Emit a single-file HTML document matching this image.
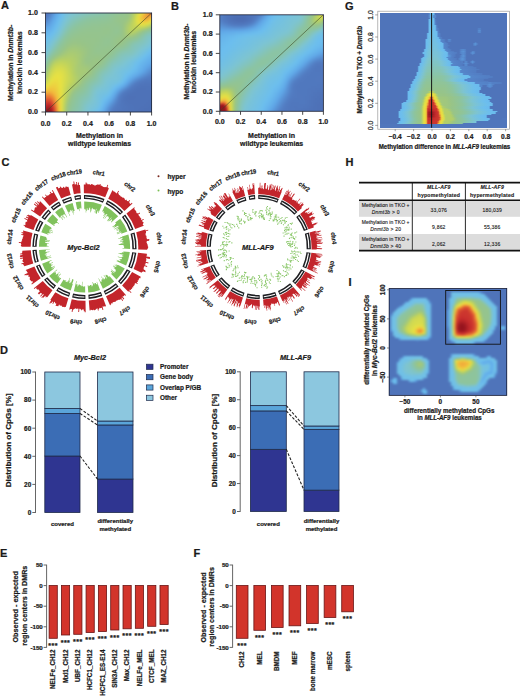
<!DOCTYPE html>
<html><head><meta charset="utf-8"><style>
html,body{margin:0;padding:0;background:#fff}
body{width:520px;height:698px;position:relative;overflow:hidden;font-family:"Liberation Sans",sans-serif}
svg{position:absolute;left:0;top:0}
text{stroke:#1a1a1a;stroke-width:0.22px}
text.t{stroke-width:0.12px;letter-spacing:0.2px}
</style></head><body>
<div style="position:absolute;left:45.50px;top:13.00px;width:106.10px;height:99.00px;overflow:hidden"><div style="position:absolute;left:-3px;top:-3px;width:112.10px;filter:blur(0.90px)"><div style="height:2.00px;background:linear-gradient(90deg,#4f74ba,#4f74ba,#5076bc,#517ac0,#5484c9,#5890d3,#5c9cde,#60a9e8,#65b1ea,#69b8ec,#6dbeed,#72c0e5,#76c1de,#79c2d9,#7bc3d6,#7cc4d3,#7dc4d1,#7ec4ce,#7fc4cc,#80c4c9,#81c4c5,#82c4c2,#83c4bf,#84c4bc,#84c4ba,#85c4b8,#85c4b6,#86c4b4,#87c4b2,#87c4af,#88c4ad,#89c4a9,#8ac4a6,#8bc4a3,#8cc4a0,#8dc49e,#8ec49c,#8fc49a,#90c498,#91c496,#92c494,#93c491,#95c48e,#97c48a,#9bc583,#a4c97a,#afcd6e,#bbd260,#c8d757,#d7dc4d,#e7e243,#ebd440,#efc53e,#f1b03b,#ec8e37,#e76d34,#df5d32,#df5d32)"></div><div style="height:2.00px;background:linear-gradient(90deg,#4f74ba,#4f74ba,#5076bc,#517ac0,#5484c9,#5890d3,#5c9cde,#60a9e8,#65b1ea,#69b8ec,#6dbeed,#72c0e5,#76c1de,#79c2d9,#7bc3d6,#7cc4d3,#7dc4d1,#7ec4ce,#7fc4cc,#80c4c9,#81c4c5,#82c4c2,#83c4bf,#84c4bc,#84c4ba,#85c4b8,#85c4b6,#86c4b4,#87c4b2,#87c4af,#88c4ad,#89c4a9,#8ac4a6,#8bc4a3,#8cc4a0,#8dc49e,#8ec49c,#8fc49a,#90c498,#91c496,#92c494,#93c491,#95c48e,#97c48a,#9bc583,#a4c97a,#afcd6e,#bbd260,#c8d757,#d7dc4d,#e7e243,#ebd440,#efc53e,#f1b03b,#ec8e37,#e76d34,#df5d32,#df5d32)"></div><div style="height:2.00px;background:linear-gradient(90deg,#5076bc,#5076bc,#5178be,#537fc4,#578ace,#5a96d9,#5ea3e3,#62ace9,#67b4eb,#6abbed,#6fbfe9,#74c1e2,#77c2db,#7bc3d6,#7dc4d2,#7ec4cd,#80c4ca,#81c4c6,#82c4c3,#83c4bf,#84c4bc,#85c4b8,#86c4b5,#87c4b2,#87c4af,#88c4ad,#89c4ac,#89c4aa,#8ac4a8,#8ac4a7,#8bc4a5,#8bc4a3,#8cc4a0,#8dc49e,#8ec49c,#8fc49a,#90c497,#92c494,#93c492,#94c490,#94c48f,#95c48e,#96c48c,#97c489,#9bc583,#a5c978,#b3cf69,#c4d55a,#d6db4e,#e8e142,#ecd03f,#f0c13d,#f0ad3b,#ed9838,#ec8c37,#ec8e37,#ed9338,#ed9338)"></div><div style="height:2.00px;background:linear-gradient(90deg,#5179bf,#5179bf,#527bc1,#5585ca,#5991d4,#5c9dde,#60a8e8,#64b0ea,#68b7ec,#6cbeee,#71c0e6,#76c1de,#79c3d8,#7dc4d3,#7fc4cc,#80c4c7,#82c4c2,#83c4be,#84c4bb,#85c4b7,#86c4b3,#87c4af,#88c4ac,#89c4a9,#8ac4a7,#8bc4a5,#8bc4a3,#8cc4a1,#8cc4a0,#8cc49f,#8dc49f,#8dc49e,#8ec49d,#8ec49b,#8fc499,#91c496,#92c493,#93c490,#95c48e,#96c48c,#96c48b,#96c48b,#97c48a,#98c487,#9ec680,#a9ca74,#b8d063,#cad756,#dede49,#ead941,#eec83e,#f2b93c,#efa33a,#ee9838,#ee9d39,#f2b53c,#f0c03d,#f0c03d)"></div><div style="height:2.00px;background:linear-gradient(90deg,#527dc3,#527dc3,#5482c7,#578cd0,#5b97d9,#5ea3e3,#62ace9,#66b3eb,#6abaed,#6ebfea,#73c1e2,#78c2db,#7cc4d4,#7ec4cd,#81c4c6,#82c4c0,#84c4bb,#85c4b7,#86c4b3,#88c4af,#89c4ab,#8ac4a7,#8bc4a4,#8cc4a1,#8cc49f,#8dc49e,#8dc49d,#8ec49c,#8ec49c,#8ec49b,#8fc49b,#8fc49a,#8fc499,#90c498,#91c496,#92c494,#93c491,#94c48f,#95c48c,#96c48a,#97c489,#97c489,#98c487,#9bc583,#a2c87c,#adcc70,#bdd25f,#ced953,#e1e046,#ebd740,#eec83e,#f1bc3c,#f1af3b,#f0ad3b,#f1bb3c,#edcc3f,#ebd740,#ebd740)"></div><div style="height:2.00px;background:linear-gradient(90deg,#5585ca,#5585ca,#5689ce,#5993d6,#5d9ddf,#60a8e8,#64afea,#68b6ec,#6cbdee,#70c0e7,#75c1df,#7ac3d7,#7ec4d0,#80c4c7,#83c4bf,#84c4b9,#86c4b4,#87c4af,#89c4ab,#8ac4a7,#8bc4a3,#8cc4a0,#8dc49e,#8ec49d,#8ec49b,#8fc49a,#8fc499,#8fc499,#90c498,#90c498,#90c497,#90c497,#91c496,#91c495,#92c494,#93c492,#94c490,#95c48e,#96c48c,#96c48a,#97c489,#98c487,#9bc584,#a0c77e,#a7ca76,#b2ce6a,#c0d45c,#d0d952,#e0df47,#eadb41,#edcf3f,#efc63e,#f0c23d,#efc53e,#edcf3f,#e8e242,#dbdd4b,#dbdd4b)"></div><div style="height:2.00px;background:linear-gradient(90deg,#588ed2,#588ed2,#5992d5,#5c9adc,#5fa4e4,#62ace9,#66b2eb,#69b9ed,#6ebfeb,#73c0e3,#78c2db,#7cc4d3,#80c4ca,#82c4c0,#85c4b9,#86c4b2,#88c4ad,#8ac4a8,#8bc4a4,#8cc4a0,#8dc49e,#8ec49c,#8fc49a,#8fc499,#90c498,#90c497,#91c496,#91c496,#91c495,#91c495,#92c494,#92c494,#92c493,#93c492,#93c492,#93c491,#94c490,#94c48f,#95c48d,#96c48b,#97c489,#99c486,#9ec680,#a4c979,#adcc70,#b7d065,#c3d45b,#cfd952,#dcde4a,#e7e243,#eadb41,#ebd640,#ebd640,#eadb41,#e4e145,#d0d952,#c4d55a,#c4d55a)"></div><div style="height:2.00px;background:linear-gradient(90deg,#5b97da,#5b97da,#5c9adc,#5ea1e2,#61a9e8,#64afea,#67b6ec,#6bbcee,#70bfe8,#75c1df,#7ac3d7,#7ec4ce,#81c4c3,#84c4ba,#87c4b2,#89c4ac,#8ac4a6,#8cc4a2,#8dc49e,#8ec49c,#8fc49a,#90c498,#90c497,#91c496,#91c495,#92c494,#92c494,#92c494,#92c493,#92c493,#93c492,#93c491,#93c491,#94c490,#94c490,#94c490,#94c490,#94c490,#94c48f,#95c48d,#97c48a,#9ac585,#a1c77d,#a9ca74,#b1ce6b,#bad161,#c4d55a,#ccd854,#d4db4f,#dadd4b,#dede49,#dfdf48,#dcde4a,#d5db4f,#c9d756,#b8d064,#adcc6f,#adcc6f)"></div><div style="height:2.00px;background:linear-gradient(90deg,#5ea1e2,#5ea1e2,#5ea3e4,#60a9e8,#63ade9,#66b3eb,#69b9ed,#6dbeec,#72c0e4,#77c2db,#7cc4d3,#80c4c8,#83c4bd,#86c4b3,#89c4ab,#8bc4a5,#8cc4a0,#8dc49d,#8fc49a,#90c498,#91c497,#91c495,#92c494,#92c493,#92c493,#93c492,#93c492,#93c492,#93c491,#93c491,#94c490,#94c48f,#94c48f,#94c48e,#94c48f,#94c490,#94c490,#93c491,#94c490,#94c48e,#96c48a,#9bc584,#a3c87b,#accc71,#b5cf67,#bdd25f,#c3d45b,#c7d658,#cad756,#cbd755,#cad756,#c6d658,#c1d45c,#b9d163,#aecd6f,#a0c77e,#99c486,#99c486)"></div><div style="height:2.00px;background:linear-gradient(90deg,#61a9e8,#61a9e8,#61aae9,#63ade9,#65b1eb,#68b6ec,#6bbcee,#6fbfe8,#75c1e0,#7ac3d7,#7ec4cd,#82c4c1,#85c4b6,#88c4ac,#8bc4a5,#8cc49f,#8ec49c,#8fc499,#90c497,#91c495,#92c494,#93c492,#93c492,#93c491,#93c491,#93c490,#93c490,#94c490,#94c490,#94c48f,#94c48f,#95c48e,#95c48d,#95c48d,#95c48e,#94c48f,#93c491,#93c492,#93c492,#94c490,#96c48b,#9bc584,#a4c979,#aecc6f,#b6d065,#bcd25f,#bfd35d,#c0d35c,#bed35e,#bad161,#b5cf67,#aecc6f,#a6c978,#9dc681,#96c48a,#93c491,#91c495,#91c495)"></div><div style="height:2.00px;background:linear-gradient(90deg,#64afea,#64afea,#64afea,#65b2eb,#67b5ec,#6abaed,#6dbeec,#72c0e4,#77c2db,#7cc4d3,#81c4c6,#84c4ba,#88c4af,#8ac4a6,#8dc49f,#8ec49b,#90c498,#91c496,#92c494,#93c492,#93c491,#94c490,#94c490,#94c48f,#94c48f,#94c48f,#94c48f,#94c48f,#94c48f,#94c48f,#95c48e,#95c48d,#95c48d,#95c48d,#95c48e,#94c48f,#93c491,#93c492,#93c492,#94c490,#96c48b,#9bc584,#a4c979,#aecc6f,#b5cf67,#b9d162,#b9d162,#b6d065,#b1ce6c,#a9cb74,#a0c77e,#97c488,#94c490,#91c496,#8ec49c,#8cc4a0,#8bc4a2,#8bc4a2)"></div><div style="height:2.00px;background:linear-gradient(90deg,#66b3eb,#66b3eb,#66b4eb,#68b6ec,#6abaed,#6cbeee,#70c0e7,#75c1df,#7ac3d7,#7fc4cc,#83c4bf,#86c4b3,#8ac4a8,#8cc49f,#8fc49b,#90c497,#91c495,#92c493,#93c491,#94c490,#94c48f,#94c48f,#95c48e,#95c48e,#95c48e,#95c48e,#95c48e,#95c48e,#95c48e,#95c48e,#95c48e,#95c48d,#95c48d,#95c48e,#94c48e,#94c490,#93c491,#93c492,#93c491,#94c48f,#96c48b,#9bc584,#a3c87a,#abcb72,#b0cd6c,#b2ce6a,#b0cd6c,#abcb72,#a3c87b,#99c486,#94c48f,#90c497,#8cc49f,#89c4a9,#87c4b0,#86c4b2,#87c4b2,#87c4b2)"></div><div style="height:2.00px;background:linear-gradient(90deg,#69b8ec,#69b8ec,#69b8ec,#6abaed,#6cbeee,#70bfe8,#74c1e1,#78c2d9,#7dc4d1,#81c4c4,#85c4b7,#89c4ab,#8cc4a1,#8ec49b,#90c497,#92c494,#93c491,#94c490,#94c48f,#95c48e,#95c48d,#95c48d,#95c48d,#95c48d,#95c48d,#95c48d,#95c48d,#95c48d,#95c48e,#95c48e,#95c48e,#95c48e,#94c48e,#94c48f,#94c48f,#94c490,#94c490,#94c490,#94c48f,#95c48d,#97c489,#9bc584,#a1c77d,#a5c978,#a8ca75,#a8ca76,#a4c97a,#9dc681,#97c48a,#93c492,#8fc49a,#8bc4a3,#88c4ae,#85c4b7,#83c4bd,#83c4bf,#83c4be,#83c4be)"></div><div style="height:2.00px;background:linear-gradient(90deg,#6bbced,#6bbced,#6bbced,#6cbeed,#6fbfe9,#73c0e2,#77c2db,#7cc4d4,#80c4c8,#84c4bb,#88c4af,#8bc4a3,#8ec49c,#90c497,#92c493,#94c490,#94c48f,#95c48d,#95c48d,#95c48c,#96c48c,#96c48c,#95c48c,#95c48c,#95c48c,#95c48d,#95c48d,#95c48d,#95c48d,#95c48e,#94c48e,#94c48f,#94c490,#94c490,#94c490,#94c490,#94c48f,#95c48d,#96c48c,#97c48a,#98c487,#9ac584,#9dc682,#9ec681,#9dc681,#9bc584,#97c489,#95c48e,#92c494,#8ec49b,#8bc4a4,#88c4ae,#85c4b8,#82c4c0,#81c4c5,#80c4c8,#80c4c8,#80c4c8)"></div><div style="height:2.00px;background:linear-gradient(90deg,#6dbeed,#6dbeed,#6dbeec,#70bfe8,#73c0e3,#77c2dd,#7bc3d6,#7fc4cb,#83c4bf,#86c4b2,#8ac4a7,#8dc49d,#90c497,#92c493,#94c48f,#95c48d,#96c48c,#96c48b,#96c48b,#96c48b,#96c48b,#96c48b,#96c48c,#96c48c,#96c48c,#96c48c,#96c48c,#95c48c,#95c48d,#95c48e,#94c48f,#93c490,#93c491,#93c492,#93c491,#94c490,#95c48e,#96c48b,#97c489,#98c487,#99c486,#99c486,#98c487,#97c489,#95c48c,#94c490,#92c494,#8fc499,#8dc49e,#8ac4a6,#88c4ae,#85c4b6,#83c4bd,#81c4c4,#7fc4ca,#7ec4ce,#7ec4d0,#7ec4d0)"></div><div style="height:2.00px;background:linear-gradient(90deg,#6fbfea,#6fbfea,#70bfe8,#72c0e3,#76c1de,#7ac3d7,#7ec4ce,#82c4c2,#85c4b6,#89c4aa,#8cc49f,#90c499,#92c493,#94c48f,#96c48c,#97c48a,#97c489,#97c489,#97c489,#97c489,#97c48a,#96c48a,#96c48b,#96c48b,#96c48b,#96c48c,#96c48c,#95c48c,#95c48d,#94c48e,#94c490,#93c491,#93c492,#92c493,#93c492,#94c490,#95c48d,#97c48a,#98c487,#99c585,#99c486,#97c489,#95c48c,#93c491,#91c496,#8fc49a,#8dc49f,#8bc4a4,#89c4aa,#87c4b0,#85c4b6,#84c4bb,#82c4c1,#80c4c7,#7fc4cd,#7cc4d3,#7bc3d5,#7bc3d5)"></div><div style="height:2.00px;background:linear-gradient(90deg,#71c0e7,#71c0e7,#72c0e4,#75c1df,#79c3d9,#7dc4d2,#81c4c6,#84c4ba,#88c4ad,#8bc4a2,#8fc49a,#92c494,#94c48f,#96c48b,#97c489,#98c487,#99c486,#99c486,#98c487,#98c487,#97c488,#97c489,#97c48a,#96c48a,#96c48b,#96c48c,#96c48c,#95c48d,#95c48e,#94c48f,#94c490,#93c492,#93c492,#92c492,#93c491,#94c48f,#95c48c,#97c48a,#98c488,#98c487,#97c489,#95c48d,#93c492,#90c498,#8dc49d,#8bc4a4,#89c4ab,#87c4b0,#86c4b5,#85c4b9,#83c4bc,#82c4c0,#81c4c5,#7fc4cb,#7dc4d1,#7ac3d7,#78c2da,#78c2da)"></div><div style="height:2.00px;background:linear-gradient(90deg,#72c0e4,#72c0e4,#74c1e1,#77c2db,#7cc4d4,#7fc4ca,#83c4be,#87c4b1,#8ac4a5,#8ec49c,#91c495,#94c490,#96c48b,#98c488,#9ac585,#9cc583,#9cc683,#9cc583,#9bc584,#9ac585,#99c486,#98c487,#97c488,#97c489,#96c48a,#96c48b,#95c48c,#95c48d,#94c48e,#94c48f,#94c490,#93c491,#93c491,#93c491,#94c490,#94c48f,#95c48d,#96c48b,#96c48b,#96c48b,#95c48e,#93c492,#90c498,#8dc49d,#8bc4a5,#88c4ad,#86c4b3,#85c4b8,#84c4bc,#83c4bf,#82c4c3,#80c4c6,#7fc4cb,#7dc4d1,#7bc3d6,#77c2dc,#75c1df,#75c1df)"></div><div style="height:2.00px;background:linear-gradient(90deg,#74c1e1,#74c1e1,#76c1de,#7ac3d7,#7ec4ce,#82c4c2,#86c4b5,#89c4a9,#8dc49e,#90c497,#93c491,#96c48c,#98c487,#9cc583,#9ec680,#9fc77f,#9fc77f,#9fc77f,#9ec680,#9dc682,#9bc583,#9ac585,#98c487,#97c488,#97c48a,#96c48b,#95c48d,#95c48e,#94c48f,#94c490,#94c490,#94c490,#94c490,#94c48f,#94c48f,#95c48e,#95c48e,#94c48f,#94c490,#93c492,#91c495,#8fc499,#8dc49e,#8bc4a4,#89c4ab,#87c4b2,#85c4b7,#84c4bc,#82c4c0,#81c4c4,#80c4c9,#7ec4cd,#7dc4d3,#7ac3d7,#77c2dc,#73c1e2,#71c0e5,#71c0e5)"></div><div style="height:2.00px;background:linear-gradient(90deg,#75c1df,#75c1df,#77c2db,#7cc4d3,#80c4c6,#84c4b9,#88c4ad,#8cc4a1,#8fc499,#93c492,#95c48c,#98c488,#9cc682,#a0c77e,#a2c87c,#a3c87b,#a3c87b,#a2c87c,#a1c77d,#9fc77f,#9ec681,#9cc583,#9ac585,#98c487,#97c489,#96c48b,#95c48d,#94c48f,#94c490,#94c490,#94c48f,#94c48e,#95c48e,#95c48d,#95c48d,#94c48f,#93c490,#92c493,#91c496,#8fc499,#8ec49d,#8cc4a0,#8ac4a6,#89c4ab,#87c4b0,#86c4b6,#84c4bb,#83c4bf,#81c4c4,#80c4ca,#7ec4cf,#7cc4d4,#79c3d8,#76c2dd,#73c1e2,#70bfe8,#6ebfeb,#6ebfeb)"></div><div style="height:2.00px;background:linear-gradient(90deg,#77c2dc,#77c2dc,#7ac3d7,#7fc4cc,#83c4bd,#87c4b0,#8bc4a3,#8fc49a,#92c493,#95c48d,#98c488,#9dc682,#a1c77d,#a4c97a,#a5c978,#a6c977,#a6c978,#a5c979,#a3c87b,#a1c87c,#9fc77f,#9dc681,#9bc584,#98c487,#97c489,#96c48b,#95c48d,#94c48e,#94c48f,#94c48f,#95c48e,#95c48d,#95c48c,#95c48c,#95c48d,#94c490,#92c494,#90c498,#8ec49c,#8cc4a1,#8ac4a7,#89c4ab,#88c4af,#87c4b2,#86c4b5,#84c4b9,#83c4be,#82c4c3,#80c4c9,#7ec4cf,#7bc3d5,#79c2d9,#76c1de,#72c0e3,#6fbfe9,#6cbeee,#6bbced,#6bbced)"></div><div style="height:2.00px;background:linear-gradient(90deg,#79c3d8,#79c3d8,#7dc4d3,#82c4c2,#86c4b3,#8bc4a4,#8fc49b,#92c493,#95c48d,#98c487,#9ec681,#a2c87c,#a6c978,#a8ca75,#a9cb74,#a9cb74,#a8ca75,#a7ca76,#a5c978,#a3c87b,#a1c77e,#9ec681,#9bc584,#98c487,#97c489,#96c48b,#95c48c,#95c48d,#95c48e,#95c48e,#95c48d,#95c48c,#96c48c,#95c48d,#94c48f,#92c493,#90c498,#8dc49d,#8bc4a4,#89c4ab,#87c4b1,#86c4b4,#85c4b7,#85c4b9,#84c4bb,#83c4be,#82c4c3,#80c4c8,#7ec4cf,#7bc3d5,#78c2da,#75c1df,#72c0e4,#6fbfea,#6cbdee,#6ab9ed,#69b8ec,#69b8ec)"></div><div style="height:2.00px;background:linear-gradient(90deg,#7cc4d4,#7cc4d4,#7fc4cb,#85c4b7,#8ac4a6,#8fc49a,#93c492,#96c48b,#9ac585,#a0c77e,#a5c979,#a8ca75,#aacb73,#accc71,#accc70,#accc71,#abcb72,#a9cb74,#a7ca77,#a4c97a,#a1c77d,#9dc681,#9ac584,#98c487,#97c489,#97c48a,#96c48b,#96c48b,#96c48b,#96c48b,#96c48c,#96c48c,#95c48d,#94c48f,#92c493,#90c497,#8ec49c,#8bc4a3,#89c4ac,#86c4b3,#85c4b8,#84c4bb,#83c4be,#83c4c0,#82c4c2,#81c4c5,#7fc4ca,#7ec4d0,#7bc3d5,#78c2da,#75c1df,#72c0e5,#6ebfea,#6bbdee,#69b9ed,#67b6ec,#67b4eb,#67b4eb)"></div><div style="height:2.00px;background:linear-gradient(90deg,#7fc4cc,#7fc4cc,#82c4c1,#89c4aa,#8fc49b,#93c491,#97c489,#9ec680,#a4c979,#a9cb74,#accc71,#aecd6e,#afcd6d,#b0cd6d,#b0cd6d,#afcd6e,#adcc70,#abcb72,#a8ca75,#a4c979,#a0c77e,#9dc682,#99c586,#98c488,#97c489,#97c489,#97c489,#97c488,#97c488,#97c489,#96c48a,#95c48d,#94c490,#92c493,#90c498,#8ec49d,#8bc4a3,#89c4ab,#87c4b2,#85c4b9,#83c4bd,#82c4c1,#81c4c4,#80c4c7,#80c4ca,#7ec4ce,#7dc4d3,#7ac3d7,#77c2db,#74c1e0,#71c0e6,#6ebfeb,#6bbdee,#69b9ed,#67b5ec,#66b2eb,#65b1ea,#65b1ea)"></div><div style="height:2.00px;background:linear-gradient(90deg,#81c4c3,#81c4c3,#85c4b6,#8dc49e,#93c491,#98c487,#a2c87c,#a9cb74,#afcd6e,#b2ce6a,#b4cf68,#b4cf67,#b4cf68,#b4cf68,#b3ce6a,#b1ce6b,#afcd6e,#accc71,#a8ca75,#a4c979,#a0c77e,#9cc583,#99c486,#97c488,#97c488,#98c488,#98c487,#99c486,#99c486,#98c487,#96c48a,#94c48e,#92c493,#90c498,#8dc49e,#8bc4a4,#89c4ab,#87c4b2,#85c4b8,#83c4bd,#82c4c2,#81c4c6,#80c4ca,#7ec4cd,#7dc4d2,#7bc3d5,#79c3d9,#76c2dd,#73c1e2,#70c0e7,#6dbfec,#6bbced,#69b8ec,#67b5ec,#65b2eb,#64afea,#63aeea,#63aeea)"></div><div style="height:2.00px;background:linear-gradient(90deg,#85c4b9,#85c4b9,#89c4aa,#91c496,#98c488,#a4c97a,#aecc6f,#b5cf67,#b9d163,#bbd260,#bbd260,#bbd160,#b9d162,#b7d064,#b5cf66,#b3ce69,#b0cd6c,#adcc70,#a9cb74,#a4c979,#a0c77e,#9cc583,#99c486,#98c488,#98c488,#98c487,#9ac585,#9bc584,#9ac584,#98c487,#96c48c,#93c491,#90c497,#8dc49e,#8ac4a6,#88c4ad,#86c4b4,#85c4b9,#83c4be,#82c4c2,#81c4c6,#7fc4ca,#7ec4cf,#7cc4d3,#7ac3d7,#78c2da,#75c1df,#73c0e3,#70bfe8,#6dbeec,#6bbced,#69b8ec,#67b4eb,#65b1eb,#63aeea,#62ace9,#61abe9,#61abe9)"></div><div style="height:2.00px;background:linear-gradient(90deg,#88c4ae,#88c4ae,#8cc49f,#95c48d,#a2c87c,#afcd6d,#b9d163,#bfd35d,#c2d45b,#c3d55a,#c3d45b,#c1d45c,#bed35e,#bbd260,#b8d064,#b4cf68,#b1ce6c,#adcc70,#a9cb74,#a4c979,#a0c77e,#9dc682,#9ac585,#99c486,#99c486,#99c585,#9ac584,#9ac584,#99c486,#97c48a,#94c48f,#91c495,#8ec49c,#8bc4a5,#88c4ae,#86c4b5,#84c4bb,#83c4c0,#81c4c4,#80c4c7,#7fc4cb,#7ec4d0,#7cc4d4,#7ac3d7,#78c2db,#75c1df,#73c0e3,#70bfe8,#6dbeec,#6bbced,#69b8ec,#67b4eb,#65b1ea,#63aeea,#61abe9,#60a8e8,#5fa6e7,#5fa6e7)"></div><div style="height:2.00px;background:linear-gradient(90deg,#8bc4a2,#8bc4a2,#90c498,#9ac585,#accc71,#b9d162,#c2d45b,#c8d657,#cad755,#cbd755,#c9d756,#c6d658,#c3d45b,#bed35d,#bad161,#b5cf66,#b1ce6b,#adcc70,#a9ca75,#a5c979,#a2c87c,#9fc77f,#9dc681,#9cc583,#9bc584,#9ac585,#99c486,#98c488,#96c48a,#94c48e,#92c494,#8fc49a,#8bc4a2,#88c4ac,#86c4b5,#84c4bc,#82c4c2,#81c4c6,#7fc4ca,#7ec4cd,#7dc4d1,#7cc4d4,#7ac3d7,#78c2da,#76c1de,#73c1e2,#71c0e6,#6ebfeb,#6bbdee,#69b9ed,#67b5ec,#65b1eb,#63aeea,#61aae9,#5fa6e7,#5ea2e2,#5da0e1,#5da0e1)"></div><div style="height:2.00px;background:linear-gradient(90deg,#8fc49a,#8fc49a,#94c490,#a3c87b,#b4cf67,#c1d45c,#cad756,#cfd952,#d2da51,#d2da51,#d0d952,#ccd855,#c7d658,#c2d45b,#bcd25f,#b6d065,#b1ce6b,#accc71,#a8ca75,#a6c978,#a4c97a,#a2c87c,#a1c77d,#9fc77f,#9dc681,#9ac585,#97c488,#96c48c,#94c490,#91c495,#8fc49a,#8cc4a1,#89c4aa,#86c4b3,#84c4bb,#82c4c1,#80c4c7,#7fc4cc,#7ec4d0,#7cc4d3,#7bc3d6,#79c3d8,#78c2db,#76c1de,#74c1e1,#72c0e5,#6fbfe9,#6cbeee,#6abaed,#68b6ec,#66b2eb,#63aeea,#61aae9,#5fa6e6,#5da0e1,#5c9bdc,#5b98da,#5b98da)"></div><div style="height:2.00px;background:linear-gradient(90deg,#92c493,#92c493,#97c489,#abcc71,#bcd25f,#c9d757,#d1da51,#d6dc4e,#d8dc4c,#d8dc4d,#d5db4f,#d0d951,#cbd755,#c5d559,#bed35e,#b7d064,#b1ce6b,#accc71,#a8ca75,#a6ca77,#a5c978,#a5c979,#a4c97a,#a2c87c,#9ec680,#99c486,#96c48b,#93c490,#91c496,#8ec49c,#8bc4a2,#89c4aa,#87c4b2,#85c4b9,#82c4c0,#81c4c6,#7fc4cc,#7dc4d1,#7cc3d4,#7ac3d7,#78c2da,#77c2dc,#75c1df,#74c1e1,#72c0e4,#70bfe8,#6dbeec,#6bbced,#69b8ec,#66b4eb,#64b0ea,#62abe9,#5fa6e6,#5d9fe1,#5b99db,#5993d6,#5991d4,#5991d4)"></div><div style="height:2.00px;background:linear-gradient(90deg,#96c48c,#96c48c,#9ec680,#b3cf69,#c4d55a,#cfd952,#d7dc4d,#dcde4a,#ddde49,#dcde4a,#d9dd4c,#d4db4f,#ced953,#c7d658,#c0d35d,#b8d163,#b2ce6b,#accc71,#a9ca74,#a7ca76,#a7ca77,#a6ca77,#a5c978,#a3c87b,#9ec681,#97c488,#94c48f,#91c496,#8ec49c,#8bc4a4,#88c4ac,#86c4b3,#84c4b9,#83c4bf,#81c4c4,#7fc4ca,#7ec4cf,#7cc4d4,#7ac3d7,#78c2da,#76c2dd,#75c1e0,#73c1e2,#72c0e5,#70bfe8,#6dbeec,#6bbcee,#69b9ed,#67b5eb,#64b0ea,#62ace9,#60a7e7,#5da0e1,#5b99db,#5992d5,#578cd0,#568ace,#568ace)"></div><div style="height:2.00px;background:linear-gradient(90deg,#9ac584,#9ac584,#a6c977,#bbd260,#cad756,#d6db4e,#ddde49,#e1df47,#e2e046,#e0df47,#dcde4a,#d7dc4d,#d0d952,#c9d756,#c1d45b,#bad161,#b3ce69,#adcc6f,#a9cb74,#a8ca76,#a7ca77,#a6c978,#a4c97a,#a0c77e,#9ac584,#96c48b,#92c493,#8fc49a,#8bc4a3,#88c4ac,#86c4b4,#84c4ba,#83c4c0,#81c4c4,#80c4c9,#7ec4ce,#7dc4d2,#7bc3d6,#79c3d9,#77c2dc,#75c1df,#73c1e2,#71c0e6,#6fbfe9,#6dbeed,#6bbbed,#69b8ec,#66b4eb,#64afea,#62abe9,#5fa6e6,#5d9fe0,#5b98da,#5991d4,#578bcf,#5585ca,#5483c8,#5483c8)"></div><div style="height:2.00px;background:linear-gradient(90deg,#a2c87c,#a2c87c,#aecc6f,#c2d45b,#d1da51,#dbdd4a,#e2e046,#e5e144,#e5e144,#e3e045,#dfdf48,#d9dc4c,#d2da51,#cbd755,#c3d55a,#bcd25f,#b5cf67,#afcd6d,#abcb72,#a7ca76,#a5c978,#a3c87b,#a0c77f,#9bc584,#97c48a,#94c490,#90c497,#8dc49f,#89c4a9,#87c4b2,#84c4ba,#82c4c0,#81c4c5,#80c4ca,#7ec4cd,#7dc4d1,#7cc4d4,#7ac3d7,#79c2d9,#77c2dd,#74c1e0,#72c0e4,#6fbfe9,#6cbeee,#6abaed,#67b6ec,#65b1eb,#63ade9,#60a9e8,#5ea2e3,#5c9bdd,#5a95d7,#588fd2,#5689cd,#5484c9,#537fc5,#527dc3,#527dc3)"></div><div style="height:2.00px;background:linear-gradient(90deg,#aacb73,#aacb73,#b5cf66,#c9d757,#d7dc4d,#e1df47,#e6e143,#e8e142,#e8e242,#e5e144,#e0df48,#d9dd4c,#d2da50,#cbd855,#c4d55a,#bdd35e,#b7d065,#b1ce6b,#abcc71,#a7ca77,#a2c87b,#9ec680,#99c486,#96c48b,#94c490,#91c496,#8ec49c,#8bc4a4,#88c4ad,#85c4b6,#83c4be,#81c4c4,#7fc4ca,#7ec4ce,#7dc4d2,#7cc4d4,#7bc3d6,#7ac3d7,#78c2da,#76c2dd,#74c1e1,#70c0e7,#6dbeed,#6abaed,#67b4eb,#64afea,#61aae8,#5fa3e4,#5c9cde,#5a96d8,#5890d3,#568ace,#5585ca,#5381c6,#527dc3,#527bc1,#517ac0,#517ac0)"></div><div style="height:2.00px;background:linear-gradient(90deg,#b3ce6a,#b3ce6a,#bed35e,#d0d952,#dede49,#e6e143,#e9df42,#e9de41,#e8e042,#e6e143,#e0df47,#d9dd4c,#d2da50,#cbd855,#c5d559,#bed35e,#b8d063,#b2ce6a,#abcc71,#a5c978,#9fc780,#98c487,#96c48c,#93c491,#91c497,#8ec49c,#8cc4a1,#89c4a9,#87c4b1,#85c4b9,#82c4c0,#80c4c8,#7ec4ce,#7dc4d3,#7bc3d5,#7ac3d6,#7ac3d8,#79c3d9,#78c2db,#76c1de,#72c0e3,#6ebfea,#6abbed,#67b4eb,#63aeea,#60a7e7,#5d9edf,#5a96d9,#588fd3,#5689cd,#5484c9,#537fc5,#527cc2,#517bc1,#517ac0,#5179bf,#5178be,#5178be)"></div><div style="height:2.00px;background:linear-gradient(90deg,#bdd25e,#bdd25e,#c7d658,#d9dc4c,#e5e144,#e9de41,#eadb41,#eadc41,#e9df42,#e6e143,#e0df47,#d8dc4c,#d1da51,#cad756,#c4d55a,#bed35e,#b8d064,#b1ce6b,#aacb73,#a2c87c,#9ac585,#96c48c,#93c492,#90c498,#8dc49d,#8bc4a3,#89c4a9,#87c4af,#86c4b5,#84c4bc,#81c4c3,#7fc4cb,#7dc4d1,#7bc3d5,#7ac3d8,#79c2d9,#78c2da,#77c2dc,#76c1de,#74c1e2,#70bfe7,#6bbdee,#67b6ec,#63aeea,#5fa6e6,#5c9bdd,#5991d4,#5689ce,#5483c8,#527dc3,#517bc1,#5179bf,#5078be,#5077bd,#5077bd,#5077bd,#5077bd,#5077bd)"></div><div style="height:2.00px;background:linear-gradient(90deg,#cad756,#cad756,#d3da50,#e2e046,#e9de41,#ead941,#ebd740,#ead941,#e9dd41,#e7e243,#dfdf48,#d7dc4d,#cfd952,#c8d657,#c1d45c,#bbd260,#b5cf67,#aecc6f,#a6c977,#9ec681,#97c48a,#93c491,#90c498,#8dc49e,#8bc4a4,#89c4ab,#87c4b0,#86c4b5,#84c4bb,#82c4c1,#80c4c7,#7ec4ce,#7cc4d4,#7ac3d7,#78c2da,#77c2dc,#76c1de,#74c1e0,#72c0e3,#70bfe8,#6cbdee,#68b7ec,#64afea,#5fa6e7,#5c9adc,#588fd2,#5586cb,#537ec4,#517ac0,#5178be,#5077bd,#5076bc,#4f75bb,#4f75bb,#4f75bb,#4f75bb,#4f76bc,#4f76bc)"></div><div style="height:2.00px;background:linear-gradient(90deg,#d9dc4c,#d9dc4c,#e0df47,#e9dd41,#ebd640,#ecd340,#ecd340,#ebd640,#eadc41,#e7e242,#dfdf48,#d6db4e,#cdd854,#c5d559,#bdd25e,#b6d066,#afcd6d,#a8ca75,#a0c77e,#98c487,#95c48e,#91c495,#8ec49c,#8bc4a3,#89c4ab,#87c4b1,#85c4b7,#83c4bd,#82c4c2,#80c4c7,#7fc4cc,#7dc4d2,#7bc3d5,#79c3d9,#77c2dc,#75c1df,#73c0e3,#70c0e7,#6dbeec,#6abbed,#67b5ec,#63aeea,#5fa6e6,#5b9adc,#588ed2,#5584c9,#527cc2,#5179bf,#5077bd,#4f75bb,#4f74ba,#4f74ba,#4f74ba,#4f74ba,#4f74ba,#4f74ba,#4f75bb,#4f75bb)"></div><div style="height:2.00px;background:linear-gradient(90deg,#e8e142,#e8e142,#eadb41,#ecd240,#edce3f,#edcd3f,#edcf3f,#ecd340,#eada41,#e8e242,#dede49,#d4db4f,#cad756,#c0d45c,#b8d064,#b0cd6d,#a8ca75,#a0c77e,#98c486,#95c48d,#92c493,#8fc499,#8cc49f,#8ac4a7,#87c4af,#85c4b7,#83c4be,#81c4c4,#80c4c9,#7ec4ce,#7dc4d2,#7bc3d5,#7ac3d8,#78c2db,#75c1df,#73c0e3,#6fbfe9,#6cbdee,#69b8ec,#65b2eb,#62abe9,#5ea2e3,#5b97d9,#578dd0,#5483c8,#527bc1,#5179bf,#5076bc,#4f75bb,#4f74ba,#4e73b9,#4e73b9,#4e73b9,#4e73b9,#4e73b9,#4f74ba,#4f74ba,#4f74ba)"></div><div style="height:2.00px;background:linear-gradient(90deg,#ecd140,#ecd140,#edcd3f,#efc73e,#efc53e,#efc63e,#eeca3e,#ecd03f,#ead841,#e8e242,#ddde49,#d2da51,#c6d658,#bcd25f,#b2ce6b,#a8ca75,#a0c77e,#98c487,#95c48d,#92c493,#90c498,#8ec49d,#8bc4a3,#89c4ab,#86c4b3,#84c4bb,#81c4c3,#7fc4cb,#7dc4d1,#7cc4d4,#7bc3d6,#79c3d8,#78c2da,#76c2dd,#74c1e1,#70bfe7,#6cbdee,#68b6ec,#64afea,#60a8e8,#5c9dde,#5992d5,#5689cd,#5380c6,#517bc1,#5078be,#5076bc,#4f74ba,#4e73b9,#4e73b9,#4e72b8,#4e72b8,#4e72b8,#4e73b9,#4e73b9,#4e73b9,#4e73b9,#4e73b9)"></div><div style="height:2.00px;background:linear-gradient(90deg,#f0c23d,#f0c23d,#f1bf3d,#f1bb3c,#f1bb3c,#f1bf3d,#efc53e,#edcd3f,#ebd640,#e8e142,#dcde4a,#cfd952,#c3d45b,#b6d065,#abcb72,#a1c77d,#98c487,#95c48e,#92c493,#90c498,#8ec49c,#8cc4a0,#8ac4a7,#88c4ae,#85c4b6,#83c4bf,#80c4c8,#7dc4d0,#7bc3d5,#79c3d8,#78c2da,#77c2db,#76c2dd,#75c1e0,#71c0e5,#6dbeed,#69b8ec,#64afea,#5fa6e6,#5b99db,#588ed1,#5584c9,#527cc2,#5179bf,#5077bd,#4f75bb,#4f74ba,#4e73b9,#4e72b8,#4e72b8,#4e72b8,#4e72b8,#4e72b8,#4e72b8,#4e72b8,#4e72b8,#4e72b8,#4e72b8)"></div><div style="height:2.00px;background:linear-gradient(90deg,#f0ad3b,#f0ad3b,#f0a83a,#efa43a,#f0a93a,#f1b43b,#f1bf3d,#eec83e,#ebd440,#e8e142,#dbdd4b,#cdd854,#bed35d,#b1ce6b,#a5c979,#9ac585,#95c48d,#92c493,#8fc499,#8ec49d,#8cc4a0,#8ac4a5,#89c4ab,#87c4b1,#84c4b9,#82c4c3,#7fc4cc,#7cc4d4,#79c3d8,#77c2db,#76c2dd,#75c1df,#74c1e1,#72c0e4,#6fbfea,#6abaed,#65b2eb,#60a9e8,#5c9adc,#578dd0,#5481c7,#517ac0,#5078be,#4f75bb,#4f74ba,#4e73b9,#4e72b8,#4e72b8,#4e72b8,#4e72b8,#4e72b8,#4e72b8,#4e72b8,#4e72b8,#4e72b8,#4e72b8,#4e72b8,#4e72b8)"></div><div style="height:2.00px;background:linear-gradient(90deg,#ed9238,#ed9238,#ec8e37,#ec8c37,#ed9338,#efa239,#f2b73c,#efc43e,#ecd140,#e8e042,#dadd4b,#cad756,#bad161,#accc71,#9fc77f,#96c48a,#93c492,#90c498,#8dc49d,#8cc4a1,#8ac4a6,#89c4ab,#87c4af,#86c4b5,#83c4bd,#81c4c6,#7ec4cf,#7bc3d6,#78c2da,#76c1de,#74c1e0,#73c0e2,#71c0e5,#6fbfe9,#6bbcee,#67b5ec,#62ace9,#5da0e1,#5991d4,#5483c8,#517bc1,#5077bd,#4f75bb,#4e73b9,#4e72b8,#4e72b8,#4e72b8,#4e72b8,#4e72b8,#4e72b8,#4e72b8,#4e72b8,#4e72b8,#4e72b8,#4e72b8,#4e72b8,#4e71b7,#4e71b7)"></div><div style="height:2.00px;background:linear-gradient(90deg,#e97b35,#e97b35,#e97635,#e97434,#ea7d35,#ec8f37,#f0a83a,#f1bf3d,#edcf3f,#e9df42,#d8dc4c,#c7d658,#b6d066,#a7ca77,#9ac585,#95c48e,#91c495,#8ec49b,#8cc4a0,#8ac4a6,#89c4ab,#87c4af,#86c4b4,#84c4ba,#82c4c1,#80c4c9,#7dc4d1,#7ac3d7,#77c2db,#75c1df,#73c0e3,#71c0e6,#6ebfea,#6bbdee,#68b7ec,#64afea,#5fa6e6,#5b97da,#5689ce,#527dc3,#5078be,#4f75bb,#4e73b9,#4e72b8,#4e71b7,#4e71b7,#4e71b7,#4e71b7,#4e72b8,#4e72b8,#4e72b8,#4e72b8,#4e72b8,#4e72b8,#4e72b8,#4e71b7,#4e71b7,#4e71b7)"></div><div style="height:2.00px;background:linear-gradient(90deg,#e36633,#e36633,#e05f32,#df5d32,#e46733,#ea7c35,#ee9838,#f2ba3c,#edcc3f,#e9df42,#d7dc4d,#c4d55a,#b1ce6b,#a2c87c,#97c489,#93c492,#90c498,#8dc49e,#8bc4a4,#89c4aa,#87c4af,#86c4b4,#84c4b9,#83c4bf,#81c4c5,#7fc4cc,#7dc4d3,#7ac3d7,#77c2dc,#74c1e1,#71c0e5,#6ebfea,#6bbcee,#68b7ec,#65b1ea,#61a9e8,#5d9ddf,#5890d3,#5483c8,#517bc1,#5077bd,#4f74ba,#4e73b9,#4e72b8,#4e71b7,#4e71b7,#4e71b7,#4e72b8,#4e72b8,#4e72b8,#4e72b8,#4e72b8,#4e72b8,#4e72b8,#4e72b8,#4e71b7,#4d70b6,#4d70b6)"></div><div style="height:2.00px;background:linear-gradient(90deg,#da5331,#da5331,#d64b30,#d44630,#d95131,#e46933,#eb8937,#f1b03b,#eec93e,#e9de41,#d6db4e,#c1d45c,#adcc6f,#9dc681,#95c48d,#91c495,#8fc49b,#8cc4a0,#8ac4a6,#88c4ad,#86c4b3,#85c4b8,#83c4be,#81c4c4,#80c4c9,#7ec4cf,#7cc4d4,#79c3d8,#76c2dd,#73c1e2,#70bfe8,#6cbdee,#69b8ec,#65b1eb,#61abe9,#5ea1e2,#5a95d7,#5689ce,#537fc5,#5179bf,#5076bc,#4f74ba,#4e73b9,#4e72b8,#4e72b8,#4e72b8,#4e72b8,#4e72b8,#4e72b8,#4e72b8,#4e72b8,#4e72b8,#4e72b8,#4e72b8,#4e71b7,#4d71b7,#4d70b6,#4d70b6)"></div><div style="height:2.00px;background:linear-gradient(90deg,#d2422f,#d2422f,#cd382e,#ca322e,#d03d2f,#dc5631,#e97a35,#efa63a,#efc63e,#e9dd41,#d5db4f,#bed35e,#a9cb74,#99c486,#94c490,#90c497,#8ec49d,#8bc4a2,#8ac4a8,#88c4af,#85c4b6,#83c4bc,#82c4c3,#80c4c8,#7ec4cd,#7dc4d2,#7bc3d5,#79c2d9,#76c1de,#72c0e4,#6ebfeb,#6abaed,#66b3eb,#62ace9,#5ea2e3,#5b97da,#578dd1,#5484c9,#527cc2,#5179bf,#5076bc,#4f75bb,#4f73b9,#4e73b9,#4e72b8,#4e72b8,#4e72b8,#4e72b8,#4e72b8,#4e72b8,#4e72b8,#4e72b8,#4e72b8,#4e71b7,#4e71b7,#4d70b6,#4d70b6,#4d70b6)"></div><div style="height:2.00px;background:linear-gradient(90deg,#cb332e,#cb332e,#c22a2b,#b92629,#c52b2c,#d44530,#e76d34,#ee9c39,#efc43e,#e9dc41,#d4db4f,#bbd260,#a6c978,#97c489,#92c493,#8fc49a,#8dc49e,#8bc4a4,#89c4aa,#87c4b1,#85c4b8,#82c4c0,#80c4c7,#7fc4cd,#7dc4d2,#7cc3d4,#7ac3d7,#78c2db,#75c1e0,#71c0e6,#6cbeee,#68b6ec,#63aeea,#5fa5e5,#5b99db,#588fd2,#5586cb,#537ec4,#517ac0,#5078be,#5076bc,#4f75bb,#4f74ba,#4f73b9,#4e73b9,#4e73b9,#4e72b8,#4e72b8,#4e72b8,#4e72b8,#4e72b8,#4e72b8,#4e71b7,#4e71b7,#4d71b7,#4d70b6,#4d70b6,#4d70b6)"></div><div style="height:2.00px;background:linear-gradient(90deg,#be282a,#be282a,#b12226,#a81d23,#b42327,#cd362e,#e16132,#ed9438,#f0c13d,#eadc41,#d3da50,#b9d162,#a3c87b,#96c48c,#91c495,#8ec49c,#8cc4a0,#8ac4a6,#88c4ac,#86c4b3,#84c4bb,#82c4c3,#7fc4ca,#7dc4d1,#7cc4d4,#7ac3d7,#78c2da,#76c2dd,#73c0e2,#6fbfea,#6abaed,#65b2eb,#61a9e8,#5c9dde,#5991d4,#5687cc,#5380c5,#527bc1,#5179bf,#5078be,#5076bc,#4f75bb,#4f75bb,#4f74ba,#4f73b9,#4e73b9,#4e73b9,#4e72b8,#4e72b8,#4e72b8,#4e71b7,#4e71b7,#4e71b7,#4d71b7,#4d70b6,#4d70b6,#4d70b6,#4d70b6)"></div><div style="height:2.00px;background:linear-gradient(90deg,#af2025,#af2025,#a11a21,#98151f,#a51c23,#c52c2c,#dc5731,#ec8d37,#f0c03d,#eadb41,#d2da50,#b8d064,#a1c77e,#95c48e,#90c497,#8dc49e,#8bc4a3,#8ac4a8,#88c4ae,#86c4b5,#83c4bd,#81c4c5,#7fc4cd,#7cc4d3,#7ac3d7,#78c2da,#76c2dd,#74c1e1,#70c0e7,#6cbeee,#68b6ec,#63ade9,#5ea3e4,#5a96d8,#578ace,#5481c7,#527bc1,#5179bf,#5078be,#5077bd,#5076bc,#4f75bb,#4f74ba,#4f74ba,#4f73b9,#4e73b9,#4e73b9,#4e72b8,#4e72b8,#4e71b7,#4e71b7,#4d71b7,#4d70b6,#4d70b6,#4d70b6,#4d70b6,#4d70b6,#4d70b6)"></div><div style="height:2.00px;background:linear-gradient(90deg,#9f1821,#9f1821,#96141e,#96141e,#9a161f,#bc2729,#d95031,#eb8837,#f1be3d,#eadb41,#d2da50,#b7d065,#9fc77f,#94c490,#8fc499,#8cc4a0,#8ac4a6,#89c4ab,#87c4b1,#85c4b7,#83c4be,#80c4c6,#7ec4ce,#7bc3d5,#79c3d9,#76c2dd,#74c1e2,#70c0e7,#6dbeed,#69b8ec,#65b1ea,#60a9e8,#5c9cde,#5890d3,#5585ca,#527dc3,#517ac0,#5078be,#5076bc,#4f75bb,#4f75bb,#4f74ba,#4f74ba,#4e73b9,#4e73b9,#4e72b8,#4e72b8,#4e72b8,#4e71b7,#4e71b7,#4d70b6,#4d70b6,#4d70b6,#4d70b6,#4d70b6,#4d70b6,#4d70b6,#4d70b6)"></div><div style="height:2.00px;background:linear-gradient(90deg,#96141e,#96141e,#96141e,#96141e,#96141e,#b92528,#d84e30,#eb8737,#f1be3d,#eada41,#d2da50,#b6d065,#9ec680,#94c490,#8fc49a,#8cc4a1,#8ac4a8,#88c4ad,#87c4b2,#85c4b8,#83c4bf,#80c4c7,#7ec4cf,#7bc3d5,#78c2da,#75c1df,#72c0e4,#6ebfea,#6bbced,#67b5ec,#63aeea,#5fa5e6,#5b99db,#588ed1,#5484c9,#527cc2,#5179bf,#5077bd,#4f75bb,#4f74ba,#4f73b9,#4e73b9,#4e73b9,#4e72b8,#4e72b8,#4e72b8,#4e72b8,#4e71b7,#4e71b7,#4d70b6,#4d70b6,#4d70b6,#4d70b6,#4d6fb5,#4d70b6,#4d70b6,#4d70b6,#4d70b6)"></div><div style="height:2.00px;background:linear-gradient(90deg,#96141e,#96141e,#96141e,#96141e,#96141e,#b92528,#d84e30,#eb8737,#f1be3d,#eada41,#d2da50,#b6d065,#9ec680,#94c490,#8fc49a,#8cc4a1,#8ac4a8,#88c4ad,#87c4b2,#85c4b8,#83c4bf,#80c4c7,#7ec4cf,#7bc3d5,#78c2da,#75c1df,#72c0e4,#6ebfea,#6bbced,#67b5ec,#63aeea,#5fa5e6,#5b99db,#588ed1,#5484c9,#527cc2,#5179bf,#5077bd,#4f75bb,#4f74ba,#4f73b9,#4e73b9,#4e73b9,#4e72b8,#4e72b8,#4e72b8,#4e72b8,#4e71b7,#4e71b7,#4d70b6,#4d70b6,#4d70b6,#4d70b6,#4d6fb5,#4d70b6,#4d70b6,#4d70b6,#4d70b6)"></div></div></div>
<div style="position:absolute;left:219.80px;top:14.80px;width:103.60px;height:96.50px;overflow:hidden"><div style="position:absolute;left:-3px;top:-3px;width:109.60px;filter:blur(0.90px)"><div style="height:2.00px;background:linear-gradient(90deg,#5585ca,#5585ca,#5481c6,#527bc1,#5179bf,#5077bd,#4f75bb,#4f74ba,#4e73b9,#4e72b8,#4e72b8,#4e72b8,#4e72b8,#4e73b9,#4e73b9,#4f74ba,#4f75bb,#5076bc,#5077bd,#5078be,#517ac0,#527cc2,#5482c7,#578bcf,#5a97d9,#5ea3e3,#62ace9,#66b3eb,#69b8ec,#6bbcee,#6dbeed,#6ebfea,#70bfe8,#71c0e6,#72c0e5,#73c0e3,#74c1e1,#75c1df,#77c2dc,#78c2da,#7ac3d7,#7cc4d4,#7ec4cf,#80c4c8,#83c4bf,#86c4b5,#89c4a9,#8ec49c,#93c492,#9ac585,#accc71,#c0d45c,#d7dc4d,#eada41,#edcd3f,#edcd3f)"></div><div style="height:2.00px;background:linear-gradient(90deg,#5585ca,#5585ca,#5481c6,#527bc1,#5179bf,#5077bd,#4f75bb,#4f74ba,#4e73b9,#4e72b8,#4e72b8,#4e72b8,#4e72b8,#4e73b9,#4e73b9,#4f74ba,#4f75bb,#5076bc,#5077bd,#5078be,#517ac0,#527cc2,#5482c7,#578bcf,#5a97d9,#5ea3e3,#62ace9,#66b3eb,#69b8ec,#6bbcee,#6dbeed,#6ebfea,#70bfe8,#71c0e6,#72c0e5,#73c0e3,#74c1e1,#75c1df,#77c2dc,#78c2da,#7ac3d7,#7cc4d4,#7ec4cf,#80c4c8,#83c4bf,#86c4b5,#89c4a9,#8ec49c,#93c492,#9ac585,#accc71,#c0d45c,#d7dc4d,#eada41,#edcd3f,#edcd3f)"></div><div style="height:2.00px;background:linear-gradient(90deg,#5482c7,#5482c7,#537ec4,#517ac0,#5077bd,#4f75bb,#4e73b9,#4e71b7,#4d6fb5,#4c6eb4,#4c6db3,#4c6db3,#4c6db3,#4c6db3,#4c6eb4,#4d6fb5,#4e71b7,#4e73b9,#4f75bb,#5078be,#527bc1,#5482c7,#578bcf,#5a96d8,#5ea1e2,#61abe9,#65b1eb,#68b7ec,#6bbced,#6dbeec,#6fbfe9,#70c0e7,#71c0e5,#73c0e3,#74c1e1,#75c1df,#76c2dd,#78c2db,#79c2d9,#79c3d8,#7ac3d7,#7cc3d4,#7dc4d1,#80c4c8,#83c4bd,#88c4af,#8dc49f,#92c493,#98c487,#a8ca75,#b7d065,#c5d559,#d0d952,#dadd4b,#dede49,#dede49)"></div><div style="height:2.00px;background:linear-gradient(90deg,#5482c7,#5482c7,#537ec4,#517ac0,#5078be,#4f75bb,#4e73b9,#4d71b7,#4d6fb5,#4c6db3,#4c6cb2,#4b6cb2,#4b6cb2,#4c6cb2,#4c6db3,#4d6eb4,#4d70b6,#4e73b9,#5076bc,#517ac0,#5380c6,#568ace,#5a94d7,#5d9fe0,#61a9e8,#64b0ea,#67b6ec,#6abbed,#6dbeed,#6fbfe9,#71c0e6,#72c0e4,#73c0e3,#74c1e1,#75c1df,#77c2dc,#78c2da,#79c3d8,#7ac3d7,#7bc3d6,#7bc3d5,#7cc4d3,#7ec4ce,#81c4c6,#85c4b9,#89c4a9,#8fc49a,#95c48d,#9fc77f,#adcc6f,#b9d163,#c1d45c,#c5d559,#c3d55a,#c0d35c,#c0d35c)"></div><div style="height:2.00px;background:linear-gradient(90deg,#5584c9,#5584c9,#5481c7,#527cc2,#517ac0,#5077bd,#4f75bb,#4e73b9,#4e71b7,#4d70b6,#4d6fb5,#4c6eb4,#4c6eb4,#4c6eb4,#4d6fb5,#4d71b7,#4e73b9,#4f76bc,#5179bf,#537fc4,#5689cd,#5993d6,#5d9edf,#60a8e8,#63aeea,#67b4eb,#69b9ed,#6cbeee,#6fbfea,#71c0e7,#72c0e4,#73c1e2,#74c1e1,#75c1df,#76c2dd,#78c2db,#79c3d8,#7ac3d7,#7bc3d5,#7cc4d4,#7dc4d2,#7ec4cf,#80c4c9,#82c4c0,#86c4b3,#8bc4a3,#91c497,#96c48b,#a0c77e,#accc71,#b3cf68,#b7d065,#b5cf67,#accc71,#a4c979,#a4c979)"></div><div style="height:2.00px;background:linear-gradient(90deg,#5689cd,#5689cd,#5587cb,#5482c7,#537ec4,#527bc1,#5179bf,#5077bd,#4f76bc,#4f74ba,#4f73b9,#4e73b9,#4e73b9,#4e73b9,#4f74ba,#4f76bc,#5078be,#517bc1,#5380c6,#5689cd,#5993d6,#5c9dde,#60a7e7,#63ade9,#66b3eb,#69b8ec,#6bbcee,#6ebfeb,#70bfe7,#72c0e4,#73c1e2,#74c1e0,#75c1df,#76c2dd,#77c2db,#79c2d9,#7ac3d7,#7bc3d5,#7cc4d3,#7dc4d1,#7ec4cd,#80c4c8,#82c4c2,#85c4b8,#88c4ac,#8dc49f,#91c495,#96c48c,#9cc682,#a4c979,#a8ca75,#a8ca75,#a2c87c,#97c48a,#93c491,#93c491)"></div><div style="height:2.00px;background:linear-gradient(90deg,#588fd2,#588fd2,#588dd1,#578ace,#5587cb,#5484c9,#5380c6,#527dc3,#527bc1,#517ac0,#517ac0,#5179bf,#5179bf,#517ac0,#527bc1,#527dc2,#5481c6,#5587cb,#588ed1,#5a96d8,#5d9edf,#60a7e7,#63ade9,#65b2eb,#68b7ec,#6bbbed,#6dbeed,#6fbfe8,#71c0e5,#73c0e2,#74c1e0,#75c1df,#76c2dd,#77c2dc,#78c2da,#79c3d8,#7ac3d6,#7cc4d4,#7dc4d1,#7fc4cc,#80c4c7,#82c4c1,#84c4b9,#87c4b0,#8ac4a6,#8ec49c,#91c495,#94c48f,#97c48a,#99c486,#99c486,#97c489,#94c490,#8ec49b,#8bc4a5,#8bc4a5)"></div><div style="height:2.00px;background:linear-gradient(90deg,#5a96d8,#5a96d8,#5a95d8,#5993d6,#5991d4,#588fd3,#578dd1,#578bcf,#5689ce,#5688cc,#5687cc,#5587cb,#5687cc,#5689cd,#578bcf,#588ed1,#5992d5,#5a97d9,#5c9cde,#5ea3e4,#61a9e8,#63aeea,#66b2eb,#68b7ec,#6abbed,#6cbeee,#6fbfea,#71c0e6,#73c0e3,#74c1e1,#75c1df,#76c2dd,#77c2dc,#78c2da,#79c3d9,#7ac3d7,#7bc3d5,#7dc4d3,#7ec4ce,#80c4c8,#82c4c1,#85c4b9,#87c4b0,#8ac4a8,#8cc4a0,#8ec49b,#90c497,#92c494,#93c492,#93c492,#92c494,#8fc499,#8cc4a1,#87c4b2,#83c4bd,#83c4bd)"></div><div style="height:2.00px;background:linear-gradient(90deg,#5d9edf,#5d9edf,#5d9ddf,#5c9dde,#5c9cde,#5c9bdd,#5c9adc,#5b99db,#5b99db,#5b98db,#5b98db,#5b99db,#5b9adc,#5c9bdd,#5d9ddf,#5da0e1,#5ea3e4,#60a7e7,#61aae9,#63ade9,#65b1ea,#67b4eb,#68b7ec,#6abbed,#6cbeee,#6ebfea,#70c0e7,#72c0e4,#74c1e1,#75c1df,#76c2dd,#77c2db,#78c2da,#79c3d9,#7ac3d7,#7bc3d6,#7cc4d4,#7ec4d0,#7fc4ca,#82c4c3,#84c4ba,#87c4b1,#8ac4a8,#8cc4a1,#8dc49d,#8fc49b,#8fc49a,#8fc49a,#8ec49c,#8dc49f,#8ac4a5,#88c4af,#84c4bb,#80c4c9,#7dc4d1,#7dc4d1)"></div><div style="height:2.00px;background:linear-gradient(90deg,#5fa5e6,#5fa5e6,#5fa6e6,#5fa6e6,#60a6e7,#60a7e7,#60a7e7,#60a7e7,#60a8e8,#60a8e8,#60a9e8,#61a9e8,#61aae9,#62abe9,#62ace9,#63aeea,#64afea,#65b1ea,#66b3eb,#67b5ec,#68b7ec,#6abaed,#6bbcee,#6cbeed,#6ebfea,#70bfe7,#72c0e4,#74c1e2,#75c1df,#76c2dd,#77c2db,#79c2d9,#79c3d8,#7ac3d6,#7bc3d5,#7cc4d3,#7dc4d1,#7fc4cc,#81c4c6,#83c4bd,#86c4b3,#89c4aa,#8bc4a2,#8dc49d,#8ec49c,#8ec49c,#8dc49e,#8bc4a2,#89c4aa,#86c4b2,#84c4bc,#80c4c7,#7dc4d2,#79c3d8,#77c2dc,#77c2dc)"></div><div style="height:2.00px;background:linear-gradient(90deg,#62abe9,#62abe9,#62abe9,#62ace9,#63ade9,#63aeea,#64aeea,#64afea,#64b0ea,#65b1ea,#65b2eb,#66b3eb,#66b4eb,#67b5eb,#68b6ec,#68b7ec,#69b8ec,#6ab9ed,#6abbed,#6bbced,#6cbeee,#6dbeed,#6ebfeb,#6fbfe9,#71c0e6,#72c0e4,#74c1e2,#75c1df,#76c2dd,#78c2db,#79c3d9,#7ac3d7,#7bc3d5,#7cc4d4,#7dc4d2,#7ec4cf,#7fc4cc,#80c4c6,#83c4c0,#85c4b7,#88c4ae,#8bc4a5,#8dc49e,#8ec49c,#8ec49c,#8dc49f,#8ac4a5,#88c4af,#84c4ba,#81c4c5,#7dc4d1,#79c3d8,#76c1de,#73c1e2,#72c0e3,#72c0e3)"></div><div style="height:2.00px;background:linear-gradient(90deg,#64afea,#64afea,#64afea,#65b1ea,#65b2eb,#66b3eb,#67b4eb,#67b5ec,#68b6ec,#68b7ec,#69b9ed,#6abaed,#6abbed,#6bbced,#6bbdee,#6cbeee,#6dbeed,#6dbfec,#6ebfeb,#6fbfe9,#6fbfe8,#70bfe7,#71c0e6,#72c0e4,#73c0e3,#74c1e1,#75c1df,#77c2dd,#78c2db,#79c3d8,#7ac3d6,#7cc4d4,#7dc4d2,#7ec4cf,#7fc4cc,#80c4c8,#81c4c4,#83c4bf,#85c4b8,#87c4b1,#89c4a9,#8cc4a2,#8dc49e,#8dc49d,#8cc49f,#8ac4a6,#87c4af,#84c4bb,#80c4c8,#7cc4d4,#77c2db,#73c1e2,#71c0e6,#6fbfe8,#6fbfe9,#6fbfe9)"></div><div style="height:2.00px;background:linear-gradient(90deg,#65b2eb,#65b2eb,#66b3eb,#66b4eb,#67b5ec,#68b6ec,#69b8ec,#69b9ed,#6abaed,#6bbced,#6bbdee,#6cbeee,#6dbeec,#6ebfeb,#6fbfea,#6fbfe9,#70bfe8,#71c0e7,#71c0e6,#72c0e5,#72c0e4,#73c0e3,#73c1e2,#74c1e0,#75c1df,#76c2dd,#77c2dc,#78c2da,#7ac3d8,#7bc3d5,#7cc4d3,#7ec4d0,#7fc4cc,#80c4c8,#81c4c4,#83c4bf,#84c4ba,#86c4b5,#87c4b0,#89c4aa,#8bc4a5,#8cc4a1,#8cc4a0,#8cc4a1,#8ac4a7,#87c4b0,#84c4bb,#80c4c7,#7cc4d3,#77c2db,#73c1e2,#70bfe8,#6ebfeb,#6dbeec,#6ebfeb,#6ebfeb)"></div><div style="height:2.00px;background:linear-gradient(90deg,#67b4eb,#67b4eb,#67b5ec,#68b6ec,#69b8ec,#69b9ed,#6abaed,#6bbced,#6bbdee,#6cbeee,#6dbeec,#6ebfeb,#6fbfe9,#70bfe8,#70c0e7,#71c0e6,#72c0e5,#72c0e4,#73c0e3,#74c1e1,#74c1e0,#75c1df,#76c1de,#77c2dd,#77c2db,#78c2da,#79c3d8,#7ac3d6,#7cc4d4,#7dc4d2,#7ec4ce,#7fc4ca,#81c4c5,#82c4c0,#84c4bb,#86c4b6,#87c4b0,#89c4ac,#8ac4a8,#8bc4a5,#8bc4a3,#8bc4a3,#8ac4a6,#89c4aa,#87c4b2,#84c4bc,#80c4c7,#7dc4d2,#78c2da,#74c1e1,#70c0e7,#6ebfeb,#6cbeee,#6cbeee,#6dbeed,#6dbeed)"></div><div style="height:2.00px;background:linear-gradient(90deg,#68b6ec,#68b6ec,#68b7ec,#69b8ec,#69b9ed,#6abbed,#6bbced,#6bbdee,#6cbeee,#6dbeec,#6ebfeb,#6fbfe9,#70bfe8,#70c0e7,#71c0e6,#72c0e4,#72c0e3,#73c1e2,#74c1e1,#75c1df,#76c1de,#77c2dc,#78c2db,#79c2d9,#7ac3d8,#7bc3d6,#7cc3d4,#7dc4d3,#7ec4d0,#7fc4cc,#80c4c8,#81c4c3,#83c4be,#85c4b9,#86c4b3,#88c4ad,#8ac4a8,#8bc4a4,#8bc4a2,#8bc4a2,#8bc4a4,#8ac4a8,#88c4ae,#86c4b5,#83c4be,#80c4c8,#7dc4d2,#79c2d9,#75c1df,#71c0e5,#6fbfea,#6cbeed,#6cbdee,#6cbdee,#6cbeee,#6cbeee)"></div><div style="height:2.00px;background:linear-gradient(90deg,#69b8ec,#69b8ec,#69b8ec,#6ab9ed,#6abbed,#6bbced,#6bbdee,#6cbeee,#6dbeed,#6ebfeb,#6fbfea,#6fbfe9,#70bfe7,#71c0e6,#72c0e5,#72c0e4,#73c1e2,#74c1e1,#75c1df,#76c2dd,#77c2db,#78c2d9,#7ac3d8,#7bc3d6,#7cc4d4,#7dc4d2,#7ec4cf,#7fc4cc,#80c4c9,#81c4c5,#82c4c1,#83c4bc,#85c4b7,#87c4b2,#88c4ac,#8ac4a7,#8bc4a2,#8cc4a0,#8cc4a0,#8bc4a2,#8ac4a7,#88c4af,#85c4b7,#82c4c1,#7fc4ca,#7cc4d3,#79c2d9,#75c1df,#72c0e4,#6fbfe8,#6dbeec,#6cbdee,#6bbcee,#6bbced,#6bbcee,#6bbcee)"></div><div style="height:2.00px;background:linear-gradient(90deg,#69b9ed,#69b9ed,#6abaed,#6abbed,#6bbced,#6bbdee,#6cbeee,#6dbeed,#6dbfec,#6ebfea,#6fbfe9,#70bfe8,#71c0e6,#71c0e5,#72c0e4,#73c0e2,#74c1e1,#75c1df,#76c2dd,#77c2db,#79c2d9,#7ac3d7,#7bc3d5,#7dc4d2,#7ec4cf,#7fc4cc,#80c4c8,#81c4c5,#82c4c1,#83c4bd,#84c4b9,#86c4b5,#87c4b1,#88c4ac,#8ac4a8,#8bc4a4,#8cc4a1,#8cc4a1,#8bc4a3,#8ac4a7,#88c4af,#85c4b8,#82c4c2,#7fc4cc,#7cc4d4,#78c2da,#75c1df,#72c0e4,#70bfe8,#6ebfeb,#6cbeee,#6bbced,#6abbed,#6abaed,#6abaed,#6abaed)"></div><div style="height:2.00px;background:linear-gradient(90deg,#6abaed,#6abaed,#6abbed,#6bbced,#6bbdee,#6cbeee,#6dbeed,#6dbeec,#6ebfea,#6fbfe9,#70bfe7,#71c0e6,#72c0e5,#73c0e3,#73c1e2,#74c1e0,#75c1df,#76c2dd,#78c2db,#79c3d9,#7ac3d6,#7cc4d4,#7dc4d1,#7ec4cd,#80c4c9,#81c4c5,#82c4c1,#83c4bd,#85c4b9,#86c4b5,#87c4b2,#88c4ae,#89c4ab,#89c4a9,#8ac4a6,#8ac4a5,#8ac4a5,#8ac4a7,#89c4ab,#87c4b1,#84c4b9,#82c4c2,#7fc4cc,#7cc4d4,#78c2da,#75c1df,#72c0e3,#70bfe7,#6ebfeb,#6cbeee,#6bbbed,#6ab9ed,#69b8ec,#68b6ec,#67b5ec,#67b5ec)"></div><div style="height:2.00px;background:linear-gradient(90deg,#6bbced,#6bbced,#6bbced,#6bbdee,#6cbeee,#6cbeed,#6dbeec,#6ebfea,#6fbfe9,#70bfe7,#71c0e6,#72c0e4,#73c0e2,#74c1e1,#75c1df,#76c2de,#77c2dc,#78c2da,#79c3d8,#7bc3d6,#7cc4d3,#7ec4d0,#7fc4cc,#80c4c7,#82c4c3,#83c4be,#84c4b9,#86c4b5,#87c4b1,#88c4ad,#89c4ab,#89c4a9,#8ac4a7,#8ac4a7,#8ac4a8,#89c4a9,#88c4ac,#87c4b1,#85c4b6,#83c4bd,#81c4c5,#7ec4ce,#7bc3d5,#78c2da,#75c1df,#72c0e4,#70bfe8,#6ebfeb,#6cbdee,#6abbed,#69b8ec,#68b6ec,#66b4eb,#65b1eb,#64b0ea,#64b0ea)"></div><div style="height:2.00px;background:linear-gradient(90deg,#6bbdee,#6bbdee,#6bbdee,#6cbeee,#6dbeed,#6dbeec,#6ebfea,#6fbfe9,#70bfe7,#71c0e5,#72c0e3,#74c1e2,#75c1e0,#76c1de,#77c2dc,#78c2da,#79c3d9,#7ac3d7,#7bc3d5,#7dc4d2,#7ec4cf,#7fc4ca,#81c4c6,#82c4c1,#84c4bc,#85c4b7,#87c4b2,#88c4ae,#89c4aa,#8ac4a7,#8ac4a6,#8bc4a5,#8ac4a6,#8ac4a8,#89c4ab,#87c4b0,#86c4b6,#84c4bc,#81c4c3,#7fc4ca,#7dc4d2,#7ac3d7,#77c2db,#75c1e0,#72c0e4,#70bfe8,#6dbeec,#6bbdee,#6abaed,#68b7ec,#67b4eb,#65b2eb,#64afea,#62ace9,#61aae9,#61aae9)"></div><div style="height:2.00px;background:linear-gradient(90deg,#6cbeee,#6cbeee,#6cbeee,#6dbeed,#6dbeec,#6ebfea,#6fbfe9,#70c0e7,#71c0e5,#73c0e3,#74c1e1,#75c1df,#76c2dd,#77c2db,#79c2d9,#7ac3d7,#7bc3d5,#7cc4d3,#7dc4d0,#7fc4cd,#80c4c8,#81c4c4,#83c4bf,#84c4ba,#86c4b5,#87c4b1,#88c4ac,#8ac4a8,#8ac4a5,#8bc4a4,#8bc4a3,#8bc4a4,#8ac4a7,#89c4ab,#87c4b1,#85c4b8,#82c4c0,#80c4c8,#7ec4cf,#7bc3d5,#79c2d9,#76c2dd,#74c1e1,#71c0e5,#6fbfe9,#6dbeed,#6bbced,#69b9ed,#67b6ec,#66b2eb,#64afea,#62ace9,#61a9e8,#5fa5e5,#5ea2e3,#5ea2e3)"></div><div style="height:2.00px;background:linear-gradient(90deg,#6dbeed,#6dbeed,#6dbeed,#6dbeec,#6ebfea,#6fbfe9,#70bfe7,#71c0e5,#73c0e3,#74c1e1,#75c1df,#77c2dd,#78c2da,#79c3d8,#7ac3d6,#7cc3d4,#7dc4d2,#7ec4cf,#7fc4cb,#81c4c6,#82c4c2,#83c4bd,#85c4b8,#86c4b3,#88c4af,#89c4aa,#8ac4a7,#8bc4a5,#8bc4a3,#8bc4a3,#8bc4a5,#8ac4a7,#88c4ac,#87c4b1,#85c4b9,#82c4c1,#80c4c9,#7dc4d2,#7ac3d7,#77c2db,#75c1df,#73c0e3,#71c0e6,#6ebfea,#6cbeee,#6abaed,#68b7ec,#66b3eb,#64b0ea,#62ace9,#60a9e8,#5fa4e5,#5d9fe0,#5c9bdd,#5b99db,#5b99db)"></div><div style="height:2.00px;background:linear-gradient(90deg,#6dbeec,#6dbeec,#6ebfec,#6ebfea,#6fbfe9,#70bfe7,#71c0e5,#73c0e3,#74c1e1,#75c1df,#77c2dc,#78c2da,#79c3d8,#7bc3d6,#7cc4d4,#7dc4d1,#7ec4ce,#80c4c9,#81c4c5,#83c4c0,#84c4ba,#86c4b5,#87c4b0,#89c4ac,#8ac4a8,#8ac4a5,#8bc4a4,#8bc4a3,#8bc4a4,#8ac4a6,#89c4a9,#88c4ae,#86c4b4,#84c4ba,#82c4c2,#7fc4ca,#7dc4d2,#7ac3d7,#77c2dc,#75c1e0,#72c0e4,#70bfe7,#6ebfeb,#6bbdee,#69b9ed,#67b5ec,#65b1ea,#63ade9,#60a9e8,#5ea3e4,#5d9ddf,#5b98da,#5a94d7,#5991d4,#5890d3,#5890d3)"></div><div style="height:2.00px;background:linear-gradient(90deg,#6ebfeb,#6ebfeb,#6ebfea,#6fbfe9,#70bfe7,#71c0e5,#72c0e3,#74c1e1,#75c1df,#77c2dc,#78c2da,#7ac3d7,#7bc3d5,#7cc4d3,#7ec4d0,#7fc4cd,#80c4c9,#81c4c4,#83c4bf,#85c4b9,#86c4b3,#88c4ae,#89c4a9,#8ac4a5,#8bc4a3,#8bc4a2,#8bc4a2,#8bc4a4,#8ac4a7,#89c4ab,#87c4b1,#85c4b7,#83c4bd,#81c4c4,#7fc4cc,#7dc4d2,#7ac3d7,#77c2db,#75c1e0,#72c0e4,#70bfe8,#6dbeec,#6bbcee,#69b9ed,#67b4eb,#64b0ea,#62abe9,#5fa5e5,#5d9ddf,#5b97d9,#5991d4,#578dd0,#568ace,#5688cd,#5689cd,#5689cd)"></div><div style="height:2.00px;background:linear-gradient(90deg,#6fbfe9,#6fbfe9,#6fbfe9,#70bfe7,#71c0e5,#72c0e3,#74c1e1,#75c1df,#77c2dc,#78c2da,#7ac3d7,#7cc3d4,#7dc4d2,#7ec4ce,#7fc4cb,#80c4c7,#81c4c3,#83c4be,#85c4b9,#86c4b3,#88c4ad,#8ac4a7,#8bc4a3,#8cc4a1,#8cc4a0,#8cc4a1,#8bc4a3,#8ac4a7,#88c4ac,#87c4b2,#84c4b9,#82c4c0,#80c4c8,#7ec4cf,#7cc4d4,#79c3d8,#77c2dc,#75c1df,#73c0e3,#70bfe7,#6ebfeb,#6bbcee,#69b8ec,#66b4eb,#64afea,#61aae8,#5ea2e3,#5b9adc,#5992d5,#578bcf,#5586ca,#5482c7,#5380c6,#5381c6,#5482c7,#5482c7)"></div><div style="height:2.00px;background:linear-gradient(90deg,#70bfe7,#70bfe7,#70c0e7,#71c0e5,#73c0e3,#74c1e1,#75c1df,#77c2dc,#78c2d9,#7ac3d7,#7cc4d4,#7dc4d1,#7fc4cd,#80c4c9,#81c4c5,#82c4c1,#83c4bc,#85c4b8,#87c4b2,#88c4ad,#8ac4a8,#8bc4a3,#8cc4a1,#8cc4a0,#8cc4a0,#8bc4a3,#8ac4a7,#88c4ad,#86c4b3,#84c4bb,#82c4c2,#7fc4ca,#7dc4d2,#7bc3d6,#78c2da,#76c2dd,#74c1e0,#73c0e3,#70c0e7,#6ebfeb,#6bbdee,#69b8ec,#66b4eb,#64afea,#61a9e8,#5ea1e2,#5b98da,#5890d3,#5688cc,#5481c7,#527cc2,#527bc1,#517ac0,#527bc1,#527dc2,#527dc2)"></div><div style="height:2.00px;background:linear-gradient(90deg,#71c0e5,#71c0e5,#72c0e4,#73c0e3,#74c1e0,#76c1de,#77c2dc,#79c2d9,#7ac3d6,#7cc4d4,#7ec4d0,#7fc4cb,#80c4c7,#82c4c2,#83c4be,#84c4b9,#86c4b5,#87c4b0,#88c4ac,#8ac4a8,#8bc4a4,#8bc4a2,#8cc4a1,#8bc4a2,#8bc4a5,#89c4a9,#88c4ae,#86c4b4,#84c4bc,#81c4c3,#7fc4cb,#7dc4d3,#7ac3d7,#77c2db,#76c1de,#74c1e1,#72c0e4,#70bfe7,#6ebfeb,#6bbdee,#69b8ec,#66b4eb,#63aeea,#61a9e8,#5ea1e2,#5b98da,#588fd3,#5687cc,#5380c6,#527bc1,#5179bf,#5178be,#5178be,#5179bf,#517ac0,#517ac0)"></div><div style="height:2.00px;background:linear-gradient(90deg,#73c0e3,#73c0e3,#73c1e2,#75c1e0,#76c2dd,#77c2db,#79c3d9,#7bc3d6,#7cc4d3,#7ec4cf,#7fc4ca,#81c4c5,#82c4c0,#84c4bb,#85c4b6,#87c4b1,#88c4ac,#89c4a9,#8ac4a6,#8bc4a4,#8bc4a3,#8bc4a4,#8ac4a5,#8ac4a8,#88c4ac,#87c4b1,#85c4b7,#83c4be,#81c4c5,#7fc4cc,#7cc4d3,#7ac3d7,#77c2dc,#75c1df,#73c1e2,#71c0e5,#6fbfe8,#6dbeec,#6bbcee,#69b8ec,#66b3eb,#63aeea,#60a8e8,#5da0e1,#5b97d9,#588fd2,#5687cc,#5380c6,#527bc1,#5179bf,#5078be,#5077bd,#5077bd,#5178be,#5179bf,#5179bf)"></div><div style="height:2.00px;background:linear-gradient(90deg,#75c1e0,#75c1e0,#75c1df,#77c2dc,#78c2da,#7ac3d8,#7bc3d5,#7dc4d2,#7ec4ce,#80c4c9,#81c4c4,#83c4bf,#84c4b9,#86c4b3,#88c4ae,#89c4a9,#8bc4a4,#8bc4a2,#8cc4a1,#8cc4a2,#8bc4a4,#8ac4a7,#89c4ab,#87c4b0,#86c4b6,#84c4bb,#82c4c2,#80c4c8,#7ec4ce,#7cc4d4,#7ac3d8,#77c2dc,#75c1df,#73c0e3,#71c0e6,#6fbfe9,#6dbeed,#6bbced,#69b8ec,#66b3eb,#63aeea,#60a8e8,#5d9fe0,#5a96d9,#588ed2,#5587cb,#5381c6,#527cc2,#517ac0,#5078be,#5077bd,#5077bd,#5077bd,#5078be,#5178be,#5178be)"></div><div style="height:2.00px;background:linear-gradient(90deg,#77c2dc,#77c2dc,#77c2db,#79c3d9,#7ac3d7,#7cc4d4,#7dc4d1,#7fc4cc,#80c4c7,#82c4c2,#83c4bd,#85c4b8,#87c4b2,#88c4ac,#8ac4a6,#8cc4a1,#8dc49f,#8dc49e,#8dc49f,#8cc4a1,#8ac4a6,#88c4ac,#87c4b2,#84c4b9,#83c4c0,#81c4c6,#7fc4cc,#7dc4d2,#7bc3d6,#79c3d9,#77c2dc,#75c1df,#73c1e2,#71c0e6,#6fbfe9,#6dbeed,#6abbed,#68b7ec,#66b2eb,#63ade9,#60a7e7,#5d9edf,#5a95d8,#578dd1,#5586cb,#5380c5,#527cc2,#517ac0,#5179bf,#5078be,#5077bd,#5077bd,#5077bd,#5078be,#5078be,#5078be)"></div><div style="height:2.00px;background:linear-gradient(90deg,#79c3d9,#79c3d9,#7ac3d8,#7bc3d5,#7dc4d3,#7ec4cf,#7fc4ca,#81c4c5,#82c4c0,#84c4bb,#86c4b5,#87c4b0,#89c4aa,#8bc4a5,#8cc4a0,#8dc49d,#8ec49c,#8ec49c,#8dc49e,#8bc4a3,#89c4a9,#87c4b1,#84c4ba,#82c4c2,#80c4c9,#7ec4d0,#7cc3d4,#7ac3d8,#78c2db,#76c2dd,#75c1df,#73c1e2,#72c0e5,#6fbfe8,#6dbeed,#6abbed,#68b7ec,#65b2eb,#63ade9,#60a6e7,#5d9ddf,#5a94d7,#578cd0,#5585ca,#537fc5,#527bc1,#517ac0,#5179bf,#5078be,#5078be,#5078be,#5078be,#5078be,#5078be,#5078be,#5078be)"></div><div style="height:2.00px;background:linear-gradient(90deg,#7bc3d5,#7bc3d5,#7cc4d4,#7dc4d1,#7fc4cc,#80c4c8,#82c4c2,#83c4bd,#85c4b8,#87c4b2,#88c4ad,#8ac4a8,#8bc4a3,#8cc49f,#8ec49d,#8ec49c,#8ec49b,#8ec49d,#8cc4a0,#8ac4a6,#88c4af,#85c4b8,#82c4c1,#80c4c9,#7dc4d1,#7bc3d6,#79c2d9,#77c2dc,#75c1df,#74c1e1,#73c1e2,#72c0e4,#70bfe7,#6ebfeb,#6bbcee,#68b7ec,#65b2eb,#62ace9,#5fa5e6,#5c9cde,#5994d6,#578ccf,#5585c9,#537fc4,#527bc1,#517ac0,#5179bf,#5078be,#5078be,#5078be,#5078be,#5078be,#5078be,#5078be,#5078be,#5078be)"></div><div style="height:2.00px;background:linear-gradient(90deg,#7ec4cf,#7ec4cf,#7ec4cd,#80c4ca,#81c4c5,#83c4c0,#84c4ba,#86c4b4,#88c4ae,#89c4a9,#8bc4a4,#8cc4a0,#8dc49d,#8ec49c,#8ec49b,#8ec49b,#8ec49d,#8cc49f,#8bc4a5,#88c4ac,#86c4b5,#83c4be,#80c4c7,#7ec4cf,#7bc3d5,#78c2da,#76c2dd,#75c1e0,#73c1e2,#72c0e3,#72c0e5,#71c0e7,#6fbfe9,#6cbeee,#69b9ed,#66b3eb,#63ade9,#5fa5e5,#5c9bdd,#5992d5,#578ace,#5484c9,#537ec4,#527bc1,#517ac0,#5179bf,#5078be,#5078be,#5078be,#5078be,#5078be,#5178be,#5178be,#5178be,#5078be,#5078be)"></div><div style="height:2.00px;background:linear-gradient(90deg,#81c4c6,#81c4c6,#81c4c4,#82c4c1,#84c4bc,#85c4b6,#87c4b0,#89c4ab,#8bc4a5,#8cc4a0,#8dc49d,#8fc49b,#8fc499,#8fc499,#8fc49a,#8ec49c,#8dc49f,#8bc4a4,#89c4ab,#86c4b3,#84c4bb,#81c4c4,#7fc4cd,#7cc4d4,#79c3d8,#77c2dd,#75c1e0,#73c0e3,#72c0e4,#71c0e6,#70c0e7,#6fbfe9,#6dbeec,#6bbced,#68b6ec,#64afea,#60a7e7,#5c9cdd,#5991d4,#5689cd,#5482c7,#527dc3,#527bc1,#517ac0,#5179bf,#5078be,#5078be,#5078be,#5078be,#5078be,#5178be,#5178be,#5178be,#5178be,#5178be,#5178be)"></div><div style="height:2.00px;background:linear-gradient(90deg,#84c4bb,#84c4ba,#85c4b9,#86c4b5,#87c4b0,#89c4ab,#8ac4a5,#8cc4a0,#8ec49d,#8fc49a,#90c498,#90c497,#90c497,#90c498,#8fc49b,#8dc49e,#8bc4a3,#89c4ab,#87c4b2,#84c4ba,#82c4c2,#7fc4ca,#7dc4d2,#7ac3d7,#78c2db,#75c1df,#73c1e2,#72c0e5,#71c0e6,#70bfe8,#6fbfe9,#6ebfeb,#6cbeee,#69b9ed,#66b3eb,#62abe9,#5da0e1,#5993d6,#5689cd,#5481c6,#527cc2,#517ac0,#5179bf,#5179bf,#5078be,#5078be,#5078be,#5078be,#5078be,#5078be,#5178be,#5178be,#5178be,#5178be,#5078be,#5078be)"></div><div style="height:2.00px;background:linear-gradient(90deg,#88c4ad,#88c4ac,#89c4aa,#8ac4a6,#8cc4a2,#8dc49e,#8ec49b,#90c499,#91c496,#91c495,#92c494,#92c494,#91c495,#90c498,#8ec49c,#8cc4a1,#89c4a9,#87c4b1,#84c4b9,#82c4c1,#80c4c9,#7ec4d0,#7bc3d5,#79c2d9,#76c2dd,#74c1e1,#72c0e4,#71c0e6,#70bfe8,#6fbfe9,#6ebfeb,#6cbeee,#6abbed,#68b6ec,#64afea,#60a7e7,#5b99db,#578dd1,#5483c8,#527cc2,#517ac0,#5179bf,#5078be,#5078be,#5078be,#5078be,#5078be,#5078be,#5078be,#5078be,#5078be,#5078be,#5078be,#5078be,#5078be,#5078be)"></div><div style="height:2.00px;background:linear-gradient(90deg,#8dc49d,#8ec49d,#8ec49b,#90c498,#91c495,#92c493,#93c491,#94c490,#94c490,#94c490,#93c491,#93c492,#91c495,#8fc499,#8dc49e,#8ac4a6,#88c4af,#85c4b8,#82c4c0,#80c4c7,#7ec4ce,#7cc4d4,#7ac3d8,#77c2db,#75c1df,#73c1e2,#71c0e5,#70bfe8,#6fbfea,#6ebfeb,#6cbeee,#6bbced,#69b8ec,#66b3eb,#62ace9,#5ea2e2,#5a95d7,#5689cd,#537fc5,#517ac0,#5179bf,#5078be,#5078be,#5078be,#5078be,#5078be,#5078be,#5078be,#5078be,#5078be,#5078be,#5077bd,#5077bd,#5077bd,#5077bd,#5077bd)"></div><div style="height:2.00px;background:linear-gradient(90deg,#93c492,#93c491,#95c48e,#96c48b,#98c488,#99c486,#99c486,#98c488,#97c48a,#96c48c,#94c48f,#93c492,#91c496,#8ec49b,#8bc4a2,#89c4ab,#86c4b5,#83c4be,#81c4c6,#7ec4cd,#7cc4d3,#7ac3d7,#78c2da,#76c2dd,#74c1e0,#72c0e3,#71c0e6,#6fbfe9,#6ebfeb,#6cbeee,#6bbced,#69b9ed,#67b5ec,#64b0ea,#60a9e8,#5d9ddf,#5991d4,#5586cb,#527dc3,#517ac0,#5178be,#5078be,#5077bd,#5078be,#5078be,#5078be,#5078be,#5078be,#5077bd,#5077bd,#5077bd,#5077bd,#5077bd,#5076bc,#5076bc,#5076bc)"></div><div style="height:2.00px;background:linear-gradient(90deg,#99c585,#9cc583,#a0c77e,#a6c978,#a9cb74,#aacb73,#a7ca76,#a3c87b,#9dc682,#97c488,#95c48e,#92c493,#90c498,#8dc49e,#8ac4a7,#87c4b1,#84c4bb,#81c4c4,#7fc4cb,#7dc4d2,#7bc3d6,#79c2d9,#77c2dc,#75c1df,#73c1e2,#72c0e4,#70bfe7,#6ebfea,#6dbeed,#6bbcee,#6abaed,#68b6ec,#65b2eb,#62ace9,#5fa4e5,#5b99db,#588ed1,#5584c9,#527cc2,#517ac0,#5178be,#5078be,#5078be,#5078be,#5078be,#5078be,#5077bd,#5077bd,#5077bd,#5077bd,#5076bc,#5076bc,#4f76bc,#4f76bc,#4f75bb,#4f75bb)"></div><div style="height:2.00px;background:linear-gradient(90deg,#a8ca76,#abcb72,#b2ce6b,#b8d163,#bcd25f,#bbd260,#b6d066,#aecc6f,#a4c97a,#9ac585,#95c48d,#92c494,#8ec49b,#8bc4a3,#88c4ad,#85c4b7,#82c4c0,#80c4c9,#7ec4d0,#7bc3d5,#79c3d8,#77c2db,#76c1de,#74c1e1,#73c0e3,#71c0e6,#6fbfe8,#6ebfeb,#6cbdee,#6abaed,#68b7ec,#66b3eb,#63aeea,#60a8e8,#5d9fe0,#5a95d7,#578bcf,#5483c8,#527cc2,#517ac0,#5179bf,#5078be,#5078be,#5078be,#5078be,#5078be,#5077bd,#5077bd,#5076bc,#5076bc,#4f76bc,#4f75bb,#4f75bb,#4f75bb,#4f74ba,#4f74ba)"></div><div style="height:2.00px;background:linear-gradient(90deg,#b4cf68,#b9d163,#c1d45c,#cad756,#ced853,#ccd855,#c4d55a,#b8d063,#aacb73,#9dc682,#95c48d,#91c496,#8dc49e,#8ac4a8,#86c4b3,#83c4bd,#81c4c5,#7ec4cd,#7cc4d4,#7ac3d7,#78c2db,#76c2dd,#75c1e0,#73c1e2,#72c0e5,#70bfe7,#6fbfea,#6dbeed,#6bbced,#69b8ec,#67b4eb,#64afea,#61aae9,#5ea3e4,#5b9adc,#5991d4,#5688cd,#5481c6,#527cc2,#517ac0,#5179bf,#5178be,#5078be,#5078be,#5078be,#5078be,#5077bd,#5077bd,#5076bc,#4f75bb,#4f75bb,#4f74ba,#4f74ba,#4f74ba,#4f74ba,#4f74ba)"></div><div style="height:2.00px;background:linear-gradient(90deg,#bed35d,#c5d559,#d0d952,#dadd4b,#dede48,#dbdd4b,#d1d951,#c1d45c,#b0cd6d,#9fc77f,#95c48e,#90c498,#8cc4a1,#88c4ae,#85c4b8,#82c4c2,#7fc4ca,#7dc4d2,#7bc3d6,#79c2d9,#77c2dc,#75c1df,#74c1e2,#72c0e4,#71c0e6,#6fbfe9,#6dbfec,#6cbdee,#6abaed,#67b6ec,#65b1ea,#62ace9,#5fa6e6,#5d9ddf,#5a95d7,#578cd0,#5585ca,#537ec4,#527bc1,#517ac0,#5179bf,#5178be,#5178be,#5078be,#5078be,#5078be,#5077bd,#5076bc,#4f76bc,#4f75bb,#4f74ba,#4f74ba,#4f73b9,#4e73b9,#4e73b9,#4e73b9)"></div><div style="height:2.00px;background:linear-gradient(90deg,#c9d756,#d2da50,#dfdf48,#e9df42,#eadc41,#e8e142,#dcde4a,#c9d757,#b4cf68,#a0c77e,#94c48f,#8fc49a,#8ac4a6,#86c4b3,#83c4bd,#80c4c6,#7ec4ce,#7cc4d4,#79c3d8,#77c2db,#76c1de,#74c1e1,#73c0e3,#71c0e5,#70bfe8,#6ebfea,#6cbeee,#6abbed,#68b7ec,#66b3eb,#63aeea,#60a9e8,#5ea0e1,#5b98da,#588fd3,#5688cc,#5481c7,#527cc2,#517ac0,#5179bf,#5179bf,#5178be,#5178be,#5178be,#5078be,#5077bd,#5077bd,#5076bc,#4f75bb,#4f74ba,#4f74ba,#4e73b9,#4e73b9,#4e73b9,#4e73b9,#4e73b9)"></div><div style="height:2.00px;background:linear-gradient(90deg,#d7dc4d,#e3e045,#ebd740,#edcc3f,#eeca3f,#ecd340,#e6e143,#cfd952,#b7d065,#a0c77e,#94c490,#8ec49d,#89c4ab,#85c4b8,#82c4c2,#7fc4cb,#7dc4d2,#7bc3d6,#78c2da,#77c2dd,#75c1df,#73c1e2,#72c0e4,#70c0e7,#6fbfea,#6dbeed,#6bbcee,#69b9ed,#67b5eb,#64b0ea,#61abe9,#5fa4e4,#5c9bdd,#5992d5,#578bcf,#5484c9,#537ec3,#517bc1,#5179bf,#5178be,#5078be,#5078be,#5178be,#5178be,#5078be,#5077bd,#5077bd,#5076bc,#4f75bb,#4f74ba,#4e73b9,#4e73b9,#4e72b8,#4e72b8,#4e72b8,#4e72b8)"></div><div style="height:2.00px;background:linear-gradient(90deg,#e9e042,#edcf3f,#f1bc3d,#f0a93a,#f1af3b,#efc33e,#eada41,#d4db4f,#b9d162,#a0c77e,#93c491,#8dc49f,#87c4af,#84c4bc,#80c4c6,#7ec4cf,#7cc4d4,#79c3d8,#77c2db,#76c1de,#74c1e1,#73c0e3,#71c0e6,#6fbfe8,#6ebfeb,#6cbdee,#6abaed,#68b6ec,#65b2eb,#63ade9,#60a7e7,#5d9ee0,#5a95d8,#588dd1,#5586cb,#5380c5,#527bc1,#5179bf,#5178be,#5078be,#5078be,#5078be,#5078be,#5078be,#5078be,#5077bd,#5076bc,#4f75bb,#4f74ba,#4f73b9,#4e73b9,#4e72b8,#4e72b8,#4e72b8,#4e72b8,#4e72b8)"></div><div style="height:2.00px;background:linear-gradient(90deg,#efc53e,#ee9d39,#e66b34,#dd5832,#e87134,#f0a73a,#ecd03f,#d9dc4c,#bad161,#9fc77f,#92c493,#8bc4a2,#86c4b3,#82c4c0,#7fc4ca,#7dc4d2,#7ac3d6,#78c2da,#77c2dc,#75c1df,#74c1e2,#72c0e4,#70c0e7,#6ebfea,#6cbeed,#6bbbed,#69b8ec,#66b4eb,#64afea,#61aae8,#5ea2e3,#5b99db,#5990d4,#5689cd,#5482c7,#527cc2,#517ac0,#5178be,#5077bd,#5077bd,#5077bd,#5077bd,#5078be,#5078be,#5078be,#5077bd,#5076bc,#4f75bb,#4f74ba,#4e73b9,#4e72b8,#4e72b8,#4e71b7,#4e72b8,#4e72b8,#4e72b8)"></div><div style="height:2.00px;background:linear-gradient(90deg,#eb8837,#ce392e,#96141e,#96141e,#bd282a,#e97a35,#efc63e,#ddde4a,#bad161,#9ec681,#91c495,#8ac4a5,#85c4b7,#81c4c4,#7ec4ce,#7cc4d4,#79c3d8,#77c2db,#76c1de,#74c1e0,#73c0e3,#71c0e5,#70bfe8,#6dbfec,#6bbdee,#69b9ed,#67b5ec,#65b1ea,#62ace9,#5fa5e6,#5c9cde,#5a94d7,#578cd0,#5584c9,#537ec4,#517bc1,#5179bf,#5078be,#5077bd,#5077bd,#5077bd,#5077bd,#5077bd,#5077bd,#5077bd,#5076bc,#4f76bc,#4f75bb,#4f74ba,#4e73b9,#4e72b8,#4e71b7,#4e71b7,#4e71b7,#4e72b8,#4e72b8)"></div><div style="height:2.00px;background:linear-gradient(90deg,#c82d2d,#96141e,#96141e,#96141e,#96141e,#d74d30,#f1bd3d,#e0df48,#bad161,#9cc682,#91c496,#8ac4a8,#84c4b9,#80c4c7,#7dc4d1,#7ac3d6,#78c2da,#77c2dd,#75c1df,#74c1e1,#72c0e4,#71c0e6,#6fbfe9,#6cbeed,#6abbed,#68b7ec,#66b2eb,#63ade9,#60a8e8,#5da0e1,#5b97d9,#588fd2,#5687cc,#5481c6,#527cc2,#517ac0,#5178be,#5077bd,#5077bd,#5076bc,#5076bc,#5077bd,#5077bd,#5077bd,#5076bc,#4f76bc,#4f75bb,#4f74ba,#4f73b9,#4e72b8,#4e72b8,#4e71b7,#4e71b7,#4e71b7,#4e71b7,#4e71b7)"></div><div style="height:2.00px;background:linear-gradient(90deg,#96141e,#96141e,#96141e,#96141e,#96141e,#c82d2d,#f1b53c,#e2e046,#bad161,#9cc583,#90c497,#89c4a9,#84c4bc,#80c4c9,#7cc4d3,#7ac3d8,#77c2db,#76c1de,#74c1e0,#73c0e2,#72c0e5,#70bfe7,#6ebfeb,#6cbdee,#69b9ed,#67b4eb,#64afea,#61aae9,#5ea2e3,#5b9adc,#5992d5,#568ace,#5483c8,#537ec4,#527bc1,#5179bf,#5078be,#5077bd,#5077bd,#5077bd,#5076bc,#5076bc,#5076bc,#4f76bc,#4f75bb,#4f75bb,#4f74ba,#4f73b9,#4e73b9,#4e72b8,#4e72b8,#4e71b7,#4e71b7,#4e71b7,#4e71b7,#4e71b7)"></div><div style="height:2.00px;background:linear-gradient(90deg,#96141e,#96141e,#96141e,#96141e,#96141e,#bb2629,#f1ae3b,#e4e045,#bbd260,#9cc682,#90c497,#89c4aa,#83c4bd,#7fc4cb,#7cc4d4,#79c2d9,#76c2dd,#75c1df,#74c1e2,#72c0e4,#71c0e6,#6fbfe9,#6dbeec,#6bbced,#68b7ec,#65b2eb,#62ace9,#5fa5e6,#5c9cde,#5a94d7,#578cd0,#5585ca,#5380c5,#527cc2,#517ac0,#5179bf,#5179bf,#5078be,#5078be,#5077bd,#5076bc,#4f76bc,#4f75bb,#4f74ba,#4f74ba,#4f73b9,#4e73b9,#4e73b9,#4e72b8,#4e72b8,#4e72b8,#4e71b7,#4e71b7,#4d70b6,#4d70b6,#4d70b6)"></div><div style="height:2.00px;background:linear-gradient(90deg,#96141e,#96141e,#96141e,#96141e,#96141e,#d3442f,#f1be3d,#dede48,#b9d163,#9bc584,#90c497,#89c4aa,#83c4bd,#7fc4cb,#7bc3d4,#78c2d9,#76c2dd,#75c1e0,#73c1e2,#72c0e4,#71c0e6,#6fbfe9,#6dbeed,#6abbed,#68b6ec,#65b1ea,#62abe9,#5fa4e4,#5c9bdd,#5992d5,#578bcf,#5584c9,#537fc5,#527cc2,#517ac0,#5179bf,#5179bf,#5178be,#5078be,#5077bd,#5076bc,#4f76bc,#4f75bb,#4f74ba,#4f73b9,#4e73b9,#4e73b9,#4e72b8,#4e72b8,#4e72b8,#4e72b8,#4e71b7,#4e71b7,#4d70b6,#4d70b6,#4d70b6)"></div><div style="height:2.00px;background:linear-gradient(90deg,#96141e,#96141e,#96141e,#96141e,#a01921,#e97a35,#edcc3f,#d6dc4e,#b5cf67,#99c486,#90c498,#89c4ab,#83c4bd,#7fc4cb,#7bc3d5,#78c2d9,#76c2dd,#75c1e0,#73c1e2,#72c0e4,#71c0e6,#6fbfe9,#6dbeed,#6abbed,#68b6ec,#65b1ea,#62abe9,#5fa4e4,#5c9bdd,#5992d5,#578bcf,#5584c9,#537fc5,#527cc2,#517ac0,#5179bf,#5179bf,#5178be,#5078be,#5077bd,#5076bc,#4f76bc,#4f75bb,#4f74ba,#4f73b9,#4e73b9,#4e73b9,#4e72b8,#4e72b8,#4e72b8,#4e72b8,#4e71b7,#4e71b7,#4d70b6,#4d70b6,#4d70b6)"></div></div></div>
<div style="position:absolute;left:380.00px;top:13.00px;width:127.20px;height:114.80px;overflow:hidden"><div style="position:absolute;left:-3px;top:-3px;width:133.20px;filter:blur(0.70px)"><div style="height:1.50px;background:linear-gradient(90deg,#4f74ba,#4f74ba,#4f74ba,#4f74ba,#4f74ba,#4f74ba,#4f74ba,#4f74ba,#4f74ba,#4f74ba,#4f74ba,#4f74ba,#4f74ba,#4f74ba,#4f74ba,#4f74ba,#4f74ba,#4f74ba,#4f74ba,#4f74ba,#4f74ba,#4f74ba,#4f74ba,#4f74ba,#4f74ba,#4f74ba,#4f74ba,#4f74ba,#4f74ba,#4f74ba,#4f74ba,#4f74ba,#4f74ba,#4f74ba,#4f74ba,#4f74ba,#6bbdee,#6cbeee,#6bbbed,#4f74ba,#4f74ba,#4f74ba,#4f74ba,#4f74ba,#4f74ba,#4f74ba,#4f74ba,#4f74ba,#4f74ba,#4f74ba,#4f74ba,#4f74ba,#4f74ba,#4f74ba,#4f74ba,#4f74ba,#4f74ba,#4f74ba,#4f74ba,#4f74ba,#4f74ba,#4f74ba,#4f74ba,#4f74ba,#4f74ba,#4f74ba,#4f74ba,#4f74ba,#4f74ba,#4f74ba,#4f74ba,#4f74ba,#4f74ba,#4f74ba,#4f74ba,#4f74ba,#4f74ba,#4f74ba,#4f74ba,#4f74ba,#4f74ba,#4f74ba,#4f74ba,#4f74ba,#4f74ba,#4f74ba,#4f74ba,#4f74ba,#4f74ba,#4f74ba)"></div><div style="height:1.50px;background:linear-gradient(90deg,#4f74ba,#4f74ba,#4f74ba,#4f74ba,#4f74ba,#4f74ba,#4f74ba,#4f74ba,#4f74ba,#4f74ba,#4f74ba,#4f74ba,#4f74ba,#4f74ba,#4f74ba,#4f74ba,#4f74ba,#4f74ba,#4f74ba,#4f74ba,#4f74ba,#4f74ba,#4f74ba,#4f74ba,#4f74ba,#4f74ba,#4f74ba,#4f74ba,#4f74ba,#4f74ba,#4f74ba,#4f74ba,#4f74ba,#4f74ba,#4f74ba,#4f74ba,#6bbdee,#6cbeed,#5587cb,#4f74ba,#4f74ba,#4f74ba,#4f74ba,#4f74ba,#4f74ba,#4f74ba,#4f74ba,#4f74ba,#4f74ba,#4f74ba,#4f74ba,#4f74ba,#4f74ba,#4f74ba,#4f74ba,#4f74ba,#4f74ba,#4f74ba,#4f74ba,#4f74ba,#4f74ba,#4f74ba,#4f74ba,#4f74ba,#4f74ba,#4f74ba,#4f74ba,#4f74ba,#4f74ba,#4f74ba,#4f74ba,#4f74ba,#4f74ba,#4f74ba,#4f74ba,#4f74ba,#4f74ba,#4f74ba,#4f74ba,#4f74ba,#4f74ba,#4f74ba,#4f74ba,#4f74ba,#4f74ba,#4f74ba,#4f74ba,#4f74ba,#4f74ba,#4f74ba)"></div><div style="height:1.50px;background:linear-gradient(90deg,#4f74ba,#4f74ba,#4f74ba,#4f74ba,#4f74ba,#4f74ba,#4f74ba,#4f74ba,#4f74ba,#4f74ba,#4f74ba,#4f74ba,#4f74ba,#4f74ba,#4f74ba,#4f74ba,#4f74ba,#4f74ba,#4f74ba,#4f74ba,#4f74ba,#4f74ba,#4f74ba,#4f74ba,#4f74ba,#4f74ba,#4f74ba,#4f74ba,#4f74ba,#4f74ba,#4f74ba,#4f74ba,#4f74ba,#4f74ba,#4f74ba,#5483c8,#6cbdee,#6dbeed,#6bbbed,#4f74ba,#4f74ba,#4f74ba,#4f74ba,#4f74ba,#4f74ba,#4f74ba,#4f74ba,#4f74ba,#4f74ba,#4f74ba,#4f74ba,#4f74ba,#4f74ba,#4f74ba,#4f74ba,#4f74ba,#4f74ba,#4f74ba,#4f74ba,#4f74ba,#4f74ba,#4f74ba,#4f74ba,#4f74ba,#4f74ba,#4f74ba,#4f74ba,#4f74ba,#4f74ba,#4f74ba,#4f74ba,#4f74ba,#4f74ba,#4f74ba,#4f74ba,#4f74ba,#4f74ba,#4f74ba,#4f74ba,#4f74ba,#4f74ba,#4f74ba,#4f74ba,#4f74ba,#4f74ba,#4f74ba,#4f74ba,#4f74ba,#4f74ba,#4f74ba)"></div><div style="height:1.50px;background:linear-gradient(90deg,#4f74ba,#4f74ba,#4f74ba,#4f74ba,#4f74ba,#4f74ba,#4f74ba,#4f74ba,#4f74ba,#4f74ba,#4f74ba,#4f74ba,#4f74ba,#4f74ba,#4f74ba,#4f74ba,#4f74ba,#4f74ba,#4f74ba,#4f74ba,#4f74ba,#4f74ba,#4f74ba,#4f74ba,#4f74ba,#4f74ba,#4f74ba,#4f74ba,#4f74ba,#4f74ba,#4f74ba,#4f74ba,#4f74ba,#4f74ba,#4f74ba,#578cd0,#6cbeee,#6dbeed,#578cd0,#568ace,#4f74ba,#4f74ba,#4f74ba,#4f74ba,#4f74ba,#4f74ba,#4f74ba,#4f74ba,#4f74ba,#4f74ba,#4f74ba,#4f74ba,#4f74ba,#4f74ba,#4f74ba,#4f74ba,#4f74ba,#4f74ba,#4f74ba,#4f74ba,#4f74ba,#4f74ba,#4f74ba,#4f74ba,#4f74ba,#4f74ba,#4f74ba,#4f74ba,#4f74ba,#4f74ba,#4f74ba,#4f74ba,#4f74ba,#4f74ba,#4f74ba,#4f74ba,#4f74ba,#4f74ba,#4f74ba,#4f74ba,#4f74ba,#4f74ba,#4f74ba,#4f74ba,#4f74ba,#4f74ba,#4f74ba,#4f74ba,#4f74ba,#4f74ba)"></div><div style="height:1.50px;background:linear-gradient(90deg,#4f74ba,#4f74ba,#4f74ba,#4f74ba,#4f74ba,#4f74ba,#4f74ba,#4f74ba,#4f74ba,#4f74ba,#4f74ba,#4f74ba,#4f74ba,#4f74ba,#4f74ba,#4f74ba,#4f74ba,#4f74ba,#4f74ba,#4f74ba,#4f74ba,#4f74ba,#4f74ba,#4f74ba,#4f74ba,#4f74ba,#4f74ba,#4f74ba,#4f74ba,#4f74ba,#4f74ba,#4f74ba,#4f74ba,#4f74ba,#4f74ba,#5687cc,#6cbeee,#6dbeec,#578cd0,#568ace,#4f74ba,#4f74ba,#4f74ba,#4f74ba,#4f74ba,#4f74ba,#4f74ba,#4f74ba,#4f74ba,#4f74ba,#4f74ba,#4f74ba,#4f74ba,#4f74ba,#4f74ba,#4f74ba,#4f74ba,#4f74ba,#4f74ba,#4f74ba,#4f74ba,#4f74ba,#4f74ba,#4f74ba,#4f74ba,#4f74ba,#4f74ba,#4f74ba,#4f74ba,#4f74ba,#4f74ba,#4f74ba,#4f74ba,#4f74ba,#4f74ba,#4f74ba,#4f74ba,#4f74ba,#4f74ba,#4f74ba,#4f74ba,#4f74ba,#4f74ba,#4f74ba,#4f74ba,#4f74ba,#4f74ba,#4f74ba,#4f74ba,#4f74ba)"></div><div style="height:1.50px;background:linear-gradient(90deg,#4f74ba,#4f74ba,#4f74ba,#4f74ba,#4f74ba,#4f74ba,#4f74ba,#4f74ba,#4f74ba,#4f74ba,#4f74ba,#4f74ba,#4f74ba,#4f74ba,#4f74ba,#4f74ba,#4f74ba,#4f74ba,#4f74ba,#4f74ba,#4f74ba,#4f74ba,#4f74ba,#4f74ba,#4f74ba,#4f74ba,#4f74ba,#4f74ba,#4f74ba,#4f74ba,#4f74ba,#4f74ba,#4f74ba,#4f74ba,#4f74ba,#4f74ba,#6dbeed,#6dbeec,#6bbced,#4f74ba,#4f74ba,#4f74ba,#4f74ba,#4f74ba,#4f74ba,#4f74ba,#4f74ba,#4f74ba,#4f74ba,#4f74ba,#4f74ba,#4f74ba,#4f74ba,#4f74ba,#4f74ba,#4f74ba,#4f74ba,#4f74ba,#4f74ba,#4f74ba,#4f74ba,#4f74ba,#4f74ba,#4f74ba,#4f74ba,#4f74ba,#4f74ba,#4f74ba,#4f74ba,#4f74ba,#4f74ba,#4f74ba,#4f74ba,#4f74ba,#4f74ba,#4f74ba,#4f74ba,#4f74ba,#4f74ba,#4f74ba,#4f74ba,#4f74ba,#4f74ba,#4f74ba,#4f74ba,#4f74ba,#4f74ba,#4f74ba,#4f74ba,#4f74ba)"></div><div style="height:1.50px;background:linear-gradient(90deg,#4f74ba,#4f74ba,#4f74ba,#4f74ba,#4f74ba,#4f74ba,#4f74ba,#4f74ba,#4f74ba,#4f74ba,#4f74ba,#4f74ba,#4f74ba,#4f74ba,#4f74ba,#4f74ba,#4f74ba,#4f74ba,#4f74ba,#4f74ba,#4f74ba,#4f74ba,#4f74ba,#4f74ba,#4f74ba,#4f74ba,#4f74ba,#4f74ba,#4f74ba,#4f74ba,#4f74ba,#4f74ba,#4f74ba,#4f74ba,#4f74ba,#6bbbed,#6dbeec,#6ebfeb,#6bbdee,#5380c5,#4f74ba,#4f74ba,#4f74ba,#4f74ba,#4f74ba,#4f74ba,#4f74ba,#4f74ba,#4f74ba,#4f74ba,#4f74ba,#4f74ba,#4f74ba,#4f74ba,#4f74ba,#4f74ba,#4f74ba,#4f74ba,#4f74ba,#4f74ba,#4f74ba,#4f74ba,#4f74ba,#4f74ba,#4f74ba,#4f74ba,#4f74ba,#4f74ba,#4f74ba,#4f74ba,#4f74ba,#4f74ba,#4f74ba,#4f74ba,#4f74ba,#4f74ba,#4f74ba,#4f74ba,#4f74ba,#4f74ba,#4f74ba,#4f74ba,#4f74ba,#4f74ba,#4f74ba,#4f74ba,#4f74ba,#4f74ba,#4f74ba,#4f74ba)"></div><div style="height:1.50px;background:linear-gradient(90deg,#4f74ba,#4f74ba,#4f74ba,#4f74ba,#4f74ba,#4f74ba,#4f74ba,#4f74ba,#4f74ba,#4f74ba,#4f74ba,#4f74ba,#4f74ba,#4f74ba,#4f74ba,#4f74ba,#4f74ba,#4f74ba,#4f74ba,#4f74ba,#4f74ba,#4f74ba,#4f74ba,#4f74ba,#4f74ba,#4f74ba,#4f74ba,#4f74ba,#4f74ba,#4f74ba,#4f74ba,#4f74ba,#4f74ba,#4f74ba,#4f74ba,#6bbced,#6dbeec,#6ebfeb,#6cbdee,#5483c8,#4f74ba,#4f74ba,#4f74ba,#4f74ba,#4f74ba,#4f74ba,#4f74ba,#4f74ba,#4f74ba,#4f74ba,#4f74ba,#4f74ba,#4f74ba,#4f74ba,#4f74ba,#4f74ba,#4f74ba,#4f74ba,#4f74ba,#4f74ba,#4f74ba,#4f74ba,#4f74ba,#4f74ba,#4f74ba,#4f74ba,#4f74ba,#4f74ba,#4f74ba,#4f74ba,#4f74ba,#4f74ba,#4f74ba,#4f74ba,#4f74ba,#4f74ba,#4f74ba,#4f74ba,#4f74ba,#4f74ba,#4f74ba,#4f74ba,#4f74ba,#4f74ba,#4f74ba,#4f74ba,#4f74ba,#4f74ba,#4f74ba,#4f74ba)"></div><div style="height:1.50px;background:linear-gradient(90deg,#4f74ba,#4f74ba,#4f74ba,#4f74ba,#4f74ba,#4f74ba,#4f74ba,#4f74ba,#4f74ba,#4f74ba,#4f74ba,#4f74ba,#4f74ba,#4f74ba,#4f74ba,#4f74ba,#4f74ba,#4f74ba,#4f74ba,#4f74ba,#4f74ba,#4f74ba,#4f74ba,#4f74ba,#4f74ba,#4f74ba,#4f74ba,#4f74ba,#4f74ba,#4f74ba,#4f74ba,#4f74ba,#4f74ba,#4f74ba,#4f74ba,#6bbced,#6ebfeb,#6ebfeb,#6cbeee,#5585ca,#4f74ba,#4f74ba,#4f74ba,#4f74ba,#4f74ba,#4f74ba,#4f74ba,#4f74ba,#4f74ba,#4f74ba,#4f74ba,#4f74ba,#4f74ba,#4f74ba,#4f74ba,#4f74ba,#4f74ba,#4f74ba,#4f74ba,#4f74ba,#4f74ba,#4f74ba,#4f74ba,#4f74ba,#4f74ba,#4f74ba,#4f74ba,#4f74ba,#4f74ba,#4f74ba,#4f74ba,#4f74ba,#4f74ba,#4f74ba,#4f74ba,#4f74ba,#4f74ba,#4f74ba,#4f74ba,#4f74ba,#4f74ba,#4f74ba,#4f74ba,#4f74ba,#4f74ba,#4f74ba,#4f74ba,#4f74ba,#4f74ba,#4f74ba)"></div><div style="height:1.50px;background:linear-gradient(90deg,#4f74ba,#4f74ba,#4f74ba,#4f74ba,#4f74ba,#4f74ba,#4f74ba,#4f74ba,#4f74ba,#4f74ba,#4f74ba,#4f74ba,#4f74ba,#4f74ba,#4f74ba,#4f74ba,#4f74ba,#4f74ba,#4f74ba,#4f74ba,#4f74ba,#4f74ba,#4f74ba,#4f74ba,#4f74ba,#4f74ba,#4f74ba,#4f74ba,#4f74ba,#4f74ba,#4f74ba,#4f74ba,#4f74ba,#4f74ba,#4f74ba,#6bbdee,#6ebfeb,#6ebfea,#6cbeee,#5586ca,#4f74ba,#4f74ba,#4f74ba,#4f74ba,#4f74ba,#4f74ba,#4f74ba,#4f74ba,#4f74ba,#4f74ba,#4f74ba,#4f74ba,#4f74ba,#4f74ba,#4f74ba,#4f74ba,#4f74ba,#4f74ba,#4f74ba,#4f74ba,#4f74ba,#4f74ba,#4f74ba,#4f74ba,#4f74ba,#4f74ba,#4f74ba,#4f74ba,#4f74ba,#4f74ba,#4f74ba,#4f74ba,#4f74ba,#4f74ba,#4f74ba,#4f74ba,#4f74ba,#4f74ba,#4f74ba,#4f74ba,#4f74ba,#4f74ba,#4f74ba,#4f74ba,#4f74ba,#4f74ba,#4f74ba,#4f74ba,#4f74ba,#4f74ba)"></div><div style="height:1.50px;background:linear-gradient(90deg,#4f74ba,#4f74ba,#4f74ba,#4f74ba,#4f74ba,#4f74ba,#4f74ba,#4f74ba,#4f74ba,#4f74ba,#4f74ba,#4f74ba,#4f74ba,#4f74ba,#4f74ba,#4f74ba,#4f74ba,#4f74ba,#4f74ba,#4f74ba,#4f74ba,#4f74ba,#4f74ba,#4f74ba,#4f74ba,#4f74ba,#4f74ba,#4f74ba,#4f74ba,#4f74ba,#4f74ba,#4f74ba,#4f74ba,#4f74ba,#4f74ba,#6cbdee,#6ebfea,#6fbfea,#6dbeec,#6bbbed,#537fc5,#4f74ba,#4f74ba,#4f74ba,#4f74ba,#4f74ba,#4f74ba,#4f74ba,#4f74ba,#4f74ba,#4f74ba,#4f74ba,#4f74ba,#4f74ba,#4f74ba,#4f74ba,#4f74ba,#4f74ba,#4f74ba,#4f74ba,#4f74ba,#4f74ba,#4f74ba,#4f74ba,#4f74ba,#4f74ba,#4f74ba,#4f74ba,#4f74ba,#4f74ba,#4f74ba,#4f74ba,#4f74ba,#4f74ba,#4f74ba,#4f74ba,#4f74ba,#4f74ba,#4f74ba,#4f74ba,#4f74ba,#4f74ba,#4f74ba,#4f74ba,#4f74ba,#4f74ba,#4f74ba,#4f74ba,#4f74ba,#4f74ba)"></div><div style="height:1.50px;background:linear-gradient(90deg,#4f74ba,#4f74ba,#4f74ba,#4f74ba,#4f74ba,#4f74ba,#4f74ba,#4f74ba,#4f74ba,#4f74ba,#4f74ba,#4f74ba,#4f74ba,#4f74ba,#4f74ba,#4f74ba,#4f74ba,#4f74ba,#4f74ba,#4f74ba,#4f74ba,#4f74ba,#4f74ba,#4f74ba,#4f74ba,#4f74ba,#4f74ba,#4f74ba,#4f74ba,#4f74ba,#4f74ba,#4f74ba,#4f74ba,#4f74ba,#4f74ba,#6cbeee,#6fbfe9,#6fbfe9,#6ebfeb,#6bbced,#5481c7,#4f74ba,#4f74ba,#4f74ba,#4f74ba,#4f74ba,#4f74ba,#4f74ba,#4f74ba,#4f74ba,#4f74ba,#4f74ba,#4f74ba,#4f74ba,#4f74ba,#4f74ba,#4f74ba,#4f74ba,#4f74ba,#4f74ba,#4f74ba,#4f74ba,#4f74ba,#4f74ba,#4f74ba,#4f74ba,#4f74ba,#4f74ba,#4f74ba,#4f74ba,#4f74ba,#4f74ba,#4f74ba,#4f74ba,#4f74ba,#4f74ba,#4f74ba,#4f74ba,#4f74ba,#4f74ba,#4f74ba,#4f74ba,#4f74ba,#4f74ba,#4f74ba,#4f74ba,#4f74ba,#4f74ba,#4f74ba,#4f74ba)"></div><div style="height:1.50px;background:linear-gradient(90deg,#4f74ba,#4f74ba,#4f74ba,#4f74ba,#4f74ba,#4f74ba,#4f74ba,#4f74ba,#4f74ba,#4f74ba,#4f74ba,#4f74ba,#4f74ba,#4f74ba,#4f74ba,#4f74ba,#4f74ba,#4f74ba,#4f74ba,#4f74ba,#4f74ba,#4f74ba,#4f74ba,#4f74ba,#4f74ba,#4f74ba,#4f74ba,#4f74ba,#4f74ba,#4f74ba,#4f74ba,#4f74ba,#4f74ba,#4f74ba,#4f74ba,#6cbeed,#6fbfe9,#6fbfe8,#6ebfea,#6bbdee,#5585c9,#527dc3,#4f74ba,#4f74ba,#4f74ba,#4f74ba,#4f74ba,#4f74ba,#4f74ba,#4f74ba,#4f74ba,#4f74ba,#4f74ba,#4f74ba,#4f74ba,#4f74ba,#4f74ba,#4f74ba,#4f74ba,#4f74ba,#4f74ba,#4f74ba,#4f74ba,#4f74ba,#4f74ba,#4f74ba,#4f74ba,#4f74ba,#5381c6,#5482c7,#4f74ba,#4f74ba,#4f74ba,#4f74ba,#4f74ba,#4f74ba,#4f74ba,#4f74ba,#4f74ba,#4f74ba,#4f74ba,#4f74ba,#4f74ba,#4f74ba,#4f74ba,#4f74ba,#4f74ba,#4f74ba,#4f74ba,#4f74ba)"></div><div style="height:1.50px;background:linear-gradient(90deg,#4f74ba,#4f74ba,#4f74ba,#4f74ba,#4f74ba,#4f74ba,#4f74ba,#4f74ba,#4f74ba,#4f74ba,#4f74ba,#4f74ba,#4f74ba,#4f74ba,#4f74ba,#4f74ba,#4f74ba,#4f74ba,#4f74ba,#4f74ba,#4f74ba,#4f74ba,#4f74ba,#4f74ba,#4f74ba,#4f74ba,#4f74ba,#4f74ba,#4f74ba,#4f74ba,#4f74ba,#4f74ba,#4f74ba,#4f74ba,#4f74ba,#6dbeed,#70bfe8,#70bfe8,#6fbfe9,#6cbdee,#5585ca,#527dc3,#4f74ba,#4f74ba,#4f74ba,#4f74ba,#4f74ba,#4f74ba,#4f74ba,#4f74ba,#4f74ba,#4f74ba,#4f74ba,#4f74ba,#4f74ba,#4f74ba,#4f74ba,#4f74ba,#4f74ba,#4f74ba,#4f74ba,#4f74ba,#4f74ba,#4f74ba,#4f74ba,#4f74ba,#4f74ba,#4f74ba,#578cd0,#588fd2,#4f74ba,#4f74ba,#4f74ba,#4f74ba,#4f74ba,#4f74ba,#4f74ba,#4f74ba,#4f74ba,#4f74ba,#4f74ba,#4f74ba,#4f74ba,#4f74ba,#4f74ba,#4f74ba,#4f74ba,#4f74ba,#4f74ba,#4f74ba)"></div><div style="height:1.50px;background:linear-gradient(90deg,#4f74ba,#4f74ba,#4f74ba,#4f74ba,#4f74ba,#4f74ba,#4f74ba,#4f74ba,#4f74ba,#4f74ba,#4f74ba,#4f74ba,#4f74ba,#4f74ba,#4f74ba,#4f74ba,#4f74ba,#4f74ba,#4f74ba,#4f74ba,#4f74ba,#4f74ba,#4f74ba,#4f74ba,#4f74ba,#4f74ba,#4f74ba,#4f74ba,#4f74ba,#4f74ba,#4f74ba,#4f74ba,#4f74ba,#4f74ba,#4f74ba,#6dbeed,#70bfe7,#70c0e7,#70bfe8,#6dbeed,#6bbbed,#5481c6,#4f74ba,#4f74ba,#4f74ba,#4f74ba,#4f74ba,#4f74ba,#4f74ba,#4f74ba,#4f74ba,#4f74ba,#4f74ba,#4f74ba,#4f74ba,#4f74ba,#4f74ba,#4f74ba,#4f74ba,#4f74ba,#4f74ba,#4f74ba,#4f74ba,#4f74ba,#4f74ba,#4f74ba,#4f74ba,#4f74ba,#5688cc,#5689cd,#4f74ba,#4f74ba,#4f74ba,#4f74ba,#4f74ba,#4f74ba,#4f74ba,#4f74ba,#4f74ba,#4f74ba,#4f74ba,#4f74ba,#4f74ba,#4f74ba,#4f74ba,#4f74ba,#4f74ba,#4f74ba,#4f74ba,#4f74ba)"></div><div style="height:1.50px;background:linear-gradient(90deg,#4f74ba,#4f74ba,#4f74ba,#4f74ba,#4f74ba,#4f74ba,#4f74ba,#4f74ba,#4f74ba,#4f74ba,#4f74ba,#4f74ba,#4f74ba,#4f74ba,#4f74ba,#4f74ba,#4f74ba,#4f74ba,#4f74ba,#4f74ba,#4f74ba,#4f74ba,#4f74ba,#4f74ba,#4f74ba,#4f74ba,#4f74ba,#4f74ba,#4f74ba,#4f74ba,#4f74ba,#4f74ba,#4f74ba,#4f74ba,#6bbced,#6ebfeb,#71c0e6,#71c0e6,#70c0e7,#6ebfeb,#6bbcee,#5585c9,#537fc4,#4f74ba,#4f74ba,#4f74ba,#4f74ba,#4f74ba,#4f74ba,#4f74ba,#4f74ba,#4f74ba,#4f74ba,#4f74ba,#4f74ba,#4f74ba,#4f74ba,#4f74ba,#4f74ba,#4f74ba,#4f74ba,#4f74ba,#4f74ba,#4f74ba,#4f74ba,#4f74ba,#4f74ba,#4f74ba,#4f74ba,#4f74ba,#4f74ba,#4f74ba,#4f74ba,#4f74ba,#4f74ba,#4f74ba,#4f74ba,#4f74ba,#4f74ba,#4f74ba,#4f74ba,#4f74ba,#4f74ba,#4f74ba,#4f74ba,#4f74ba,#4f74ba,#4f74ba,#4f74ba,#4f74ba)"></div><div style="height:1.50px;background:linear-gradient(90deg,#4f74ba,#4f74ba,#4f74ba,#4f74ba,#4f74ba,#4f74ba,#4f74ba,#4f74ba,#4f74ba,#4f74ba,#4f74ba,#4f74ba,#4f74ba,#4f74ba,#4f74ba,#4f74ba,#4f74ba,#4f74ba,#4f74ba,#4f74ba,#4f74ba,#4f74ba,#4f74ba,#4f74ba,#4f74ba,#4f74ba,#4f74ba,#4f74ba,#4f74ba,#4f74ba,#4f74ba,#4f74ba,#4f74ba,#4f74ba,#6bbcee,#6fbfea,#71c0e6,#71c0e5,#71c0e6,#6ebfeb,#6bbdee,#5585ca,#537fc5,#4f74ba,#4f74ba,#4f74ba,#4f74ba,#4f74ba,#4f74ba,#4f74ba,#4f74ba,#4f74ba,#4f74ba,#4f74ba,#4f74ba,#4f74ba,#4f74ba,#4f74ba,#4f74ba,#4f74ba,#4f74ba,#4f74ba,#4f74ba,#4f74ba,#4f74ba,#4f74ba,#4f74ba,#4f74ba,#4f74ba,#4f74ba,#4f74ba,#4f74ba,#4f74ba,#4f74ba,#4f74ba,#4f74ba,#4f74ba,#4f74ba,#4f74ba,#4f74ba,#4f74ba,#4f74ba,#4f74ba,#4f74ba,#4f74ba,#4f74ba,#4f74ba,#4f74ba,#4f74ba,#4f74ba)"></div><div style="height:1.50px;background:linear-gradient(90deg,#4f74ba,#4f74ba,#4f74ba,#4f74ba,#4f74ba,#4f74ba,#4f74ba,#4f74ba,#4f74ba,#4f74ba,#4f74ba,#4f74ba,#4f74ba,#4f74ba,#4f74ba,#4f74ba,#4f74ba,#4f74ba,#4f74ba,#4f74ba,#4f74ba,#4f74ba,#4f74ba,#4f74ba,#4f74ba,#4f74ba,#4f74ba,#4f74ba,#4f74ba,#4f74ba,#4f74ba,#4f74ba,#4f74ba,#4f74ba,#6cbdee,#6fbfe9,#72c0e5,#72c0e5,#71c0e5,#6fbfea,#6bbdee,#5586ca,#5380c5,#4f74ba,#4f74ba,#4f74ba,#4f74ba,#4f74ba,#4f74ba,#4f74ba,#4f74ba,#4f74ba,#4f74ba,#4f74ba,#4f74ba,#4f74ba,#4f74ba,#4f74ba,#4f74ba,#4f74ba,#4f74ba,#4f74ba,#4f74ba,#4f74ba,#4f74ba,#4f74ba,#4f74ba,#4f74ba,#4f74ba,#4f74ba,#4f74ba,#4f74ba,#4f74ba,#4f74ba,#4f74ba,#4f74ba,#4f74ba,#4f74ba,#4f74ba,#4f74ba,#4f74ba,#4f74ba,#4f74ba,#4f74ba,#4f74ba,#4f74ba,#4f74ba,#4f74ba,#4f74ba,#4f74ba)"></div><div style="height:1.50px;background:linear-gradient(90deg,#4f74ba,#4f74ba,#4f74ba,#4f74ba,#4f74ba,#4f74ba,#4f74ba,#4f74ba,#4f74ba,#4f74ba,#4f74ba,#4f74ba,#4f74ba,#4f74ba,#4f74ba,#4f74ba,#4f74ba,#4f74ba,#4f74ba,#4f74ba,#4f74ba,#4f74ba,#4f74ba,#4f74ba,#4f74ba,#4f74ba,#4f74ba,#4f74ba,#4f74ba,#4f74ba,#4f74ba,#4f74ba,#4f74ba,#4f74ba,#6cbeee,#70bfe7,#72c0e4,#72c0e4,#72c0e4,#70bfe7,#6dbeec,#6bbced,#5585c9,#5380c5,#4f74ba,#4f74ba,#4f74ba,#4f74ba,#4f74ba,#4f74ba,#4f74ba,#4f74ba,#4f74ba,#4f74ba,#4f74ba,#4f74ba,#4f74ba,#4f74ba,#4f74ba,#4f74ba,#4f74ba,#4f74ba,#4f74ba,#4f74ba,#4f74ba,#4f74ba,#4f74ba,#4f74ba,#4f74ba,#4f74ba,#4f74ba,#4f74ba,#4f74ba,#4f74ba,#4f74ba,#4f74ba,#4f74ba,#4f74ba,#4f74ba,#4f74ba,#4f74ba,#4f74ba,#4f74ba,#4f74ba,#4f74ba,#4f74ba,#4f74ba,#4f74ba,#4f74ba,#4f74ba)"></div><div style="height:1.50px;background:linear-gradient(90deg,#4f74ba,#4f74ba,#4f74ba,#4f74ba,#4f74ba,#4f74ba,#4f74ba,#4f74ba,#4f74ba,#4f74ba,#4f74ba,#4f74ba,#4f74ba,#4f74ba,#4f74ba,#4f74ba,#4f74ba,#4f74ba,#4f74ba,#4f74ba,#4f74ba,#4f74ba,#4f74ba,#4f74ba,#4f74ba,#4f74ba,#4f74ba,#4f74ba,#4f74ba,#4f74ba,#4f74ba,#4f74ba,#4f74ba,#6bbbed,#6dbeec,#71c0e6,#73c0e3,#73c0e3,#73c0e3,#72c0e5,#6fbfe8,#6dbeed,#6bbcee,#5586cb,#5483c8,#537fc5,#4f74ba,#4f74ba,#578cd0,#578ace,#4f74ba,#4f74ba,#4f74ba,#4f74ba,#4f74ba,#4f74ba,#4f74ba,#4f74ba,#4f74ba,#4f74ba,#4f74ba,#4f74ba,#4f74ba,#4f74ba,#4f74ba,#4f74ba,#4f74ba,#4f74ba,#4f74ba,#4f74ba,#4f74ba,#4f74ba,#4f74ba,#4f74ba,#4f74ba,#4f74ba,#4f74ba,#4f74ba,#4f74ba,#4f74ba,#4f74ba,#4f74ba,#4f74ba,#4f74ba,#4f74ba,#4f74ba,#4f74ba,#4f74ba,#4f74ba,#4f74ba)"></div><div style="height:1.50px;background:linear-gradient(90deg,#4f74ba,#4f74ba,#4f74ba,#4f74ba,#4f74ba,#4f74ba,#4f74ba,#4f74ba,#4f74ba,#4f74ba,#4f74ba,#4f74ba,#4f74ba,#4f74ba,#4f74ba,#4f74ba,#4f74ba,#4f74ba,#4f74ba,#4f74ba,#4f74ba,#4f74ba,#4f74ba,#4f74ba,#4f74ba,#4f74ba,#4f74ba,#4f74ba,#4f74ba,#4f74ba,#4f74ba,#4f74ba,#4f74ba,#6bbced,#6ebfeb,#72c0e5,#73c1e2,#73c1e2,#73c1e2,#72c0e4,#70bfe8,#6dbeec,#6bbcee,#5586cb,#5482c7,#537fc4,#4f74ba,#4f74ba,#5483c8,#5481c7,#4f74ba,#4f74ba,#4f74ba,#4f74ba,#4f74ba,#4f74ba,#4f74ba,#4f74ba,#4f74ba,#4f74ba,#4f74ba,#4f74ba,#4f74ba,#4f74ba,#4f74ba,#4f74ba,#4f74ba,#4f74ba,#4f74ba,#4f74ba,#4f74ba,#4f74ba,#4f74ba,#4f74ba,#4f74ba,#4f74ba,#4f74ba,#4f74ba,#4f74ba,#4f74ba,#4f74ba,#4f74ba,#4f74ba,#4f74ba,#4f74ba,#4f74ba,#4f74ba,#4f74ba,#4f74ba,#4f74ba)"></div><div style="height:1.50px;background:linear-gradient(90deg,#4f74ba,#4f74ba,#4f74ba,#4f74ba,#4f74ba,#4f74ba,#4f74ba,#4f74ba,#4f74ba,#4f74ba,#4f74ba,#4f74ba,#4f74ba,#4f74ba,#4f74ba,#4f74ba,#4f74ba,#4f74ba,#4f74ba,#4f74ba,#4f74ba,#4f74ba,#4f74ba,#4f74ba,#4f74ba,#4f74ba,#4f74ba,#4f74ba,#4f74ba,#4f74ba,#4f74ba,#4f74ba,#4f74ba,#6bbced,#6ebfea,#72c0e3,#74c1e0,#74c1e0,#74c1e0,#73c1e2,#71c0e5,#6fbfea,#6cbeee,#6bbbed,#5585ca,#5481c7,#537ec4,#4f74ba,#4f74ba,#4f74ba,#4f74ba,#4f74ba,#4f74ba,#4f74ba,#4f74ba,#4f74ba,#4f74ba,#4f74ba,#4f74ba,#4f74ba,#4f74ba,#4f74ba,#4f74ba,#4f74ba,#4f74ba,#4f74ba,#5483c8,#4f74ba,#4f74ba,#4f74ba,#4f74ba,#4f74ba,#4f74ba,#4f74ba,#4f74ba,#4f74ba,#4f74ba,#4f74ba,#4f74ba,#4f74ba,#4f74ba,#4f74ba,#4f74ba,#4f74ba,#4f74ba,#4f74ba,#4f74ba,#4f74ba,#4f74ba,#4f74ba)"></div><div style="height:1.50px;background:linear-gradient(90deg,#4f74ba,#4f74ba,#4f74ba,#4f74ba,#4f74ba,#4f74ba,#4f74ba,#4f74ba,#4f74ba,#4f74ba,#4f74ba,#4f74ba,#4f74ba,#4f74ba,#4f74ba,#4f74ba,#4f74ba,#4f74ba,#4f74ba,#4f74ba,#4f74ba,#4f74ba,#4f74ba,#4f74ba,#4f74ba,#4f74ba,#4f74ba,#4f74ba,#4f74ba,#4f74ba,#4f74ba,#4f74ba,#4f74ba,#6bbced,#6fbfea,#73c1e2,#75c1df,#75c1df,#75c1df,#75c1e0,#73c0e3,#71c0e7,#6ebfeb,#6cbdee,#6bbbed,#5585ca,#5482c7,#537fc5,#4f74ba,#4f74ba,#4f74ba,#4f74ba,#4f74ba,#4f74ba,#4f74ba,#4f74ba,#4f74ba,#4f74ba,#4f74ba,#4f74ba,#4f74ba,#4f74ba,#4f74ba,#4f74ba,#4f74ba,#568ace,#5992d5,#5481c6,#4f74ba,#4f74ba,#4f74ba,#4f74ba,#4f74ba,#4f74ba,#4f74ba,#4f74ba,#4f74ba,#4f74ba,#4f74ba,#4f74ba,#4f74ba,#4f74ba,#4f74ba,#4f74ba,#4f74ba,#4f74ba,#4f74ba,#4f74ba,#4f74ba,#4f74ba)"></div><div style="height:1.50px;background:linear-gradient(90deg,#4f74ba,#4f74ba,#4f74ba,#4f74ba,#4f74ba,#4f74ba,#4f74ba,#4f74ba,#4f74ba,#4f74ba,#4f74ba,#4f74ba,#4f74ba,#4f74ba,#4f74ba,#4f74ba,#4f74ba,#4f74ba,#4f74ba,#4f74ba,#4f74ba,#4f74ba,#4f74ba,#4f74ba,#4f74ba,#4f74ba,#4f74ba,#4f74ba,#4f74ba,#4f74ba,#4f74ba,#4f74ba,#4f74ba,#6bbdee,#70bfe8,#74c1e1,#76c2de,#76c2de,#76c2de,#75c1de,#74c1e1,#71c0e5,#6ebfea,#6cbeee,#6bbbed,#5585ca,#5482c7,#537fc5,#527cc2,#4f74ba,#4f74ba,#4f74ba,#4f74ba,#4f74ba,#4f74ba,#4f74ba,#4f74ba,#4f74ba,#4f74ba,#4f74ba,#4f74ba,#4f74ba,#4f74ba,#4f74ba,#4f74ba,#5483c8,#5587cb,#4f74ba,#4f74ba,#4f74ba,#4f74ba,#4f74ba,#4f74ba,#4f74ba,#4f74ba,#4f74ba,#4f74ba,#4f74ba,#4f74ba,#4f74ba,#4f74ba,#4f74ba,#4f74ba,#4f74ba,#4f74ba,#4f74ba,#4f74ba,#4f74ba,#4f74ba,#4f74ba)"></div><div style="height:1.50px;background:linear-gradient(90deg,#4f74ba,#4f74ba,#4f74ba,#4f74ba,#4f74ba,#4f74ba,#4f74ba,#4f74ba,#4f74ba,#4f74ba,#4f74ba,#4f74ba,#4f74ba,#4f74ba,#4f74ba,#4f74ba,#4f74ba,#4f74ba,#4f74ba,#4f74ba,#4f74ba,#4f74ba,#4f74ba,#4f74ba,#4f74ba,#4f74ba,#4f74ba,#4f74ba,#4f74ba,#4f74ba,#4f74ba,#4f74ba,#4f74ba,#6cbeee,#71c0e6,#75c1df,#77c2dc,#77c2dc,#77c2dc,#76c2dd,#74c1e0,#71c0e5,#6ebfea,#6cbdee,#6bbbed,#5585c9,#5482c7,#537fc4,#4f74ba,#4f74ba,#4f74ba,#4f74ba,#4f74ba,#4f74ba,#4f74ba,#4f74ba,#4f74ba,#4f74ba,#4f74ba,#4f74ba,#4f74ba,#4f74ba,#4f74ba,#4f74ba,#4f74ba,#4f74ba,#4f74ba,#4f74ba,#4f74ba,#4f74ba,#4f74ba,#4f74ba,#4f74ba,#4f74ba,#4f74ba,#4f74ba,#4f74ba,#4f74ba,#4f74ba,#4f74ba,#4f74ba,#4f74ba,#4f74ba,#4f74ba,#4f74ba,#4f74ba,#4f74ba,#4f74ba,#4f74ba,#4f74ba)"></div><div style="height:1.50px;background:linear-gradient(90deg,#4f74ba,#4f74ba,#4f74ba,#4f74ba,#4f74ba,#4f74ba,#4f74ba,#4f74ba,#4f74ba,#4f74ba,#4f74ba,#4f74ba,#4f74ba,#4f74ba,#4f74ba,#4f74ba,#4f74ba,#4f74ba,#4f74ba,#4f74ba,#4f74ba,#4f74ba,#4f74ba,#4f74ba,#4f74ba,#4f74ba,#4f74ba,#4f74ba,#4f74ba,#4f74ba,#4f74ba,#4f74ba,#4f74ba,#6dbeed,#72c0e5,#76c2dd,#78c2db,#78c2db,#78c2db,#77c2dc,#75c1df,#72c0e3,#6fbfe9,#6cbeee,#6bbced,#5586ca,#5483c8,#5380c5,#527dc3,#4f74ba,#4f74ba,#4f74ba,#4f74ba,#4f74ba,#4f74ba,#4f74ba,#4f74ba,#4f74ba,#4f74ba,#4f74ba,#4f74ba,#4f74ba,#4f74ba,#4f74ba,#4f74ba,#4f74ba,#4f74ba,#4f74ba,#4f74ba,#4f74ba,#4f74ba,#4f74ba,#4f74ba,#4f74ba,#4f74ba,#4f74ba,#4f74ba,#4f74ba,#4f74ba,#4f74ba,#4f74ba,#4f74ba,#4f74ba,#4f74ba,#4f74ba,#4f74ba,#4f74ba,#4f74ba,#4f74ba,#4f74ba)"></div><div style="height:1.50px;background:linear-gradient(90deg,#4f74ba,#4f74ba,#4f74ba,#4f74ba,#4f74ba,#4f74ba,#4f74ba,#4f74ba,#4f74ba,#4f74ba,#4f74ba,#4f74ba,#4f74ba,#4f74ba,#4f74ba,#4f74ba,#4f74ba,#4f74ba,#4f74ba,#4f74ba,#4f74ba,#4f74ba,#4f74ba,#4f74ba,#4f74ba,#4f74ba,#4f74ba,#4f74ba,#4f74ba,#4f74ba,#4f74ba,#4f74ba,#6bbced,#6ebfea,#73c1e2,#77c2db,#78c2d9,#78c2d9,#78c2d9,#78c2da,#77c2dc,#74c1e0,#71c0e5,#6ebfea,#6cbeee,#6bbbed,#5585ca,#5483c8,#5380c6,#537ec3,#4f74ba,#4f74ba,#4f74ba,#4f74ba,#4f74ba,#4f74ba,#5482c7,#5689cd,#568ace,#5484c9,#4f74ba,#4f74ba,#4f74ba,#4f74ba,#4f74ba,#4f74ba,#4f74ba,#4f74ba,#4f74ba,#4f74ba,#4f74ba,#4f74ba,#4f74ba,#4f74ba,#4f74ba,#4f74ba,#4f74ba,#4f74ba,#4f74ba,#4f74ba,#4f74ba,#4f74ba,#4f74ba,#4f74ba,#4f74ba,#4f74ba,#4f74ba,#4f74ba,#4f74ba,#4f74ba)"></div><div style="height:1.50px;background:linear-gradient(90deg,#4f74ba,#4f74ba,#4f74ba,#4f74ba,#4f74ba,#4f74ba,#4f74ba,#4f74ba,#4f74ba,#4f74ba,#4f74ba,#4f74ba,#4f74ba,#4f74ba,#4f74ba,#4f74ba,#4f74ba,#4f74ba,#4f74ba,#4f74ba,#4f74ba,#4f74ba,#4f74ba,#4f74ba,#4f74ba,#4f74ba,#4f74ba,#4f74ba,#4f74ba,#4f74ba,#4f74ba,#4f74ba,#6cbeee,#70bfe7,#75c1df,#79c2d9,#79c3d8,#79c3d8,#79c3d8,#79c3d8,#78c2da,#76c2dd,#74c1e2,#71c0e6,#6ebfeb,#6cbdee,#6bbbed,#5585ca,#5483c8,#5481c6,#537ec4,#527cc2,#4f74ba,#4f74ba,#4f74ba,#4f74ba,#5586cb,#5890d3,#5992d5,#5688cc,#4f74ba,#4f74ba,#4f74ba,#4f74ba,#5689cd,#5585c9,#4f74ba,#4f74ba,#4f74ba,#4f74ba,#4f74ba,#4f74ba,#4f74ba,#4f74ba,#4f74ba,#4f74ba,#4f74ba,#4f74ba,#4f74ba,#4f74ba,#4f74ba,#4f74ba,#4f74ba,#4f74ba,#4f74ba,#4f74ba,#4f74ba,#4f74ba,#4f74ba,#4f74ba)"></div><div style="height:1.50px;background:linear-gradient(90deg,#4f74ba,#4f74ba,#4f74ba,#4f74ba,#4f74ba,#4f74ba,#4f74ba,#4f74ba,#4f74ba,#4f74ba,#4f74ba,#4f74ba,#4f74ba,#4f74ba,#4f74ba,#4f74ba,#4f74ba,#4f74ba,#4f74ba,#4f74ba,#4f74ba,#4f74ba,#4f74ba,#4f74ba,#4f74ba,#4f74ba,#4f74ba,#4f74ba,#4f74ba,#4f74ba,#4f74ba,#6bbbed,#6dbeed,#71c0e5,#76c2dd,#7ac3d8,#7ac3d7,#7ac3d7,#7ac3d7,#7ac3d7,#7ac3d8,#78c2da,#76c2de,#73c1e2,#71c0e6,#6ebfeb,#6cbeee,#6bbced,#5586cb,#5584c9,#5482c7,#5380c6,#537ec4,#527cc2,#4f74ba,#4f74ba,#5484c9,#578bcf,#578cd0,#5585ca,#4f74ba,#4f74ba,#4f74ba,#5482c8,#5991d5,#568ace,#4f74ba,#4f74ba,#4f74ba,#4f74ba,#4f74ba,#4f74ba,#4f74ba,#4f74ba,#4f74ba,#4f74ba,#4f74ba,#4f74ba,#4f74ba,#4f74ba,#4f74ba,#4f74ba,#4f74ba,#4f74ba,#4f74ba,#4f74ba,#4f74ba,#4f74ba,#4f74ba,#4f74ba)"></div><div style="height:1.50px;background:linear-gradient(90deg,#4f74ba,#4f74ba,#4f74ba,#4f74ba,#4f74ba,#4f74ba,#4f74ba,#4f74ba,#4f74ba,#4f74ba,#4f74ba,#4f74ba,#4f74ba,#4f74ba,#4f74ba,#4f74ba,#4f74ba,#4f74ba,#4f74ba,#4f74ba,#4f74ba,#4f74ba,#4f74ba,#4f74ba,#4f74ba,#4f74ba,#4f74ba,#4f74ba,#4f74ba,#4f74ba,#4f74ba,#4f74ba,#6cbeee,#71c0e5,#77c2dd,#7ac3d6,#7bc3d5,#7bc3d5,#7bc3d5,#7bc3d5,#7ac3d6,#79c2d9,#76c2dd,#73c1e2,#70bfe7,#6dbeec,#6bbdee,#6bbbed,#578ace,#5688cc,#5481c6,#537fc5,#527dc3,#4f74ba,#4f74ba,#4f74ba,#4f74ba,#568ace,#578bcf,#5483c8,#4f74ba,#4f74ba,#4f74ba,#4f74ba,#5483c8,#4f74ba,#4f74ba,#4f74ba,#4f74ba,#4f74ba,#4f74ba,#4f74ba,#4f74ba,#4f74ba,#4f74ba,#4f74ba,#4f74ba,#4f74ba,#4f74ba,#4f74ba,#4f74ba,#4f74ba,#4f74ba,#4f74ba,#4f74ba,#4f74ba,#4f74ba,#4f74ba,#4f74ba,#4f74ba)"></div><div style="height:1.50px;background:linear-gradient(90deg,#4f74ba,#4f74ba,#4f74ba,#4f74ba,#4f74ba,#4f74ba,#4f74ba,#4f74ba,#4f74ba,#4f74ba,#4f74ba,#4f74ba,#4f74ba,#4f74ba,#4f74ba,#4f74ba,#4f74ba,#4f74ba,#4f74ba,#4f74ba,#4f74ba,#4f74ba,#4f74ba,#4f74ba,#4f74ba,#4f74ba,#4f74ba,#4f74ba,#4f74ba,#4f74ba,#4f74ba,#4f74ba,#6cbeee,#71c0e5,#77c2db,#7bc3d5,#7cc4d3,#7cc4d3,#7cc4d3,#7cc4d3,#7bc3d5,#79c3d8,#77c2dc,#73c1e2,#70bfe7,#6dbeec,#6bbdee,#6bbbed,#5993d6,#588ed1,#5482c7,#537ec4,#527cc2,#4f74ba,#4f74ba,#4f74ba,#5482c7,#588ed2,#5992d5,#5586ca,#4f74ba,#4f74ba,#4f74ba,#4f74ba,#4f74ba,#4f74ba,#4f74ba,#4f74ba,#4f74ba,#4f74ba,#4f74ba,#4f74ba,#4f74ba,#4f74ba,#4f74ba,#4f74ba,#4f74ba,#4f74ba,#4f74ba,#4f74ba,#4f74ba,#4f74ba,#4f74ba,#4f74ba,#4f74ba,#4f74ba,#4f74ba,#4f74ba,#4f74ba,#4f74ba)"></div><div style="height:1.50px;background:linear-gradient(90deg,#4f74ba,#4f74ba,#4f74ba,#4f74ba,#4f74ba,#4f74ba,#4f74ba,#4f74ba,#4f74ba,#4f74ba,#4f74ba,#4f74ba,#4f74ba,#4f74ba,#4f74ba,#4f74ba,#4f74ba,#4f74ba,#4f74ba,#4f74ba,#4f74ba,#4f74ba,#4f74ba,#4f74ba,#4f74ba,#4f74ba,#4f74ba,#4f74ba,#4f74ba,#4f74ba,#4f74ba,#6bbced,#6ebfeb,#74c1e1,#79c3d8,#7dc4d2,#7ec4d0,#7ec4d0,#7ec4d0,#7dc4d0,#7dc4d3,#7ac3d6,#77c2db,#74c1e1,#70c0e7,#6dbeec,#6bbcee,#5587cb,#568ace,#5687cc,#5380c6,#537ec4,#4f74ba,#4f74ba,#4f74ba,#4f74ba,#5688cc,#588dd1,#578bcf,#5483c8,#4f74ba,#4f74ba,#4f74ba,#4f74ba,#4f74ba,#4f74ba,#4f74ba,#4f74ba,#4f74ba,#4f74ba,#4f74ba,#4f74ba,#4f74ba,#4f74ba,#4f74ba,#4f74ba,#4f74ba,#4f74ba,#4f74ba,#4f74ba,#4f74ba,#4f74ba,#4f74ba,#4f74ba,#4f74ba,#4f74ba,#4f74ba,#4f74ba,#4f74ba,#4f74ba)"></div><div style="height:1.50px;background:linear-gradient(90deg,#4f74ba,#4f74ba,#4f74ba,#4f74ba,#4f74ba,#4f74ba,#4f74ba,#4f74ba,#4f74ba,#4f74ba,#4f74ba,#4f74ba,#4f74ba,#4f74ba,#4f74ba,#4f74ba,#4f74ba,#4f74ba,#4f74ba,#4f74ba,#4f74ba,#4f74ba,#4f74ba,#4f74ba,#4f74ba,#4f74ba,#4f74ba,#4f74ba,#4f74ba,#4f74ba,#6bbbed,#6dbeed,#72c0e5,#77c2dc,#7cc4d4,#7ec4ce,#7ec4cd,#7ec4cd,#7ec4cd,#7ec4cd,#7ec4cf,#7cc4d4,#79c3d8,#76c1de,#72c0e3,#6fbfe9,#6cbeee,#6bbced,#5586cb,#5584c9,#5482c7,#5380c5,#537ec4,#527cc2,#4f74ba,#5381c6,#578acf,#5a94d7,#588fd2,#5585ca,#4f74ba,#4f74ba,#4f74ba,#4f74ba,#4f74ba,#4f74ba,#4f74ba,#4f74ba,#4f74ba,#4f74ba,#4f74ba,#4f74ba,#4f74ba,#4f74ba,#4f74ba,#4f74ba,#4f74ba,#4f74ba,#4f74ba,#4f74ba,#4f74ba,#4f74ba,#4f74ba,#4f74ba,#4f74ba,#4f74ba,#4f74ba,#4f74ba,#4f74ba,#4f74ba)"></div><div style="height:1.50px;background:linear-gradient(90deg,#4f74ba,#4f74ba,#4f74ba,#4f74ba,#4f74ba,#4f74ba,#4f74ba,#4f74ba,#4f74ba,#4f74ba,#4f74ba,#4f74ba,#4f74ba,#4f74ba,#4f74ba,#4f74ba,#4f74ba,#4f74ba,#4f74ba,#4f74ba,#4f74ba,#4f74ba,#4f74ba,#4f74ba,#4f74ba,#4f74ba,#4f74ba,#4f74ba,#4f74ba,#4f74ba,#6bbcee,#6fbfea,#74c1e1,#79c3d8,#7ec4d0,#7fc4ca,#80c4ca,#80c4ca,#80c4ca,#80c4ca,#7fc4cb,#7ec4cf,#7cc4d4,#79c3d9,#76c1de,#72c0e4,#6fbfe9,#6cbeed,#6bbced,#5587cb,#5585ca,#5483c8,#5481c6,#537fc5,#537ec4,#527cc2,#5586cb,#578bcf,#5689cd,#5482c7,#4f74ba,#4f74ba,#4f74ba,#4f74ba,#5482c7,#4f74ba,#4f74ba,#4f74ba,#4f74ba,#4f74ba,#4f74ba,#4f74ba,#4f74ba,#4f74ba,#4f74ba,#4f74ba,#4f74ba,#4f74ba,#4f74ba,#4f74ba,#4f74ba,#4f74ba,#4f74ba,#4f74ba,#4f74ba,#4f74ba,#4f74ba,#4f74ba,#4f74ba,#4f74ba)"></div><div style="height:1.50px;background:linear-gradient(90deg,#4f74ba,#4f74ba,#4f74ba,#4f74ba,#4f74ba,#4f74ba,#4f74ba,#4f74ba,#4f74ba,#4f74ba,#4f74ba,#4f74ba,#4f74ba,#4f74ba,#4f74ba,#4f74ba,#4f74ba,#4f74ba,#4f74ba,#4f74ba,#4f74ba,#4f74ba,#4f74ba,#4f74ba,#4f74ba,#4f74ba,#4f74ba,#4f74ba,#4f74ba,#4f74ba,#6cbdee,#70bfe8,#75c1df,#7bc3d6,#7fc4cc,#80c4c7,#80c4c6,#80c4c6,#80c4c6,#80c4c6,#80c4c7,#7fc4ca,#7ec4cf,#7cc3d4,#79c2d9,#75c1df,#72c0e4,#6fbfe9,#6cbeed,#6bbced,#5587cb,#5585ca,#5483c8,#5482c7,#5380c6,#537fc5,#527dc3,#5482c7,#4f74ba,#5587cb,#5586cb,#4f74ba,#4f74ba,#5585ca,#5a94d7,#5483c8,#4f74ba,#4f74ba,#4f74ba,#4f74ba,#4f74ba,#4f74ba,#4f74ba,#4f74ba,#4f74ba,#4f74ba,#4f74ba,#4f74ba,#4f74ba,#4f74ba,#4f74ba,#4f74ba,#4f74ba,#4f74ba,#4f74ba,#4f74ba,#4f74ba,#4f74ba,#4f74ba,#4f74ba)"></div><div style="height:1.50px;background:linear-gradient(90deg,#4f74ba,#4f74ba,#4f74ba,#4f74ba,#4f74ba,#4f74ba,#4f74ba,#4f74ba,#4f74ba,#4f74ba,#4f74ba,#4f74ba,#4f74ba,#4f74ba,#4f74ba,#4f74ba,#4f74ba,#4f74ba,#4f74ba,#4f74ba,#4f74ba,#4f74ba,#4f74ba,#4f74ba,#4f74ba,#4f74ba,#4f74ba,#4f74ba,#4f74ba,#6bbbed,#6dbeed,#72c0e5,#77c2db,#7dc4d3,#80c4c8,#81c4c3,#82c4c3,#82c4c3,#82c4c3,#82c4c3,#81c4c3,#80c4c6,#7fc4cc,#7dc4d2,#7ac3d7,#76c2dd,#73c1e2,#70bfe8,#6dbeec,#6bbdee,#6bbbed,#5586ca,#5584c9,#5482c8,#5481c6,#5380c5,#537ec4,#527dc3,#5483c8,#5990d4,#588fd2,#5482c7,#4f74ba,#4f74ba,#5586cb,#4f74ba,#4f74ba,#4f74ba,#4f74ba,#4f74ba,#4f74ba,#4f74ba,#4f74ba,#4f74ba,#4f74ba,#4f74ba,#4f74ba,#4f74ba,#4f74ba,#4f74ba,#4f74ba,#4f74ba,#4f74ba,#4f74ba,#4f74ba,#4f74ba,#4f74ba,#4f74ba,#4f74ba,#4f74ba)"></div><div style="height:1.50px;background:linear-gradient(90deg,#4f74ba,#4f74ba,#4f74ba,#4f74ba,#4f74ba,#4f74ba,#4f74ba,#4f74ba,#4f74ba,#4f74ba,#4f74ba,#4f74ba,#4f74ba,#4f74ba,#4f74ba,#4f74ba,#4f74ba,#4f74ba,#4f74ba,#4f74ba,#4f74ba,#4f74ba,#4f74ba,#4f74ba,#4f74ba,#4f74ba,#4f74ba,#4f74ba,#4f74ba,#6bbcee,#6fbfea,#74c1e1,#79c3d8,#7ec4ce,#81c4c4,#82c4c0,#82c4c0,#82c4c0,#82c4c0,#82c4c0,#82c4c0,#81c4c4,#80c4c9,#7dc4d1,#7ac3d7,#76c2dd,#73c0e3,#70bfe8,#6dbeed,#6bbcee,#5587cb,#5585ca,#5483c8,#5482c7,#5380c6,#537fc5,#527ec3,#527cc2,#4f74ba,#5689ce,#5689cd,#4f74ba,#4f74ba,#4f74ba,#4f74ba,#4f74ba,#4f74ba,#4f74ba,#4f74ba,#4f74ba,#4f74ba,#4f74ba,#4f74ba,#4f74ba,#4f74ba,#4f74ba,#4f74ba,#4f74ba,#4f74ba,#4f74ba,#4f74ba,#4f74ba,#4f74ba,#4f74ba,#4f74ba,#4f74ba,#4f74ba,#4f74ba,#4f74ba,#4f74ba)"></div><div style="height:1.50px;background:linear-gradient(90deg,#4f74ba,#4f74ba,#4f74ba,#4f74ba,#4f74ba,#4f74ba,#4f74ba,#4f74ba,#4f74ba,#4f74ba,#4f74ba,#4f74ba,#4f74ba,#4f74ba,#4f74ba,#4f74ba,#4f74ba,#4f74ba,#4f74ba,#4f74ba,#4f74ba,#4f74ba,#4f74ba,#4f74ba,#4f74ba,#4f74ba,#4f74ba,#4f74ba,#6bbbed,#6cbeee,#70c0e7,#76c2de,#7cc3d4,#80c4c9,#82c4c0,#84c4bc,#84c4bc,#84c4bc,#84c4bc,#84c4bc,#84c4bc,#83c4bd,#83c4c0,#81c4c4,#80c4c9,#7ec4cf,#7bc3d5,#79c2d9,#76c1de,#73c0e3,#70bfe7,#6ebfeb,#6cbeee,#6bbced,#6bbbed,#5586cb,#5585ca,#5484c9,#5483c8,#5482c7,#5381c6,#5380c5,#537ec4,#527dc3,#527cc2,#4f74ba,#4f74ba,#4f74ba,#4f74ba,#4f74ba,#4f74ba,#4f74ba,#4f74ba,#4f74ba,#4f74ba,#4f74ba,#4f74ba,#4f74ba,#4f74ba,#4f74ba,#4f74ba,#4f74ba,#4f74ba,#4f74ba,#4f74ba,#4f74ba,#4f74ba,#4f74ba,#4f74ba,#4f74ba)"></div><div style="height:1.50px;background:linear-gradient(90deg,#4f74ba,#4f74ba,#4f74ba,#4f74ba,#4f74ba,#4f74ba,#4f74ba,#4f74ba,#4f74ba,#4f74ba,#4f74ba,#4f74ba,#4f74ba,#4f74ba,#4f74ba,#4f74ba,#4f74ba,#4f74ba,#4f74ba,#4f74ba,#4f74ba,#4f74ba,#4f74ba,#4f74ba,#4f74ba,#4f74ba,#4f74ba,#4f74ba,#6bbced,#6ebfeb,#73c0e3,#78c2da,#7dc4d0,#81c4c4,#84c4bc,#84c4b9,#84c4b9,#84c4b9,#84c4b9,#84c4b9,#84c4b9,#84c4b9,#84c4bb,#83c4bf,#81c4c3,#80c4c9,#7ec4cf,#7bc3d5,#79c2d9,#76c1de,#73c0e2,#70c0e7,#6ebfeb,#6cbeee,#6bbdee,#6bbbed,#5587cb,#5585ca,#5584c9,#5483c8,#5483c8,#5482c7,#5381c6,#5380c5,#537fc4,#537ec4,#527dc3,#4f74ba,#4f74ba,#4f74ba,#4f74ba,#4f74ba,#4f74ba,#4f74ba,#4f74ba,#4f74ba,#4f74ba,#4f74ba,#4f74ba,#4f74ba,#4f74ba,#4f74ba,#4f74ba,#4f74ba,#4f74ba,#4f74ba,#4f74ba,#4f74ba,#4f74ba,#4f74ba)"></div><div style="height:1.50px;background:linear-gradient(90deg,#4f74ba,#4f74ba,#4f74ba,#4f74ba,#4f74ba,#4f74ba,#4f74ba,#4f74ba,#4f74ba,#4f74ba,#4f74ba,#4f74ba,#4f74ba,#4f74ba,#4f74ba,#4f74ba,#4f74ba,#4f74ba,#4f74ba,#4f74ba,#4f74ba,#4f74ba,#4f74ba,#4f74ba,#4f74ba,#4f74ba,#4f74ba,#4f74ba,#6bbdee,#6fbfe9,#74c1e0,#7ac3d7,#7fc4cc,#82c4c0,#85c4b8,#86c4b6,#86c4b6,#86c4b6,#86c4b6,#86c4b6,#86c4b6,#85c4b6,#85c4b7,#84c4ba,#83c4be,#81c4c3,#80c4c9,#7ec4d0,#7bc3d5,#78c2da,#75c1de,#73c0e3,#70bfe7,#6ebfea,#6cbeed,#6bbdee,#6bbced,#5587cb,#5586ca,#5585ca,#5584c9,#5483c8,#5482c7,#5481c6,#5380c6,#537fc5,#537ec4,#537ec3,#527dc3,#4f74ba,#4f74ba,#4f74ba,#4f74ba,#4f74ba,#4f74ba,#4f74ba,#4f74ba,#4f74ba,#4f74ba,#4f74ba,#4f74ba,#4f74ba,#4f74ba,#4f74ba,#4f74ba,#4f74ba,#4f74ba,#4f74ba,#4f74ba,#4f74ba)"></div><div style="height:1.50px;background:linear-gradient(90deg,#4f74ba,#4f74ba,#4f74ba,#4f74ba,#4f74ba,#4f74ba,#4f74ba,#4f74ba,#4f74ba,#4f74ba,#4f74ba,#4f74ba,#4f74ba,#4f74ba,#4f74ba,#4f74ba,#4f74ba,#4f74ba,#4f74ba,#4f74ba,#4f74ba,#4f74ba,#4f74ba,#4f74ba,#4f74ba,#4f74ba,#4f74ba,#4f74ba,#6cbeee,#70bfe7,#75c1de,#7bc3d5,#80c4c8,#84c4bc,#86c4b4,#87c4b2,#87c4b2,#87c4b2,#87c4b2,#87c4b2,#87c4b2,#87c4b2,#86c4b4,#85c4b8,#83c4bd,#82c4c3,#7fc4ca,#7dc4d2,#7ac3d7,#77c2dc,#74c1e1,#71c0e6,#6ebfea,#6cbeed,#6bbdee,#6bbbed,#5586cb,#5585ca,#5584c9,#5483c8,#5482c8,#5481c7,#5380c6,#537fc5,#537ec4,#527ec3,#527dc3,#4f74ba,#4f74ba,#4f74ba,#4f74ba,#4f74ba,#4f74ba,#4f74ba,#4f74ba,#4f74ba,#4f74ba,#4f74ba,#4f74ba,#4f74ba,#4f74ba,#4f74ba,#4f74ba,#4f74ba,#4f74ba,#4f74ba,#4f74ba,#4f74ba,#4f74ba,#4f74ba)"></div><div style="height:1.50px;background:linear-gradient(90deg,#4f74ba,#4f74ba,#4f74ba,#4f74ba,#4f74ba,#4f74ba,#4f74ba,#4f74ba,#4f74ba,#4f74ba,#4f74ba,#4f74ba,#4f74ba,#4f74ba,#4f74ba,#4f74ba,#4f74ba,#4f74ba,#4f74ba,#4f74ba,#4f74ba,#4f74ba,#4f74ba,#4f74ba,#4f74ba,#4f74ba,#4f74ba,#6bbced,#6dbeed,#72c0e5,#77c2dc,#7dc4d2,#81c4c3,#85c4b7,#87c4b0,#88c4ae,#88c4ae,#88c4ae,#88c4ae,#88c4ae,#88c4ae,#88c4ae,#87c4b0,#86c4b4,#84c4ba,#82c4c0,#80c4c8,#7ec4d0,#7bc3d6,#77c2db,#74c1e1,#71c0e6,#6ebfea,#6cbeed,#6bbcee,#6bbbed,#5586cb,#5585ca,#5584c9,#5483c8,#5482c7,#5481c6,#5380c6,#537fc5,#537ec4,#527dc3,#527cc2,#4f74ba,#4f74ba,#4f74ba,#4f74ba,#4f74ba,#4f74ba,#4f74ba,#4f74ba,#4f74ba,#4f74ba,#4f74ba,#4f74ba,#4f74ba,#4f74ba,#4f74ba,#4f74ba,#4f74ba,#4f74ba,#4f74ba,#4f74ba,#4f74ba,#4f74ba,#4f74ba)"></div><div style="height:1.50px;background:linear-gradient(90deg,#4f74ba,#4f74ba,#4f74ba,#4f74ba,#4f74ba,#4f74ba,#4f74ba,#4f74ba,#4f74ba,#4f74ba,#4f74ba,#4f74ba,#4f74ba,#4f74ba,#4f74ba,#4f74ba,#4f74ba,#4f74ba,#4f74ba,#4f74ba,#4f74ba,#4f74ba,#4f74ba,#4f74ba,#4f74ba,#4f74ba,#4f74ba,#6bbcee,#6ebfea,#73c1e2,#79c3d8,#7fc4cc,#83c4be,#86c4b2,#89c4ab,#89c4aa,#89c4aa,#89c4aa,#89c4aa,#89c4aa,#89c4aa,#89c4aa,#89c4ab,#88c4ae,#87c4b2,#85c4b7,#83c4bd,#81c4c4,#7fc4cc,#7cc4d3,#79c3d8,#76c2dd,#73c1e2,#71c0e6,#6fbfea,#6dbeed,#6bbdee,#6bbced,#5587cb,#5586cb,#5585ca,#5584c9,#5483c8,#5482c7,#5481c7,#5380c6,#5380c5,#537fc4,#537ec4,#527dc3,#527cc2,#4f74ba,#4f74ba,#4f74ba,#4f74ba,#4f74ba,#4f74ba,#4f74ba,#4f74ba,#4f74ba,#4f74ba,#4f74ba,#4f74ba,#4f74ba,#4f74ba,#4f74ba,#4f74ba,#4f74ba,#4f74ba,#4f74ba)"></div><div style="height:1.50px;background:linear-gradient(90deg,#4f74ba,#4f74ba,#4f74ba,#4f74ba,#4f74ba,#4f74ba,#4f74ba,#4f74ba,#4f74ba,#4f74ba,#4f74ba,#4f74ba,#4f74ba,#4f74ba,#4f74ba,#4f74ba,#4f74ba,#4f74ba,#4f74ba,#4f74ba,#4f74ba,#4f74ba,#4f74ba,#4f74ba,#4f74ba,#4f74ba,#4f74ba,#6cbeee,#70bfe8,#75c1df,#7bc3d5,#80c4c7,#85c4b9,#88c4ae,#8ac4a7,#8ac4a6,#8ac4a6,#8ac4a6,#8ac4a6,#8ac4a6,#8ac4a6,#8ac4a6,#8ac4a6,#8ac4a8,#89c4aa,#88c4ae,#86c4b3,#85c4b8,#83c4bf,#81c4c5,#7fc4cc,#7cc4d3,#7ac3d8,#77c2dc,#75c1e0,#72c0e3,#70c0e7,#6ebfea,#6dbeed,#6cbdee,#6bbced,#6bbbed,#5586cb,#5586ca,#5585ca,#5584c9,#5483c8,#5482c8,#5482c7,#5481c6,#5380c6,#5380c5,#537fc4,#537ec4,#527dc3,#527dc3,#4f74ba,#4f74ba,#4f74ba,#4f74ba,#4f74ba,#4f74ba,#4f74ba,#4f74ba,#4f74ba,#4f74ba,#4f74ba,#4f74ba,#4f74ba,#4f74ba)"></div><div style="height:1.50px;background:linear-gradient(90deg,#4f74ba,#4f74ba,#4f74ba,#4f74ba,#4f74ba,#4f74ba,#4f74ba,#4f74ba,#4f74ba,#4f74ba,#4f74ba,#4f74ba,#4f74ba,#4f74ba,#4f74ba,#4f74ba,#4f74ba,#4f74ba,#4f74ba,#4f74ba,#4f74ba,#4f74ba,#4f74ba,#4f74ba,#4f74ba,#4f74ba,#6bbced,#6dbeec,#72c0e4,#77c2db,#7dc4d1,#82c4c1,#86c4b3,#89c4a9,#8bc4a3,#8bc4a2,#8bc4a2,#8bc4a2,#8bc4a2,#8bc4a2,#8bc4a2,#8bc4a2,#8bc4a2,#8bc4a3,#8ac4a6,#89c4a9,#88c4ae,#86c4b3,#85c4b9,#83c4bf,#81c4c6,#7fc4cd,#7cc4d3,#7ac3d8,#77c2dc,#75c1e0,#73c0e3,#70c0e7,#6ebfea,#6dbeed,#6cbdee,#6bbced,#6bbbed,#5586cb,#5586ca,#5585ca,#5584c9,#5484c9,#5483c8,#5482c7,#5481c7,#5381c6,#5380c5,#537fc5,#537fc4,#537ec4,#527dc3,#527dc2,#4f74ba,#4f74ba,#4f74ba,#4f74ba,#4f74ba,#4f74ba,#4f74ba,#4f74ba,#4f74ba,#4f74ba,#4f74ba,#4f74ba)"></div><div style="height:1.50px;background:linear-gradient(90deg,#4f74ba,#4f74ba,#4f74ba,#4f74ba,#4f74ba,#4f74ba,#4f74ba,#4f74ba,#4f74ba,#4f74ba,#4f74ba,#4f74ba,#4f74ba,#4f74ba,#4f74ba,#4f74ba,#4f74ba,#4f74ba,#4f74ba,#4f74ba,#4f74ba,#4f74ba,#4f74ba,#4f74ba,#4f74ba,#4f74ba,#6cbdee,#6fbfe9,#74c1e0,#7ac3d6,#80c4c9,#84c4ba,#88c4ad,#8bc4a4,#8cc49f,#8dc49f,#8dc49f,#8dc49f,#8dc49f,#8dc49f,#8dc49f,#8dc49f,#8cc49f,#8cc4a1,#8bc4a4,#89c4a8,#88c4ae,#86c4b4,#84c4bb,#82c4c3,#7fc4cb,#7dc4d3,#79c3d8,#77c2dc,#74c1e1,#72c0e5,#6fbfe9,#6dbeec,#6cbeee,#6bbced,#6bbbed,#5586cb,#5586ca,#5585ca,#5584c9,#5483c8,#5482c7,#5481c7,#5381c6,#5380c5,#537fc5,#537ec4,#537ec3,#527dc3,#527cc2,#4f74ba,#4f74ba,#4f74ba,#4f74ba,#4f74ba,#4f74ba,#4f74ba,#4f74ba,#4f74ba,#4f74ba,#4f74ba,#4f74ba,#4f74ba,#4f74ba,#4f74ba)"></div><div style="height:1.50px;background:linear-gradient(90deg,#4f74ba,#4f74ba,#4f74ba,#4f74ba,#4f74ba,#4f74ba,#4f74ba,#4f74ba,#4f74ba,#4f74ba,#4f74ba,#4f74ba,#4f74ba,#4f74ba,#4f74ba,#4f74ba,#4f74ba,#4f74ba,#4f74ba,#4f74ba,#4f74ba,#4f74ba,#4f74ba,#4f74ba,#4f74ba,#6bbced,#6dbeec,#72c0e5,#77c2dc,#7dc4d2,#82c4c2,#86c4b4,#8ac4a8,#8cc49f,#8ec49d,#8ec49c,#8ec49c,#8ec49c,#8ec49c,#8ec49c,#8ec49c,#8ec49c,#8dc49d,#8dc49f,#8bc4a2,#8ac4a7,#88c4ae,#86c4b5,#83c4bd,#81c4c5,#7ec4ce,#7bc3d5,#78c2db,#75c1e0,#72c0e4,#6fbfe8,#6dbeec,#6cbdee,#6bbced,#5587cb,#5586cb,#5585ca,#5584c9,#5483c8,#5483c8,#5482c7,#5481c6,#5380c5,#537fc5,#537ec4,#527ec3,#527dc3,#4f74ba,#4f74ba,#4f74ba,#4f74ba,#4f74ba,#4f74ba,#4f74ba,#4f74ba,#4f74ba,#4f74ba,#4f74ba,#4f74ba,#4f74ba,#4f74ba,#4f74ba,#4f74ba,#4f74ba,#4f74ba)"></div><div style="height:1.50px;background:linear-gradient(90deg,#4f74ba,#4f74ba,#4f74ba,#4f74ba,#4f74ba,#4f74ba,#4f74ba,#4f74ba,#4f74ba,#4f74ba,#4f74ba,#4f74ba,#4f74ba,#4f74ba,#4f74ba,#4f74ba,#4f74ba,#4f74ba,#4f74ba,#4f74ba,#4f74ba,#4f74ba,#4f74ba,#4f74ba,#6bbbed,#6cbdee,#6fbfe9,#74c1e0,#7ac3d7,#7fc4cb,#84c4bb,#88c4ae,#8bc4a2,#8ec49c,#8fc49a,#8fc49a,#8fc49a,#8fc49a,#8fc49a,#8fc49a,#8fc49a,#8fc49a,#8fc49a,#8ec49b,#8dc49d,#8cc4a1,#8ac4a6,#88c4ad,#86c4b4,#83c4bc,#81c4c5,#7ec4cd,#7bc3d5,#78c2da,#76c1de,#73c0e3,#70c0e7,#6ebfea,#6cbeee,#6bbdee,#6bbbed,#5587cb,#5586ca,#5585ca,#5584c9,#5483c8,#5483c8,#5482c7,#5481c6,#5380c6,#537fc5,#537fc4,#537ec4,#527dc3,#527cc2,#4f74ba,#4f74ba,#4f74ba,#4f74ba,#4f74ba,#4f74ba,#4f74ba,#4f74ba,#4f74ba,#4f74ba,#4f74ba,#4f74ba,#4f74ba,#4f74ba,#4f74ba)"></div><div style="height:1.50px;background:linear-gradient(90deg,#4f74ba,#4f74ba,#4f74ba,#4f74ba,#4f74ba,#4f74ba,#4f74ba,#4f74ba,#4f74ba,#4f74ba,#4f74ba,#4f74ba,#4f74ba,#4f74ba,#4f74ba,#4f74ba,#4f74ba,#4f74ba,#4f74ba,#4f74ba,#4f74ba,#4f74ba,#4f74ba,#4f74ba,#6bbcee,#6ebfeb,#72c0e4,#78c2db,#7dc4d1,#82c4c2,#86c4b3,#8ac4a7,#8dc49e,#8fc499,#90c497,#90c497,#90c497,#90c497,#90c497,#90c497,#90c497,#90c497,#90c497,#90c498,#90c499,#8fc49a,#8ec49c,#8cc49f,#8bc4a4,#89c4aa,#87c4b0,#85c4b7,#83c4be,#81c4c5,#7fc4cc,#7dc4d2,#7ac3d6,#78c2db,#75c1de,#73c1e2,#71c0e6,#6fbfe9,#6dbeec,#6cbeee,#6bbcee,#6bbced,#5587cb,#5586cb,#5586ca,#5585ca,#5584c9,#5484c9,#5483c8,#5482c7,#5482c7,#5688cc,#5687cc,#5481c6,#537fc5,#537fc4,#537ec4,#527dc3,#527dc3,#527cc2,#4f74ba,#4f74ba,#4f74ba,#4f74ba,#4f74ba,#4f74ba)"></div><div style="height:1.50px;background:linear-gradient(90deg,#4f74ba,#4f74ba,#4f74ba,#4f74ba,#4f74ba,#4f74ba,#4f74ba,#4f74ba,#4f74ba,#4f74ba,#4f74ba,#4f74ba,#4f74ba,#4f74ba,#4f74ba,#4f74ba,#4f74ba,#4f74ba,#4f74ba,#4f74ba,#4f74ba,#4f74ba,#4f74ba,#6bbced,#6cbeed,#70bfe7,#75c1df,#7ac3d6,#80c4ca,#84c4bb,#88c4ad,#8cc4a1,#8fc49a,#91c496,#91c495,#91c495,#91c495,#91c495,#91c495,#91c495,#91c495,#91c495,#91c495,#91c495,#91c496,#90c497,#90c498,#8ec49b,#8dc49e,#8cc4a1,#8ac4a7,#88c4ad,#86c4b3,#84c4b9,#83c4c0,#81c4c6,#7fc4cc,#7dc4d3,#7ac3d6,#78c2da,#76c1de,#73c1e2,#71c0e5,#70bfe8,#6ebfeb,#6cbeed,#6cbdee,#6bbced,#6bbbed,#5587cb,#5586cb,#5585ca,#5585ca,#5584c9,#5687cc,#5991d4,#5890d3,#5586ca,#5481c7,#4f74ba,#4f74ba,#4f74ba,#4f74ba,#4f74ba,#4f74ba,#4f74ba,#4f74ba,#4f74ba,#4f74ba,#4f74ba)"></div><div style="height:1.50px;background:linear-gradient(90deg,#4f74ba,#4f74ba,#4f74ba,#4f74ba,#4f74ba,#4f74ba,#4f74ba,#4f74ba,#4f74ba,#4f74ba,#4f74ba,#4f74ba,#4f74ba,#4f74ba,#4f74ba,#4f74ba,#4f74ba,#4f74ba,#4f74ba,#4f74ba,#4f74ba,#4f74ba,#4f74ba,#6bbced,#6dbeec,#71c0e5,#76c2dd,#7cc4d4,#81c4c6,#85c4b7,#89c4a9,#8dc49e,#90c498,#92c494,#92c493,#92c493,#92c493,#92c493,#92c493,#92c493,#92c493,#92c493,#92c493,#92c493,#92c493,#92c494,#91c496,#90c498,#8ec49b,#8dc49e,#8bc4a3,#89c4a9,#87c4af,#86c4b5,#84c4bc,#82c4c2,#80c4c8,#7ec4cf,#7cc4d4,#79c3d8,#77c2dc,#75c1e0,#73c0e3,#71c0e6,#6fbfe9,#6dbeec,#6cbeee,#6bbcee,#6bbced,#5587cb,#5586cb,#4f74ba,#4f74ba,#4f74ba,#5586cb,#588ed2,#578dd1,#5585c9,#4f74ba,#4f74ba,#4f74ba,#4f74ba,#4f74ba,#4f74ba,#4f74ba,#4f74ba,#4f74ba,#4f74ba,#4f74ba,#4f74ba)"></div><div style="height:1.50px;background:linear-gradient(90deg,#4f74ba,#4f74ba,#4f74ba,#4f74ba,#4f74ba,#4f74ba,#4f74ba,#4f74ba,#4f74ba,#4f74ba,#4f74ba,#4f74ba,#4f74ba,#4f74ba,#4f74ba,#4f74ba,#4f74ba,#4f74ba,#4f74ba,#4f74ba,#4f74ba,#4f74ba,#4f74ba,#6bbcee,#6ebfeb,#72c0e4,#77c2db,#7dc4d2,#82c4c2,#86c4b3,#8ac4a5,#8ec49c,#91c496,#93c492,#93c491,#93c491,#93c491,#93c491,#93c491,#93c491,#93c491,#93c491,#93c491,#93c491,#93c491,#93c492,#92c494,#91c496,#8fc499,#8ec49c,#8cc49f,#8bc4a5,#89c4ab,#87c4b2,#85c4b8,#83c4be,#81c4c5,#7fc4cc,#7dc4d2,#7ac3d6,#78c2da,#76c1de,#73c1e2,#71c0e5,#6fbfe9,#6ebfeb,#6cbeee,#6bbdee,#6bbced,#6bbbed,#4f74ba,#4f74ba,#4f74ba,#4f74ba,#4f74ba,#5584c9,#5584c9,#4f74ba,#4f74ba,#4f74ba,#4f74ba,#4f74ba,#4f74ba,#4f74ba,#4f74ba,#4f74ba,#4f74ba,#4f74ba,#4f74ba,#4f74ba)"></div><div style="height:1.50px;background:linear-gradient(90deg,#4f74ba,#4f74ba,#4f74ba,#4f74ba,#4f74ba,#4f74ba,#4f74ba,#4f74ba,#4f74ba,#4f74ba,#4f74ba,#4f74ba,#4f74ba,#4f74ba,#4f74ba,#4f74ba,#4f74ba,#4f74ba,#4f74ba,#4f74ba,#4f74ba,#4f74ba,#6bbbed,#6cbeee,#70bfe8,#74c1e0,#7ac3d8,#7fc4cc,#84c4bc,#88c4ad,#8cc4a0,#90c498,#92c493,#94c48f,#94c48e,#94c48e,#94c48e,#94c48e,#94c48e,#94c48e,#94c48e,#94c48e,#94c48e,#94c48f,#94c48f,#94c490,#93c492,#92c494,#90c497,#8fc49a,#8dc49d,#8bc4a2,#89c4a9,#87c4af,#86c4b6,#84c4bc,#81c4c3,#7fc4ca,#7dc4d1,#7bc3d6,#78c2da,#76c1de,#74c1e1,#71c0e5,#70bfe8,#6ebfeb,#6cbeed,#6bbdee,#6bbced,#6bbbed,#4f74ba,#4f74ba,#4f74ba,#4f74ba,#4f74ba,#4f74ba,#4f74ba,#4f74ba,#4f74ba,#4f74ba,#4f74ba,#4f74ba,#4f74ba,#4f74ba,#4f74ba,#4f74ba,#4f74ba,#4f74ba,#4f74ba,#4f74ba)"></div><div style="height:1.50px;background:linear-gradient(90deg,#4f74ba,#4f74ba,#4f74ba,#4f74ba,#4f74ba,#4f74ba,#4f74ba,#4f74ba,#4f74ba,#4f74ba,#4f74ba,#4f74ba,#4f74ba,#4f74ba,#4f74ba,#4f74ba,#4f74ba,#4f74ba,#4f74ba,#4f74ba,#4f74ba,#4f74ba,#6bbdee,#6ebfea,#72c0e3,#77c2db,#7dc4d2,#82c4c3,#86c4b4,#8ac4a6,#8ec49c,#91c495,#94c490,#95c48d,#95c48c,#95c48c,#95c48c,#95c48c,#95c48c,#95c48c,#95c48c,#95c48c,#95c48c,#95c48c,#95c48d,#95c48e,#94c490,#92c493,#91c495,#8fc499,#8ec49d,#8cc4a2,#89c4a9,#87c4af,#85c4b6,#83c4bd,#81c4c5,#7fc4cc,#7dc4d3,#7ac3d7,#77c2db,#75c1df,#73c0e3,#70c0e7,#6ebfea,#6dbeed,#6cbdee,#6bbced,#6bbbed,#4f74ba,#4f74ba,#4f74ba,#4f74ba,#4f74ba,#4f74ba,#4f74ba,#4f74ba,#4f74ba,#4f74ba,#4f74ba,#4f74ba,#4f74ba,#4f74ba,#4f74ba,#4f74ba,#4f74ba,#4f74ba,#4f74ba,#4f74ba,#4f74ba)"></div><div style="height:1.50px;background:linear-gradient(90deg,#4f74ba,#4f74ba,#4f74ba,#4f74ba,#4f74ba,#4f74ba,#4f74ba,#4f74ba,#4f74ba,#4f74ba,#4f74ba,#4f74ba,#4f74ba,#4f74ba,#4f74ba,#4f74ba,#4f74ba,#4f74ba,#4f74ba,#4f74ba,#4f74ba,#6bbced,#6dbeec,#71c0e6,#75c1df,#7bc3d6,#80c4ca,#84c4bb,#88c4ac,#8cc49f,#90c498,#93c491,#95c48d,#96c48b,#9cc583,#b0cd6d,#bad161,#b9d162,#adcc70,#97c488,#96c48a,#96c48a,#96c48a,#96c48a,#96c48b,#96c48c,#95c48e,#93c491,#92c494,#90c497,#8ec49b,#8cc49f,#8ac4a6,#88c4ad,#86c4b5,#84c4bc,#81c4c3,#7fc4cb,#7dc4d2,#7ac3d7,#78c2db,#75c1df,#73c0e3,#70c0e7,#6ebfea,#6dbeed,#6cbdee,#6bbced,#6bbbed,#4f74ba,#4f74ba,#4f74ba,#4f74ba,#4f74ba,#4f74ba,#4f74ba,#4f74ba,#4f74ba,#4f74ba,#4f74ba,#4f74ba,#4f74ba,#4f74ba,#4f74ba,#4f74ba,#4f74ba,#4f74ba,#4f74ba,#4f74ba,#4f74ba)"></div><div style="height:1.50px;background:linear-gradient(90deg,#4f74ba,#4f74ba,#4f74ba,#4f74ba,#4f74ba,#4f74ba,#4f74ba,#4f74ba,#4f74ba,#4f74ba,#4f74ba,#4f74ba,#4f74ba,#4f74ba,#4f74ba,#4f74ba,#4f74ba,#4f74ba,#4f74ba,#4f74ba,#4f74ba,#6bbcee,#6dbeec,#71c0e5,#76c2dd,#7cc3d4,#80c4c7,#85c4b8,#89c4a9,#8dc49d,#91c496,#94c48f,#96c48b,#9dc682,#bdd25f,#d6db4e,#e4e045,#e2e046,#d2da51,#b8d064,#97c488,#97c488,#97c488,#97c488,#97c488,#97c489,#96c48b,#95c48d,#94c48f,#93c492,#91c496,#8fc499,#8dc49e,#8bc4a3,#89c4a9,#87c4b0,#85c4b7,#83c4be,#81c4c5,#7fc4cc,#7dc4d3,#7ac3d7,#78c2db,#75c1df,#73c0e3,#71c0e6,#6fbfe9,#6dbeec,#6cbeee,#6bbcee,#6bbced,#4f74ba,#4f74ba,#4f74ba,#4f74ba,#4f74ba,#4f74ba,#4f74ba,#4f74ba,#4f74ba,#4f74ba,#4f74ba,#4f74ba,#4f74ba,#4f74ba,#4f74ba,#4f74ba,#4f74ba,#4f74ba,#4f74ba)"></div><div style="height:1.50px;background:linear-gradient(90deg,#4f74ba,#4f74ba,#4f74ba,#4f74ba,#4f74ba,#4f74ba,#4f74ba,#4f74ba,#4f74ba,#4f74ba,#4f74ba,#4f74ba,#4f74ba,#4f74ba,#4f74ba,#4f74ba,#4f74ba,#4f74ba,#4f74ba,#4f74ba,#4f74ba,#6bbbed,#6cbeee,#70bfe8,#75c1e0,#7ac3d7,#7fc4ca,#84c4ba,#89c4ab,#8dc49e,#91c495,#95c48e,#97c489,#b4cf68,#d7dc4d,#e9df42,#ebd740,#ead841,#e8e142,#d1da51,#accc71,#99c586,#99c586,#99c586,#99c486,#98c487,#98c488,#97c48a,#95c48c,#94c48f,#93c492,#91c496,#8fc49a,#8dc49e,#8bc4a3,#89c4a9,#87c4b0,#85c4b7,#83c4be,#81c4c5,#7fc4cc,#7dc4d3,#7ac3d7,#78c2db,#75c1df,#73c0e2,#71c0e6,#6fbfe9,#6dbfec,#6cbeee,#6bbdee,#6bbced,#6bbbed,#4f74ba,#4f74ba,#4f74ba,#4f74ba,#4f74ba,#4f74ba,#4f74ba,#4f74ba,#4f74ba,#4f74ba,#4f74ba,#4f74ba,#4f74ba,#4f74ba,#4f74ba,#4f74ba,#4f74ba)"></div><div style="height:1.50px;background:linear-gradient(90deg,#4f74ba,#4f74ba,#4f74ba,#4f74ba,#4f74ba,#4f74ba,#4f74ba,#4f74ba,#4f74ba,#4f74ba,#4f74ba,#4f74ba,#4f74ba,#4f74ba,#4f74ba,#4f74ba,#4f74ba,#4f74ba,#4f74ba,#4f74ba,#4f74ba,#6bbced,#6cbeee,#70bfe7,#75c1df,#7bc3d6,#80c4c8,#85c4b8,#8ac4a8,#8ec49c,#92c493,#96c48c,#a9ca75,#ccd855,#e8e242,#ebd540,#efa43a,#f1b53c,#ead841,#e4e045,#bfd35d,#9cc682,#9cc682,#9cc682,#9cc682,#9cc583,#9bc584,#99c486,#98c488,#97c48a,#95c48d,#94c490,#92c493,#91c496,#8fc499,#8dc49d,#8cc4a1,#8ac4a8,#88c4ae,#86c4b4,#84c4bb,#82c4c1,#80c4c8,#7ec4ce,#7cc4d4,#7ac3d7,#77c2db,#75c1df,#73c1e2,#71c0e5,#70bfe8,#6ebfeb,#6dbeed,#6cbdee,#6bbcee,#6bbbed,#4f74ba,#4f74ba,#4f74ba,#4f74ba,#4f74ba,#4f74ba,#4f74ba,#4f74ba,#4f74ba,#4f74ba,#4f74ba,#4f74ba,#4f74ba,#4f74ba)"></div><div style="height:1.50px;background:linear-gradient(90deg,#4f74ba,#4f74ba,#4f74ba,#4f74ba,#4f74ba,#4f74ba,#4f74ba,#4f74ba,#4f74ba,#4f74ba,#4f74ba,#4f74ba,#4f74ba,#4f74ba,#4f74ba,#4f74ba,#4f74ba,#4f74ba,#4f74ba,#4f74ba,#4f74ba,#6bbced,#6dbeec,#71c0e5,#77c2dd,#7cc4d3,#81c4c4,#86c4b4,#8bc4a4,#8fc499,#93c490,#98c487,#bfd35d,#e3e046,#eada41,#f1bf3d,#d64b30,#e87034,#ecd140,#e9df42,#d1da51,#accc71,#9fc77f,#9fc77f,#9fc77f,#9ec780,#9ec681,#9cc683,#9ac585,#98c488,#96c48a,#95c48d,#93c491,#92c494,#90c497,#8ec49b,#8dc49f,#8bc4a4,#89c4ab,#87c4b1,#85c4b8,#83c4bf,#81c4c6,#7fc4cc,#7dc4d2,#7ac3d6,#78c2da,#76c1de,#74c1e1,#72c0e5,#70bfe8,#6ebfea,#6dbeed,#6cbeee,#6bbcee,#6bbced,#6bbbed,#4f74ba,#4f74ba,#4f74ba,#4f74ba,#4f74ba,#4f74ba,#4f74ba,#4f74ba,#4f74ba,#4f74ba,#4f74ba,#4f74ba,#4f74ba)"></div><div style="height:1.50px;background:linear-gradient(90deg,#4f74ba,#4f74ba,#4f74ba,#4f74ba,#4f74ba,#4f74ba,#4f74ba,#4f74ba,#4f74ba,#4f74ba,#4f74ba,#4f74ba,#4f74ba,#4f74ba,#4f74ba,#4f74ba,#4f74ba,#4f74ba,#4f74ba,#4f74ba,#4f74ba,#6bbdee,#6ebfea,#73c0e3,#78c2db,#7ec4d0,#82c4c0,#87c4b0,#8cc4a0,#91c496,#95c48e,#a3c87b,#ccd855,#e8e042,#ecd13f,#e97735,#cd372e,#cd372e,#f1b13b,#ead841,#e4e045,#bfd35d,#a1c87d,#a1c87d,#a1c77d,#a1c77d,#9fc77f,#9ec681,#9bc583,#98c487,#97c48a,#95c48d,#93c490,#92c494,#90c498,#8ec49c,#8cc4a1,#8ac4a7,#88c4ae,#86c4b5,#84c4bc,#81c4c3,#7fc4ca,#7dc4d1,#7bc3d5,#79c2d9,#76c2dd,#74c1e1,#72c0e4,#70bfe7,#6ebfea,#6dbeec,#6cbeee,#6bbcee,#6bbced,#4f74ba,#4f74ba,#4f74ba,#4f74ba,#4f74ba,#4f74ba,#4f74ba,#4f74ba,#4f74ba,#4f74ba,#4f74ba,#4f74ba,#4f74ba,#4f74ba,#4f74ba)"></div><div style="height:1.50px;background:linear-gradient(90deg,#4f74ba,#4f74ba,#4f74ba,#4f74ba,#4f74ba,#4f74ba,#4f74ba,#4f74ba,#4f74ba,#4f74ba,#4f74ba,#4f74ba,#4f74ba,#4f74ba,#4f74ba,#4f74ba,#4f74ba,#4f74ba,#4f74ba,#4f74ba,#6bbced,#6dbeed,#70c0e7,#75c1df,#7ac3d6,#80c4c9,#84c4ba,#89c4aa,#8ec49d,#92c494,#95c48c,#abcc71,#d4db4f,#e9dd41,#f0c23d,#cd372e,#cd372e,#cd372e,#e87034,#ecd13f,#e9df42,#d1da51,#accc71,#a1c87d,#a1c87d,#a1c77d,#a0c77e,#9ec680,#9cc583,#99c486,#97c489,#96c48c,#94c48f,#92c493,#91c497,#8fc49a,#8dc49f,#8bc4a4,#89c4ab,#87c4b2,#85c4b9,#83c4bf,#81c4c6,#7fc4cd,#7cc4d3,#7ac3d7,#78c2db,#76c1de,#73c1e2,#71c0e5,#70bfe8,#6ebfeb,#6dbeed,#6cbdee,#6bbcee,#6bbbed,#4f74ba,#4f74ba,#4f74ba,#4f74ba,#4f74ba,#4f74ba,#4f74ba,#4f74ba,#4f74ba,#4f74ba,#4f74ba,#4f74ba,#4f74ba,#4f74ba)"></div><div style="height:1.50px;background:linear-gradient(90deg,#4f74ba,#4f74ba,#4f74ba,#4f74ba,#4f74ba,#4f74ba,#4f74ba,#4f74ba,#4f74ba,#4f74ba,#4f74ba,#4f74ba,#4f74ba,#4f74ba,#4f74ba,#4f74ba,#4f74ba,#4f74ba,#6bbbed,#6bbdee,#6ebfeb,#72c0e4,#76c2dd,#7bc3d5,#80c4c8,#84c4ba,#89c4ab,#8dc49e,#91c496,#94c48f,#97c489,#b4cf68,#ddde49,#eada41,#f1b13b,#cd372e,#cd372e,#cd372e,#cd372e,#f1b13b,#ead841,#e4e045,#bfd35d,#a1c87d,#a1c87d,#a1c77d,#a0c77e,#9ec680,#9cc682,#9ac585,#97c488,#96c48b,#94c48e,#93c492,#91c495,#8fc499,#8dc49d,#8bc4a2,#89c4a9,#87c4af,#85c4b6,#83c4bd,#81c4c3,#7fc4ca,#7dc4d0,#7bc3d5,#79c3d9,#77c2dd,#74c1e0,#72c0e3,#71c0e6,#6fbfe9,#6dbfec,#6cbeee,#6bbdee,#6bbced,#6bbbed,#4f74ba,#4f74ba,#4f74ba,#4f74ba,#4f74ba,#4f74ba,#4f74ba,#4f74ba,#4f74ba,#4f74ba,#4f74ba,#4f74ba,#4f74ba)"></div><div style="height:1.50px;background:linear-gradient(90deg,#4f74ba,#4f74ba,#4f74ba,#4f74ba,#4f74ba,#4f74ba,#4f74ba,#4f74ba,#4f74ba,#4f74ba,#4f74ba,#4f74ba,#4f74ba,#4f74ba,#4f74ba,#4f74ba,#4f74ba,#6bbced,#6cbeee,#6fbfe9,#73c0e3,#77c2dc,#7cc3d4,#80c4c9,#84c4bb,#88c4ae,#8cc4a1,#8fc499,#93c492,#96c48b,#99c486,#bdd25e,#e4e144,#ebd640,#ed9438,#cd362e,#cc362e,#cc362e,#cd362e,#e87034,#ecd13f,#e9df42,#d1da51,#accc71,#a1c87d,#a1c77d,#a0c77e,#9fc77f,#9dc681,#9bc584,#98c487,#97c48a,#95c48d,#94c490,#92c493,#90c497,#8fc49a,#8dc49e,#8bc4a4,#89c4aa,#87c4b0,#85c4b7,#83c4bd,#81c4c4,#7fc4ca,#7ec4d0,#7bc3d5,#79c3d8,#77c2dc,#75c1df,#73c0e3,#71c0e6,#6fbfe8,#6ebfeb,#6dbeed,#6cbdee,#6bbced,#6bbbed,#4f74ba,#4f74ba,#4f74ba,#4f74ba,#4f74ba,#4f74ba,#4f74ba,#4f74ba,#4f74ba,#4f74ba,#4f74ba,#4f74ba)"></div><div style="height:1.50px;background:linear-gradient(90deg,#4f74ba,#4f74ba,#4f74ba,#4f74ba,#4f74ba,#4f74ba,#4f74ba,#4f74ba,#4f74ba,#4f74ba,#4f74ba,#4f74ba,#4f74ba,#4f74ba,#4f74ba,#4f74ba,#4f74ba,#6bbced,#6cbeee,#6fbfe9,#73c0e3,#77c2db,#7cc4d4,#80c4c8,#84c4ba,#88c4ad,#8cc4a0,#90c498,#93c491,#96c48b,#9cc682,#c6d659,#e8e242,#ecd340,#e97434,#cc362e,#cc362e,#cc362e,#cc362e,#cc362e,#f1b13b,#ead841,#e4e045,#bfd35d,#a5c979,#a1c77d,#a0c77e,#9fc77f,#9dc681,#9bc584,#98c487,#97c489,#96c48c,#94c48f,#92c492,#91c496,#8fc49a,#8dc49d,#8bc4a2,#8ac4a8,#88c4af,#86c4b5,#84c4bb,#82c4c2,#80c4c8,#7ec4ce,#7cc4d4,#7ac3d8,#77c2db,#75c1df,#73c1e2,#71c0e5,#6fbfe8,#6ebfeb,#6dbeed,#6cbdee,#6bbced,#6bbbed,#4f74ba,#4f74ba,#4f74ba,#4f74ba,#4f74ba,#4f74ba,#4f74ba,#4f74ba,#4f74ba,#4f74ba,#4f74ba,#4f74ba)"></div><div style="height:1.50px;background:linear-gradient(90deg,#4f74ba,#4f74ba,#4f74ba,#4f74ba,#4f74ba,#4f74ba,#4f74ba,#4f74ba,#4f74ba,#4f74ba,#4f74ba,#4f74ba,#4f74ba,#4f74ba,#4f74ba,#4f74ba,#4f74ba,#6bbbed,#6bbdee,#6ebfeb,#71c0e5,#76c1de,#7ac3d6,#7fc4cc,#83c4be,#87c4b1,#8bc4a3,#8fc49a,#92c493,#96c48c,#a5c978,#ced953,#e9df42,#eecb3f,#da5331,#cb342e,#cb332e,#cb342e,#cc352e,#cc352e,#e86f34,#ecd13f,#e9df42,#d1da51,#b0ce6c,#a9cb74,#a2c87c,#9ec780,#9cc682,#9ac585,#97c488,#96c48b,#95c48e,#93c492,#91c495,#8fc499,#8dc49d,#8bc4a2,#89c4a9,#87c4af,#85c4b6,#83c4bd,#81c4c4,#7fc4cb,#7dc4d2,#7ac3d6,#78c2da,#76c1de,#73c1e2,#71c0e5,#70bfe8,#6ebfeb,#6cbeed,#6bbdee,#6bbced,#6bbbed,#4f74ba,#4f74ba,#4f74ba,#4f74ba,#4f74ba,#4f74ba,#4f74ba,#4f74ba,#4f74ba,#4f74ba,#4f74ba,#4f74ba,#4f74ba,#4f74ba)"></div><div style="height:1.50px;background:linear-gradient(90deg,#4f74ba,#4f74ba,#4f74ba,#4f74ba,#4f74ba,#4f74ba,#4f74ba,#4f74ba,#4f74ba,#4f74ba,#4f74ba,#4f74ba,#4f74ba,#4f74ba,#4f74ba,#4f74ba,#4f74ba,#6bbbed,#6bbdee,#6ebfeb,#71c0e6,#75c1df,#7ac3d7,#7fc4cd,#83c4bf,#87c4b1,#8bc4a4,#8fc49a,#92c493,#95c48c,#a9cb74,#d3da50,#e9dd41,#f0c23d,#ca312d,#c92f2d,#c82d2d,#c92e2d,#ca312d,#cb332e,#cc352e,#f1b03b,#ead841,#e4e045,#bed35e,#b3ce69,#adcc6f,#a6c977,#9fc77f,#9ac585,#97c488,#96c48b,#95c48e,#93c492,#91c495,#8fc499,#8dc49d,#8bc4a2,#89c4a9,#87c4b0,#85c4b7,#83c4be,#81c4c5,#7fc4cc,#7dc4d2,#7ac3d7,#78c2db,#75c1df,#73c1e2,#71c0e5,#6fbfe9,#6ebfeb,#6cbeee,#6bbdee,#6bbced,#6bbbed,#4f74ba,#4f74ba,#4f74ba,#4f74ba,#4f74ba,#4f74ba,#4f74ba,#4f74ba,#4f74ba,#4f74ba,#4f74ba,#4f74ba,#4f74ba,#4f74ba)"></div><div style="height:1.50px;background:linear-gradient(90deg,#4f74ba,#4f74ba,#4f74ba,#4f74ba,#4f74ba,#4f74ba,#4f74ba,#4f74ba,#4f74ba,#4f74ba,#4f74ba,#4f74ba,#4f74ba,#4f74ba,#4f74ba,#4f74ba,#6bbbed,#6bbdee,#6ebfeb,#71c0e6,#75c1df,#79c3d8,#7ec4cf,#82c4c3,#86c4b6,#89c4a9,#8dc49e,#91c496,#94c490,#97c48a,#a9cb74,#d3da50,#e9dd41,#f0c23d,#c52c2c,#bf282a,#bc2729,#be282a,#c42b2c,#c92f2d,#cb332e,#e86f34,#ecd240,#e8e142,#c9d757,#b3ce69,#b3ce69,#b2ce6b,#aacb73,#a3c87b,#99c486,#97c489,#96c48b,#95c48e,#93c491,#91c495,#90c499,#8ec49c,#8cc4a1,#8ac4a7,#88c4ad,#86c4b4,#84c4ba,#82c4c1,#80c4c8,#7ec4ce,#7cc4d3,#7ac3d7,#77c2db,#75c1df,#73c1e2,#71c0e5,#70bfe8,#6ebfeb,#6dbeed,#6cbdee,#6bbcee,#6bbbed,#4f74ba,#4f74ba,#4f74ba,#4f74ba,#4f74ba,#4f74ba,#4f74ba,#4f74ba,#4f74ba,#4f74ba,#4f74ba,#4f74ba)"></div><div style="height:1.50px;background:linear-gradient(90deg,#4f74ba,#4f74ba,#4f74ba,#4f74ba,#4f74ba,#4f74ba,#4f74ba,#4f74ba,#4f74ba,#4f74ba,#4f74ba,#4f74ba,#4f74ba,#4f74ba,#4f74ba,#6bbced,#6cbeee,#6ebfea,#72c0e5,#75c1df,#7ac3d8,#7ec4cf,#81c4c3,#85c4b7,#89c4ab,#8cc4a0,#90c499,#93c492,#95c48c,#98c487,#a9cb74,#d3da50,#e9dd41,#f0c23d,#bb2729,#b02126,#ab1e24,#af2025,#b92629,#c42b2c,#ca312d,#d44530,#efc53e,#e9dd41,#d3da50,#b3ce69,#b3ce69,#b3ce69,#b3ce69,#a9cb74,#9dc681,#98c487,#97c489,#96c48c,#94c48e,#93c492,#91c495,#90c498,#8ec49c,#8cc4a0,#8ac4a5,#89c4ab,#87c4b1,#85c4b8,#83c4be,#81c4c4,#7fc4ca,#7ec4d0,#7bc3d5,#79c3d8,#77c2dc,#75c1df,#73c1e2,#71c0e5,#70bfe8,#6ebfea,#6dbeed,#6cbeee,#6bbcee,#6bbced,#6bbbed,#4f74ba,#4f74ba,#4f74ba,#4f74ba,#4f74ba,#4f74ba,#4f74ba,#4f74ba,#4f74ba)"></div><div style="height:1.50px;background:linear-gradient(90deg,#4f74ba,#4f74ba,#4f74ba,#4f74ba,#4f74ba,#4f74ba,#4f74ba,#4f74ba,#4f74ba,#4f74ba,#4f74ba,#4f74ba,#4f74ba,#4f74ba,#4f74ba,#6bbcee,#6dbeed,#6fbfe9,#73c0e3,#76c2dd,#7bc3d6,#7fc4cd,#82c4c1,#86c4b5,#89c4a9,#8dc49f,#90c498,#93c491,#96c48c,#98c487,#a9cb74,#d3da50,#e9dd41,#f0c23d,#b22226,#a21a22,#9b1720,#a01921,#af2126,#bf282a,#c92f2d,#cb342e,#f1b33b,#eada41,#ddde49,#b5cf67,#b3ce69,#b3ce69,#b3ce69,#afcd6d,#a3c87a,#98c487,#97c48a,#96c48c,#94c48f,#93c492,#91c496,#8fc499,#8ec49d,#8cc4a1,#8ac4a7,#88c4ad,#86c4b3,#84c4ba,#82c4c0,#81c4c6,#7fc4cd,#7dc4d2,#7ac3d6,#78c2da,#76c2dd,#74c1e1,#72c0e4,#70c0e7,#6fbfe9,#6dbfec,#6cbeee,#6bbdee,#6bbced,#6bbbed,#4f74ba,#4f74ba,#4f74ba,#4f74ba,#4f74ba,#4f74ba,#4f74ba,#4f74ba,#4f74ba,#4f74ba)"></div><div style="height:1.50px;background:linear-gradient(90deg,#4f74ba,#4f74ba,#4f74ba,#4f74ba,#4f74ba,#4f74ba,#4f74ba,#4f74ba,#4f74ba,#4f74ba,#4f74ba,#4f74ba,#4f74ba,#4f74ba,#4f74ba,#6bbced,#6cbeee,#6fbfea,#72c0e4,#76c1de,#7ac3d7,#7ec4cf,#82c4c3,#85c4b7,#89c4ab,#8cc49f,#90c498,#93c492,#95c48c,#98c487,#a9cb74,#d3da50,#e9dd41,#f0c23d,#af2126,#9e1820,#96141e,#9c1720,#ac1f25,#bd282a,#c92e2d,#cb342e,#ed9238,#ebd640,#e5e144,#bfd35d,#b3ce69,#b3ce69,#b3ce69,#b3ce69,#a9cb74,#9dc681,#95c48d,#94c490,#92c493,#90c497,#8ec49b,#8cc49f,#8ac4a5,#89c4ac,#86c4b2,#84c4b9,#82c4c0,#80c4c7,#7ec4cd,#7cc4d3,#7ac3d7,#77c2db,#75c1df,#73c0e2,#71c0e6,#6fbfe9,#6ebfeb,#6cbeed,#6bbdee,#6bbced,#6bbbed,#4f74ba,#4f74ba,#4f74ba,#4f74ba,#4f74ba,#4f74ba,#4f74ba,#4f74ba,#4f74ba,#4f74ba,#4f74ba,#4f74ba,#4f74ba)"></div><div style="height:1.50px;background:linear-gradient(90deg,#4f74ba,#4f74ba,#4f74ba,#4f74ba,#4f74ba,#4f74ba,#4f74ba,#4f74ba,#4f74ba,#4f74ba,#4f74ba,#4f74ba,#4f74ba,#4f74ba,#4f74ba,#6bbced,#6cbeee,#6ebfea,#71c0e5,#75c1df,#79c3d8,#7ec4d0,#81c4c4,#85c4b8,#88c4ac,#8cc4a0,#8fc499,#93c492,#95c48d,#98c488,#a9cb74,#d3da50,#e9dd41,#f0c23d,#b42327,#a61c23,#9f1921,#a41b22,#b22226,#c0292b,#c92f2d,#cb342e,#e66c34,#ecd240,#e8e142,#c9d757,#b3ce69,#b3ce69,#b3ce69,#b3ce69,#afcd6d,#a3c87a,#98c488,#92c494,#90c498,#8ec49c,#8cc4a1,#8ac4a8,#88c4af,#85c4b6,#83c4bd,#81c4c5,#7fc4cc,#7dc4d3,#7ac3d7,#77c2db,#75c1df,#73c0e3,#71c0e6,#6fbfe9,#6dbeec,#6cbeee,#6bbcee,#6bbced,#4f74ba,#4f74ba,#4f74ba,#4f74ba,#4f74ba,#4f74ba,#4f74ba,#4f74ba,#4f74ba,#4f74ba,#4f74ba,#4f74ba,#4f74ba,#4f74ba,#4f74ba,#4f74ba)"></div><div style="height:1.50px;background:linear-gradient(90deg,#4f74ba,#4f74ba,#4f74ba,#4f74ba,#4f74ba,#4f74ba,#4f74ba,#4f74ba,#4f74ba,#4f74ba,#4f74ba,#4f74ba,#4f74ba,#4f74ba,#4f74ba,#6bbbed,#6cbdee,#6ebfeb,#71c0e6,#74c1e0,#79c2d9,#7dc4d2,#81c4c6,#84c4ba,#88c4ad,#8cc4a1,#8fc49a,#92c493,#95c48d,#98c488,#a9cb74,#d3da50,#e9dd41,#f0c23d,#bf282a,#b52427,#b12126,#b42327,#bd272a,#c62c2d,#ca322e,#cc352e,#d34530,#efc53e,#e9dd41,#d3da50,#b3ce69,#b3ce69,#b3ce69,#b3ce69,#b3ce69,#a9cb74,#9dc681,#95c48e,#90c497,#8ec49b,#8cc4a0,#8ac4a6,#88c4ad,#86c4b5,#84c4bc,#81c4c3,#7fc4ca,#7dc4d1,#7bc3d6,#78c2da,#76c1de,#73c1e2,#71c0e5,#6fbfe9,#6ebfeb,#6cbeee,#6bbdee,#6bbced,#4f74ba,#4f74ba,#4f74ba,#4f74ba,#4f74ba,#4f74ba,#4f74ba,#4f74ba,#4f74ba,#4f74ba,#4f74ba,#4f74ba,#4f74ba,#4f74ba,#4f74ba,#4f74ba)"></div><div style="height:1.50px;background:linear-gradient(90deg,#4f74ba,#4f74ba,#4f74ba,#4f74ba,#4f74ba,#4f74ba,#4f74ba,#4f74ba,#4f74ba,#4f74ba,#4f74ba,#4f74ba,#4f74ba,#4f74ba,#4f74ba,#4f74ba,#6bbced,#6cbeee,#6fbfe9,#72c0e3,#76c2dd,#7bc3d6,#7fc4cb,#83c4bf,#87c4b2,#8ac4a6,#8ec49c,#91c495,#94c48f,#97c489,#a9cb74,#d3da50,#e9dd41,#f0c23d,#c82d2d,#c32b2c,#c1292b,#c32a2b,#c72d2d,#ca312d,#cb342e,#cc362e,#dd5932,#efc73e,#e9dd41,#d3da50,#b3ce69,#b3ce69,#b3ce69,#b3ce69,#b3ce69,#afcd6d,#a2c87b,#97c48a,#92c495,#90c498,#8ec49c,#8cc4a1,#8ac4a7,#88c4ae,#86c4b5,#83c4bc,#81c4c4,#7fc4cb,#7dc4d2,#7bc3d6,#78c2da,#76c1de,#73c1e2,#71c0e5,#6fbfe8,#6ebfeb,#6cbeee,#6bbdee,#6bbced,#6bbbed,#4f74ba,#4f74ba,#4f74ba,#4f74ba,#4f74ba,#4f74ba,#4f74ba,#4f74ba,#5076bc,#5076bc,#5076bc,#5076bc,#5076bc,#5076bc)"></div><div style="height:1.50px;background:linear-gradient(90deg,#4f74ba,#4f74ba,#4f74ba,#4f74ba,#4f74ba,#4f74ba,#4f74ba,#4f74ba,#4f74ba,#4f74ba,#4f74ba,#4f74ba,#4f74ba,#4f74ba,#4f74ba,#4f74ba,#6bbced,#6cbeee,#6ebfea,#72c0e5,#76c1de,#7ac3d7,#7ec4cd,#82c4c0,#86c4b4,#8ac4a7,#8ec49d,#91c495,#94c48f,#97c489,#a9cb74,#d3da50,#e9dd41,#f0c23d,#cb332e,#ca312d,#c9302d,#ca312d,#cb322e,#cb342e,#cc362e,#cc362e,#efa23a,#ebd640,#e6e143,#c5d559,#b3ce69,#b3ce69,#b3ce69,#b3ce69,#afcd6d,#a8ca75,#9fc77f,#96c48c,#93c491,#92c494,#90c498,#8ec49b,#8cc49f,#8ac4a5,#88c4ac,#86c4b2,#84c4b9,#82c4c0,#80c4c6,#7ec4cd,#7cc4d3,#7ac3d7,#78c2db,#75c1df,#73c1e2,#71c0e5,#6fbfe8,#6ebfeb,#6cbeed,#5076bc,#5076bc,#5076bc,#5076bc,#5076bc,#5076bc,#5076bc,#5076bc,#5076bc,#5076bc,#5076bc,#5076bc,#5076bc,#5076bc,#5076bc)"></div><div style="height:1.50px;background:linear-gradient(90deg,#4f74ba,#4f74ba,#4f74ba,#4f74ba,#4f74ba,#4f74ba,#4f74ba,#4f74ba,#4f74ba,#4f74ba,#4f74ba,#4f74ba,#4f74ba,#4f74ba,#4f74ba,#6bbbed,#6cbdee,#6ebfeb,#71c0e6,#74c1e0,#79c2d9,#7dc4d2,#81c4c6,#84c4b9,#88c4ad,#8cc4a1,#8fc49a,#92c493,#95c48d,#98c488,#a9cb74,#d3da50,#e9dd41,#f0c23d,#cc352e,#cc352e,#cc352e,#cc352e,#cc352e,#cc362e,#cc362e,#e46733,#edcc3f,#e9de41,#d6db4e,#b3ce69,#b3ce69,#b3ce69,#b2ce6a,#abcb72,#a4c97a,#9dc682,#97c48a,#94c490,#92c493,#90c497,#8ec49b,#8cc49f,#8ac4a6,#88c4ad,#86c4b3,#84c4ba,#82c4c2,#80c4c9,#7ec4cf,#7bc3d5,#79c3d9,#5076bc,#5076bc,#5076bc,#5076bc,#5076bc,#5076bc,#5076bc,#5076bc,#5076bc,#5076bc,#5076bc,#5076bc,#5076bc,#5076bc,#5076bc,#5076bc,#5076bc,#5076bc,#5076bc,#5076bc,#5076bc,#5076bc,#5076bc)"></div><div style="height:1.50px;background:linear-gradient(90deg,#4f74ba,#4f74ba,#4f74ba,#4f74ba,#4f74ba,#4f74ba,#4f74ba,#4f74ba,#4f74ba,#4f74ba,#4f74ba,#4f74ba,#4f74ba,#4f74ba,#6bbced,#6cbdee,#6ebfeb,#71c0e6,#74c1e1,#78c2da,#7cc4d3,#80c4c9,#83c4bd,#87c4b1,#8ac4a6,#8ec49d,#91c496,#94c490,#96c48b,#99c486,#a9cb74,#d3da50,#e9dd41,#f0c23d,#cc362e,#cc362e,#cc362e,#cc362e,#cc362e,#cc362e,#cd362e,#f0ae3b,#ebd840,#e5e144,#c2d45b,#b1ce6c,#b3ce69,#aecd6e,#a7ca76,#a0c77e,#99c486,#97c489,#96c48c,#94c48f,#92c493,#91c496,#8fc49a,#8dc49e,#5076bc,#5076bc,#5076bc,#5076bc,#5076bc,#5076bc,#5076bc,#5076bc,#5076bc,#5076bc,#5076bc,#5076bc,#5076bc,#5076bc,#5076bc,#5076bc,#5076bc,#5076bc,#5076bc,#5076bc,#5076bc,#5076bc,#5076bc,#5076bc,#5076bc,#5076bc,#5076bc,#5076bc,#5076bc,#5076bc,#5076bc,#5076bc)"></div><div style="height:1.50px;background:linear-gradient(90deg,#5076bc,#5076bc,#5076bc,#5076bc,#5076bc,#5076bc,#5076bc,#5076bc,#5076bc,#5076bc,#5076bc,#5076bc,#5076bc,#5076bc,#5076bc,#5076bc,#5076bc,#5076bc,#5076bc,#5076bc,#5076bc,#5076bc,#5076bc,#5076bc,#5076bc,#5076bc,#5076bc,#5076bc,#5076bc,#5076bc,#5076bc,#5076bc,#5076bc,#5076bc,#5076bc,#5076bc,#5076bc,#5076bc,#5076bc,#5076bc,#5076bc,#5076bc,#5076bc,#5076bc,#5076bc,#5076bc,#5076bc,#5076bc,#5076bc,#5076bc,#5076bc,#5076bc,#5076bc,#5076bc,#5076bc,#5076bc,#5076bc,#5076bc,#5076bc,#5076bc,#5076bc,#5076bc,#5076bc,#5076bc,#5076bc,#5076bc,#5076bc,#5076bc,#5076bc,#5076bc,#5076bc,#5076bc,#5076bc,#5076bc,#5076bc,#5076bc,#5076bc,#5076bc,#5076bc,#5076bc,#5076bc,#5076bc,#5076bc,#5076bc,#5076bc,#5076bc,#5076bc,#5076bc,#5076bc,#5076bc)"></div><div style="height:1.50px;background:linear-gradient(90deg,#5076bc,#5076bc,#5076bc,#5076bc,#5076bc,#5076bc,#5076bc,#5076bc,#5076bc,#5076bc,#5076bc,#5076bc,#5076bc,#5076bc,#5076bc,#5076bc,#5076bc,#5076bc,#5076bc,#5076bc,#5076bc,#5076bc,#5076bc,#5076bc,#5076bc,#5076bc,#5076bc,#5076bc,#5076bc,#5076bc,#5076bc,#5076bc,#5076bc,#5076bc,#5076bc,#5076bc,#5076bc,#5076bc,#5076bc,#5076bc,#5076bc,#5076bc,#5076bc,#5076bc,#5076bc,#5076bc,#5076bc,#5076bc,#5076bc,#5076bc,#5076bc,#5076bc,#5076bc,#5076bc,#5076bc,#5076bc,#5076bc,#5076bc,#5076bc,#5076bc,#5076bc,#5076bc,#5076bc,#5076bc,#5076bc,#5076bc,#5076bc,#5076bc,#5076bc,#5076bc,#5076bc,#5076bc,#5076bc,#5076bc,#5076bc,#5076bc,#5076bc,#5076bc,#5076bc,#5076bc,#5076bc,#5076bc,#5076bc,#5076bc,#5076bc,#5076bc,#5076bc,#5076bc,#5076bc,#5076bc)"></div><div style="height:1.50px;background:linear-gradient(90deg,#5076bc,#5076bc,#5076bc,#5076bc,#5076bc,#5076bc,#5076bc,#5076bc,#5076bc,#5076bc,#5076bc,#5076bc,#5076bc,#5076bc,#5076bc,#5076bc,#5076bc,#5076bc,#5076bc,#5076bc,#5076bc,#5076bc,#5076bc,#5076bc,#5076bc,#5076bc,#5076bc,#5076bc,#5076bc,#5076bc,#5076bc,#5076bc,#5076bc,#5076bc,#5076bc,#5076bc,#5076bc,#5076bc,#5076bc,#5076bc,#5076bc,#5076bc,#5076bc,#5076bc,#5076bc,#5076bc,#5076bc,#5076bc,#5076bc,#5076bc,#5076bc,#5076bc,#5076bc,#5076bc,#5076bc,#5076bc,#5076bc,#5076bc,#5076bc,#5076bc,#5076bc,#5076bc,#5076bc,#5076bc,#5076bc,#5076bc,#5076bc,#5076bc,#5076bc,#5076bc,#5076bc,#5076bc,#5076bc,#5076bc,#5076bc,#5076bc,#5076bc,#5076bc,#5076bc,#5076bc,#5076bc,#5076bc,#5076bc,#5076bc,#5076bc,#5076bc,#5076bc,#5076bc,#5076bc,#5076bc)"></div><div style="height:1.50px;background:linear-gradient(90deg,#5076bc,#5076bc,#5076bc,#5076bc,#5076bc,#5076bc,#5076bc,#5076bc,#5076bc,#5076bc,#5076bc,#5076bc,#5076bc,#5076bc,#5076bc,#5076bc,#5076bc,#5076bc,#5076bc,#5076bc,#5076bc,#5076bc,#5076bc,#5076bc,#5076bc,#5076bc,#5076bc,#5076bc,#5076bc,#5076bc,#5076bc,#5076bc,#5076bc,#5076bc,#5076bc,#5076bc,#5076bc,#5076bc,#5076bc,#5076bc,#5076bc,#5076bc,#5076bc,#5076bc,#5076bc,#5076bc,#5076bc,#5076bc,#5076bc,#5076bc,#5076bc,#5076bc,#5076bc,#5076bc,#5076bc,#5076bc,#5076bc,#5076bc,#5076bc,#5076bc,#5076bc,#5076bc,#5076bc,#5076bc,#5076bc,#5076bc,#5076bc,#5076bc,#5076bc,#5076bc,#5076bc,#5076bc,#5076bc,#5076bc,#5076bc,#5076bc,#5076bc,#5076bc,#5076bc,#5076bc,#5076bc,#5076bc,#5076bc,#5076bc,#5076bc,#5076bc,#5076bc,#5076bc,#5076bc,#5076bc)"></div><div style="height:1.50px;background:linear-gradient(90deg,#5076bc,#5076bc,#5076bc,#5076bc,#5076bc,#5076bc,#5076bc,#5076bc,#5076bc,#5076bc,#5076bc,#5076bc,#5076bc,#5076bc,#5076bc,#5076bc,#5076bc,#5076bc,#5076bc,#5076bc,#5076bc,#5076bc,#5076bc,#5076bc,#5076bc,#5076bc,#5076bc,#5076bc,#5076bc,#5076bc,#5076bc,#5076bc,#5076bc,#5076bc,#5076bc,#5076bc,#5076bc,#5076bc,#5076bc,#5076bc,#5076bc,#5076bc,#5076bc,#5076bc,#5076bc,#5076bc,#5076bc,#5076bc,#5076bc,#5076bc,#5076bc,#5076bc,#5076bc,#5076bc,#5076bc,#5076bc,#5076bc,#5076bc,#5076bc,#5076bc,#5076bc,#5076bc,#5076bc,#5076bc,#5076bc,#5076bc,#5076bc,#5076bc,#5076bc,#5076bc,#5076bc,#5076bc,#5076bc,#5076bc,#5076bc,#5076bc,#5076bc,#5076bc,#5076bc,#5076bc,#5076bc,#5076bc,#5076bc,#5076bc,#5076bc,#5076bc,#5076bc,#5076bc,#5076bc,#5076bc)"></div></div></div>
<div style="position:absolute;left:389.20px;top:288.50px;width:117.50px;height:106.90px;overflow:hidden"><div style="position:absolute;left:-3px;top:-3px;width:123.50px;filter:blur(0.80px)"><div style="height:2.00px;background:linear-gradient(90deg,#4f74ba,#4f74ba,#4f74ba,#4f74ba,#4f74ba,#4f74ba,#4f74ba,#4f74ba,#4f74ba,#4f74ba,#4f74ba,#4f74ba,#4f74ba,#4f74ba,#4f74ba,#4f74ba,#4f74ba,#4f74ba,#4f74ba,#4f74ba,#4f74ba,#4f74ba,#4f74ba,#4f74ba,#4f74ba,#4f74ba,#4f74ba,#4f74ba,#4f74ba,#4f74ba,#4f74ba,#4f74ba,#4f74ba,#4f74ba,#4f74ba,#4f74ba,#4f74ba,#4f74ba,#4f74ba,#4f74ba,#4f74ba,#4f74ba,#4f74ba,#4f74ba,#4f74ba,#4f74ba,#4f74ba,#4f74ba,#4f74ba,#4f74ba,#4f74ba,#4f74ba,#4f74ba,#4f74ba,#4f74ba,#4f74ba,#4f74ba,#4f74ba,#4f74ba,#4f74ba,#4f74ba,#4f74ba,#4f74ba)"></div><div style="height:2.00px;background:linear-gradient(90deg,#4f74ba,#4f74ba,#4f74ba,#4f74ba,#4f74ba,#4f74ba,#4f74ba,#4f74ba,#4f74ba,#4f74ba,#4f74ba,#4f74ba,#4f74ba,#4f74ba,#4f74ba,#4f74ba,#4f74ba,#4f74ba,#4f74ba,#4f74ba,#4f74ba,#4f74ba,#4f74ba,#4f74ba,#4f74ba,#4f74ba,#4f74ba,#4f74ba,#4f74ba,#4f74ba,#4f74ba,#4f74ba,#4f74ba,#4f74ba,#4f74ba,#4f74ba,#4f74ba,#4f74ba,#4f74ba,#4f74ba,#4f74ba,#4f74ba,#4f74ba,#4f74ba,#4f74ba,#4f74ba,#4f74ba,#4f74ba,#4f74ba,#4f74ba,#4f74ba,#4f74ba,#4f74ba,#4f74ba,#4f74ba,#4f74ba,#4f74ba,#4f74ba,#4f74ba,#4f74ba,#4f74ba,#4f74ba,#4f74ba)"></div><div style="height:2.00px;background:linear-gradient(90deg,#4f74ba,#4f74ba,#4f74ba,#4f74ba,#4f74ba,#4f74ba,#4f74ba,#4f74ba,#4f74ba,#4f74ba,#4f74ba,#4f74ba,#4f74ba,#4f74ba,#4f74ba,#4f74ba,#4f74ba,#4f74ba,#4f74ba,#4f74ba,#4f74ba,#4f74ba,#4f74ba,#4f74ba,#4f74ba,#4f74ba,#4f74ba,#4f74ba,#4f74ba,#4f74ba,#4f74ba,#4f74ba,#4f74ba,#4f74ba,#4f74ba,#4f74ba,#4f74ba,#4f74ba,#4f74ba,#4f74ba,#4f74ba,#4f74ba,#4f74ba,#4f74ba,#4f74ba,#4f74ba,#4f74ba,#4f74ba,#4f74ba,#4f74ba,#4f74ba,#4f74ba,#4f74ba,#4f74ba,#4f74ba,#4f74ba,#4f74ba,#4f74ba,#4f74ba,#4f74ba,#4f74ba,#4f74ba,#4f74ba)"></div><div style="height:2.00px;background:linear-gradient(90deg,#4f74ba,#4f74ba,#4f74ba,#4f74ba,#4f74ba,#4f74ba,#4f74ba,#4f74ba,#4f74ba,#4f74ba,#4f74ba,#4f74ba,#4f74ba,#4f74ba,#4f74ba,#4f74ba,#4f74ba,#4f74ba,#4f74ba,#4f74ba,#4f74ba,#4f74ba,#4f74ba,#4f74ba,#4f74ba,#4f74ba,#4f74ba,#4f74ba,#4f74ba,#4f74ba,#4f74ba,#4f74ba,#4f74ba,#70c0e7,#70c0e7,#70c0e7,#70c0e7,#70c0e7,#70c0e7,#70c0e7,#70c0e7,#70c0e7,#70c0e7,#70c0e7,#70c0e7,#70c0e7,#70c0e7,#61abe9,#5481c6,#4f74ba,#4f74ba,#4f74ba,#4f74ba,#4f74ba,#4f74ba,#4f74ba,#4f74ba,#4f74ba,#4f74ba,#4f74ba,#4f74ba,#4f74ba,#4f74ba)"></div><div style="height:2.00px;background:linear-gradient(90deg,#4f74ba,#4f74ba,#4f74ba,#4f74ba,#4f74ba,#4f74ba,#4f74ba,#4f74ba,#4f74ba,#4f74ba,#4f74ba,#4f74ba,#4f74ba,#4f74ba,#4f74ba,#4f74ba,#4f74ba,#4f74ba,#4f74ba,#4f74ba,#4f74ba,#4f74ba,#4f74ba,#4f74ba,#4f74ba,#4f74ba,#4f74ba,#4f74ba,#4f74ba,#4f74ba,#4f74ba,#4f74ba,#4f74ba,#70c0e7,#70c0e7,#70c0e7,#70c0e7,#70c0e7,#70c0e7,#70c0e7,#70c0e7,#70c0e7,#70c0e7,#70c0e7,#70c0e7,#70c0e7,#70c0e7,#70c0e7,#70c0e7,#70c0e7,#4f74ba,#4f74ba,#4f74ba,#4f74ba,#4f74ba,#4f74ba,#4f74ba,#4f74ba,#4f74ba,#4f74ba,#4f74ba,#4f74ba,#4f74ba)"></div><div style="height:2.00px;background:linear-gradient(90deg,#4f74ba,#4f74ba,#4f74ba,#4f74ba,#4f74ba,#4f74ba,#4f74ba,#4f74ba,#4f74ba,#4f74ba,#4f74ba,#4f74ba,#4f74ba,#4f74ba,#4f74ba,#4f74ba,#4f74ba,#4f74ba,#4f74ba,#4f74ba,#4f74ba,#4f74ba,#4f74ba,#4f74ba,#4f74ba,#4f74ba,#4f74ba,#4f74ba,#4f74ba,#4f74ba,#4f74ba,#4f74ba,#4f74ba,#70c0e7,#70c0e7,#78c2d9,#79c3d9,#7ac3d8,#7ac3d7,#7bc3d6,#7bc3d5,#7cc4d3,#7dc4d3,#7ac3d7,#77c2dc,#75c1df,#73c1e2,#72c0e5,#70c0e7,#70c0e7,#70c0e7,#4f74ba,#4f74ba,#4f74ba,#4f74ba,#4f74ba,#4f74ba,#4f74ba,#4f74ba,#4f74ba,#4f74ba,#4f74ba,#4f74ba)"></div><div style="height:2.00px;background:linear-gradient(90deg,#4f74ba,#4f74ba,#4f74ba,#4f74ba,#4f74ba,#4f74ba,#4f74ba,#4f74ba,#4f74ba,#4f74ba,#4f74ba,#4f74ba,#4f74ba,#63aeea,#70c0e7,#70c0e7,#70c0e7,#70c0e7,#70c0e7,#70c0e7,#70c0e7,#4f74ba,#4f74ba,#4f74ba,#4f74ba,#4f74ba,#4f74ba,#4f74ba,#4f74ba,#4f74ba,#4f74ba,#4f74ba,#6ebfeb,#70c0e7,#72c0e4,#83c4bd,#8dc49e,#8ec49c,#92c494,#95c48d,#96c48c,#94c490,#92c494,#8ec49b,#8bc4a3,#89c4ab,#86c4b3,#83c4be,#76c2dd,#70c0e7,#70c0e7,#70c0e7,#4f74ba,#4f74ba,#4f74ba,#4f74ba,#4f74ba,#4f74ba,#4f74ba,#4f74ba,#4f74ba,#4f74ba,#4f74ba)"></div><div style="height:2.00px;background:linear-gradient(90deg,#4f74ba,#4f74ba,#4f74ba,#4f74ba,#4f74ba,#4f74ba,#4f74ba,#4f74ba,#4f74ba,#4f74ba,#4f74ba,#4f74ba,#70c0e7,#70c0e7,#70c0e7,#70c0e7,#70c0e7,#70c0e7,#70c0e7,#70c0e7,#70c0e7,#70c0e7,#4f74ba,#4f74ba,#4f74ba,#4f74ba,#4f74ba,#4f74ba,#4f74ba,#4f74ba,#4f74ba,#4f74ba,#70c0e7,#70c0e7,#76c2dd,#8ac4a8,#98c487,#a4c979,#b3cf68,#c1d45c,#c2d45b,#b9d162,#b1ce6b,#a7ca76,#99c486,#95c48e,#94c48f,#91c496,#86c4b4,#79c3d8,#71c0e7,#70c0e7,#70c0e7,#4f74ba,#4f74ba,#4f74ba,#4f74ba,#4f74ba,#4f74ba,#4f74ba,#4f74ba,#4f74ba,#4f74ba)"></div><div style="height:2.00px;background:linear-gradient(90deg,#4f74ba,#4f74ba,#4f74ba,#4f74ba,#4f74ba,#4f74ba,#4f74ba,#4f74ba,#4f74ba,#4f74ba,#69b8ec,#70c0e7,#70c0e7,#70c0e7,#74c1e1,#7ac3d6,#7ac3d6,#7ac3d6,#7ac3d6,#76c2dd,#70c0e7,#70c0e7,#5d9ddf,#4f74ba,#4f74ba,#4f74ba,#4f74ba,#4f74ba,#4f74ba,#4f74ba,#4f74ba,#4f74ba,#70c0e7,#70c0e7,#7dc4d2,#94c48e,#b2ce6b,#c3d45b,#d6db4e,#e8e042,#e9de41,#e1df47,#d6dc4e,#c5d559,#adcc70,#97c488,#95c48e,#95c48e,#93c492,#89c4aa,#7dc4d3,#71c0e5,#70c0e7,#70c0e7,#4f74ba,#4f74ba,#4f74ba,#4f74ba,#4f74ba,#4f74ba,#4f74ba,#4f74ba,#4f74ba)"></div><div style="height:2.00px;background:linear-gradient(90deg,#4f74ba,#4f74ba,#4f74ba,#4f74ba,#4f74ba,#4f74ba,#4f74ba,#4f74ba,#4f74ba,#70c0e7,#70c0e7,#70c0e7,#71c0e5,#79c2d9,#82c4c1,#8ac4a7,#8ac4a7,#8ac4a7,#8ac4a7,#80c4c7,#73c0e2,#70c0e7,#70c0e7,#4f74ba,#4f74ba,#4f74ba,#4f74ba,#4f74ba,#4f74ba,#4f74ba,#4f74ba,#4f74ba,#70c0e7,#72c0e4,#87c4af,#b2ce6a,#d3db50,#e8e242,#edcd3f,#f1b33b,#efa63a,#f1bd3d,#eec93e,#e4e045,#c1d45c,#a5c979,#96c48c,#95c48e,#95c48e,#94c490,#8bc4a3,#7dc4d2,#71c0e6,#70c0e7,#70c0e7,#4f74ba,#4f74ba,#4f74ba,#4f74ba,#4f74ba,#4f74ba,#4f74ba,#4f74ba)"></div><div style="height:2.00px;background:linear-gradient(90deg,#4f74ba,#4f74ba,#4f74ba,#4f74ba,#4f74ba,#4f74ba,#4f74ba,#5c9dde,#70c0e7,#70c0e7,#70c0e7,#75c1e0,#7ec4ce,#87c4b2,#8dc49f,#8ec49c,#8ec49c,#8ec49c,#8ec49c,#84c4b9,#74c1e1,#70c0e7,#70c0e7,#4f74ba,#4f74ba,#4f74ba,#4f74ba,#4f74ba,#4f74ba,#4f74ba,#4f74ba,#4f74ba,#70c0e7,#76c1de,#94c48f,#dcde4a,#edcf3f,#f2b93c,#eb8436,#e06032,#df5d32,#e06032,#ec8c37,#edcd3f,#d7dc4d,#b7d065,#9dc681,#95c48e,#95c48e,#95c48e,#94c48f,#8ac4a6,#7cc4d4,#71c0e7,#70c0e7,#70c0e7,#4f74ba,#4f74ba,#4f74ba,#4f74ba,#4f74ba,#4f74ba,#4f74ba)"></div><div style="height:2.00px;background:linear-gradient(90deg,#4f74ba,#4f74ba,#4f74ba,#4f74ba,#4f74ba,#4f74ba,#70c0e7,#70c0e7,#70c0e7,#71c0e6,#79c3d8,#83c4bf,#8ac4a5,#8ec49c,#8ec49c,#90c498,#91c495,#92c493,#91c495,#87c4af,#75c1df,#70c0e7,#70c0e7,#4f74ba,#4f74ba,#4f74ba,#4f74ba,#4f74ba,#4f74ba,#4f74ba,#4f74ba,#517ac0,#70c0e7,#7ac3d8,#aacb73,#eec73e,#ec8a37,#e06032,#dc5831,#d64a30,#d2412f,#d64b30,#e06032,#f0ab3a,#eada41,#ccd854,#adcc6f,#97c488,#95c48e,#95c48e,#95c48e,#94c490,#89c4a9,#77c2dc,#70c0e7,#70c0e7,#4f74ba,#4f74ba,#4f74ba,#4f74ba,#4f74ba,#4f74ba,#4f74ba)"></div><div style="height:2.00px;background:linear-gradient(90deg,#4f74ba,#4f74ba,#4f74ba,#4f74ba,#4f74ba,#70c0e7,#70c0e7,#70c0e7,#73c0e2,#7dc4d2,#86c4b3,#8dc49e,#8ec49c,#8fc499,#91c495,#94c48f,#97c489,#9ac585,#97c489,#8dc49f,#79c3d8,#70c0e7,#70c0e7,#4f74ba,#4f74ba,#4f74ba,#4f74ba,#4f74ba,#4f74ba,#4f74ba,#4f74ba,#5a96d9,#70c0e7,#7ec4cf,#bcd25f,#f1b23b,#df5e32,#d64b30,#d03e2f,#cd362e,#cc362e,#cf3b2e,#da5331,#e56a33,#f0c03d,#e4e145,#c1d45c,#a5c979,#95c48d,#95c48e,#95c48e,#95c48e,#8dc49e,#79c3d8,#70c0e7,#70c0e7,#4f74ba,#4f74ba,#4f74ba,#4f74ba,#4f74ba,#4f74ba,#4f74ba)"></div><div style="height:2.00px;background:linear-gradient(90deg,#4f74ba,#4f74ba,#4f74ba,#4f74ba,#70c0e7,#70c0e7,#70c0e7,#76c1de,#80c4c7,#89c4aa,#8ec49d,#8fc49b,#91c496,#93c491,#97c48a,#9dc681,#a8ca76,#afcd6e,#a7ca77,#93c492,#7fc4cc,#71c0e6,#70c0e7,#4f74ba,#4f74ba,#4f74ba,#4f74ba,#4f74ba,#4f74ba,#4f74ba,#4f74ba,#5a96d9,#70c0e7,#80c4c8,#c9d757,#ed9438,#dc5731,#cf3b2e,#cc362e,#cc362e,#cc362e,#cc362e,#d2422f,#de5b32,#ec8b37,#edcd3f,#d6db4e,#b1ce6b,#97c489,#95c48e,#95c48e,#95c48e,#8fc49a,#7cc4d4,#70c0e7,#70c0e7,#4f74ba,#4f74ba,#4f74ba,#4f74ba,#4f74ba,#4f74ba,#4f74ba)"></div><div style="height:2.00px;background:linear-gradient(90deg,#4f74ba,#4f74ba,#4f74ba,#5a95d7,#70c0e7,#70c0e7,#75c1df,#83c4bf,#8bc4a2,#8ec49c,#8ec49b,#92c494,#96c48c,#9bc584,#a5c978,#b0cd6c,#bcd25f,#c7d658,#b8d163,#9dc681,#85c4b7,#73c0e3,#70c0e7,#4f74ba,#4f74ba,#4f74ba,#4f74ba,#4f74ba,#4f74ba,#4f74ba,#4f74ba,#5a96d9,#70c0e7,#82c4c0,#d6db4e,#e97635,#d84f31,#cc352e,#cb342e,#cb342e,#cc352e,#cc362e,#cd372e,#d64a30,#e06032,#f1bd3d,#e0df47,#b9d162,#9bc584,#95c48e,#95c48e,#95c48e,#90c497,#7ec4ce,#70c0e7,#70c0e7,#4f74ba,#4f74ba,#4f74ba,#4f74ba,#4f74ba,#4f74ba,#4f74ba)"></div><div style="height:2.00px;background:linear-gradient(90deg,#4f74ba,#4f74ba,#4f74ba,#70c0e7,#70c0e7,#73c0e3,#80c4c9,#8bc4a3,#8ec49c,#8ec49c,#91c496,#95c48d,#a0c77e,#adcc6f,#b9d162,#c5d559,#ced853,#cfd952,#cbd855,#b0cd6c,#8bc4a3,#75c1df,#70c0e7,#4f74ba,#4f74ba,#4f74ba,#4f74ba,#4f74ba,#4f74ba,#4f74ba,#4f74ba,#5a96d9,#70c0e7,#85c4b9,#e3e045,#e26433,#d3442f,#ca302d,#c9302d,#ca312d,#ca322e,#cb342e,#cc352e,#d2412f,#df5d32,#f0a93a,#e9e042,#c1d45c,#a1c77d,#95c48e,#95c48e,#95c48e,#90c498,#7dc4d1,#70c0e7,#70c0e7,#4f74ba,#4f74ba,#4f74ba,#4f74ba,#4f74ba,#4f74ba,#4f74ba)"></div><div style="height:2.00px;background:linear-gradient(90deg,#4f74ba,#4f74ba,#4f74ba,#70c0e7,#70c0e7,#77c2db,#88c4af,#8ec49c,#8ec49c,#8fc499,#94c490,#9bc584,#adcc70,#c0d45c,#ced853,#cfd952,#d2da50,#d4db4f,#d0d952,#c3d45b,#92c494,#77c2db,#70c0e7,#4f74ba,#4f74ba,#4f74ba,#4f74ba,#4f74ba,#4f74ba,#4f74ba,#4f74ba,#5a96d9,#70c0e7,#86c4b5,#e8e042,#e05f32,#ce392e,#c42b2c,#c32a2b,#c42b2c,#c82d2d,#ca312d,#cb342e,#cf3b2e,#dc5831,#ec9038,#ebd640,#cad756,#a7ca76,#95c48d,#95c48e,#95c48e,#8ec49b,#7bc3d5,#70c0e7,#70c0e7,#4f74ba,#4f74ba,#4f74ba,#4f74ba,#4f74ba,#4f74ba,#4f74ba)"></div><div style="height:2.00px;background:linear-gradient(90deg,#4f74ba,#4f74ba,#4f74ba,#70c0e7,#70c0e7,#77c2db,#88c4af,#8ec49c,#8fc49b,#92c493,#97c489,#a7ca77,#bad162,#ced853,#d1da51,#d5db4f,#d7dc4e,#d7dc4d,#d5db4f,#c6d658,#97c488,#78c2da,#70c0e7,#4f74ba,#4f74ba,#4f74ba,#4f74ba,#4f74ba,#4f74ba,#4f74ba,#4f74ba,#5a96d9,#70c0e7,#87c4b2,#eada41,#dd5832,#c82e2d,#b82528,#b62427,#b92528,#bf292a,#c72c2d,#ca312d,#cc362e,#d95131,#e97635,#edcc3f,#d3da50,#aecd6e,#97c48a,#95c48e,#95c48e,#8dc49f,#79c3d9,#70c0e7,#70c0e7,#4f74ba,#4f74ba,#4f74ba,#4f74ba,#4f74ba,#4f74ba,#4f74ba)"></div><div style="height:2.00px;background:linear-gradient(90deg,#4f74ba,#4f74ba,#4f74ba,#70c0e7,#70c0e7,#77c2db,#88c4af,#8ec49c,#91c496,#95c48c,#a1c77d,#b3cf69,#c8d657,#d0d952,#d5db4e,#d7dc4d,#d8dc4d,#d8dc4c,#d8dc4c,#c9d757,#98c488,#79c2d9,#70c0e7,#4f74ba,#4f74ba,#4f74ba,#4f74ba,#4f74ba,#4f74ba,#4f74ba,#4f74ba,#5a96d9,#70c0e7,#88c4af,#ebd440,#d84f31,#bb2629,#a81d24,#a51c23,#aa1e24,#b52327,#c0292b,#c92e2d,#cb332e,#d64a30,#e16032,#f0c13d,#ddde49,#b6d066,#99c486,#95c48e,#95c48e,#8bc4a4,#77c2dc,#70c0e7,#70c0e7,#4f74ba,#4f74ba,#4f74ba,#4f74ba,#4f74ba,#4f74ba,#4f74ba)"></div><div style="height:2.00px;background:linear-gradient(90deg,#4f74ba,#4f74ba,#4f74ba,#70c0e7,#70c0e7,#77c2db,#88c4af,#8fc499,#94c490,#9bc583,#adcc70,#c1d45c,#ced953,#d4db4f,#d9dc4c,#dbdd4a,#dfdf48,#e0df47,#dfdf48,#cdd854,#99c486,#79c3d9,#70c0e7,#4f74ba,#4f74ba,#4f74ba,#4f74ba,#4f74ba,#4f74ba,#4f74ba,#4f74ba,#5a96d9,#70c0e7,#89c4ab,#edce3f,#d44730,#ad2025,#9a161f,#96141e,#9c1720,#ab1e24,#ba2629,#c62c2c,#ca322e,#d2432f,#e05e32,#f1b33b,#e6e143,#bdd25e,#9dc681,#95c48e,#93c491,#85c4b9,#73c1e2,#70c0e7,#70c0e7,#4f74ba,#4f74ba,#4f74ba,#4f74ba,#4f74ba,#4f74ba,#4f74ba)"></div><div style="height:2.00px;background:linear-gradient(90deg,#4f74ba,#4f74ba,#4f74ba,#70c0e7,#70c0e7,#77c2db,#88c4af,#91c496,#97c48a,#a6ca77,#bad161,#ced853,#d2da51,#d8dc4c,#dede49,#e7e243,#eada41,#ebd540,#ead941,#dadd4b,#9fc77f,#79c3d8,#70c0e7,#4f74ba,#4f74ba,#4f74ba,#4f74ba,#4f74ba,#4f74ba,#4f74ba,#4f74ba,#5688cd,#70c0e7,#88c4ad,#eecb3f,#d3432f,#a51c23,#96141e,#96141e,#96141e,#a51b22,#b72428,#c52b2c,#ca312d,#d3442f,#e05f32,#f2ba3c,#e3e045,#bad161,#9cc583,#95c48e,#8dc49e,#7cc3d4,#70c0e7,#70c0e7,#5584c9,#4f74ba,#4f74ba,#6cbeee,#6cbeee,#4f74ba,#4f74ba,#4f74ba)"></div><div style="height:2.00px;background:linear-gradient(90deg,#4f74ba,#4f74ba,#4f74ba,#70c0e7,#70c0e7,#74c1e2,#83c4be,#91c496,#97c489,#aacb73,#c1d45c,#cfd953,#d6db4e,#dcdd4a,#e6e143,#ecd340,#f1bf3d,#f1b13b,#f1bd3d,#e9dd41,#a8ca75,#7ac3d7,#70c0e7,#4f74ba,#4f74ba,#4f74ba,#4f74ba,#4f74ba,#4f74ba,#4f74ba,#4f74ba,#5179bf,#70c0e7,#87c4b2,#edcc3f,#d44630,#a61c23,#96141e,#96141e,#96141e,#a61c23,#b82528,#c52b2c,#ca312d,#d54930,#e06032,#f0c23d,#dbdd4a,#b4cf67,#98c487,#93c491,#84c4b9,#73c1e2,#70c0e7,#70c0e7,#4f74ba,#4f74ba,#4f74ba,#6cbeee,#6cbeee,#4f74ba,#4f74ba,#4f74ba)"></div><div style="height:2.00px;background:linear-gradient(90deg,#4f74ba,#4f74ba,#4f74ba,#5fa3e4,#70c0e7,#70c0e7,#7dc4d2,#8dc49e,#95c48d,#a3c87b,#b8d163,#ced953,#d4db4f,#ddde49,#e9df42,#eec83e,#efa039,#eb8336,#ee9a39,#ebd440,#a7ca76,#79c3d8,#70c0e7,#4f74ba,#4f74ba,#4f74ba,#4f74ba,#4f74ba,#4f74ba,#4f74ba,#4f74ba,#4f74ba,#70c0e7,#83c4bd,#ead941,#da5331,#b22226,#9e1821,#9a161f,#a01921,#ae2025,#bf282a,#ca312d,#d2422f,#db5531,#e87034,#eeca3e,#d4db4f,#afcd6e,#95c48d,#88c4ad,#7ac3d7,#70c0e7,#70c0e7,#5483c8,#4f74ba,#4f74ba,#4f74ba,#4f74ba,#4f74ba,#4f74ba,#4f74ba,#4f74ba)"></div><div style="height:2.00px;background:linear-gradient(90deg,#4f74ba,#4f74ba,#4f74ba,#4f74ba,#70c0e7,#70c0e7,#76c2dd,#81c4c6,#89c4aa,#93c492,#a6c977,#bed35d,#cad756,#d5db4f,#e3e046,#ecd240,#f1bd3d,#f1b13b,#efc43e,#e8e242,#96c48a,#75c1df,#70c0e7,#4f74ba,#4f74ba,#4f74ba,#4f74ba,#4f74ba,#4f74ba,#4f74ba,#4f74ba,#4f74ba,#70c0e7,#81c4c6,#e3e045,#e16132,#cc362e,#c72c2d,#c12a2b,#c62c2d,#cd382e,#d44630,#d95031,#de5b32,#e97835,#f1b53c,#ebd640,#ccd854,#a5c978,#89c4aa,#7ac3d7,#70c0e7,#70c0e7,#70c0e7,#4f74ba,#4f74ba,#4f74ba,#4f74ba,#4f74ba,#4f74ba,#4f74ba,#4f74ba,#4f74ba)"></div><div style="height:2.00px;background:linear-gradient(90deg,#4f74ba,#4f74ba,#4f74ba,#4f74ba,#70c0e7,#70c0e7,#70c0e7,#71c0e5,#77c2dc,#80c4c7,#8ac4a5,#93c491,#9fc77f,#a7ca77,#b0cd6c,#bfd35d,#ccd854,#c8d657,#b2ce6a,#97c48a,#8dc49f,#72c0e4,#70c0e7,#4f74ba,#4f74ba,#4f74ba,#4f74ba,#4f74ba,#4f74ba,#4f74ba,#4f74ba,#4f74ba,#70c0e7,#7ec4ce,#d4db4f,#ec9038,#e36633,#dd5832,#d84e30,#da5331,#e46733,#e97b35,#ec8c37,#ee9f39,#eeca3e,#e2e046,#c3d55a,#9fc780,#8dc49f,#7ac3d7,#70c0e7,#70c0e7,#70c0e7,#4f74ba,#4f74ba,#4f74ba,#4f74ba,#4f74ba,#4f74ba,#4f74ba,#4f74ba,#4f74ba,#4f74ba)"></div><div style="height:2.00px;background:linear-gradient(90deg,#4f74ba,#4f74ba,#4f74ba,#4f74ba,#4f74ba,#70c0e7,#70c0e7,#70c0e7,#70c0e7,#72c0e4,#76c1de,#7ac3d7,#7ec4d0,#7fc4cb,#81c4c6,#83c4bf,#84c4bc,#7fc4ca,#7ac3d7,#75c1df,#72c0e4,#70c0e7,#61a9e8,#4f74ba,#4f74ba,#4f74ba,#4f74ba,#4f74ba,#4f74ba,#4f74ba,#4f74ba,#4f74ba,#70c0e7,#7ac3d7,#91c495,#c9d757,#e1e046,#e7e242,#e9dd41,#e9dd41,#e8e242,#e2e046,#dbdd4b,#cbd755,#afcd6e,#94c490,#88c4ae,#7ec4cf,#75c1e0,#70c0e7,#70c0e7,#70c0e7,#4f74ba,#4f74ba,#4f74ba,#4f74ba,#4f74ba,#4f74ba,#4f74ba,#4f74ba,#4f74ba,#4f74ba,#4f74ba)"></div><div style="height:2.00px;background:linear-gradient(90deg,#4f74ba,#4f74ba,#4f74ba,#4f74ba,#4f74ba,#4f74ba,#4f74ba,#63ade9,#70c0e7,#70c0e7,#70c0e7,#70c0e7,#70c0e7,#70c0e7,#70c0e7,#70c0e7,#70c0e7,#70c0e7,#70c0e7,#70c0e7,#70c0e7,#61a9e8,#4f74ba,#4f74ba,#4f74ba,#4f74ba,#4f74ba,#4f74ba,#4f74ba,#4f74ba,#4f74ba,#4f74ba,#70c0e7,#70c0e7,#75c1df,#82c4c0,#88c4ad,#8ac4a7,#8cc4a1,#8dc49f,#8cc4a0,#8bc4a2,#8ac4a7,#83c4bd,#7dc4d3,#75c1df,#72c0e5,#70c0e7,#70c0e7,#70c0e7,#70c0e7,#4f74ba,#4f74ba,#4f74ba,#4f74ba,#4f74ba,#4f74ba,#4f74ba,#4f74ba,#4f74ba,#4f74ba,#4f74ba,#4f74ba)"></div><div style="height:2.00px;background:linear-gradient(90deg,#4f74ba,#4f74ba,#4f74ba,#4f74ba,#4f74ba,#4f74ba,#4f74ba,#4f74ba,#4f74ba,#4f74ba,#4f74ba,#4f74ba,#4f74ba,#4f74ba,#4f74ba,#5076bc,#527cc2,#4f74ba,#4f74ba,#4f74ba,#4f74ba,#4f74ba,#4f74ba,#4f74ba,#4f74ba,#4f74ba,#4f74ba,#4f74ba,#4f74ba,#4f74ba,#4f74ba,#4f74ba,#4f74ba,#61a9e8,#70c0e7,#71c0e6,#71c0e6,#71c0e5,#72c0e5,#72c0e4,#72c0e4,#72c0e4,#72c0e4,#71c0e6,#70c0e7,#70c0e7,#70c0e7,#70c0e7,#70c0e7,#60a7e7,#4f74ba,#4f74ba,#4f74ba,#4f74ba,#4f74ba,#4f74ba,#4f74ba,#4f74ba,#4f74ba,#4f74ba,#4f74ba,#4f74ba,#4f74ba)"></div><div style="height:2.00px;background:linear-gradient(90deg,#4f74ba,#4f74ba,#4f74ba,#4f74ba,#4f74ba,#4f74ba,#4f74ba,#4f74ba,#4f74ba,#4f74ba,#4f74ba,#4f74ba,#4f74ba,#4f74ba,#4f74ba,#4f74ba,#4f74ba,#4f74ba,#4f74ba,#4f74ba,#4f74ba,#4f74ba,#4f74ba,#4f74ba,#4f74ba,#4f74ba,#4f74ba,#4f74ba,#4f74ba,#4f74ba,#4f74ba,#4f74ba,#4f74ba,#4f74ba,#4f74ba,#70c0e7,#70c0e7,#70c0e7,#70c0e7,#70c0e7,#70c0e7,#70c0e7,#70c0e7,#70c0e7,#5fa6e6,#4f74ba,#4f74ba,#4f74ba,#4f74ba,#4f74ba,#4f74ba,#4f74ba,#4f74ba,#4f74ba,#4f74ba,#4f74ba,#4f74ba,#4f74ba,#4f74ba,#4f74ba,#4f74ba,#4f74ba,#4f74ba)"></div><div style="height:2.00px;background:linear-gradient(90deg,#4f74ba,#4f74ba,#4f74ba,#4f74ba,#4f74ba,#4f74ba,#4f74ba,#4f74ba,#4f74ba,#4f74ba,#4f74ba,#4f74ba,#4f74ba,#4f74ba,#4f74ba,#4f74ba,#4f74ba,#4f74ba,#4f74ba,#4f74ba,#4f74ba,#4f74ba,#4f74ba,#4f74ba,#4f74ba,#4f74ba,#4f74ba,#4f74ba,#4f74ba,#4f74ba,#4f74ba,#4f74ba,#4f74ba,#4f74ba,#4f74ba,#4f74ba,#4f74ba,#4f74ba,#4f74ba,#4f74ba,#4f74ba,#4f74ba,#4f74ba,#4f74ba,#4f74ba,#4f74ba,#4f74ba,#4f74ba,#4f74ba,#4f74ba,#4f74ba,#4f74ba,#4f74ba,#4f74ba,#4f74ba,#4f74ba,#4f74ba,#4f74ba,#4f74ba,#4f74ba,#4f74ba,#4f74ba,#4f74ba)"></div><div style="height:2.00px;background:linear-gradient(90deg,#4f74ba,#4f74ba,#4f74ba,#4f74ba,#4f74ba,#4f74ba,#4f74ba,#4f74ba,#4f74ba,#4f74ba,#4f74ba,#4f74ba,#4f74ba,#4f74ba,#4f74ba,#4f74ba,#4f74ba,#4f74ba,#4f74ba,#4f74ba,#4f74ba,#4f74ba,#4f74ba,#4f74ba,#4f74ba,#4f74ba,#4f74ba,#4f74ba,#4f74ba,#4f74ba,#4f74ba,#4f74ba,#4f74ba,#4f74ba,#4f74ba,#4f74ba,#4f74ba,#4f74ba,#4f74ba,#4f74ba,#4f74ba,#4f74ba,#4f74ba,#4f74ba,#4f74ba,#4f74ba,#4f74ba,#4f74ba,#4f74ba,#4f74ba,#4f74ba,#4f74ba,#4f74ba,#4f74ba,#4f74ba,#4f74ba,#4f74ba,#4f74ba,#4f74ba,#4f74ba,#4f74ba,#4f74ba,#4f74ba)"></div><div style="height:2.00px;background:linear-gradient(90deg,#4f74ba,#4f74ba,#4f74ba,#4f74ba,#4f74ba,#4f74ba,#4f74ba,#4f74ba,#4f74ba,#4f74ba,#4f74ba,#4f74ba,#4f74ba,#4f74ba,#4f74ba,#4f74ba,#4f74ba,#4f74ba,#4f74ba,#4f74ba,#4f74ba,#4f74ba,#4f74ba,#4f74ba,#4f74ba,#4f74ba,#4f74ba,#4f74ba,#4f74ba,#4f74ba,#4f74ba,#4f74ba,#4f74ba,#4f74ba,#4f74ba,#4f74ba,#4f74ba,#4f74ba,#4f74ba,#4f74ba,#4f74ba,#4f74ba,#4f74ba,#4f74ba,#4f74ba,#4f74ba,#4f74ba,#4f74ba,#4f74ba,#4f74ba,#4f74ba,#4f74ba,#4f74ba,#4f74ba,#4f74ba,#4f74ba,#4f74ba,#4f74ba,#4f74ba,#4f74ba,#4f74ba,#4f74ba,#4f74ba)"></div><div style="height:2.00px;background:linear-gradient(90deg,#4f74ba,#4f74ba,#4f74ba,#4f74ba,#4f74ba,#4f74ba,#4f74ba,#4f74ba,#4f74ba,#4f74ba,#4f74ba,#4f74ba,#4f74ba,#4f74ba,#4f74ba,#4f74ba,#4f74ba,#4f74ba,#4f74ba,#4f74ba,#4f74ba,#4f74ba,#4f74ba,#4f74ba,#4f74ba,#4f74ba,#4f74ba,#4f74ba,#4f74ba,#4f74ba,#4f74ba,#4f74ba,#4f74ba,#4f74ba,#4f74ba,#4f74ba,#4f74ba,#4f74ba,#4f74ba,#4f74ba,#4f74ba,#4f74ba,#4f74ba,#4f74ba,#4f74ba,#4f74ba,#4f74ba,#4f74ba,#4f74ba,#4f74ba,#4f74ba,#4f74ba,#4f74ba,#4f74ba,#4f74ba,#4f74ba,#4f74ba,#4f74ba,#4f74ba,#4f74ba,#4f74ba,#4f74ba,#4f74ba)"></div><div style="height:2.00px;background:linear-gradient(90deg,#4f74ba,#4f74ba,#4f74ba,#4f74ba,#4f74ba,#4f74ba,#4f74ba,#4f74ba,#4f74ba,#4f74ba,#4f74ba,#4f74ba,#4f74ba,#4f74ba,#4f74ba,#4f74ba,#4f74ba,#4f74ba,#4f74ba,#4f74ba,#4f74ba,#4f74ba,#4f74ba,#4f74ba,#4f74ba,#4f74ba,#4f74ba,#4f74ba,#4f74ba,#4f74ba,#4f74ba,#4f74ba,#4f74ba,#4f74ba,#4f74ba,#4f74ba,#4f74ba,#4f74ba,#4f74ba,#4f74ba,#4f74ba,#4f74ba,#4f74ba,#4f74ba,#4f74ba,#4f74ba,#4f74ba,#4f74ba,#4f74ba,#4f74ba,#4f74ba,#4f74ba,#4f74ba,#4f74ba,#4f74ba,#4f74ba,#4f74ba,#4f74ba,#4f74ba,#4f74ba,#4f74ba,#4f74ba,#4f74ba)"></div><div style="height:2.00px;background:linear-gradient(90deg,#4f74ba,#4f74ba,#4f74ba,#4f74ba,#4f74ba,#4f74ba,#4f74ba,#4f74ba,#4f74ba,#4f74ba,#4f74ba,#4f74ba,#4f74ba,#5178be,#4f74ba,#4f74ba,#4f74ba,#4f74ba,#4f74ba,#4f74ba,#4f74ba,#4f74ba,#4f74ba,#4f74ba,#4f74ba,#4f74ba,#4f74ba,#4f74ba,#4f74ba,#4f74ba,#4f74ba,#4f74ba,#4f74ba,#62abe9,#70c0e7,#70c0e7,#70c0e7,#70c0e7,#70c0e7,#70c0e7,#70c0e7,#70c0e7,#70c0e7,#6ebfeb,#5d9fe0,#5076bc,#4f74ba,#4f74ba,#4f74ba,#4f74ba,#4f74ba,#4f74ba,#4f74ba,#4f74ba,#4f74ba,#4f74ba,#4f74ba,#4f74ba,#4f74ba,#4f74ba,#4f74ba,#4f74ba,#4f74ba)"></div><div style="height:2.00px;background:linear-gradient(90deg,#4f74ba,#4f74ba,#4f74ba,#4f74ba,#4f74ba,#4f74ba,#4f74ba,#4f74ba,#4f75bb,#66b3eb,#70c0e7,#70c0e7,#70c0e7,#70c0e7,#70c0e7,#70c0e7,#70c0e7,#70c0e7,#70c0e7,#4f74ba,#4f74ba,#4f74ba,#4f74ba,#4f74ba,#4f74ba,#4f74ba,#4f74ba,#4f74ba,#4f74ba,#4f74ba,#4f74ba,#4f74ba,#4f74ba,#70c0e7,#72c0e5,#73c1e2,#75c1df,#78c2da,#7bc3d5,#7bc3d5,#77c2dc,#74c1e1,#72c0e4,#71c0e6,#70c0e7,#70c0e7,#70c0e7,#4f74ba,#4f74ba,#4f74ba,#527cc2,#6abaed,#69b9ed,#4f74ba,#4f74ba,#4f74ba,#4f74ba,#4f74ba,#4f74ba,#4f74ba,#4f74ba,#4f74ba,#4f74ba)"></div><div style="height:2.00px;background:linear-gradient(90deg,#4f74ba,#4f74ba,#4f74ba,#4f74ba,#4f74ba,#4f74ba,#4f74ba,#588ed2,#70c0e7,#70c0e7,#70c0e7,#71c0e6,#72c0e4,#74c1e0,#76c2dd,#78c2da,#79c3d9,#79c3d9,#72c0e4,#70c0e7,#70c0e7,#4f74ba,#4f74ba,#4f74ba,#4f74ba,#4f74ba,#4f74ba,#4f74ba,#4f74ba,#4f74ba,#4f74ba,#4f74ba,#70c0e7,#71c0e6,#81c4c3,#93c492,#9bc584,#abcb72,#bbd260,#b9d162,#a4c979,#95c48d,#8ec49d,#86c4b5,#7cc4d4,#72c0e4,#70bfe7,#70c0e7,#70c0e7,#70c0e7,#70c0e7,#70bfe8,#70bfe7,#70c0e7,#70c0e7,#4f74ba,#4f74ba,#4f74ba,#4f74ba,#4f74ba,#4f74ba,#4f74ba,#4f74ba)"></div><div style="height:2.00px;background:linear-gradient(90deg,#4f74ba,#4f74ba,#4f74ba,#4f74ba,#4f74ba,#4f74ba,#4f74ba,#70c0e7,#70c0e7,#71c0e6,#72c0e4,#75c1df,#7ac3d7,#80c4c9,#85c4b8,#8bc4a5,#90c499,#91c496,#86c4b5,#79c2d9,#71c0e6,#70c0e7,#4f74ba,#4f74ba,#4f74ba,#4f74ba,#4f74ba,#4f74ba,#4f74ba,#4f74ba,#4f74ba,#4f74ba,#70c0e7,#72c0e4,#8ec49c,#e6e143,#edcf3f,#eecb3f,#efc73e,#eec83e,#edcd3f,#ecd340,#e8e242,#bed35e,#94c48f,#7fc4cb,#6fbfe9,#6ebfeb,#6cbeee,#68b8ec,#65b2eb,#63ade9,#64b0ea,#6abbed,#6fbfe8,#70c0e7,#4f74ba,#4f74ba,#4f74ba,#4f74ba,#4f74ba,#4f74ba,#4f74ba)"></div><div style="height:2.00px;background:linear-gradient(90deg,#4f74ba,#4f74ba,#4f74ba,#4f74ba,#4f74ba,#4f74ba,#69b8ec,#70c0e7,#70c0e7,#75c1e0,#7ac3d8,#7dc4d2,#81c4c6,#86c4b4,#8cc4a0,#93c491,#9cc583,#a2c87c,#99c486,#8bc4a4,#74c1e1,#70c0e7,#4f74ba,#4f74ba,#4f74ba,#4f74ba,#4f74ba,#4f74ba,#4f74ba,#4f74ba,#4f74ba,#4f74ba,#70c0e7,#73c0e3,#8dc49f,#dadd4b,#f1be3d,#f1b13b,#f0ae3b,#f1ae3b,#f1b33b,#f1bd3d,#edce3f,#d2da50,#a9cb74,#8cc4a0,#79c3d8,#6bbced,#65b0ea,#62abe9,#64afea,#67b4eb,#64afea,#62abe9,#6ebfeb,#70c0e7,#4f74ba,#4f74ba,#4f74ba,#4f74ba,#4f74ba,#4f74ba,#4f74ba)"></div><div style="height:2.00px;background:linear-gradient(90deg,#4f74ba,#4f74ba,#4f74ba,#4f74ba,#4f74ba,#4f74ba,#70c0e7,#70c0e7,#72c0e4,#78c2da,#7ec4d0,#7fc4cb,#82c4c2,#86c4b4,#8cc4a0,#93c491,#9cc682,#a5c978,#9ec681,#8dc49e,#76c1de,#70c0e7,#4f74ba,#4f74ba,#4f74ba,#4f74ba,#4f74ba,#4f74ba,#4f74ba,#4f74ba,#4f74ba,#4f74ba,#70c0e7,#72c0e4,#8ac4a6,#cdd853,#f0c03d,#f2b83c,#f0aa3a,#f1b03b,#f2ba3c,#f0bf3d,#e5e144,#bed35e,#9dc681,#91c496,#87c4b1,#7bc3d5,#71c0e6,#6fbfe9,#72c0e5,#74c1e1,#6bbced,#61aae9,#6cbeee,#70c0e7,#4f74ba,#4f74ba,#4f74ba,#4f74ba,#4f74ba,#4f74ba,#4f74ba)"></div><div style="height:2.00px;background:linear-gradient(90deg,#4f74ba,#4f74ba,#4f74ba,#4f74ba,#4f74ba,#4f74ba,#70c0e7,#70c0e7,#73c1e2,#7bc3d6,#7ec4d0,#7fc4cc,#81c4c5,#84c4b9,#89c4a9,#8fc499,#94c48f,#97c489,#95c48d,#8bc4a4,#77c2dc,#70c0e7,#4f74ba,#4f74ba,#4f74ba,#4f74ba,#4f74ba,#4f74ba,#4f74ba,#4f74ba,#4f74ba,#4f74ba,#70c0e7,#72c0e4,#88c4ae,#c2d45b,#edcd3f,#f1bf3d,#f1bb3c,#f1be3d,#f0c23d,#ead941,#cfd953,#abcb72,#94c48e,#8ec49c,#8bc4a5,#83c4bf,#7ac3d7,#75c1e0,#74c1e0,#74c1e0,#6bbbed,#61abe9,#6dbeed,#70c0e7,#4f74ba,#4f74ba,#4f74ba,#4f74ba,#4f74ba,#4f74ba,#4f74ba)"></div><div style="height:2.00px;background:linear-gradient(90deg,#4f74ba,#4f74ba,#4f74ba,#4f74ba,#4f74ba,#4f74ba,#70c0e7,#70c0e7,#73c1e2,#7bc3d6,#7ec4d0,#7ec4ce,#80c4c9,#82c4c1,#86c4b5,#8ac4a8,#8dc49e,#8fc499,#8cc49f,#83c4bf,#74c1e1,#70c0e7,#4f74ba,#4f74ba,#4f74ba,#4f74ba,#4f74ba,#4f74ba,#4f74ba,#4f74ba,#4f74ba,#4f74ba,#70c0e7,#71c0e6,#83c4bd,#aecd6e,#d9dd4c,#e9dd41,#eeca3f,#ebd440,#dfdf48,#c9d756,#b4cf68,#9ac585,#90c497,#8ec49c,#8bc4a5,#83c4bf,#7ac3d7,#75c1e0,#74c1e0,#74c1e0,#69b9ed,#62abe9,#6ebfeb,#70c0e7,#4f74ba,#4f74ba,#4f74ba,#4f74ba,#4f74ba,#4f74ba,#4f74ba)"></div><div style="height:2.00px;background:linear-gradient(90deg,#4f74ba,#4f74ba,#4f74ba,#4f74ba,#4f74ba,#4f74ba,#70c0e7,#70c0e7,#73c0e3,#79c2d9,#7dc4d2,#7ec4cf,#7fc4cd,#80c4c8,#82c4c1,#84c4b9,#87c4b2,#88c4ae,#84c4bb,#7ac3d7,#71c0e6,#70c0e7,#4f74ba,#4f74ba,#4f74ba,#4f74ba,#4f74ba,#4f74ba,#4f74ba,#4f74ba,#4f74ba,#4f74ba,#70c0e7,#70c0e7,#7dc4d1,#95c48d,#b3ce69,#c3d55a,#d5db4f,#ced853,#b9d162,#a6ca77,#97c488,#92c494,#8ec49c,#8ec49c,#8bc4a5,#83c4bf,#7ac3d7,#75c1e0,#73c0e3,#6ebfea,#67b6ec,#63ade9,#6fbfe9,#6dbeed,#4f74ba,#4f74ba,#4f74ba,#4f74ba,#4f74ba,#4f74ba,#4f74ba)"></div><div style="height:2.00px;background:linear-gradient(90deg,#4f74ba,#4f74ba,#4f74ba,#4f74ba,#4f74ba,#4f74ba,#70c0e7,#70c0e7,#70c0e7,#74c1e1,#7ac3d7,#7cc4d3,#7ec4d0,#7fc4cd,#7fc4ca,#80c4c7,#81c4c4,#80c4c7,#7dc4d2,#74c1e1,#70c0e7,#65b1ea,#4f74ba,#4f74ba,#4f74ba,#4f74ba,#4f74ba,#4f74ba,#4f74ba,#4f74ba,#4f74ba,#4f74ba,#70c0e7,#70c0e7,#76c2dd,#8ac4a5,#96c48b,#a0c77e,#accc71,#a9ca75,#99c585,#93c491,#8fc499,#8ec49c,#8ec49c,#8ec49c,#8bc4a5,#83c4bf,#7ac3d7,#70bfe7,#66b4eb,#62abe9,#61aae9,#64afea,#70bfe7,#5fa6e6,#4f74ba,#4f74ba,#4f74ba,#4f74ba,#4f74ba,#4f74ba,#4f74ba)"></div><div style="height:2.00px;background:linear-gradient(90deg,#4f74ba,#4f74ba,#4f74ba,#4f74ba,#4f74ba,#4f74ba,#4f74ba,#70c0e7,#70c0e7,#71c0e6,#73c1e2,#75c1df,#77c2dc,#79c3d9,#79c2d9,#78c2d9,#78c2da,#77c2dc,#73c0e2,#71c0e6,#70c0e7,#4f74ba,#4f74ba,#4f74ba,#4f74ba,#4f74ba,#4f74ba,#4f74ba,#4f74ba,#4f74ba,#4f74ba,#4f74ba,#70c0e7,#70c0e7,#75c1df,#86c4b5,#8ec49b,#91c495,#93c490,#93c492,#90c498,#8ec49c,#8ec49c,#8ec49c,#8ec49c,#8ec49c,#8bc4a5,#83c4bf,#78c2da,#67b6ec,#62abe9,#68b7ec,#6cbdee,#6ebfea,#70c0e7,#537fc4,#4f74ba,#4f74ba,#4f74ba,#4f74ba,#4f74ba,#4f74ba,#4f74ba)"></div><div style="height:2.00px;background:linear-gradient(90deg,#4f74ba,#4f74ba,#4f74ba,#4f74ba,#4f74ba,#4f74ba,#4f74ba,#4f74ba,#70c0e7,#70c0e7,#70c0e7,#70c0e7,#71c0e6,#72c0e5,#71c0e5,#71c0e6,#71c0e6,#71c0e6,#70c0e7,#70c0e7,#70c0e7,#4f74ba,#4f74ba,#4f74ba,#4f74ba,#4f74ba,#4f74ba,#4f74ba,#4f74ba,#4f74ba,#4f74ba,#4f74ba,#70c0e7,#70c0e7,#74c1e0,#85c4b7,#8ec49c,#8ec49c,#8ec49c,#8ec49c,#8ec49c,#8ec49c,#8ec49c,#8ec49c,#8ec49c,#8ec49c,#8bc4a5,#83c4bf,#70bfe7,#62abe9,#67b6ec,#70c0e7,#70c0e7,#70c0e7,#61aae9,#4f74ba,#4f74ba,#4f74ba,#4f74ba,#4f74ba,#4f74ba,#4f74ba,#4f74ba)"></div><div style="height:2.00px;background:linear-gradient(90deg,#4f74ba,#4f74ba,#4f74ba,#4f74ba,#6cbeee,#6cbeee,#4f74ba,#4f74ba,#62ace9,#70c0e7,#70c0e7,#70c0e7,#70c0e7,#70c0e7,#70c0e7,#70c0e7,#70c0e7,#70c0e7,#70c0e7,#537fc4,#4f74ba,#4f74ba,#4f74ba,#4f74ba,#4f74ba,#4f74ba,#4f74ba,#4f74ba,#4f74ba,#4f74ba,#4f74ba,#4f74ba,#70c0e7,#70c0e7,#74c1e1,#84c4ba,#8ec49c,#8ec49c,#8ec49c,#8ec49c,#8ec49c,#8ec49c,#8ec49c,#8ec49c,#8ec49c,#8ec49c,#8bc4a5,#7fc4cc,#67b5ec,#64afea,#6fbfe9,#70c0e7,#4f74ba,#4f74ba,#4f74ba,#4f74ba,#4f74ba,#4f74ba,#4f74ba,#4f74ba,#4f74ba,#4f74ba,#4f74ba)"></div><div style="height:2.00px;background:linear-gradient(90deg,#4f74ba,#4f74ba,#4f74ba,#6cbeee,#6cbeee,#6cbeee,#4f74ba,#4f74ba,#4f74ba,#4f74ba,#4f74ba,#5076bc,#69b9ed,#70c0e7,#69b8ec,#5c9bdd,#5179bf,#4f74ba,#4f74ba,#4f74ba,#4f74ba,#4f74ba,#4f74ba,#4f74ba,#4f74ba,#4f74ba,#4f74ba,#4f74ba,#4f74ba,#4f74ba,#4f74ba,#4f74ba,#70c0e7,#70c0e7,#71c0e5,#7fc4cd,#8bc4a4,#8ec49c,#8ec49c,#8ec49c,#8ec49c,#8ec49c,#8ec49c,#8ec49c,#8ec49c,#8ec49c,#88c4ad,#75c1e0,#65b0ea,#6bbdee,#70c0e7,#4f74ba,#4f74ba,#4f74ba,#4f74ba,#4f74ba,#4f74ba,#4f74ba,#4f74ba,#4f74ba,#4f74ba,#4f74ba,#4f74ba)"></div><div style="height:2.00px;background:linear-gradient(90deg,#4f74ba,#4f74ba,#4f74ba,#4f74ba,#6cbeee,#6cbeee,#4f74ba,#4f74ba,#4f74ba,#4f74ba,#4f74ba,#4f74ba,#4f74ba,#4f74ba,#4f74ba,#4f74ba,#4f74ba,#4f74ba,#4f74ba,#4f74ba,#4f74ba,#4f74ba,#4f74ba,#4f74ba,#4f74ba,#4f74ba,#4f74ba,#4f74ba,#4f74ba,#4f74ba,#4f74ba,#4f74ba,#4f74ba,#70c0e7,#70c0e7,#76c1de,#84c4b9,#8cc49f,#8dc49d,#8ec49c,#8ec49c,#8ec49c,#8ec49c,#8ec49c,#8ec49c,#8bc4a2,#7fc4cd,#6bbced,#69b9ed,#70c0e7,#61aae9,#4f74ba,#4f74ba,#4f74ba,#4f74ba,#4f74ba,#4f74ba,#4f74ba,#4f74ba,#4f74ba,#4f74ba,#4f74ba,#4f74ba)"></div><div style="height:2.00px;background:linear-gradient(90deg,#4f74ba,#4f74ba,#4f74ba,#4f74ba,#4f74ba,#4f74ba,#4f74ba,#4f74ba,#4f74ba,#4f74ba,#4f74ba,#4f74ba,#4f74ba,#4f74ba,#4f74ba,#4f74ba,#4f74ba,#4f74ba,#4f74ba,#4f74ba,#4f74ba,#4f74ba,#4f74ba,#4f74ba,#4f74ba,#4f74ba,#4f74ba,#4f74ba,#4f74ba,#4f74ba,#4f74ba,#4f74ba,#4f74ba,#70c0e7,#70c0e7,#71c0e6,#7cc4d4,#7fc4ca,#82c4c0,#85c4b6,#88c4ad,#89c4ab,#87c4af,#86c4b4,#84c4b9,#82c4c2,#72c0e3,#6cbdee,#70bfe7,#70c0e7,#4f74ba,#4f74ba,#4f74ba,#4f74ba,#4f74ba,#4f74ba,#4f74ba,#4f74ba,#4f74ba,#4f74ba,#4f74ba,#4f74ba,#4f74ba)"></div><div style="height:2.00px;background:linear-gradient(90deg,#4f74ba,#4f74ba,#4f74ba,#4f74ba,#4f74ba,#4f74ba,#4f74ba,#4f74ba,#4f74ba,#4f74ba,#4f74ba,#4f74ba,#4f74ba,#4f74ba,#4f74ba,#4f74ba,#4f74ba,#4f74ba,#4f74ba,#4f74ba,#4f74ba,#4f74ba,#4f74ba,#4f74ba,#4f74ba,#4f74ba,#4f74ba,#4f74ba,#4f74ba,#4f74ba,#4f74ba,#4f74ba,#4f74ba,#4f74ba,#70c0e7,#70c0e7,#70c0e7,#71c0e6,#73c0e3,#75c1df,#78c2da,#79c3d9,#77c2dc,#75c1de,#74c1e1,#73c0e3,#6fbfe9,#70bfe7,#70c0e7,#4f74ba,#4f74ba,#4f74ba,#4f74ba,#4f74ba,#4f74ba,#4f74ba,#4f74ba,#4f74ba,#4f74ba,#4f74ba,#4f74ba,#4f74ba,#4f74ba)"></div><div style="height:2.00px;background:linear-gradient(90deg,#4f74ba,#4f74ba,#4f74ba,#4f74ba,#4f74ba,#4f74ba,#4f74ba,#4f74ba,#4f74ba,#4f74ba,#4f74ba,#4f74ba,#4f74ba,#4f74ba,#4f74ba,#4f74ba,#4f74ba,#4f74ba,#4f74ba,#6cbeee,#4f74ba,#4f74ba,#4f74ba,#4f74ba,#4f74ba,#4f74ba,#4f74ba,#4f74ba,#4f74ba,#4f74ba,#4f74ba,#4f74ba,#4f74ba,#4f74ba,#63ade9,#70c0e7,#70c0e7,#70c0e7,#70c0e7,#70c0e7,#70c0e7,#70c0e7,#70c0e7,#70c0e7,#70c0e7,#70c0e7,#70bfe7,#70c0e7,#4f74ba,#4f74ba,#4f74ba,#4f74ba,#4f74ba,#4f74ba,#4f74ba,#4f74ba,#4f74ba,#4f74ba,#4f74ba,#4f74ba,#4f74ba,#4f74ba,#4f74ba)"></div><div style="height:2.00px;background:linear-gradient(90deg,#4f74ba,#4f74ba,#4f74ba,#4f74ba,#4f74ba,#4f74ba,#4f74ba,#4f74ba,#4f74ba,#4f74ba,#4f74ba,#4f74ba,#4f74ba,#4f74ba,#4f74ba,#4f74ba,#4f74ba,#4f74ba,#6cbeee,#6cbeee,#6cbeee,#4f74ba,#4f74ba,#4f74ba,#4f74ba,#4f74ba,#4f74ba,#4f74ba,#4f74ba,#4f74ba,#4f74ba,#4f74ba,#4f74ba,#4f74ba,#4f74ba,#4f74ba,#4f74ba,#5c9dde,#70c0e7,#70c0e7,#70c0e7,#70c0e7,#70c0e7,#70c0e7,#70c0e7,#70c0e7,#66b4eb,#4f74ba,#4f74ba,#4f74ba,#4f74ba,#4f74ba,#4f74ba,#4f74ba,#4f74ba,#4f74ba,#4f74ba,#4f74ba,#4f74ba,#4f74ba,#4f74ba,#4f74ba,#4f74ba)"></div><div style="height:2.00px;background:linear-gradient(90deg,#4f74ba,#4f74ba,#4f74ba,#4f74ba,#4f74ba,#4f74ba,#4f74ba,#4f74ba,#4f74ba,#4f74ba,#4f74ba,#4f74ba,#4f74ba,#4f74ba,#4f74ba,#4f74ba,#4f74ba,#4f74ba,#4f74ba,#6cbeee,#6cbeee,#4f74ba,#4f74ba,#4f74ba,#4f74ba,#4f74ba,#4f74ba,#4f74ba,#4f74ba,#4f74ba,#4f74ba,#4f74ba,#4f74ba,#4f74ba,#4f74ba,#4f74ba,#4f74ba,#4f74ba,#4f74ba,#4f74ba,#4f74ba,#4f74ba,#4f74ba,#4f74ba,#4f74ba,#4f74ba,#4f74ba,#4f74ba,#4f74ba,#4f74ba,#4f74ba,#4f74ba,#4f74ba,#4f74ba,#4f74ba,#4f74ba,#4f74ba,#4f74ba,#4f74ba,#4f74ba,#4f74ba,#4f74ba,#4f74ba)"></div><div style="height:2.00px;background:linear-gradient(90deg,#4f74ba,#4f74ba,#4f74ba,#4f74ba,#4f74ba,#4f74ba,#4f74ba,#4f74ba,#4f74ba,#4f74ba,#4f74ba,#4f74ba,#4f74ba,#4f74ba,#4f74ba,#4f74ba,#4f74ba,#4f74ba,#4f74ba,#4f74ba,#4f74ba,#4f74ba,#4f74ba,#4f74ba,#4f74ba,#4f74ba,#4f74ba,#4f74ba,#4f74ba,#4f74ba,#4f74ba,#4f74ba,#4f74ba,#4f74ba,#4f74ba,#4f74ba,#4f74ba,#4f74ba,#4f74ba,#4f74ba,#4f74ba,#4f74ba,#4f74ba,#4f74ba,#4f74ba,#4f74ba,#4f74ba,#4f74ba,#4f74ba,#4f74ba,#4f74ba,#4f74ba,#4f74ba,#4f74ba,#4f74ba,#4f74ba,#4f74ba,#4f74ba,#4f74ba,#4f74ba,#4f74ba,#4f74ba,#4f74ba)"></div><div style="height:2.00px;background:linear-gradient(90deg,#4f74ba,#4f74ba,#4f74ba,#4f74ba,#4f74ba,#4f74ba,#4f74ba,#4f74ba,#4f74ba,#4f74ba,#4f74ba,#4f74ba,#4f74ba,#4f74ba,#4f74ba,#4f74ba,#4f74ba,#4f74ba,#4f74ba,#4f74ba,#4f74ba,#4f74ba,#4f74ba,#4f74ba,#4f74ba,#4f74ba,#4f74ba,#4f74ba,#4f74ba,#4f74ba,#4f74ba,#4f74ba,#4f74ba,#4f74ba,#4f74ba,#4f74ba,#4f74ba,#4f74ba,#4f74ba,#4f74ba,#4f74ba,#4f74ba,#4f74ba,#4f74ba,#4f74ba,#4f74ba,#4f74ba,#4f74ba,#4f74ba,#4f74ba,#4f74ba,#4f74ba,#4f74ba,#4f74ba,#4f74ba,#4f74ba,#4f74ba,#4f74ba,#4f74ba,#4f74ba,#4f74ba,#4f74ba,#4f74ba)"></div><div style="height:2.00px;background:linear-gradient(90deg,#4f74ba,#4f74ba,#4f74ba,#4f74ba,#4f74ba,#4f74ba,#4f74ba,#4f74ba,#4f74ba,#4f74ba,#4f74ba,#4f74ba,#4f74ba,#4f74ba,#4f74ba,#4f74ba,#4f74ba,#4f74ba,#4f74ba,#4f74ba,#4f74ba,#4f74ba,#4f74ba,#4f74ba,#4f74ba,#4f74ba,#4f74ba,#4f74ba,#4f74ba,#4f74ba,#4f74ba,#4f74ba,#4f74ba,#4f74ba,#4f74ba,#4f74ba,#4f74ba,#4f74ba,#4f74ba,#4f74ba,#4f74ba,#4f74ba,#4f74ba,#4f74ba,#4f74ba,#4f74ba,#4f74ba,#4f74ba,#4f74ba,#4f74ba,#4f74ba,#4f74ba,#4f74ba,#4f74ba,#4f74ba,#4f74ba,#4f74ba,#4f74ba,#4f74ba,#4f74ba,#4f74ba,#4f74ba,#4f74ba)"></div></div></div>
<svg width="520" height="698" viewBox="0 0 520 698" font-family='"Liberation Sans", sans-serif'>
<text x="1.00" y="9.20" font-size="11.00" font-weight="bold" text-anchor="start" fill="#1a1a1a">A</text>
<text x="171.00" y="9.50" font-size="11.00" font-weight="bold" text-anchor="start" fill="#1a1a1a">B</text>
<text x="345.00" y="10.00" font-size="11.00" font-weight="bold" text-anchor="start" fill="#1a1a1a">G</text>
<text x="1.50" y="165.50" font-size="11.00" font-weight="bold" text-anchor="start" fill="#1a1a1a">C</text>
<text x="345.50" y="165.80" font-size="11.00" font-weight="bold" text-anchor="start" fill="#1a1a1a">H</text>
<text x="348.50" y="285.60" font-size="11.00" font-weight="bold" text-anchor="start" fill="#1a1a1a">I</text>
<text x="0.00" y="353.50" font-size="11.00" font-weight="bold" text-anchor="start" fill="#1a1a1a">D</text>
<text x="0.00" y="556.80" font-size="11.00" font-weight="bold" text-anchor="start" fill="#1a1a1a">E</text>
<text x="193.50" y="556.80" font-size="11.00" font-weight="bold" text-anchor="start" fill="#1a1a1a">F</text>
<line x1="45.50" y1="112.00" x2="151.60" y2="13.00" stroke="#3a4a25" stroke-width="0.60"/>
<rect x="45.50" y="13.00" width="106.10" height="99.00" fill="none" stroke="#232a40" stroke-width="0.90"/>
<line x1="41.50" y1="112.00" x2="45.50" y2="112.00" stroke="#333" stroke-width="0.90"/>
<line x1="45.50" y1="112.00" x2="45.50" y2="115.50" stroke="#333" stroke-width="0.90"/>
<text x="37.80" y="114.20" font-size="7.00" font-weight="bold" text-anchor="end" fill="#1a1a1a">0.0</text>
<text x="45.50" y="126.20" font-size="7.00" font-weight="bold" text-anchor="middle" fill="#1a1a1a">0.0</text>
<line x1="41.50" y1="92.20" x2="45.50" y2="92.20" stroke="#333" stroke-width="0.90"/>
<line x1="66.72" y1="112.00" x2="66.72" y2="115.50" stroke="#333" stroke-width="0.90"/>
<text x="37.80" y="94.40" font-size="7.00" font-weight="bold" text-anchor="end" fill="#1a1a1a">0.2</text>
<text x="66.72" y="126.20" font-size="7.00" font-weight="bold" text-anchor="middle" fill="#1a1a1a">0.2</text>
<line x1="41.50" y1="72.40" x2="45.50" y2="72.40" stroke="#333" stroke-width="0.90"/>
<line x1="87.94" y1="112.00" x2="87.94" y2="115.50" stroke="#333" stroke-width="0.90"/>
<text x="37.80" y="74.60" font-size="7.00" font-weight="bold" text-anchor="end" fill="#1a1a1a">0.4</text>
<text x="87.94" y="126.20" font-size="7.00" font-weight="bold" text-anchor="middle" fill="#1a1a1a">0.4</text>
<line x1="41.50" y1="52.60" x2="45.50" y2="52.60" stroke="#333" stroke-width="0.90"/>
<line x1="109.16" y1="112.00" x2="109.16" y2="115.50" stroke="#333" stroke-width="0.90"/>
<text x="37.80" y="54.80" font-size="7.00" font-weight="bold" text-anchor="end" fill="#1a1a1a">0.6</text>
<text x="109.16" y="126.20" font-size="7.00" font-weight="bold" text-anchor="middle" fill="#1a1a1a">0.6</text>
<line x1="41.50" y1="32.80" x2="45.50" y2="32.80" stroke="#333" stroke-width="0.90"/>
<line x1="130.38" y1="112.00" x2="130.38" y2="115.50" stroke="#333" stroke-width="0.90"/>
<text x="37.80" y="35.00" font-size="7.00" font-weight="bold" text-anchor="end" fill="#1a1a1a">0.8</text>
<text x="130.38" y="126.20" font-size="7.00" font-weight="bold" text-anchor="middle" fill="#1a1a1a">0.8</text>
<line x1="41.50" y1="13.00" x2="45.50" y2="13.00" stroke="#333" stroke-width="0.90"/>
<line x1="151.60" y1="112.00" x2="151.60" y2="115.50" stroke="#333" stroke-width="0.90"/>
<text x="37.80" y="15.20" font-size="7.00" font-weight="bold" text-anchor="end" fill="#1a1a1a">1.0</text>
<text x="151.60" y="126.20" font-size="7.00" font-weight="bold" text-anchor="middle" fill="#1a1a1a">1.0</text>
<text x="99.50" y="137.52" font-size="7.00" font-weight="bold" text-anchor="middle" textLength="47.00" lengthAdjust="spacingAndGlyphs" fill="#1a1a1a">Methylation in</text>
<text x="99.50" y="145.52" font-size="7.00" font-weight="bold" text-anchor="middle" textLength="63.00" lengthAdjust="spacingAndGlyphs" fill="#1a1a1a">wildtype leukemias</text>
<text x="13.12" y="62.80" font-size="7.00" font-weight="bold" text-anchor="middle" textLength="76.40" lengthAdjust="spacingAndGlyphs" transform="rotate(-90.00 13.12 62.80)" fill="#1a1a1a">Methylation in <tspan font-style="italic">Dnmt3b</tspan>-</text>
<text x="21.72" y="62.70" font-size="7.00" font-weight="bold" text-anchor="middle" textLength="62.50" lengthAdjust="spacingAndGlyphs" transform="rotate(-90.00 21.72 62.70)" fill="#1a1a1a">knockin leukemias</text>
<line x1="219.80" y1="111.30" x2="323.40" y2="14.80" stroke="#3a4a25" stroke-width="0.60"/>
<rect x="219.80" y="14.80" width="103.60" height="96.50" fill="none" stroke="#232a40" stroke-width="0.90"/>
<line x1="215.80" y1="111.30" x2="219.80" y2="111.30" stroke="#333" stroke-width="0.90"/>
<line x1="219.80" y1="111.30" x2="219.80" y2="114.80" stroke="#333" stroke-width="0.90"/>
<text x="212.60" y="113.50" font-size="7.00" font-weight="bold" text-anchor="end" fill="#1a1a1a">0.0</text>
<text x="219.80" y="124.30" font-size="7.00" font-weight="bold" text-anchor="middle" fill="#1a1a1a">0.0</text>
<line x1="215.80" y1="92.00" x2="219.80" y2="92.00" stroke="#333" stroke-width="0.90"/>
<line x1="240.52" y1="111.30" x2="240.52" y2="114.80" stroke="#333" stroke-width="0.90"/>
<text x="212.60" y="94.20" font-size="7.00" font-weight="bold" text-anchor="end" fill="#1a1a1a">0.2</text>
<text x="240.52" y="124.30" font-size="7.00" font-weight="bold" text-anchor="middle" fill="#1a1a1a">0.2</text>
<line x1="215.80" y1="72.70" x2="219.80" y2="72.70" stroke="#333" stroke-width="0.90"/>
<line x1="261.24" y1="111.30" x2="261.24" y2="114.80" stroke="#333" stroke-width="0.90"/>
<text x="212.60" y="74.90" font-size="7.00" font-weight="bold" text-anchor="end" fill="#1a1a1a">0.4</text>
<text x="261.24" y="124.30" font-size="7.00" font-weight="bold" text-anchor="middle" fill="#1a1a1a">0.4</text>
<line x1="215.80" y1="53.40" x2="219.80" y2="53.40" stroke="#333" stroke-width="0.90"/>
<line x1="281.96" y1="111.30" x2="281.96" y2="114.80" stroke="#333" stroke-width="0.90"/>
<text x="212.60" y="55.60" font-size="7.00" font-weight="bold" text-anchor="end" fill="#1a1a1a">0.6</text>
<text x="281.96" y="124.30" font-size="7.00" font-weight="bold" text-anchor="middle" fill="#1a1a1a">0.6</text>
<line x1="215.80" y1="34.10" x2="219.80" y2="34.10" stroke="#333" stroke-width="0.90"/>
<line x1="302.68" y1="111.30" x2="302.68" y2="114.80" stroke="#333" stroke-width="0.90"/>
<text x="212.60" y="36.30" font-size="7.00" font-weight="bold" text-anchor="end" fill="#1a1a1a">0.8</text>
<text x="302.68" y="124.30" font-size="7.00" font-weight="bold" text-anchor="middle" fill="#1a1a1a">0.8</text>
<line x1="215.80" y1="14.80" x2="219.80" y2="14.80" stroke="#333" stroke-width="0.90"/>
<line x1="323.40" y1="111.30" x2="323.40" y2="114.80" stroke="#333" stroke-width="0.90"/>
<text x="212.60" y="17.00" font-size="7.00" font-weight="bold" text-anchor="end" fill="#1a1a1a">1.0</text>
<text x="323.40" y="124.30" font-size="7.00" font-weight="bold" text-anchor="middle" fill="#1a1a1a">1.0</text>
<text x="271.60" y="137.72" font-size="7.00" font-weight="bold" text-anchor="middle" textLength="47.00" lengthAdjust="spacingAndGlyphs" fill="#1a1a1a">Methylation in</text>
<text x="271.60" y="145.82" font-size="7.00" font-weight="bold" text-anchor="middle" textLength="63.00" lengthAdjust="spacingAndGlyphs" fill="#1a1a1a">wildtype leukemias</text>
<text x="188.72" y="61.50" font-size="7.00" font-weight="bold" text-anchor="middle" textLength="75.90" lengthAdjust="spacingAndGlyphs" transform="rotate(-90.00 188.72 61.50)" fill="#1a1a1a">Methylation in <tspan font-style="italic">Dnmt3b</tspan>-</text>
<text x="196.42" y="62.00" font-size="7.00" font-weight="bold" text-anchor="middle" textLength="62.30" lengthAdjust="spacingAndGlyphs" transform="rotate(-90.00 196.42 62.00)" fill="#1a1a1a">knockin leukemias</text>
<rect x="377.80" y="11.20" width="131.80" height="118.00" fill="none" stroke="#9a9a9a" stroke-width="0.70"/>
<line x1="431.60" y1="13.00" x2="431.60" y2="127.80" stroke="#151515" stroke-width="1.00"/>
<line x1="375.20" y1="125.40" x2="377.80" y2="125.40" stroke="#666" stroke-width="0.60"/>
<text x="373.00" y="125.40" font-size="6.80" font-weight="normal" text-anchor="middle" transform="rotate(-90.00 373.00 125.40)" fill="#1a1a1a">0.0</text>
<line x1="375.20" y1="103.30" x2="377.80" y2="103.30" stroke="#666" stroke-width="0.60"/>
<text x="373.00" y="103.30" font-size="6.80" font-weight="normal" text-anchor="middle" transform="rotate(-90.00 373.00 103.30)" fill="#1a1a1a">0.2</text>
<line x1="375.20" y1="81.20" x2="377.80" y2="81.20" stroke="#666" stroke-width="0.60"/>
<text x="373.00" y="81.20" font-size="6.80" font-weight="normal" text-anchor="middle" transform="rotate(-90.00 373.00 81.20)" fill="#1a1a1a">0.4</text>
<line x1="375.20" y1="59.10" x2="377.80" y2="59.10" stroke="#666" stroke-width="0.60"/>
<text x="373.00" y="59.10" font-size="6.80" font-weight="normal" text-anchor="middle" transform="rotate(-90.00 373.00 59.10)" fill="#1a1a1a">0.6</text>
<line x1="375.20" y1="37.00" x2="377.80" y2="37.00" stroke="#666" stroke-width="0.60"/>
<text x="373.00" y="37.00" font-size="6.80" font-weight="normal" text-anchor="middle" transform="rotate(-90.00 373.00 37.00)" fill="#1a1a1a">0.8</text>
<line x1="375.20" y1="14.90" x2="377.80" y2="14.90" stroke="#666" stroke-width="0.60"/>
<text x="373.00" y="14.90" font-size="6.80" font-weight="normal" text-anchor="middle" transform="rotate(-90.00 373.00 14.90)" fill="#1a1a1a">1.0</text>
<line x1="395.20" y1="129.20" x2="395.20" y2="131.20" stroke="#666" stroke-width="0.60"/>
<text x="395.20" y="139.00" font-size="6.60" font-weight="bold" text-anchor="middle" fill="#1a1a1a">−0.4</text>
<line x1="413.60" y1="129.20" x2="413.60" y2="131.20" stroke="#666" stroke-width="0.60"/>
<text x="413.60" y="139.00" font-size="6.60" font-weight="bold" text-anchor="middle" fill="#1a1a1a">−0.2</text>
<line x1="432.00" y1="129.20" x2="432.00" y2="131.20" stroke="#666" stroke-width="0.60"/>
<text x="432.00" y="139.00" font-size="6.60" font-weight="bold" text-anchor="middle" fill="#1a1a1a">0.0</text>
<line x1="450.40" y1="129.20" x2="450.40" y2="131.20" stroke="#666" stroke-width="0.60"/>
<text x="450.40" y="139.00" font-size="6.60" font-weight="bold" text-anchor="middle" fill="#1a1a1a">0.2</text>
<line x1="468.80" y1="129.20" x2="468.80" y2="131.20" stroke="#666" stroke-width="0.60"/>
<text x="468.80" y="139.00" font-size="6.60" font-weight="bold" text-anchor="middle" fill="#1a1a1a">0.4</text>
<line x1="487.20" y1="129.20" x2="487.20" y2="131.20" stroke="#666" stroke-width="0.60"/>
<text x="487.20" y="139.00" font-size="6.60" font-weight="bold" text-anchor="middle" fill="#1a1a1a">0.6</text>
<line x1="505.60" y1="129.20" x2="505.60" y2="131.20" stroke="#666" stroke-width="0.60"/>
<text x="505.60" y="139.00" font-size="6.60" font-weight="bold" text-anchor="middle" fill="#1a1a1a">0.8</text>
<text x="444.50" y="148.88" font-size="6.60" font-weight="bold" text-anchor="middle" textLength="131.50" lengthAdjust="spacingAndGlyphs" fill="#1a1a1a">Methylation difference in <tspan font-style="italic">MLL-AF9</tspan> leukemias</text>
<text x="361.98" y="69.70" font-size="6.60" font-weight="bold" text-anchor="middle" textLength="87.60" lengthAdjust="spacingAndGlyphs" transform="rotate(-90.00 361.98 69.70)" fill="#1a1a1a">Methylation in TKO + <tspan font-style="italic">Dnmt3b</tspan></text>
<path d="M83.8 184.4L84.7 184.4L84.7 184.4L85.6 184.4L85.6 182.6L86.5 182.6L86.5 183.5L87.4 183.6L87.3 184.2L88.2 184.3L88.2 184.2L89.1 184.3L89.1 184.3L90.0 184.3L89.9 184.8L90.8 184.9L90.9 184.1L91.8 184.2L91.8 183.9L92.7 184.0L92.6 184.9L93.4 185.0L93.5 184.7L94.3 184.8L94.2 185.5L95.1 185.6L95.1 185.3L96.0 185.5L96.1 184.7L97.0 184.9L97.1 184.4L98.0 184.6L98.0 184.6L98.9 184.8L98.9 184.6L99.8 184.8L99.9 184.0L100.8 184.3L100.5 185.4L101.4 185.6L101.4 185.8L102.2 186.0L102.1 186.2L103.0 186.5L102.9 186.8L103.7 187.1L103.8 186.9L104.6 187.2L104.7 187.0L105.5 187.3L105.6 186.9L106.5 187.2L107.4 184.8L108.2 185.1L107.4 187.2L108.2 187.6L108.1 187.9L108.9 188.3L105.2 197.3A53.8 53.8 0 0 0 83.9 193.2ZM112.4 190.2L113.2 190.6L113.0 191.1L113.7 191.5L113.9 191.2L114.6 191.7L114.5 191.8L115.3 192.3L115.3 192.4L116.0 192.8L115.9 192.9L116.7 193.4L118.3 190.7L119.1 191.2L117.9 193.1L118.7 193.5L118.3 194.1L119.1 194.6L118.9 194.8L119.6 195.3L119.7 195.2L120.4 195.7L120.2 196.0L120.9 196.5L121.0 196.4L121.7 196.9L121.8 196.7L122.5 197.3L122.3 197.5L123.0 198.0L123.4 197.6L124.1 198.1L124.1 198.1L124.7 198.7L124.4 199.1L125.1 199.6L125.0 199.8L125.6 200.3L126.2 199.6L126.9 200.2L126.6 200.5L127.3 201.1L127.5 200.9L128.2 201.5L129.4 200.1L130.1 200.8L129.0 201.9L129.6 202.5L129.3 202.8L129.9 203.4L129.9 203.5L130.5 204.1L131.8 202.8L132.5 203.5L124.4 210.9A53.8 53.8 0 0 0 108.2 198.7ZM134.3 207.2L134.9 208.0L134.1 208.6L134.6 209.3L134.5 209.4L135.1 210.1L135.0 210.1L135.6 210.8L135.8 210.6L136.4 211.4L136.0 211.6L136.5 212.4L136.3 212.5L136.8 213.3L137.4 212.9L137.9 213.7L139.6 212.6L140.1 213.4L138.2 214.5L138.7 215.3L138.6 215.3L139.1 216.1L139.4 215.9L139.8 216.7L139.6 216.8L140.0 217.6L140.4 217.4L140.8 218.3L141.0 218.2L141.4 219.0L140.9 219.2L141.2 220.1L143.5 219.0L143.9 219.8L141.8 220.8L142.2 221.6L142.8 221.4L143.1 222.2L143.4 222.1L143.7 223.0L143.0 223.3L143.3 224.1L142.7 224.3L143.1 225.2L143.5 225.0L143.8 225.8L135.2 228.9A53.8 53.8 0 0 0 126.5 213.4ZM145.3 229.6L145.5 230.4L148.1 229.7L148.3 230.6L145.9 231.2L146.1 232.1L145.9 232.2L146.1 233.0L145.5 233.2L145.7 234.0L145.5 234.1L145.7 234.9L145.7 234.9L145.9 235.8L146.5 235.7L146.6 236.6L146.3 236.6L146.5 237.5L146.5 237.5L146.6 238.4L146.9 238.3L147.0 239.2L149.3 238.9L149.4 239.8L149.1 239.9L149.2 240.8L146.7 241.0L146.8 241.9L146.5 241.9L146.6 242.8L146.9 242.8L147.0 243.7L147.2 243.6L147.2 244.5L147.8 244.5L147.8 245.4L147.6 245.4L147.6 246.3L148.1 246.3L148.1 247.2L148.2 247.2L148.1 248.1L147.8 248.1L147.7 249.0L147.2 249.0L147.2 249.8L138.2 249.4A53.8 53.8 0 0 0 136.2 232.2ZM146.9 253.8L146.8 254.7L147.2 254.7L147.1 255.6L146.5 255.5L146.4 256.4L150.0 257.0L149.9 257.9L150.0 257.9L149.8 258.9L146.1 258.2L145.9 259.1L146.4 259.2L146.3 260.1L146.3 260.1L146.1 260.9L146.0 260.9L145.7 261.8L148.5 262.4L148.3 263.4L145.7 262.7L145.4 263.6L145.7 263.6L145.5 264.5L144.9 264.4L144.7 265.2L147.3 266.0L147.0 266.9L144.4 266.1L144.1 266.9L144.0 266.9L143.7 267.7L143.7 267.7L143.4 268.6L143.9 268.8L143.6 269.6L145.4 270.3L145.1 271.2L145.8 271.5L145.4 272.3L142.9 271.3L142.5 272.1L142.0 271.9L141.6 272.7L133.6 269.1A53.8 53.8 0 0 0 138.0 252.8ZM140.8 276.7L140.4 277.5L140.6 277.6L140.1 278.4L139.3 277.9L138.8 278.7L139.0 278.8L138.6 279.6L138.8 279.7L138.3 280.5L138.0 280.2L137.5 281.0L138.1 281.3L137.6 282.1L137.2 281.9L136.7 282.6L137.8 283.4L137.3 284.1L135.6 282.9L135.1 283.6L134.9 283.5L134.4 284.2L134.9 284.6L134.4 285.3L134.3 285.3L133.8 286.0L133.6 285.8L133.1 286.5L133.5 286.9L132.9 287.6L132.5 287.2L131.9 287.9L132.3 288.2L131.7 288.9L131.5 288.7L131.0 289.4L131.1 289.5L130.5 290.2L129.9 289.6L129.3 290.3L131.5 292.4L130.9 293.1L128.9 291.1L128.3 291.7L122.1 285.4A53.8 53.8 0 0 0 132.1 272.1ZM126.1 295.2L125.4 295.8L124.7 295.0L124.0 295.6L124.3 295.8L123.6 296.4L123.2 295.9L122.5 296.5L124.3 298.8L123.5 299.4L122.1 297.4L121.3 297.9L123.2 300.5L122.4 301.1L121.1 299.1L120.3 299.6L120.2 299.4L119.4 299.9L119.2 299.6L118.4 300.1L118.2 299.7L117.5 300.2L117.6 300.3L116.8 300.8L116.6 300.5L115.8 300.9L116.1 301.3L115.3 301.8L115.2 301.7L114.5 302.1L114.3 301.8L113.5 302.2L113.3 301.9L112.5 302.3L112.9 303.1L112.1 303.5L111.9 303.0L111.1 303.4L111.4 304.1L110.6 304.5L110.8 305.0L110.0 305.3L106.0 296.3A53.8 53.8 0 0 0 119.6 287.7ZM106.1 306.3L105.3 306.6L105.1 306.1L104.3 306.4L104.3 306.6L103.5 306.8L103.3 306.3L102.5 306.6L103.4 309.7L102.5 309.9L101.9 307.7L101.0 308.0L101.0 308.1L100.2 308.3L100.0 307.8L99.2 308.0L99.4 308.8L98.5 309.0L98.8 310.4L97.9 310.6L97.4 308.2L96.6 308.4L96.7 309.0L95.8 309.1L95.9 309.8L95.0 309.9L95.1 310.2L94.2 310.3L94.1 309.7L93.2 309.8L93.2 310.2L92.3 310.3L92.3 309.9L91.4 310.0L91.4 309.7L90.5 309.8L90.5 310.4L89.6 310.4L88.8 300.6A53.8 53.8 0 0 0 102.9 297.6ZM85.7 312.3L84.7 312.3L84.7 311.3L83.8 311.3L83.8 309.4L82.9 309.4L82.9 309.6L82.0 309.6L82.0 310.2L81.1 310.2L81.1 309.3L80.2 309.3L80.3 308.8L79.4 308.8L79.1 312.1L78.2 312.0L78.5 308.7L77.6 308.6L77.6 308.7L76.7 308.6L76.7 309.0L75.8 308.8L75.9 308.4L75.0 308.3L74.9 309.0L74.0 308.8L73.9 309.6L73.0 309.4L72.5 311.9L71.6 311.7L72.1 309.1L71.2 309.0L71.1 309.3L70.2 309.1L70.1 309.8L69.2 309.6L71.7 299.3A53.8 53.8 0 0 0 85.5 300.8ZM65.8 306.9L64.9 306.7L64.7 307.3L63.8 307.0L63.8 307.0L63.0 306.7L62.9 307.1L62.0 306.8L62.2 306.2L61.4 305.9L61.5 305.5L60.7 305.2L60.4 305.9L59.6 305.5L59.8 305.0L59.0 304.6L58.3 306.2L57.4 305.9L57.3 306.2L56.4 305.8L56.3 306.1L55.5 305.7L56.4 303.7L55.6 303.3L55.6 303.4L54.8 302.9L55.2 302.1L54.4 301.7L53.1 304.1L52.3 303.6L53.3 301.9L52.5 301.5L51.6 303.0L50.8 302.6L50.1 303.7L49.3 303.2L51.1 300.3L50.4 299.8L55.3 292.2A53.8 53.8 0 0 0 68.4 298.3ZM47.3 297.3L46.6 296.8L46.1 297.5L45.4 296.9L45.8 296.4L45.1 295.8L43.6 297.7L42.9 297.1L42.1 298.1L41.4 297.5L43.8 294.7L43.1 294.1L40.8 296.7L40.2 296.1L42.2 293.8L41.6 293.2L41.4 293.4L40.8 292.8L39.1 294.5L38.5 293.9L38.5 293.9L37.8 293.2L39.9 291.2L39.2 290.6L39.3 290.5L38.7 289.9L38.8 289.8L38.2 289.2L37.5 289.8L36.9 289.1L36.7 289.3L36.1 288.6L36.7 288.1L36.1 287.5L34.4 288.9L33.8 288.2L42.8 280.9A53.8 53.8 0 0 0 52.5 290.3ZM31.9 284.6L31.3 283.8L32.8 282.7L32.3 282.0L32.8 281.6L32.3 280.9L31.5 281.4L31.0 280.7L30.8 280.8L30.3 280.0L30.1 280.1L29.6 279.4L30.0 279.1L29.5 278.3L30.1 278.0L29.7 277.2L29.7 277.2L29.2 276.4L28.5 276.8L28.1 275.9L28.7 275.6L28.3 274.8L26.7 275.6L26.3 274.7L24.8 275.5L24.4 274.6L27.8 273.0L27.4 272.2L27.3 272.3L26.9 271.4L26.8 271.5L26.5 270.6L26.1 270.8L25.7 269.9L34.4 266.6A53.8 53.8 0 0 0 40.7 278.2ZM24.3 266.2L24.1 265.4L23.8 265.5L23.5 264.6L23.2 264.7L23.0 263.9L21.5 264.3L21.3 263.4L23.8 262.7L23.6 261.9L22.9 262.1L22.7 261.2L22.4 261.3L22.2 260.4L23.1 260.2L23.0 259.4L23.0 259.4L22.8 258.5L20.3 259.0L20.2 258.1L22.9 257.6L22.7 256.8L20.0 257.2L19.8 256.3L20.3 256.2L20.1 255.3L22.4 255.1L22.3 254.2L20.3 254.4L20.2 253.5L22.1 253.3L22.0 252.5L22.3 252.4L22.2 251.6L22.4 251.6L22.3 250.7L30.8 250.2A53.8 53.8 0 0 0 33.3 263.4ZM21.4 246.8L21.4 245.9L20.9 245.9L20.9 245.0L21.2 245.0L21.2 244.1L20.9 244.1L20.9 243.1L18.8 243.0L18.9 242.1L21.3 242.3L21.4 241.4L21.6 241.4L21.7 240.5L22.1 240.5L22.2 239.6L22.0 239.6L22.1 238.7L22.7 238.8L22.8 237.9L22.7 237.9L22.9 237.0L23.1 237.0L23.2 236.2L23.3 236.2L23.5 235.3L21.3 234.9L21.5 234.0L23.0 234.3L23.2 233.4L21.5 233.0L21.7 232.1L23.2 232.5L23.4 231.6L22.9 231.5L23.1 230.6L32.5 233.1A53.8 53.8 0 0 0 30.7 246.8ZM24.7 226.9L25.0 226.1L23.5 225.5L23.8 224.7L25.2 225.2L25.6 224.3L25.3 224.2L25.6 223.4L25.2 223.2L25.5 222.4L25.6 222.4L26.0 221.6L27.0 222.0L27.3 221.2L26.9 221.0L27.3 220.2L24.3 218.8L24.7 217.9L27.7 219.4L28.1 218.6L25.9 217.4L26.3 216.6L28.2 217.6L28.7 216.8L26.7 215.8L27.2 215.0L28.0 215.4L28.5 214.6L30.3 215.7L30.8 214.9L38.3 219.4A53.8 53.8 0 0 0 33.5 229.9ZM31.0 210.3L31.6 209.6L33.7 211.1L34.2 210.4L34.2 210.3L34.7 209.6L34.3 209.3L34.9 208.6L34.5 208.3L35.1 207.6L35.2 207.7L35.8 207.0L36.3 207.4L36.9 206.7L33.8 204.2L34.5 203.4L37.0 205.7L37.6 205.0L35.0 202.6L35.6 201.9L38.6 204.7L39.2 204.0L36.9 201.8L37.6 201.2L39.3 202.8L39.9 202.2L39.6 201.8L40.2 201.2L47.1 208.3A53.8 53.8 0 0 0 40.1 216.6ZM41.9 197.0L42.6 196.4L44.2 198.3L44.8 197.7L44.7 197.6L45.4 197.0L45.7 197.3L46.4 196.8L45.1 195.1L45.8 194.6L46.8 195.9L47.6 195.4L47.7 195.6L48.4 195.1L48.6 195.4L49.3 194.9L49.1 194.5L49.8 194.0L49.9 194.2L50.7 193.7L49.7 192.3L50.5 191.8L51.5 193.3L52.2 192.9L52.4 193.2L53.2 192.8L51.9 190.5L52.7 190.1L58.2 200.0A53.8 53.8 0 0 0 49.6 206.0ZM55.9 187.4L56.8 187.0L56.9 187.2L57.7 186.8L58.4 188.4L59.3 188.0L59.3 188.1L60.1 187.7L59.8 186.8L60.6 186.5L61.1 187.7L62.0 187.4L62.2 188.0L63.1 187.7L62.9 187.1L63.7 186.8L64.1 187.8L64.9 187.5L65.0 187.6L65.8 187.3L65.5 186.4L66.4 186.2L66.7 187.0L67.5 186.7L67.6 186.9L68.4 186.7L70.7 195.0A53.8 53.8 0 0 0 61.2 198.5ZM72.0 184.6L72.9 184.4L72.8 184.1L73.7 184.0L73.3 181.6L74.2 181.5L74.7 184.6L75.5 184.4L75.5 184.3L76.4 184.2L76.1 182.0L77.0 181.9L77.4 185.2L78.2 185.1L78.0 182.5L78.9 182.4L79.1 185.1L80.0 185.1L80.6 193.3A53.8 53.8 0 0 0 73.9 194.2Z" fill="#c3252b"/>
<path d="M84.2 209.2L84.8 209.2L84.8 208.7L85.3 208.7L85.3 209.7L85.8 209.7L85.7 212.4L86.2 212.4L86.2 211.1L86.7 211.1L86.9 207.9L87.4 207.9L87.3 209.4L87.9 209.4L87.8 210.2L88.3 210.2L88.3 209.9L88.8 209.9L89.0 208.2L89.6 208.2L89.7 207.3L90.2 207.4L90.0 209.2L90.5 209.3L90.0 212.3L90.5 212.4L90.7 211.2L91.2 211.3L91.7 208.4L92.2 208.5L92.4 207.8L92.9 207.9L92.7 208.9L93.2 209.0L93.2 209.2L93.7 209.3L93.7 209.2L94.2 209.4L94.3 209.3L94.8 209.4L94.7 209.6L95.2 209.8L94.5 212.2L95.0 212.4L96.1 208.7L96.6 208.9L95.4 212.8L95.9 213.0L95.6 213.6L96.1 213.8L96.1 213.8L96.5 214.0L97.8 210.6L98.3 210.8L98.1 211.2L98.6 211.4L98.0 212.8L98.5 213.0L101.9 204.8A45.6 45.6 0 0 0 84.2 201.4ZM102.1 211.5L102.6 211.8L102.9 211.2L103.4 211.4L103.5 211.2L104.0 211.5L103.2 213.0L103.6 213.2L104.0 212.6L104.4 212.9L104.2 213.3L104.7 213.6L103.3 215.8L103.7 216.1L104.9 214.2L105.4 214.5L103.0 218.1L103.4 218.4L106.2 214.1L106.7 214.4L107.0 214.0L107.4 214.3L104.5 218.5L104.9 218.8L106.8 216.1L107.2 216.4L107.6 215.9L108.0 216.2L107.8 216.5L108.2 216.8L108.4 216.6L108.8 216.9L108.4 217.5L108.8 217.8L108.9 217.6L109.3 218.0L107.3 220.3L107.7 220.6L107.4 221.0L107.7 221.3L111.2 217.5L111.6 217.8L108.5 221.1L108.9 221.4L109.8 220.5L110.2 220.8L111.6 219.3L112.0 219.7L111.8 219.9L112.2 220.3L111.1 221.4L111.4 221.7L110.9 222.2L111.2 222.6L118.2 216.3A45.6 45.6 0 0 0 104.8 206.1ZM115.2 222.6L115.6 223.1L115.8 222.9L116.1 223.4L114.9 224.3L115.2 224.7L112.3 226.8L112.6 227.2L113.4 226.6L113.7 227.0L114.7 226.3L115.0 226.7L113.3 227.9L113.5 228.3L117.6 225.7L117.9 226.2L118.5 225.8L118.8 226.3L114.3 229.0L114.6 229.4L118.4 227.2L118.7 227.6L117.5 228.3L117.8 228.8L116.2 229.6L116.4 230.1L119.0 228.7L119.3 229.2L116.4 230.7L116.7 231.1L119.1 229.9L119.4 230.4L119.1 230.5L119.3 231.0L119.2 231.1L119.4 231.6L116.7 232.7L116.9 233.2L120.8 231.5L121.1 232.1L116.9 233.7L117.1 234.2L121.5 232.5L121.7 233.0L121.1 233.2L121.3 233.7L127.4 231.5A45.6 45.6 0 0 0 120.2 218.7ZM122.0 236.4L122.1 236.9L120.0 237.5L120.1 238.0L118.2 238.4L118.3 238.9L122.8 237.8L122.9 238.4L121.9 238.6L122.0 239.1L121.6 239.2L121.7 239.7L120.4 240.0L120.5 240.5L123.3 240.0L123.4 240.5L122.6 240.6L122.7 241.2L120.1 241.6L120.2 242.1L122.7 241.7L122.8 242.2L122.0 242.3L122.1 242.8L123.6 242.7L123.6 243.2L120.5 243.5L120.6 244.0L118.7 244.2L118.8 244.6L118.6 244.7L118.7 245.1L123.3 244.9L123.3 245.4L123.8 245.4L123.8 245.9L123.8 245.9L123.8 246.5L124.2 246.5L124.2 247.0L124.2 247.0L124.2 247.6L124.0 247.6L124.0 248.1L122.5 248.1L122.5 248.6L130.1 248.9A45.6 45.6 0 0 0 128.4 234.6ZM123.4 251.4L123.3 251.9L123.6 251.9L123.5 252.5L122.2 252.3L122.1 252.8L121.6 252.7L121.5 253.3L119.9 253.0L119.8 253.5L118.5 253.2L118.4 253.7L123.5 254.7L123.4 255.3L122.5 255.1L122.4 255.6L122.4 255.6L122.3 256.1L123.3 256.4L123.1 256.9L122.0 256.6L121.8 257.2L121.7 257.1L121.6 257.6L117.9 256.6L117.7 257.0L122.0 258.3L121.9 258.9L121.6 258.8L121.4 259.3L120.5 259.0L120.3 259.5L119.5 259.2L119.3 259.7L120.3 260.1L120.2 260.6L120.5 260.7L120.3 261.2L116.7 259.8L116.6 260.2L117.8 260.7L117.6 261.2L116.8 260.9L116.6 261.3L126.1 265.6A45.6 45.6 0 0 0 129.8 252.1ZM117.8 264.7L117.5 265.2L115.8 264.2L115.6 264.7L116.7 265.3L116.5 265.7L114.6 264.7L114.3 265.1L116.5 266.3L116.2 266.8L115.7 266.5L115.5 266.9L113.1 265.4L112.9 265.8L113.7 266.4L113.4 266.8L115.1 267.9L114.8 268.3L113.9 267.7L113.6 268.1L115.7 269.6L115.4 270.0L115.9 270.5L115.6 270.9L116.2 271.3L115.8 271.8L114.8 270.9L114.5 271.3L115.0 271.8L114.7 272.2L111.3 269.4L110.9 269.7L114.6 272.9L114.2 273.3L111.6 270.9L111.2 271.3L111.1 271.1L110.7 271.5L112.5 273.1L112.1 273.5L111.7 273.1L111.3 273.4L111.6 273.7L111.2 274.1L116.5 279.5A45.6 45.6 0 0 0 124.8 268.4ZM109.5 276.1L109.1 276.5L109.5 277.0L109.1 277.3L106.9 274.7L106.5 275.0L106.4 274.9L106.0 275.2L105.7 274.7L105.3 275.0L105.9 275.8L105.5 276.1L107.0 278.2L106.5 278.5L104.0 274.9L103.6 275.2L105.4 277.7L105.0 278.0L105.2 278.4L104.8 278.7L105.2 279.3L104.7 279.6L103.6 277.8L103.2 278.0L103.8 279.1L103.3 279.4L101.6 276.4L101.2 276.7L102.7 279.2L102.2 279.5L102.1 279.2L101.6 279.5L101.7 279.7L101.3 279.9L101.8 280.9L101.3 281.1L101.7 281.9L101.2 282.1L100.9 281.6L100.5 281.8L98.8 278.3L98.4 278.5L102.9 288.7A45.6 45.6 0 0 0 114.2 281.6ZM97.0 281.8L96.6 282.0L97.4 284.4L96.9 284.6L96.7 284.1L96.2 284.3L95.8 282.9L95.3 283.1L95.3 282.9L94.8 283.1L94.8 283.2L94.3 283.3L94.6 284.3L94.0 284.5L93.8 283.4L93.3 283.6L92.9 282.0L92.4 282.1L93.0 284.9L92.5 285.0L92.7 286.0L92.2 286.1L92.2 286.4L91.7 286.5L91.4 284.8L90.9 284.9L90.9 284.9L90.4 284.9L90.4 285.1L89.9 285.2L90.0 286.0L89.4 286.1L89.4 285.6L88.8 285.6L88.9 286.2L88.4 286.3L88.2 285.1L87.7 285.2L88.3 292.4A45.6 45.6 0 0 0 100.0 289.9ZM85.1 285.9L84.5 285.9L84.5 286.7L84.0 286.7L84.0 286.5L83.4 286.5L83.4 286.8L82.9 286.8L82.9 285.9L82.3 285.9L82.6 281.7L82.1 281.7L81.8 286.3L81.2 286.3L81.3 285.6L80.7 285.6L80.8 285.3L80.2 285.3L80.2 285.1L79.7 285.1L79.8 284.3L79.3 284.2L79.2 284.7L78.7 284.6L78.5 285.7L78.0 285.6L77.9 286.4L77.3 286.3L77.7 284.4L77.1 284.3L77.1 284.7L76.5 284.6L76.6 284.1L76.1 284.0L76.8 281.2L76.3 281.1L73.8 291.3A45.6 45.6 0 0 0 85.2 292.6ZM72.8 284.1L72.2 284.0L73.6 279.8L73.2 279.6L73.2 279.5L72.8 279.3L72.9 279.1L72.4 278.9L70.8 283.3L70.3 283.1L70.7 282.0L70.2 281.8L69.6 283.3L69.1 283.1L70.3 280.2L69.9 280.0L69.1 281.6L68.7 281.4L70.2 278.0L69.8 277.8L67.7 282.2L67.2 282.0L67.6 281.2L67.1 281.0L66.5 282.1L66.0 281.9L66.0 281.9L65.5 281.6L66.4 280.2L65.9 279.9L65.4 280.7L65.0 280.5L64.9 280.5L64.5 280.2L64.5 280.2L64.0 279.9L64.1 279.9L63.6 279.6L59.9 285.4A45.6 45.6 0 0 0 70.7 290.5ZM61.2 278.3L60.7 278.0L60.7 278.1L60.3 277.8L59.8 278.4L59.3 278.1L59.8 277.5L59.4 277.1L59.0 277.6L58.6 277.2L59.0 276.8L58.6 276.4L60.9 273.9L60.5 273.5L57.9 276.4L57.5 276.1L58.6 274.8L58.3 274.5L58.3 274.5L57.9 274.1L59.9 272.0L59.6 271.7L56.7 274.6L56.3 274.2L55.9 274.6L55.5 274.2L56.2 273.5L55.9 273.2L56.0 273.1L55.6 272.7L55.9 272.4L55.6 272.0L54.8 272.7L54.4 272.3L57.3 269.9L57.0 269.5L49.2 275.9A45.6 45.6 0 0 0 57.3 283.6ZM53.9 268.7L53.6 268.2L55.2 267.1L55.0 266.7L51.9 268.7L51.6 268.2L55.0 266.1L54.7 265.7L52.4 267.1L52.1 266.7L51.1 267.2L50.9 266.8L51.3 266.5L51.0 266.1L53.2 264.8L53.0 264.4L51.2 265.3L51.0 264.8L51.8 264.4L51.5 263.9L50.8 264.3L50.6 263.8L53.1 262.6L52.9 262.1L49.6 263.7L49.4 263.2L49.9 262.9L49.7 262.5L49.1 262.7L48.9 262.2L49.7 261.9L49.5 261.4L51.7 260.5L51.5 260.0L42.1 263.7A45.6 45.6 0 0 0 47.3 273.4ZM51.4 257.5L51.3 257.0L47.8 258.1L47.6 257.6L47.3 257.6L47.2 257.1L51.1 256.1L51.0 255.6L46.4 256.8L46.2 256.3L46.5 256.2L46.4 255.7L45.7 255.9L45.6 255.4L46.9 255.1L46.8 254.6L45.6 254.8L45.5 254.3L44.8 254.4L44.8 253.9L46.4 253.6L46.4 253.1L46.8 253.0L46.7 252.5L49.6 252.1L49.5 251.6L45.4 252.1L45.4 251.6L45.7 251.6L45.7 251.0L46.1 251.0L46.0 250.5L45.9 250.5L45.8 250.0L50.0 249.6L50.0 249.2L39.0 249.9A45.6 45.6 0 0 0 41.0 260.7ZM48.7 246.8L48.7 246.3L46.6 246.2L46.6 245.7L47.3 245.7L47.3 245.2L46.7 245.2L46.8 244.6L47.0 244.7L47.0 244.1L47.4 244.2L47.4 243.6L48.8 243.8L48.9 243.3L45.3 242.9L45.4 242.3L45.2 242.3L45.3 241.8L46.8 242.0L46.9 241.5L49.3 241.8L49.4 241.3L45.1 240.6L45.2 240.1L49.9 240.9L50.0 240.4L46.6 239.8L46.7 239.3L47.0 239.3L47.2 238.8L46.4 238.6L46.5 238.1L46.3 238.1L46.5 237.5L46.1 237.4L46.2 236.9L40.4 235.4A45.6 45.6 0 0 0 38.9 246.7ZM48.3 234.7L48.5 234.2L47.2 233.7L47.4 233.2L48.4 233.6L48.6 233.1L49.8 233.6L50.0 233.1L50.6 233.4L50.8 232.9L49.0 232.1L49.2 231.6L52.7 233.2L52.9 232.7L49.1 231.0L49.4 230.5L49.6 230.7L49.9 230.2L52.7 231.6L52.9 231.1L49.6 229.5L49.9 229.0L50.7 229.4L50.9 229.0L51.7 229.3L51.9 228.9L51.2 228.5L51.5 228.0L51.1 227.8L51.3 227.4L45.3 223.8A45.6 45.6 0 0 0 41.3 232.3ZM53.8 225.8L54.1 225.4L54.6 225.8L54.9 225.3L53.4 224.2L53.8 223.8L54.7 224.5L55.0 224.1L54.9 224.0L55.2 223.6L55.2 223.6L55.5 223.2L55.9 223.5L56.2 223.1L56.4 223.3L56.8 222.9L57.0 223.1L57.3 222.7L58.8 224.1L59.2 223.7L56.8 221.5L57.1 221.1L56.8 220.8L57.2 220.4L57.8 221.0L58.1 220.7L57.7 220.2L58.1 219.8L52.7 214.3A45.6 45.6 0 0 0 47.0 221.1ZM60.0 218.1L60.4 217.7L60.1 217.4L60.5 217.1L62.8 219.9L63.2 219.6L60.5 216.2L61.0 215.9L60.8 215.7L61.2 215.3L63.1 218.0L63.5 217.7L62.0 215.6L62.5 215.3L64.7 218.5L65.1 218.2L62.8 214.9L63.2 214.6L63.3 214.7L63.7 214.4L64.2 215.1L64.6 214.8L64.2 214.2L64.7 214.0L66.8 217.5L67.2 217.3L64.5 212.6L65.0 212.4L62.1 207.3A45.6 45.6 0 0 0 55.1 212.2ZM69.8 216.0L70.2 215.8L68.4 211.9L68.9 211.7L69.2 212.4L69.7 212.2L69.5 211.7L70.0 211.5L69.9 211.4L70.4 211.2L70.1 210.4L70.6 210.2L70.5 210.0L71.1 209.8L71.6 211.3L72.1 211.1L73.4 214.8L73.8 214.7L72.3 210.0L72.8 209.8L73.8 213.0L74.2 212.8L73.7 211.0L74.2 210.9L74.2 211.0L74.7 210.8L72.6 203.0A45.6 45.6 0 0 0 64.9 205.8ZM77.1 209.1L77.6 209.0L77.6 209.5L78.1 209.4L78.1 209.3L78.6 209.2L78.6 209.2L79.1 209.1L79.4 211.2L79.9 211.1L79.5 208.0L80.0 208.0L80.0 208.7L80.5 208.6L80.5 207.8L81.0 207.7L81.0 208.5L81.5 208.5L81.0 201.5A45.6 45.6 0 0 0 75.7 202.3Z" fill="#80c25c"/>
<path d="M83.98 197.00 A50.00 50.00 0 0 1 103.70 200.83" fill="none" stroke="#1e1e22" stroke-width="4.2"/>
<path d="M84.94 197.00 A50.00 50.00 0 0 1 102.81 200.47" fill="none" stroke="#fff" stroke-width="1.2"/>
<path d="M106.56 202.13 A50.00 50.00 0 0 1 121.54 213.41" fill="none" stroke="#1e1e22" stroke-width="4.2"/>
<path d="M107.42 202.56 A50.00 50.00 0 0 1 120.89 212.71" fill="none" stroke="#fff" stroke-width="1.2"/>
<path d="M123.57 215.80 A50.00 50.00 0 0 1 131.60 230.21" fill="none" stroke="#1e1e22" stroke-width="4.2"/>
<path d="M124.17 216.56 A50.00 50.00 0 0 1 131.27 229.31" fill="none" stroke="#fff" stroke-width="1.2"/>
<path d="M132.56 233.20 A50.00 50.00 0 0 1 134.45 249.27" fill="none" stroke="#1e1e22" stroke-width="4.2"/>
<path d="M132.81 234.13 A50.00 50.00 0 0 1 134.48 248.31" fill="none" stroke="#fff" stroke-width="1.2"/>
<path d="M134.21 252.40 A50.00 50.00 0 0 1 130.10 267.52" fill="none" stroke="#1e1e22" stroke-width="4.2"/>
<path d="M134.09 253.35 A50.00 50.00 0 0 1 130.48 266.64" fill="none" stroke="#fff" stroke-width="1.2"/>
<path d="M128.72 270.34 A50.00 50.00 0 0 1 119.48 282.73" fill="none" stroke="#1e1e22" stroke-width="4.2"/>
<path d="M128.26 271.18 A50.00 50.00 0 0 1 120.16 282.05" fill="none" stroke="#fff" stroke-width="1.2"/>
<path d="M117.17 284.85 A50.00 50.00 0 0 1 104.53 292.81" fill="none" stroke="#1e1e22" stroke-width="4.2"/>
<path d="M116.43 285.47 A50.00 50.00 0 0 1 105.40 292.42" fill="none" stroke="#fff" stroke-width="1.2"/>
<path d="M101.61 293.98 A50.00 50.00 0 0 1 88.53 296.84" fill="none" stroke="#1e1e22" stroke-width="4.2"/>
<path d="M100.70 294.30 A50.00 50.00 0 0 1 89.49 296.75" fill="none" stroke="#fff" stroke-width="1.2"/>
<path d="M85.39 296.99 A50.00 50.00 0 0 1 72.61 295.56" fill="none" stroke="#1e1e22" stroke-width="4.2"/>
<path d="M84.43 297.00 A50.00 50.00 0 0 1 73.54 295.78" fill="none" stroke="#fff" stroke-width="1.2"/>
<path d="M69.58 294.72 A50.00 50.00 0 0 1 57.37 289.00" fill="none" stroke="#1e1e22" stroke-width="4.2"/>
<path d="M68.67 294.43 A50.00 50.00 0 0 1 58.18 289.51" fill="none" stroke="#fff" stroke-width="1.2"/>
<path d="M54.78 287.21 A50.00 50.00 0 0 1 45.70 278.54" fill="none" stroke="#1e1e22" stroke-width="4.2"/>
<path d="M54.02 286.63 A50.00 50.00 0 0 1 46.31 279.28" fill="none" stroke="#fff" stroke-width="1.2"/>
<path d="M43.80 276.04 A50.00 50.00 0 0 1 37.92 265.18" fill="none" stroke="#1e1e22" stroke-width="4.2"/>
<path d="M43.25 275.25 A50.00 50.00 0 0 1 38.28 266.07" fill="none" stroke="#fff" stroke-width="1.2"/>
<path d="M36.87 262.22 A50.00 50.00 0 0 1 34.59 249.98" fill="none" stroke="#1e1e22" stroke-width="4.2"/>
<path d="M36.59 261.30 A50.00 50.00 0 0 1 34.66 250.94" fill="none" stroke="#fff" stroke-width="1.2"/>
<path d="M34.50 246.84 A50.00 50.00 0 0 1 36.20 234.08" fill="none" stroke="#1e1e22" stroke-width="4.2"/>
<path d="M34.51 245.88 A50.00 50.00 0 0 1 35.96 235.01" fill="none" stroke="#fff" stroke-width="1.2"/>
<path d="M37.10 231.08 A50.00 50.00 0 0 1 41.57 221.37" fill="none" stroke="#1e1e22" stroke-width="4.2"/>
<path d="M37.42 230.17 A50.00 50.00 0 0 1 41.09 222.20" fill="none" stroke="#fff" stroke-width="1.2"/>
<path d="M43.26 218.72 A50.00 50.00 0 0 1 49.76 211.04" fill="none" stroke="#1e1e22" stroke-width="4.2"/>
<path d="M43.81 217.94 A50.00 50.00 0 0 1 49.08 211.71" fill="none" stroke="#fff" stroke-width="1.2"/>
<path d="M52.09 208.93 A50.00 50.00 0 0 1 60.09 203.36" fill="none" stroke="#1e1e22" stroke-width="4.2"/>
<path d="M52.82 208.31 A50.00 50.00 0 0 1 59.26 203.84" fill="none" stroke="#fff" stroke-width="1.2"/>
<path d="M62.88 201.92 A50.00 50.00 0 0 1 71.63 198.68" fill="none" stroke="#1e1e22" stroke-width="4.2"/>
<path d="M63.75 201.51 A50.00 50.00 0 0 1 70.71 198.94" fill="none" stroke="#fff" stroke-width="1.2"/>
<path d="M74.69 197.97 A50.00 50.00 0 0 1 80.84 197.13" fill="none" stroke="#1e1e22" stroke-width="4.2"/>
<path d="M75.63 197.79 A50.00 50.00 0 0 1 79.88 197.21" fill="none" stroke="#fff" stroke-width="1.2"/>
<text x="109.88" y="172.88" font-size="6.3" font-weight="bold" text-anchor="middle" fill="#1a1a1a" transform="rotate(11.0 98.89 172.88) scale(0.9 1)" dy="2.2">chr1</text>
<text x="144.36" y="186.69" font-size="6.3" font-weight="bold" text-anchor="middle" fill="#1a1a1a" transform="rotate(37.0 129.92 186.69) scale(0.9 1)" dy="2.2">chr2</text>
<text x="167.18" y="210.27" font-size="6.3" font-weight="bold" text-anchor="middle" fill="#1a1a1a" transform="rotate(60.9 150.46 210.27) scale(0.9 1)" dy="2.2">chr3</text>
<text x="177.20" y="238.18" font-size="6.3" font-weight="bold" text-anchor="middle" fill="#1a1a1a" transform="rotate(83.3 159.48 238.18) scale(0.9 1)" dy="2.2">chr4</text>
<text x="174.84" y="266.81" font-size="6.3" font-weight="bold" text-anchor="middle" fill="#1a1a1a" transform="rotate(105.2 157.35 266.81) scale(0.9 1)" dy="2.2">chr5</text>
<text x="161.14" y="292.14" font-size="6.3" font-weight="bold" text-anchor="middle" fill="#1a1a1a" transform="rotate(126.7 145.02 292.14) scale(0.9 1)" dy="2.2">chr6</text>
<text x="138.59" y="310.89" font-size="6.3" font-weight="bold" text-anchor="middle" fill="#1a1a1a" transform="rotate(147.8 124.73 310.89) scale(0.9 1)" dy="2.2">chr7</text>
<text x="111.78" y="320.76" font-size="6.3" font-weight="bold" text-anchor="middle" fill="#1a1a1a" transform="rotate(167.7 100.61 320.76) scale(0.9 1)" dy="2.2">chr8</text>
<text x="84.58" y="322.03" font-size="6.3" font-weight="bold" text-anchor="middle" fill="#1a1a1a" transform="rotate(186.4 76.13 322.03) scale(0.9 1)" dy="2.2">chr9</text>
<text x="58.28" y="315.36" font-size="6.3" font-weight="bold" text-anchor="middle" fill="#1a1a1a" transform="rotate(205.1 52.46 315.36) scale(0.9 1)" dy="2.2">chr10</text>
<text x="35.95" y="301.60" font-size="6.3" font-weight="bold" text-anchor="middle" fill="#1a1a1a" transform="rotate(223.7 32.36 301.60) scale(0.9 1)" dy="2.2">chr11</text>
<text x="20.11" y="282.93" font-size="6.3" font-weight="bold" text-anchor="middle" fill="#1a1a1a" transform="rotate(241.6 18.10 282.93) scale(0.9 1)" dy="2.2">chr12</text>
<text x="11.42" y="260.85" font-size="6.3" font-weight="bold" text-anchor="middle" fill="#1a1a1a" transform="rotate(259.4 10.28 260.85) scale(0.9 1)" dy="2.2">chr13</text>
<text x="10.73" y="237.04" font-size="6.3" font-weight="bold" text-anchor="middle" fill="#1a1a1a" transform="rotate(277.6 9.66 237.04) scale(0.9 1)" dy="2.2">chr14</text>
<text x="17.68" y="215.44" font-size="6.3" font-weight="bold" text-anchor="middle" fill="#1a1a1a" transform="rotate(294.7 15.91 215.44) scale(0.9 1)" dy="2.2">chr15</text>
<text x="29.83" y="198.25" font-size="6.3" font-weight="bold" text-anchor="middle" fill="#1a1a1a" transform="rotate(310.2 26.84 198.25) scale(0.9 1)" dy="2.2">chr16</text>
<text x="45.99" y="185.02" font-size="6.3" font-weight="bold" text-anchor="middle" fill="#1a1a1a" transform="rotate(325.2 41.39 185.02) scale(0.9 1)" dy="2.2">chr17</text>
<text x="64.83" y="176.17" font-size="6.3" font-weight="bold" text-anchor="middle" fill="#1a1a1a" transform="rotate(339.7 58.35 176.17) scale(0.9 1)" dy="2.2">chr18</text>
<text x="82.57" y="172.19" font-size="6.3" font-weight="bold" text-anchor="middle" fill="#1a1a1a" transform="rotate(352.2 74.31 172.19) scale(0.9 1)" dy="2.2">chr19</text>
<text x="83.50" y="249.60" font-size="7.4" font-weight="bold" font-style="italic" text-anchor="middle" fill="#1a1a1a">Myc-Bcl2</text>
<path d="M258.2 188.0L258.7 188.0L258.7 187.6L259.2 187.6L259.2 187.5L259.7 187.5L259.8 182.7L260.4 182.7L260.3 188.2L260.8 188.3L260.9 185.4L261.4 185.5L261.3 188.6L261.8 188.6L261.9 185.5L262.5 185.5L262.3 188.1L262.8 188.1L262.8 188.9L263.3 188.9L263.3 189.3L263.8 189.3L264.3 183.3L264.9 183.3L264.9 182.9L265.5 182.9L265.5 183.0L266.0 183.0L265.4 188.5L265.9 188.6L265.9 189.1L266.4 189.2L266.4 188.6L267.0 188.7L267.5 185.0L268.0 185.1L267.8 186.5L268.3 186.6L267.9 189.4L268.4 189.5L268.3 190.1L268.8 190.2L269.9 184.2L270.4 184.3L270.2 185.5L270.7 185.6L271.1 183.8L271.6 183.9L270.4 190.2L270.9 190.3L272.1 184.6L272.6 184.7L271.5 189.8L272.0 189.9L272.6 187.3L273.1 187.5L273.7 185.1L274.2 185.2L273.2 189.1L273.8 189.2L274.6 186.1L275.1 186.2L275.3 185.5L275.9 185.6L274.7 189.6L275.2 189.8L274.9 190.9L275.4 191.1L276.7 186.7L277.2 186.8L277.6 185.6L278.2 185.7L277.6 187.7L278.1 187.8L277.8 188.7L278.3 188.9L277.5 191.2L278.0 191.4L279.8 186.1L280.4 186.3L279.5 188.8L280.0 189.0L279.0 191.8L279.5 191.9L280.3 189.7L280.8 189.9L281.4 188.2L281.9 188.4L282.2 187.7L282.7 187.9L281.4 191.4L281.8 191.6L279.1 198.2A52.8 52.8 0 0 0 258.2 194.2ZM286.5 190.7L287.0 191.0L285.0 194.8L285.5 195.1L288.3 189.6L288.8 189.9L286.3 194.7L286.7 194.9L288.8 191.0L289.3 191.2L288.8 192.2L289.3 192.5L290.2 190.7L290.7 191.0L288.2 195.5L288.6 195.8L289.7 193.9L290.2 194.1L288.7 196.7L289.1 197.0L291.9 192.4L292.3 192.7L290.1 196.4L290.5 196.7L290.5 196.7L290.9 197.0L290.6 197.5L291.0 197.8L293.7 193.7L294.1 194.1L294.5 193.5L295.0 193.8L292.0 198.1L292.5 198.4L291.9 199.3L292.3 199.6L292.2 199.6L292.7 199.9L292.8 199.7L293.3 200.0L293.5 199.6L294.0 199.9L293.8 200.1L294.2 200.4L294.5 200.0L294.9 200.3L294.7 200.6L295.1 201.0L295.5 200.4L295.9 200.7L296.3 200.3L296.7 200.6L296.3 201.0L296.8 201.4L296.2 202.1L296.6 202.4L299.9 198.5L300.3 198.9L297.6 202.0L298.0 202.3L297.4 203.0L297.8 203.3L297.9 203.2L298.3 203.5L298.2 203.6L298.6 204.0L299.0 203.6L299.4 203.9L301.2 201.9L301.6 202.3L299.6 204.4L300.0 204.8L299.5 205.2L299.9 205.6L303.0 202.5L303.3 202.9L302.3 203.9L302.7 204.3L302.8 204.1L303.2 204.5L303.6 204.2L304.0 204.6L301.4 207.0L301.7 207.4L301.5 207.6L301.9 208.0L297.9 211.5A52.8 52.8 0 0 0 282.1 199.6ZM307.0 208.5L307.3 209.0L309.0 207.6L309.4 208.0L308.7 208.5L309.1 209.0L304.9 212.1L305.2 212.5L305.3 212.4L305.6 212.8L306.6 212.1L306.9 212.6L306.6 212.8L306.9 213.2L309.3 211.5L309.6 212.0L307.4 213.5L307.7 213.9L308.2 213.5L308.5 214.0L312.2 211.5L312.6 211.9L311.5 212.7L311.8 213.1L312.0 212.9L312.3 213.4L312.0 213.6L312.2 214.1L313.6 213.2L313.9 213.7L308.9 216.8L309.1 217.2L309.9 216.8L310.1 217.2L309.5 217.6L309.8 218.0L312.8 216.3L313.1 216.8L313.3 216.6L313.6 217.1L314.4 216.7L314.6 217.2L315.0 217.0L315.3 217.4L314.7 217.8L314.9 218.3L311.0 220.3L311.2 220.7L314.4 219.1L314.6 219.6L311.2 221.3L311.4 221.8L311.3 221.8L311.5 222.3L311.7 222.2L311.9 222.7L312.2 222.5L312.4 223.0L311.8 223.3L312.0 223.7L312.0 223.7L312.2 224.2L316.5 222.4L316.7 222.9L317.5 222.6L317.7 223.1L316.2 223.7L316.4 224.2L313.3 225.4L313.5 225.9L314.2 225.6L314.4 226.1L313.3 226.5L313.5 227.0L313.6 226.9L313.8 227.4L308.5 229.3A52.8 52.8 0 0 0 300.1 214.1ZM315.6 230.7L315.8 231.2L315.6 231.2L315.7 231.7L320.6 230.4L320.7 231.0L320.6 231.0L320.8 231.5L314.8 233.0L314.9 233.5L319.0 232.5L319.2 233.1L316.4 233.7L316.5 234.2L320.1 233.4L320.3 233.9L318.9 234.2L319.0 234.8L316.4 235.3L316.5 235.8L321.4 234.8L321.5 235.4L316.7 236.3L316.8 236.8L315.9 236.9L316.0 237.5L317.2 237.3L317.3 237.8L322.0 237.0L322.1 237.6L316.7 238.4L316.8 238.9L317.7 238.8L317.7 239.3L322.5 238.7L322.5 239.2L316.4 240.0L316.4 240.5L321.5 239.9L321.5 240.5L320.4 240.6L320.5 241.1L321.2 241.0L321.3 241.6L317.1 242.0L317.2 242.5L320.4 242.2L320.5 242.7L322.9 242.6L323.0 243.1L322.1 243.2L322.1 243.8L316.7 244.0L316.7 244.5L317.1 244.5L317.1 245.0L317.4 245.0L317.4 245.5L317.1 245.6L317.1 246.1L316.9 246.1L316.9 246.6L320.5 246.5L320.5 247.1L317.2 247.1L317.2 247.6L316.8 247.6L316.8 248.1L322.1 248.2L322.1 248.8L321.7 248.8L321.7 249.3L316.7 249.1L316.6 249.6L311.5 249.4A52.8 52.8 0 0 0 309.5 232.4ZM322.2 253.9L322.2 254.4L316.3 253.8L316.3 254.3L322.6 255.1L322.5 255.6L319.5 255.2L319.5 255.7L317.6 255.5L317.6 256.0L321.5 256.6L321.4 257.1L320.3 257.0L320.2 257.5L320.4 257.5L320.3 258.1L316.1 257.3L316.0 257.8L316.5 257.9L316.4 258.4L316.3 258.4L316.2 258.9L316.3 258.9L316.2 259.4L316.3 259.4L316.2 260.0L318.4 260.4L318.3 261.0L321.2 261.6L321.1 262.2L315.6 260.8L315.4 261.3L320.9 262.7L320.8 263.3L319.3 262.9L319.2 263.4L317.8 263.1L317.7 263.6L320.4 264.3L320.3 264.9L318.0 264.2L317.8 264.7L317.6 264.7L317.4 265.2L320.1 266.0L320.0 266.5L314.3 264.7L314.1 265.2L314.7 265.4L314.5 265.9L314.4 265.8L314.3 266.3L313.6 266.1L313.5 266.6L313.4 266.6L313.3 267.1L316.8 268.3L316.6 268.9L315.7 268.5L315.5 269.0L313.0 268.1L312.8 268.5L316.9 270.1L316.7 270.6L312.6 269.0L312.4 269.4L315.9 270.9L315.7 271.4L313.1 270.3L312.9 270.8L317.8 272.9L317.5 273.4L307.0 268.7A52.8 52.8 0 0 0 311.3 252.7ZM315.1 276.7L314.8 277.2L314.1 276.8L313.8 277.3L310.8 275.6L310.5 276.1L312.2 277.0L312.0 277.5L314.6 279.0L314.3 279.5L311.4 277.8L311.1 278.3L311.8 278.7L311.5 279.2L310.9 278.8L310.6 279.2L307.8 277.5L307.6 277.9L307.5 277.9L307.2 278.3L307.5 278.5L307.3 279.0L309.6 280.5L309.3 281.0L307.2 279.5L306.9 280.0L307.2 280.2L306.9 280.6L310.3 282.9L309.9 283.4L306.4 280.9L306.1 281.3L306.1 281.3L305.8 281.7L306.2 282.0L305.9 282.5L309.8 285.4L309.5 285.9L307.9 284.6L307.6 285.1L304.3 282.5L304.0 282.9L307.0 285.3L306.6 285.7L306.2 285.4L305.8 285.8L303.8 284.1L303.4 284.5L307.3 287.7L306.9 288.2L305.6 287.0L305.2 287.4L305.7 287.9L305.4 288.3L302.2 285.5L301.9 285.9L302.2 286.2L301.9 286.6L302.2 286.8L301.8 287.2L305.5 290.6L305.1 291.0L301.6 287.8L301.3 288.1L301.4 288.3L301.1 288.7L300.6 288.2L300.2 288.5L302.0 290.3L301.6 290.7L295.7 284.7A52.8 52.8 0 0 0 305.5 271.6ZM300.1 294.9L299.7 295.3L299.9 295.5L299.5 295.9L297.9 293.9L297.5 294.3L299.3 296.5L298.8 296.9L295.8 293.1L295.4 293.4L297.3 295.8L296.9 296.2L297.4 296.8L296.9 297.1L294.6 294.0L294.2 294.4L293.6 293.6L293.2 294.0L293.0 293.7L292.6 294.0L292.8 294.3L292.4 294.6L294.7 297.8L294.3 298.2L294.6 298.6L294.1 299.0L292.0 295.8L291.6 296.1L291.9 296.6L291.5 296.9L291.7 297.2L291.2 297.5L290.5 296.4L290.1 296.7L293.1 301.5L292.6 301.8L289.2 296.2L288.8 296.5L289.0 296.8L288.5 297.1L290.3 300.2L289.9 300.4L288.0 297.1L287.5 297.4L287.6 297.5L287.1 297.8L288.8 300.8L288.3 301.0L287.2 299.0L286.7 299.2L286.9 299.5L286.5 299.8L288.5 303.6L288.0 303.9L286.9 301.9L286.5 302.1L284.9 298.9L284.4 299.2L286.9 304.3L286.4 304.6L284.2 299.9L283.7 300.1L284.0 300.7L283.5 300.9L284.4 303.0L284.0 303.2L283.0 301.0L282.5 301.2L279.9 295.4A52.8 52.8 0 0 0 293.3 287.0ZM280.0 305.2L279.5 305.4L279.5 305.4L279.0 305.6L277.8 302.0L277.3 302.1L277.3 302.3L276.8 302.4L277.1 303.2L276.6 303.3L276.6 303.5L276.2 303.6L276.1 303.5L275.6 303.6L275.5 303.2L275.0 303.4L275.1 303.7L274.6 303.9L275.2 306.0L274.7 306.1L274.0 303.4L273.5 303.5L273.6 304.1L273.1 304.3L273.0 303.8L272.5 303.9L272.5 303.6L272.0 303.7L271.9 303.3L271.4 303.4L271.5 304.1L271.0 304.3L271.2 305.0L270.7 305.1L270.8 305.4L270.3 305.5L270.9 308.8L270.4 308.9L270.6 310.3L270.1 310.4L269.6 307.5L269.0 307.6L269.3 309.4L268.8 309.5L268.2 305.8L267.7 305.8L268.0 308.0L267.5 308.1L267.2 305.8L266.7 305.8L267.3 310.6L266.7 310.7L266.5 308.4L265.9 308.5L265.6 305.5L265.1 305.5L265.0 304.9L264.5 305.0L264.8 308.1L264.3 308.1L264.1 305.7L263.6 305.8L263.1 299.6A52.8 52.8 0 0 0 276.9 296.6ZM259.9 306.4L259.3 306.4L259.4 309.9L258.8 309.9L258.8 309.4L258.3 309.4L258.3 306.3L257.7 306.3L257.7 308.3L257.2 308.3L257.2 305.7L256.7 305.7L256.6 309.9L256.0 309.9L256.2 305.7L255.7 305.6L255.5 309.8L254.9 309.7L255.1 306.4L254.6 306.4L254.6 305.7L254.1 305.6L254.1 305.9L253.6 305.8L253.6 305.2L253.1 305.1L252.8 308.3L252.2 308.3L252.3 307.8L251.7 307.8L252.1 304.6L251.6 304.5L251.6 304.2L251.1 304.2L251.0 305.1L250.5 305.0L250.4 305.6L249.9 305.5L249.8 306.0L249.3 306.0L249.3 305.7L248.8 305.6L248.5 307.2L248.0 307.1L247.8 308.4L247.2 308.3L247.9 304.7L247.4 304.6L246.6 308.5L246.1 308.4L246.0 308.7L245.5 308.5L246.5 303.9L246.0 303.8L245.9 304.0L245.4 303.9L244.2 309.1L243.6 308.9L246.2 298.3A52.8 52.8 0 0 0 259.7 299.8ZM240.4 305.8L239.9 305.7L239.3 307.6L238.8 307.4L239.1 306.2L238.6 306.0L239.7 303.0L239.2 302.8L239.1 303.1L238.6 302.9L237.1 307.2L236.5 307.0L237.0 305.6L236.5 305.4L238.0 301.5L237.6 301.3L236.6 303.7L236.1 303.5L237.1 301.0L236.6 300.8L234.3 306.4L233.8 306.2L234.0 305.7L233.5 305.5L236.0 299.8L235.5 299.6L233.9 303.3L233.4 303.0L232.9 304.1L232.4 303.9L231.7 305.4L231.2 305.2L232.7 302.1L232.2 301.9L233.5 299.2L233.0 299.0L232.7 299.6L232.3 299.4L230.0 303.8L229.6 303.5L232.0 298.7L231.6 298.5L231.1 299.3L230.7 299.1L229.6 301.0L229.2 300.8L227.8 303.2L227.4 302.9L229.5 299.0L229.1 298.7L229.4 298.2L229.0 297.9L228.8 298.2L228.4 297.9L228.8 297.1L228.4 296.9L228.4 296.9L227.9 296.6L225.7 300.3L225.2 300.0L225.6 299.4L225.1 299.1L230.1 291.3A52.8 52.8 0 0 0 243.0 297.4ZM222.1 296.7L221.7 296.4L221.3 296.9L220.9 296.5L222.6 294.2L222.2 293.9L219.5 297.4L219.1 297.0L221.8 293.6L221.4 293.2L218.4 296.9L218.0 296.6L219.4 294.9L219.0 294.5L217.9 295.8L217.5 295.5L220.8 291.6L220.4 291.3L220.7 290.9L220.4 290.5L219.6 291.4L219.2 291.1L216.6 294.0L216.2 293.6L216.6 293.2L216.2 292.8L218.8 290.0L218.5 289.6L218.8 289.3L218.4 289.0L218.5 288.8L218.1 288.5L214.9 291.8L214.5 291.4L213.8 292.1L213.4 291.8L216.9 288.3L216.6 287.9L216.4 288.0L216.1 287.7L216.7 287.0L216.4 286.7L213.7 289.2L213.3 288.8L213.1 289.1L212.7 288.7L215.5 286.1L215.2 285.7L215.2 285.7L214.9 285.3L214.4 285.7L214.1 285.3L213.5 285.8L213.2 285.4L209.6 288.4L209.3 288.0L209.9 287.5L209.5 287.0L217.8 280.3A52.8 52.8 0 0 0 227.4 289.5ZM206.5 284.3L206.2 283.8L210.9 280.5L210.6 280.1L207.4 282.4L207.0 281.9L209.9 280.0L209.6 279.5L207.9 280.7L207.6 280.2L207.6 280.2L207.3 279.8L206.4 280.4L206.1 279.9L208.4 278.5L208.1 278.0L208.8 277.6L208.5 277.2L204.5 279.5L204.3 279.1L203.6 279.4L203.3 279.0L208.1 276.2L207.9 275.7L205.8 276.9L205.6 276.4L207.3 275.4L207.1 275.0L202.7 277.4L202.4 276.9L207.3 274.3L207.0 273.8L207.5 273.6L207.3 273.1L207.5 273.0L207.2 272.6L206.5 272.9L206.3 272.5L206.6 272.3L206.3 271.9L201.7 274.1L201.4 273.6L202.3 273.2L202.1 272.7L205.6 271.1L205.4 270.6L200.9 272.6L200.7 272.1L200.3 272.3L200.0 271.7L202.6 270.7L202.4 270.2L204.1 269.5L203.9 269.0L201.2 270.1L201.0 269.6L209.6 266.2A52.8 52.8 0 0 0 215.8 277.7ZM197.6 266.6L197.4 266.0L199.6 265.4L199.5 264.8L198.5 265.1L198.4 264.6L199.9 264.2L199.7 263.7L202.4 262.9L202.3 262.4L202.3 262.4L202.2 261.9L198.6 262.9L198.5 262.3L201.6 261.6L201.4 261.1L200.9 261.2L200.8 260.7L196.7 261.7L196.5 261.1L198.4 260.7L198.3 260.2L196.1 260.7L196.0 260.1L201.7 258.9L201.6 258.4L201.1 258.5L201.0 258.0L201.7 257.9L201.6 257.4L196.7 258.3L196.6 257.8L200.6 257.1L200.5 256.6L201.5 256.4L201.4 255.9L201.3 255.9L201.2 255.5L197.0 256.1L196.9 255.5L198.2 255.4L198.2 254.8L195.3 255.2L195.2 254.7L197.9 254.3L197.8 253.8L200.0 253.6L199.9 253.1L199.4 253.1L199.4 252.6L197.3 252.8L197.3 252.3L201.2 251.9L201.2 251.4L196.4 251.8L196.4 251.3L199.8 251.0L199.8 250.5L206.1 250.1A52.8 52.8 0 0 0 208.5 263.1ZM195.1 246.8L195.1 246.2L200.8 246.3L200.8 245.8L201.1 245.8L201.2 245.3L197.0 245.2L197.1 244.6L200.2 244.7L200.3 244.2L196.1 244.0L196.1 243.4L195.5 243.4L195.6 242.9L195.0 242.8L195.0 242.2L197.4 242.4L197.5 241.9L196.1 241.8L196.1 241.2L199.0 241.5L199.1 240.9L195.4 240.6L195.5 240.0L195.5 240.0L195.6 239.4L197.4 239.7L197.5 239.1L200.1 239.5L200.2 238.9L201.1 239.1L201.2 238.5L198.6 238.2L198.7 237.6L201.3 238.0L201.4 237.5L196.1 236.7L196.2 236.1L201.4 237.0L201.5 236.5L199.0 236.0L199.1 235.5L196.3 235.0L196.4 234.4L201.5 235.4L201.6 234.9L196.1 233.8L196.2 233.2L197.7 233.6L197.9 233.0L197.5 232.9L197.7 232.4L201.3 233.3L201.4 232.7L202.2 232.9L202.4 232.4L201.7 232.3L201.8 231.8L207.8 233.4A52.8 52.8 0 0 0 206.0 246.8ZM203.9 228.6L204.1 228.1L204.0 228.0L204.2 227.6L198.6 225.6L198.8 225.0L199.1 225.1L199.3 224.6L203.7 226.3L203.9 225.8L203.7 225.7L203.9 225.2L202.3 224.6L202.5 224.1L204.1 224.7L204.3 224.3L200.6 222.7L200.8 222.2L201.9 222.6L202.1 222.1L204.1 223.0L204.3 222.5L205.2 222.9L205.4 222.4L201.3 220.5L201.5 220.0L203.7 221.1L203.9 220.6L205.8 221.5L206.0 221.0L205.7 220.8L205.9 220.3L202.0 218.4L202.3 217.9L206.7 220.2L207.0 219.7L202.6 217.4L202.9 216.9L202.5 216.7L202.8 216.2L205.7 217.8L206.0 217.4L204.2 216.3L204.5 215.9L207.9 217.8L208.2 217.4L208.2 217.4L208.4 216.9L213.5 219.9A52.8 52.8 0 0 0 208.7 230.2ZM211.0 214.2L211.3 213.8L210.6 213.3L210.9 212.9L210.4 212.6L210.7 212.2L210.7 212.1L211.0 211.7L207.2 208.9L207.5 208.4L209.3 209.8L209.7 209.4L209.2 209.0L209.6 208.6L210.9 209.7L211.3 209.2L209.1 207.5L209.4 207.1L208.8 206.6L209.1 206.1L213.1 209.4L213.4 209.0L210.9 206.8L211.2 206.4L211.2 206.4L211.6 206.0L214.2 208.3L214.5 207.9L214.2 207.6L214.5 207.2L214.5 207.1L214.8 206.8L214.6 206.5L215.0 206.2L215.5 206.7L215.9 206.3L215.8 206.2L216.2 205.9L214.2 203.9L214.6 203.6L213.6 202.6L214.0 202.2L214.2 202.4L214.6 202.1L215.5 202.9L215.8 202.5L222.1 209.0A52.8 52.8 0 0 0 215.3 217.1ZM218.8 200.1L219.3 199.7L219.4 199.9L219.8 199.5L220.1 199.9L220.6 199.6L221.9 201.3L222.4 201.0L218.9 196.6L219.4 196.3L221.5 199.0L221.9 198.7L223.8 201.1L224.2 200.8L220.5 195.9L221.0 195.6L224.0 199.8L224.5 199.5L224.3 199.3L224.8 199.0L222.7 196.1L223.2 195.8L223.3 195.9L223.7 195.6L223.2 194.9L223.7 194.6L226.2 198.3L226.6 198.0L223.9 193.8L224.4 193.5L224.1 193.2L224.6 192.9L224.9 193.3L225.4 193.0L228.1 197.4L228.5 197.2L228.8 197.6L229.2 197.3L228.6 196.3L229.1 196.0L229.6 196.8L230.0 196.6L228.4 193.7L228.8 193.4L233.0 200.9A52.8 52.8 0 0 0 224.6 206.8ZM232.4 191.9L232.9 191.7L232.4 190.8L232.9 190.5L232.1 188.6L232.6 188.4L233.5 190.4L234.0 190.2L233.8 189.8L234.3 189.6L235.9 193.2L236.4 193.0L234.2 187.9L234.8 187.7L236.9 192.9L237.4 192.7L237.3 192.6L237.8 192.4L236.7 189.5L237.2 189.3L238.5 192.8L239.0 192.6L237.4 188.1L237.9 187.9L239.1 191.3L239.6 191.1L239.6 191.3L240.1 191.2L239.0 187.6L239.5 187.4L239.0 186.1L239.6 185.9L239.9 186.9L240.4 186.7L240.6 187.2L241.1 187.0L241.4 187.9L241.9 187.8L242.5 189.9L243.0 189.8L242.0 186.2L242.6 186.0L245.2 196.0A52.8 52.8 0 0 0 236.0 199.4ZM247.3 189.8L247.9 189.7L247.3 187.0L247.9 186.9L248.4 190.0L248.9 189.9L248.9 189.5L249.4 189.4L249.3 188.6L249.8 188.5L249.2 184.8L249.8 184.7L250.3 188.8L250.9 188.7L251.0 189.4L251.5 189.3L251.5 189.3L252.0 189.2L251.8 188.2L252.4 188.1L252.4 188.5L252.9 188.5L252.4 183.6L253.0 183.5L253.1 184.9L253.7 184.8L253.5 183.0L254.1 182.9L254.9 194.3A52.8 52.8 0 0 0 248.4 195.2Z" fill="#c3252b"/>
<path d="M259.0 217.2h1.1v1.1h-1.1zM258.4 215.8h1.1v1.1h-1.1zM259.4 214.9h1.1v1.1h-1.1zM258.4 212.7h1.1v1.1h-1.1zM259.1 211.5h1.1v1.1h-1.1zM259.7 210.1h1.1v1.1h-1.1zM261.4 217.2h1.1v1.1h-1.1zM260.8 215.8h1.1v1.1h-1.1zM261.0 214.1h1.1v1.1h-1.1zM260.5 213.0h1.1v1.1h-1.1zM261.8 210.5h1.1v1.1h-1.1zM261.2 210.0h1.1v1.1h-1.1zM261.4 216.2h1.1v1.1h-1.1zM262.0 215.5h1.1v1.1h-1.1zM262.4 216.2h1.1v1.1h-1.1zM262.9 218.3h1.1v1.1h-1.1zM263.3 216.9h1.1v1.1h-1.1zM262.5 215.4h1.1v1.1h-1.1zM262.6 214.6h1.1v1.1h-1.1zM263.2 217.9h1.1v1.1h-1.1zM263.6 218.2h1.1v1.1h-1.1zM263.9 218.8h1.1v1.1h-1.1zM266.0 213.6h1.1v1.1h-1.1zM266.0 212.0h1.1v1.1h-1.1zM266.2 211.3h1.1v1.1h-1.1zM265.4 209.8h1.1v1.1h-1.1zM266.6 208.7h1.1v1.1h-1.1zM266.0 207.3h1.1v1.1h-1.1zM266.9 206.0h1.1v1.1h-1.1zM267.6 214.3h1.1v1.1h-1.1zM267.9 213.3h1.1v1.1h-1.1zM269.4 212.1h1.1v1.1h-1.1zM268.7 210.4h1.1v1.1h-1.1zM268.3 209.7h1.1v1.1h-1.1zM269.2 208.1h1.1v1.1h-1.1zM269.5 207.6h1.1v1.1h-1.1zM269.1 213.1h1.1v1.1h-1.1zM269.6 213.3h1.1v1.1h-1.1zM270.0 213.8h1.1v1.1h-1.1zM268.7 219.9h1.1v1.1h-1.1zM269.6 218.2h1.1v1.1h-1.1zM270.2 217.4h1.1v1.1h-1.1zM270.4 216.0h1.1v1.1h-1.1zM269.8 215.1h1.1v1.1h-1.1zM271.0 213.8h1.1v1.1h-1.1zM271.7 213.2h1.1v1.1h-1.1zM271.7 211.6h1.1v1.1h-1.1zM272.7 220.5h1.1v1.1h-1.1zM272.6 219.3h1.1v1.1h-1.1zM273.9 218.2h1.1v1.1h-1.1zM273.8 216.4h1.1v1.1h-1.1zM275.1 215.8h1.1v1.1h-1.1zM274.8 214.4h1.1v1.1h-1.1zM273.4 220.1h1.1v1.1h-1.1zM274.3 218.8h1.1v1.1h-1.1zM275.0 216.6h1.1v1.1h-1.1zM276.3 216.6h1.1v1.1h-1.1zM276.0 214.4h1.1v1.1h-1.1zM275.6 218.5h1.1v1.1h-1.1zM275.8 219.1h1.1v1.1h-1.1zM276.1 219.5h1.1v1.1h-1.1zM276.5 221.2h1.1v1.1h-1.1zM277.0 219.9h1.1v1.1h-1.1zM278.7 218.8h1.1v1.1h-1.1zM278.1 216.7h1.1v1.1h-1.1zM277.1 223.6h1.1v1.1h-1.1zM278.2 222.4h1.1v1.1h-1.1zM279.2 221.2h1.1v1.1h-1.1zM279.9 220.5h1.1v1.1h-1.1zM280.2 219.9h1.1v1.1h-1.1zM280.4 217.9h1.1v1.1h-1.1zM281.5 217.0h1.1v1.1h-1.1zM280.8 223.0h1.1v1.1h-1.1zM281.2 221.6h1.1v1.1h-1.1zM282.1 219.8h1.1v1.1h-1.1zM283.7 220.0h1.1v1.1h-1.1zM283.8 219.4h1.1v1.1h-1.1zM284.8 217.6h1.1v1.1h-1.1zM286.4 217.0h1.1v1.1h-1.1zM283.4 220.1h1.1v1.1h-1.1zM283.9 220.4h1.1v1.1h-1.1zM284.5 220.6h1.1v1.1h-1.1zM282.9 224.2h1.1v1.1h-1.1zM284.3 222.6h1.1v1.1h-1.1zM284.8 222.2h1.1v1.1h-1.1zM285.9 220.9h1.1v1.1h-1.1zM284.5 227.3h1.1v1.1h-1.1zM285.8 226.6h1.1v1.1h-1.1zM286.6 226.9h1.1v1.1h-1.1zM287.4 225.2h1.1v1.1h-1.1zM287.8 224.2h1.1v1.1h-1.1zM289.8 222.9h1.1v1.1h-1.1zM290.9 223.6h1.1v1.1h-1.1zM291.7 222.6h1.1v1.1h-1.1zM284.0 230.0h1.1v1.1h-1.1zM284.7 229.0h1.1v1.1h-1.1zM286.2 228.5h1.1v1.1h-1.1zM288.7 228.4h1.1v1.1h-1.1zM288.7 226.7h1.1v1.1h-1.1zM287.7 228.8h1.1v1.1h-1.1zM287.7 229.4h1.1v1.1h-1.1zM288.3 229.7h1.1v1.1h-1.1zM282.6 232.5h1.1v1.1h-1.1zM284.5 231.6h1.1v1.1h-1.1zM285.6 230.6h1.1v1.1h-1.1zM286.5 229.4h1.1v1.1h-1.1zM288.0 229.4h1.1v1.1h-1.1zM288.0 229.0h1.1v1.1h-1.1zM290.7 228.6h1.1v1.1h-1.1zM283.5 235.6h1.1v1.1h-1.1zM284.7 233.7h1.1v1.1h-1.1zM286.4 233.6h1.1v1.1h-1.1zM286.5 232.7h1.1v1.1h-1.1zM288.2 232.7h1.1v1.1h-1.1zM289.9 234.3h1.1v1.1h-1.1zM290.8 233.3h1.1v1.1h-1.1zM291.7 232.5h1.1v1.1h-1.1zM294.1 232.4h1.1v1.1h-1.1zM294.8 232.2h1.1v1.1h-1.1zM296.1 231.4h1.1v1.1h-1.1zM290.6 234.3h1.1v1.1h-1.1zM290.9 234.7h1.1v1.1h-1.1zM291.4 235.2h1.1v1.1h-1.1zM288.9 237.8h1.1v1.1h-1.1zM290.6 237.1h1.1v1.1h-1.1zM292.5 237.1h1.1v1.1h-1.1zM292.7 236.2h1.1v1.1h-1.1zM295.3 236.5h1.1v1.1h-1.1zM293.0 237.8h1.1v1.1h-1.1zM294.0 238.1h1.1v1.1h-1.1zM294.1 238.7h1.1v1.1h-1.1zM286.1 241.6h1.1v1.1h-1.1zM286.8 240.9h1.1v1.1h-1.1zM288.2 241.1h1.1v1.1h-1.1zM289.8 240.7h1.1v1.1h-1.1zM292.3 241.1h1.1v1.1h-1.1zM287.0 243.3h1.1v1.1h-1.1zM288.2 242.9h1.1v1.1h-1.1zM289.5 242.8h1.1v1.1h-1.1zM290.8 243.6h1.1v1.1h-1.1zM292.1 243.2h1.1v1.1h-1.1zM292.2 242.4h1.1v1.1h-1.1zM294.2 243.4h1.1v1.1h-1.1zM295.3 241.5h1.1v1.1h-1.1zM289.3 243.8h1.1v1.1h-1.1zM289.4 244.3h1.1v1.1h-1.1zM289.7 244.7h1.1v1.1h-1.1zM288.1 244.9h1.1v1.1h-1.1zM289.4 245.5h1.1v1.1h-1.1zM290.1 245.3h1.1v1.1h-1.1zM291.6 244.0h1.1v1.1h-1.1zM293.9 245.0h1.1v1.1h-1.1zM290.4 246.4h1.1v1.1h-1.1zM291.9 246.0h1.1v1.1h-1.1zM294.4 247.8h1.1v1.1h-1.1zM295.2 246.8h1.1v1.1h-1.1zM296.7 247.6h1.1v1.1h-1.1zM291.1 250.6h1.1v1.1h-1.1zM292.5 251.1h1.1v1.1h-1.1zM294.0 250.6h1.1v1.1h-1.1zM295.1 251.4h1.1v1.1h-1.1zM296.6 251.3h1.1v1.1h-1.1zM298.0 251.5h1.1v1.1h-1.1zM299.6 251.6h1.1v1.1h-1.1zM300.4 252.9h1.1v1.1h-1.1zM290.3 253.0h1.1v1.1h-1.1zM291.6 252.5h1.1v1.1h-1.1zM293.3 253.4h1.1v1.1h-1.1zM294.2 252.9h1.1v1.1h-1.1zM294.9 254.4h1.1v1.1h-1.1zM296.6 254.3h1.1v1.1h-1.1zM298.0 255.7h1.1v1.1h-1.1zM291.6 255.4h1.1v1.1h-1.1zM292.7 256.3h1.1v1.1h-1.1zM294.7 256.4h1.1v1.1h-1.1zM295.7 257.0h1.1v1.1h-1.1zM294.5 256.7h1.1v1.1h-1.1zM294.0 257.2h1.1v1.1h-1.1zM293.7 257.7h1.1v1.1h-1.1zM290.7 257.5h1.1v1.1h-1.1zM292.5 257.4h1.1v1.1h-1.1zM293.3 257.4h1.1v1.1h-1.1zM295.0 259.0h1.1v1.1h-1.1zM296.8 259.7h1.1v1.1h-1.1zM297.8 260.9h1.1v1.1h-1.1zM287.0 258.4h1.1v1.1h-1.1zM287.4 259.3h1.1v1.1h-1.1zM289.3 259.7h1.1v1.1h-1.1zM290.8 260.0h1.1v1.1h-1.1zM292.5 259.7h1.1v1.1h-1.1zM290.3 260.4h1.1v1.1h-1.1zM289.8 260.8h1.1v1.1h-1.1zM290.2 261.6h1.1v1.1h-1.1zM285.9 263.3h1.1v1.1h-1.1zM287.4 264.0h1.1v1.1h-1.1zM289.6 264.3h1.1v1.1h-1.1zM289.8 265.2h1.1v1.1h-1.1zM291.9 266.5h1.1v1.1h-1.1zM285.6 264.4h1.1v1.1h-1.1zM286.3 265.4h1.1v1.1h-1.1zM287.5 267.1h1.1v1.1h-1.1zM289.3 267.3h1.1v1.1h-1.1zM290.4 268.4h1.1v1.1h-1.1zM286.4 266.3h1.1v1.1h-1.1zM285.9 266.5h1.1v1.1h-1.1zM285.3 266.8h1.1v1.1h-1.1zM282.0 265.2h1.1v1.1h-1.1zM283.3 265.8h1.1v1.1h-1.1zM283.3 266.8h1.1v1.1h-1.1zM285.0 267.4h1.1v1.1h-1.1zM286.6 267.7h1.1v1.1h-1.1zM286.2 269.5h1.1v1.1h-1.1zM288.4 269.4h1.1v1.1h-1.1zM282.9 270.2h1.1v1.1h-1.1zM284.6 271.0h1.1v1.1h-1.1zM285.4 271.2h1.1v1.1h-1.1zM286.8 272.3h1.1v1.1h-1.1zM287.9 273.5h1.1v1.1h-1.1zM286.2 274.2h1.1v1.1h-1.1zM286.0 274.8h1.1v1.1h-1.1zM285.3 274.9h1.1v1.1h-1.1zM276.5 269.9h1.1v1.1h-1.1zM278.1 271.3h1.1v1.1h-1.1zM278.4 271.8h1.1v1.1h-1.1zM279.9 273.2h1.1v1.1h-1.1zM280.1 273.6h1.1v1.1h-1.1zM281.5 275.2h1.1v1.1h-1.1zM282.3 274.9h1.1v1.1h-1.1zM283.8 276.1h1.1v1.1h-1.1zM278.7 272.6h1.1v1.1h-1.1zM278.4 273.1h1.1v1.1h-1.1zM277.7 273.1h1.1v1.1h-1.1zM276.4 273.2h1.1v1.1h-1.1zM277.3 274.6h1.1v1.1h-1.1zM278.0 275.6h1.1v1.1h-1.1zM279.6 276.4h1.1v1.1h-1.1zM278.6 277.7h1.1v1.1h-1.1zM275.5 275.9h1.1v1.1h-1.1zM276.9 276.1h1.1v1.1h-1.1zM276.9 278.3h1.1v1.1h-1.1zM278.2 278.7h1.1v1.1h-1.1zM277.6 280.6h1.1v1.1h-1.1zM279.8 281.0h1.1v1.1h-1.1zM270.6 272.7h1.1v1.1h-1.1zM270.7 274.2h1.1v1.1h-1.1zM271.4 275.4h1.1v1.1h-1.1zM272.7 276.5h1.1v1.1h-1.1zM269.4 278.8h1.1v1.1h-1.1zM270.0 279.6h1.1v1.1h-1.1zM268.8 281.6h1.1v1.1h-1.1zM269.6 283.0h1.1v1.1h-1.1zM265.4 273.9h1.1v1.1h-1.1zM266.0 275.6h1.1v1.1h-1.1zM265.9 277.6h1.1v1.1h-1.1zM266.6 278.5h1.1v1.1h-1.1zM267.2 279.8h1.1v1.1h-1.1zM264.7 275.0h1.1v1.1h-1.1zM264.2 274.8h1.1v1.1h-1.1zM263.8 275.4h1.1v1.1h-1.1zM265.2 279.8h1.1v1.1h-1.1zM264.9 281.1h1.1v1.1h-1.1zM265.2 282.2h1.1v1.1h-1.1zM265.8 283.0h1.1v1.1h-1.1zM265.8 284.5h1.1v1.1h-1.1zM265.3 286.0h1.1v1.1h-1.1zM267.0 286.4h1.1v1.1h-1.1zM266.3 287.6h1.1v1.1h-1.1zM264.6 284.0h1.1v1.1h-1.1zM264.1 284.5h1.1v1.1h-1.1zM263.6 285.1h1.1v1.1h-1.1zM260.5 278.8h1.1v1.1h-1.1zM261.6 280.2h1.1v1.1h-1.1zM260.8 281.2h1.1v1.1h-1.1zM261.6 282.4h1.1v1.1h-1.1zM261.5 283.4h1.1v1.1h-1.1zM261.0 284.8h1.1v1.1h-1.1zM261.1 286.7h1.1v1.1h-1.1zM258.2 274.9h1.1v1.1h-1.1zM259.0 275.6h1.1v1.1h-1.1zM259.0 277.0h1.1v1.1h-1.1zM257.9 278.3h1.1v1.1h-1.1zM259.0 279.8h1.1v1.1h-1.1zM255.6 280.1h1.1v1.1h-1.1zM256.4 281.5h1.1v1.1h-1.1zM256.1 282.5h1.1v1.1h-1.1zM254.9 283.9h1.1v1.1h-1.1zM255.0 285.4h1.1v1.1h-1.1zM256.5 287.2h1.1v1.1h-1.1zM255.0 284.1h1.1v1.1h-1.1zM254.4 283.5h1.1v1.1h-1.1zM253.9 283.5h1.1v1.1h-1.1zM253.7 277.3h1.1v1.1h-1.1zM254.1 278.1h1.1v1.1h-1.1zM254.2 280.0h1.1v1.1h-1.1zM254.2 281.4h1.1v1.1h-1.1zM252.4 283.0h1.1v1.1h-1.1zM252.4 276.1h1.1v1.1h-1.1zM251.6 277.3h1.1v1.1h-1.1zM251.5 278.3h1.1v1.1h-1.1zM250.7 280.3h1.1v1.1h-1.1zM251.3 281.2h1.1v1.1h-1.1zM250.3 282.7h1.1v1.1h-1.1zM250.5 278.8h1.1v1.1h-1.1zM250.0 278.9h1.1v1.1h-1.1zM249.4 279.0h1.1v1.1h-1.1zM248.4 276.4h1.1v1.1h-1.1zM247.0 276.8h1.1v1.1h-1.1zM247.0 278.1h1.1v1.1h-1.1zM246.9 279.6h1.1v1.1h-1.1zM246.8 281.3h1.1v1.1h-1.1zM245.1 281.8h1.1v1.1h-1.1zM247.1 276.9h1.1v1.1h-1.1zM246.7 276.4h1.1v1.1h-1.1zM246.3 276.1h1.1v1.1h-1.1zM244.5 278.2h1.1v1.1h-1.1zM243.3 279.9h1.1v1.1h-1.1zM242.6 281.3h1.1v1.1h-1.1zM242.7 282.2h1.1v1.1h-1.1zM245.3 272.0h1.1v1.1h-1.1zM245.1 272.2h1.1v1.1h-1.1zM243.9 274.2h1.1v1.1h-1.1zM244.0 275.4h1.1v1.1h-1.1zM242.7 276.0h1.1v1.1h-1.1zM243.7 277.7h1.1v1.1h-1.1zM241.7 277.7h1.1v1.1h-1.1zM240.9 279.5h1.1v1.1h-1.1zM244.7 272.4h1.1v1.1h-1.1zM244.4 271.9h1.1v1.1h-1.1zM244.0 271.7h1.1v1.1h-1.1zM241.6 275.1h1.1v1.1h-1.1zM241.1 276.0h1.1v1.1h-1.1zM240.6 277.2h1.1v1.1h-1.1zM238.8 277.6h1.1v1.1h-1.1zM239.4 280.0h1.1v1.1h-1.1zM237.5 280.2h1.1v1.1h-1.1zM236.9 281.0h1.1v1.1h-1.1zM238.9 271.7h1.1v1.1h-1.1zM237.6 273.2h1.1v1.1h-1.1zM237.2 274.8h1.1v1.1h-1.1zM236.2 275.7h1.1v1.1h-1.1zM235.1 275.8h1.1v1.1h-1.1zM235.1 271.3h1.1v1.1h-1.1zM235.2 272.6h1.1v1.1h-1.1zM234.6 274.1h1.1v1.1h-1.1zM232.7 274.1h1.1v1.1h-1.1zM232.8 276.2h1.1v1.1h-1.1zM231.4 276.7h1.1v1.1h-1.1zM232.6 274.4h1.1v1.1h-1.1zM231.9 274.3h1.1v1.1h-1.1zM231.7 273.6h1.1v1.1h-1.1zM237.5 267.2h1.1v1.1h-1.1zM234.8 267.7h1.1v1.1h-1.1zM235.0 269.5h1.1v1.1h-1.1zM232.6 270.1h1.1v1.1h-1.1zM235.4 267.5h1.1v1.1h-1.1zM235.3 266.9h1.1v1.1h-1.1zM235.0 266.6h1.1v1.1h-1.1zM237.0 265.4h1.1v1.1h-1.1zM234.8 265.8h1.1v1.1h-1.1zM234.6 267.6h1.1v1.1h-1.1zM233.3 268.6h1.1v1.1h-1.1zM230.8 264.0h1.1v1.1h-1.1zM230.7 265.4h1.1v1.1h-1.1zM228.7 264.8h1.1v1.1h-1.1zM228.7 266.4h1.1v1.1h-1.1zM227.2 267.1h1.1v1.1h-1.1zM225.9 268.6h1.1v1.1h-1.1zM225.8 269.1h1.1v1.1h-1.1zM226.1 266.6h1.1v1.1h-1.1zM225.7 266.2h1.1v1.1h-1.1zM225.5 265.7h1.1v1.1h-1.1zM231.0 260.9h1.1v1.1h-1.1zM230.5 262.3h1.1v1.1h-1.1zM227.6 263.2h1.1v1.1h-1.1zM232.6 258.0h1.1v1.1h-1.1zM230.3 257.8h1.1v1.1h-1.1zM229.8 258.8h1.1v1.1h-1.1zM228.2 259.7h1.1v1.1h-1.1zM226.8 258.9h1.1v1.1h-1.1zM225.9 259.3h1.1v1.1h-1.1zM223.7 260.1h1.1v1.1h-1.1zM230.4 257.7h1.1v1.1h-1.1zM230.4 257.1h1.1v1.1h-1.1zM229.6 257.0h1.1v1.1h-1.1zM225.9 254.8h1.1v1.1h-1.1zM225.5 256.3h1.1v1.1h-1.1zM223.2 256.2h1.1v1.1h-1.1zM221.8 255.7h1.1v1.1h-1.1zM220.8 256.9h1.1v1.1h-1.1zM219.6 257.4h1.1v1.1h-1.1zM223.5 255.5h1.1v1.1h-1.1zM223.8 254.9h1.1v1.1h-1.1zM224.1 254.2h1.1v1.1h-1.1zM224.6 253.8h1.1v1.1h-1.1zM223.0 253.8h1.1v1.1h-1.1zM221.6 253.4h1.1v1.1h-1.1zM219.8 254.1h1.1v1.1h-1.1zM218.6 254.4h1.1v1.1h-1.1zM217.9 255.1h1.1v1.1h-1.1zM222.5 253.3h1.1v1.1h-1.1zM223.1 252.6h1.1v1.1h-1.1zM222.5 252.2h1.1v1.1h-1.1zM228.6 250.4h1.1v1.1h-1.1zM226.0 251.3h1.1v1.1h-1.1zM224.1 252.0h1.1v1.1h-1.1zM225.4 250.0h1.1v1.1h-1.1zM224.3 249.3h1.1v1.1h-1.1zM223.2 250.1h1.1v1.1h-1.1zM220.7 249.1h1.1v1.1h-1.1zM219.8 249.1h1.1v1.1h-1.1zM218.1 249.3h1.1v1.1h-1.1zM222.2 248.6h1.1v1.1h-1.1zM222.2 248.0h1.1v1.1h-1.1zM223.0 247.4h1.1v1.1h-1.1zM226.0 245.4h1.1v1.1h-1.1zM224.6 244.8h1.1v1.1h-1.1zM223.3 245.7h1.1v1.1h-1.1zM221.6 243.9h1.1v1.1h-1.1zM220.2 245.2h1.1v1.1h-1.1zM227.0 244.1h1.1v1.1h-1.1zM226.1 243.8h1.1v1.1h-1.1zM224.5 244.1h1.1v1.1h-1.1zM222.9 244.1h1.1v1.1h-1.1zM222.0 242.3h1.1v1.1h-1.1zM222.1 242.6h1.1v1.1h-1.1zM222.5 242.0h1.1v1.1h-1.1zM222.2 241.4h1.1v1.1h-1.1zM231.3 242.3h1.1v1.1h-1.1zM229.3 241.0h1.1v1.1h-1.1zM228.4 241.6h1.1v1.1h-1.1zM226.2 241.4h1.1v1.1h-1.1zM225.8 241.5h1.1v1.1h-1.1zM223.6 241.0h1.1v1.1h-1.1zM227.3 239.0h1.1v1.1h-1.1zM225.8 238.1h1.1v1.1h-1.1zM223.7 237.4h1.1v1.1h-1.1zM222.7 236.9h1.1v1.1h-1.1zM228.2 235.8h1.1v1.1h-1.1zM226.5 235.9h1.1v1.1h-1.1zM225.9 233.8h1.1v1.1h-1.1zM224.1 234.4h1.1v1.1h-1.1zM223.1 233.3h1.1v1.1h-1.1zM229.3 233.4h1.1v1.1h-1.1zM228.0 232.9h1.1v1.1h-1.1zM226.7 232.7h1.1v1.1h-1.1zM225.9 231.7h1.1v1.1h-1.1zM224.9 232.1h1.1v1.1h-1.1zM229.5 229.2h1.1v1.1h-1.1zM228.1 230.3h1.1v1.1h-1.1zM227.6 228.5h1.1v1.1h-1.1zM225.9 228.7h1.1v1.1h-1.1zM225.4 226.9h1.1v1.1h-1.1zM223.4 227.5h1.1v1.1h-1.1zM222.3 225.7h1.1v1.1h-1.1zM225.6 227.1h1.1v1.1h-1.1zM225.8 226.6h1.1v1.1h-1.1zM226.2 226.1h1.1v1.1h-1.1zM231.3 227.3h1.1v1.1h-1.1zM230.0 226.4h1.1v1.1h-1.1zM229.3 224.8h1.1v1.1h-1.1zM228.5 223.3h1.1v1.1h-1.1zM227.3 222.7h1.1v1.1h-1.1zM226.6 222.0h1.1v1.1h-1.1zM224.5 221.9h1.1v1.1h-1.1zM234.1 226.1h1.1v1.1h-1.1zM233.3 224.6h1.1v1.1h-1.1zM231.9 224.0h1.1v1.1h-1.1zM230.3 223.5h1.1v1.1h-1.1zM238.2 227.3h1.1v1.1h-1.1zM237.0 225.6h1.1v1.1h-1.1zM236.2 223.8h1.1v1.1h-1.1zM240.8 223.3h1.1v1.1h-1.1zM239.3 222.9h1.1v1.1h-1.1zM238.9 221.3h1.1v1.1h-1.1zM237.7 219.5h1.1v1.1h-1.1zM237.2 218.2h1.1v1.1h-1.1zM239.1 220.6h1.1v1.1h-1.1zM239.5 220.4h1.1v1.1h-1.1zM240.1 220.4h1.1v1.1h-1.1zM239.1 220.4h1.1v1.1h-1.1zM238.6 218.4h1.1v1.1h-1.1zM237.6 217.1h1.1v1.1h-1.1zM237.6 216.1h1.1v1.1h-1.1zM236.6 215.7h1.1v1.1h-1.1zM244.0 222.4h1.1v1.1h-1.1zM243.1 220.6h1.1v1.1h-1.1zM240.9 219.6h1.1v1.1h-1.1zM240.8 218.6h1.1v1.1h-1.1zM244.0 221.8h1.1v1.1h-1.1zM244.3 221.6h1.1v1.1h-1.1zM244.6 221.2h1.1v1.1h-1.1zM245.2 215.1h1.1v1.1h-1.1zM243.9 213.8h1.1v1.1h-1.1zM244.0 212.1h1.1v1.1h-1.1zM242.4 210.3h1.1v1.1h-1.1zM244.3 213.0h1.1v1.1h-1.1zM244.9 212.9h1.1v1.1h-1.1zM245.5 212.9h1.1v1.1h-1.1zM248.2 220.0h1.1v1.1h-1.1zM247.5 219.1h1.1v1.1h-1.1zM247.2 217.3h1.1v1.1h-1.1zM247.4 216.0h1.1v1.1h-1.1zM245.7 215.2h1.1v1.1h-1.1zM250.4 219.2h1.1v1.1h-1.1zM249.6 218.6h1.1v1.1h-1.1zM249.9 217.1h1.1v1.1h-1.1zM249.4 215.0h1.1v1.1h-1.1zM248.6 213.7h1.1v1.1h-1.1zM250.6 217.8h1.1v1.1h-1.1zM251.1 217.9h1.1v1.1h-1.1zM251.6 217.8h1.1v1.1h-1.1zM254.1 213.4h1.1v1.1h-1.1zM252.5 212.0h1.1v1.1h-1.1zM252.1 210.4h1.1v1.1h-1.1zM252.4 209.0h1.1v1.1h-1.1zM255.3 215.3h1.1v1.1h-1.1zM254.4 213.7h1.1v1.1h-1.1zM254.7 213.0h1.1v1.1h-1.1zM254.6 211.6h1.1v1.1h-1.1zM254.9 211.7h1.1v1.1h-1.1zM255.4 211.2h1.1v1.1h-1.1zM255.9 211.4h1.1v1.1h-1.1z" fill="#8cc86c"/>
<path d="M258.28 197.00 A50.00 50.00 0 0 1 278.00 200.83" fill="none" stroke="#1e1e22" stroke-width="4.2"/>
<path d="M259.24 197.00 A50.00 50.00 0 0 1 277.11 200.47" fill="none" stroke="#fff" stroke-width="1.2"/>
<path d="M280.86 202.13 A50.00 50.00 0 0 1 295.84 213.41" fill="none" stroke="#1e1e22" stroke-width="4.2"/>
<path d="M281.72 202.56 A50.00 50.00 0 0 1 295.19 212.71" fill="none" stroke="#fff" stroke-width="1.2"/>
<path d="M297.87 215.80 A50.00 50.00 0 0 1 305.90 230.21" fill="none" stroke="#1e1e22" stroke-width="4.2"/>
<path d="M298.47 216.56 A50.00 50.00 0 0 1 305.57 229.31" fill="none" stroke="#fff" stroke-width="1.2"/>
<path d="M306.86 233.20 A50.00 50.00 0 0 1 308.75 249.27" fill="none" stroke="#1e1e22" stroke-width="4.2"/>
<path d="M307.11 234.13 A50.00 50.00 0 0 1 308.78 248.31" fill="none" stroke="#fff" stroke-width="1.2"/>
<path d="M308.51 252.40 A50.00 50.00 0 0 1 304.40 267.52" fill="none" stroke="#1e1e22" stroke-width="4.2"/>
<path d="M308.39 253.35 A50.00 50.00 0 0 1 304.78 266.64" fill="none" stroke="#fff" stroke-width="1.2"/>
<path d="M303.02 270.34 A50.00 50.00 0 0 1 293.78 282.73" fill="none" stroke="#1e1e22" stroke-width="4.2"/>
<path d="M302.56 271.18 A50.00 50.00 0 0 1 294.46 282.05" fill="none" stroke="#fff" stroke-width="1.2"/>
<path d="M291.47 284.85 A50.00 50.00 0 0 1 278.83 292.81" fill="none" stroke="#1e1e22" stroke-width="4.2"/>
<path d="M290.73 285.47 A50.00 50.00 0 0 1 279.70 292.42" fill="none" stroke="#fff" stroke-width="1.2"/>
<path d="M275.91 293.98 A50.00 50.00 0 0 1 262.83 296.84" fill="none" stroke="#1e1e22" stroke-width="4.2"/>
<path d="M275.00 294.30 A50.00 50.00 0 0 1 263.79 296.75" fill="none" stroke="#fff" stroke-width="1.2"/>
<path d="M259.69 296.99 A50.00 50.00 0 0 1 246.91 295.56" fill="none" stroke="#1e1e22" stroke-width="4.2"/>
<path d="M258.73 297.00 A50.00 50.00 0 0 1 247.84 295.78" fill="none" stroke="#fff" stroke-width="1.2"/>
<path d="M243.88 294.72 A50.00 50.00 0 0 1 231.67 289.00" fill="none" stroke="#1e1e22" stroke-width="4.2"/>
<path d="M242.97 294.43 A50.00 50.00 0 0 1 232.48 289.51" fill="none" stroke="#fff" stroke-width="1.2"/>
<path d="M229.08 287.21 A50.00 50.00 0 0 1 220.00 278.54" fill="none" stroke="#1e1e22" stroke-width="4.2"/>
<path d="M228.32 286.63 A50.00 50.00 0 0 1 220.61 279.28" fill="none" stroke="#fff" stroke-width="1.2"/>
<path d="M218.10 276.04 A50.00 50.00 0 0 1 212.22 265.18" fill="none" stroke="#1e1e22" stroke-width="4.2"/>
<path d="M217.55 275.25 A50.00 50.00 0 0 1 212.58 266.07" fill="none" stroke="#fff" stroke-width="1.2"/>
<path d="M211.17 262.22 A50.00 50.00 0 0 1 208.89 249.98" fill="none" stroke="#1e1e22" stroke-width="4.2"/>
<path d="M210.89 261.30 A50.00 50.00 0 0 1 208.96 250.94" fill="none" stroke="#fff" stroke-width="1.2"/>
<path d="M208.80 246.84 A50.00 50.00 0 0 1 210.50 234.08" fill="none" stroke="#1e1e22" stroke-width="4.2"/>
<path d="M208.81 245.88 A50.00 50.00 0 0 1 210.26 235.01" fill="none" stroke="#fff" stroke-width="1.2"/>
<path d="M211.40 231.08 A50.00 50.00 0 0 1 215.87 221.37" fill="none" stroke="#1e1e22" stroke-width="4.2"/>
<path d="M211.72 230.17 A50.00 50.00 0 0 1 215.39 222.20" fill="none" stroke="#fff" stroke-width="1.2"/>
<path d="M217.56 218.72 A50.00 50.00 0 0 1 224.06 211.04" fill="none" stroke="#1e1e22" stroke-width="4.2"/>
<path d="M218.11 217.94 A50.00 50.00 0 0 1 223.38 211.71" fill="none" stroke="#fff" stroke-width="1.2"/>
<path d="M226.39 208.93 A50.00 50.00 0 0 1 234.39 203.36" fill="none" stroke="#1e1e22" stroke-width="4.2"/>
<path d="M227.12 208.31 A50.00 50.00 0 0 1 233.56 203.84" fill="none" stroke="#fff" stroke-width="1.2"/>
<path d="M237.18 201.92 A50.00 50.00 0 0 1 245.93 198.68" fill="none" stroke="#1e1e22" stroke-width="4.2"/>
<path d="M238.05 201.51 A50.00 50.00 0 0 1 245.01 198.94" fill="none" stroke="#fff" stroke-width="1.2"/>
<path d="M248.99 197.97 A50.00 50.00 0 0 1 255.14 197.13" fill="none" stroke="#1e1e22" stroke-width="4.2"/>
<path d="M249.93 197.79 A50.00 50.00 0 0 1 254.18 197.21" fill="none" stroke="#fff" stroke-width="1.2"/>
<text x="303.55" y="172.88" font-size="6.3" font-weight="bold" text-anchor="middle" fill="#1a1a1a" transform="rotate(11.0 273.19 172.88) scale(0.9 1)" dy="2.2">chr1</text>
<text x="338.03" y="186.69" font-size="6.3" font-weight="bold" text-anchor="middle" fill="#1a1a1a" transform="rotate(37.0 304.22 186.69) scale(0.9 1)" dy="2.2">chr2</text>
<text x="360.85" y="210.27" font-size="6.3" font-weight="bold" text-anchor="middle" fill="#1a1a1a" transform="rotate(60.9 324.76 210.27) scale(0.9 1)" dy="2.2">chr3</text>
<text x="370.87" y="238.18" font-size="6.3" font-weight="bold" text-anchor="middle" fill="#1a1a1a" transform="rotate(83.3 333.78 238.18) scale(0.9 1)" dy="2.2">chr4</text>
<text x="368.50" y="266.81" font-size="6.3" font-weight="bold" text-anchor="middle" fill="#1a1a1a" transform="rotate(105.2 331.65 266.81) scale(0.9 1)" dy="2.2">chr5</text>
<text x="354.80" y="292.14" font-size="6.3" font-weight="bold" text-anchor="middle" fill="#1a1a1a" transform="rotate(126.7 319.32 292.14) scale(0.9 1)" dy="2.2">chr6</text>
<text x="332.26" y="310.89" font-size="6.3" font-weight="bold" text-anchor="middle" fill="#1a1a1a" transform="rotate(147.8 299.03 310.89) scale(0.9 1)" dy="2.2">chr7</text>
<text x="305.45" y="320.76" font-size="6.3" font-weight="bold" text-anchor="middle" fill="#1a1a1a" transform="rotate(167.7 274.91 320.76) scale(0.9 1)" dy="2.2">chr8</text>
<text x="278.25" y="322.03" font-size="6.3" font-weight="bold" text-anchor="middle" fill="#1a1a1a" transform="rotate(186.4 250.43 322.03) scale(0.9 1)" dy="2.2">chr9</text>
<text x="251.95" y="315.36" font-size="6.3" font-weight="bold" text-anchor="middle" fill="#1a1a1a" transform="rotate(205.1 226.76 315.36) scale(0.9 1)" dy="2.2">chr10</text>
<text x="229.62" y="301.60" font-size="6.3" font-weight="bold" text-anchor="middle" fill="#1a1a1a" transform="rotate(223.7 206.66 301.60) scale(0.9 1)" dy="2.2">chr11</text>
<text x="213.77" y="282.93" font-size="6.3" font-weight="bold" text-anchor="middle" fill="#1a1a1a" transform="rotate(241.6 192.40 282.93) scale(0.9 1)" dy="2.2">chr12</text>
<text x="205.09" y="260.85" font-size="6.3" font-weight="bold" text-anchor="middle" fill="#1a1a1a" transform="rotate(259.4 184.58 260.85) scale(0.9 1)" dy="2.2">chr13</text>
<text x="204.40" y="237.04" font-size="6.3" font-weight="bold" text-anchor="middle" fill="#1a1a1a" transform="rotate(277.6 183.96 237.04) scale(0.9 1)" dy="2.2">chr14</text>
<text x="211.34" y="215.44" font-size="6.3" font-weight="bold" text-anchor="middle" fill="#1a1a1a" transform="rotate(294.7 190.21 215.44) scale(0.9 1)" dy="2.2">chr15</text>
<text x="223.49" y="198.25" font-size="6.3" font-weight="bold" text-anchor="middle" fill="#1a1a1a" transform="rotate(310.2 201.14 198.25) scale(0.9 1)" dy="2.2">chr16</text>
<text x="239.66" y="185.02" font-size="6.3" font-weight="bold" text-anchor="middle" fill="#1a1a1a" transform="rotate(325.2 215.69 185.02) scale(0.9 1)" dy="2.2">chr17</text>
<text x="258.50" y="176.17" font-size="6.3" font-weight="bold" text-anchor="middle" fill="#1a1a1a" transform="rotate(339.7 232.65 176.17) scale(0.9 1)" dy="2.2">chr18</text>
<text x="276.23" y="172.19" font-size="6.3" font-weight="bold" text-anchor="middle" fill="#1a1a1a" transform="rotate(352.2 248.61 172.19) scale(0.9 1)" dy="2.2">chr19</text>
<text x="257.80" y="249.60" font-size="7.4" font-weight="bold" font-style="italic" text-anchor="middle" fill="#1a1a1a">MLL-AF9</text>
<circle cx="158.5" cy="176.3" r="1.0" fill="#7a2a20"/>
<circle cx="158.5" cy="190.6" r="1.0" fill="#7cbf55"/>
<text x="167.50" y="179.30" font-size="6.60" font-weight="bold" text-anchor="start" fill="#1a1a1a">hyper</text>
<text x="167.50" y="193.60" font-size="6.60" font-weight="bold" text-anchor="start" fill="#1a1a1a">hypo</text>
<rect x="359.00" y="200.30" width="52.50" height="16.50" fill="#dcdcdc" stroke="none" stroke-width="0.80"/>
<rect x="413.10" y="200.30" width="51.50" height="16.50" fill="#dcdcdc" stroke="none" stroke-width="0.80"/>
<rect x="466.20" y="200.30" width="54.60" height="16.50" fill="#dcdcdc" stroke="none" stroke-width="0.80"/>
<rect x="359.00" y="234.00" width="52.50" height="16.60" fill="#dcdcdc" stroke="none" stroke-width="0.80"/>
<rect x="413.10" y="234.00" width="51.50" height="16.60" fill="#dcdcdc" stroke="none" stroke-width="0.80"/>
<rect x="466.20" y="234.00" width="54.60" height="16.60" fill="#dcdcdc" stroke="none" stroke-width="0.80"/>
<line x1="359.00" y1="182.60" x2="520.00" y2="182.60" stroke="#111" stroke-width="1.60"/>
<line x1="359.00" y1="200.30" x2="520.00" y2="200.30" stroke="#111" stroke-width="1.60"/>
<line x1="359.00" y1="250.60" x2="520.00" y2="250.60" stroke="#111" stroke-width="1.60"/>
<line x1="412.30" y1="182.60" x2="412.30" y2="250.60" stroke="#111" stroke-width="0.90"/>
<line x1="465.40" y1="182.60" x2="465.40" y2="250.60" stroke="#111" stroke-width="0.90"/>
<text x="438.85" y="189.00" font-size="5.20" font-weight="bold" text-anchor="middle" font-style="italic" fill="#1a1a1a" class="t">MLL-AF9</text>
<text x="492.20" y="189.00" font-size="5.20" font-weight="bold" text-anchor="middle" font-style="italic" fill="#1a1a1a" class="t">MLL-AF9</text>
<text x="438.85" y="196.60" font-size="5.20" font-weight="bold" text-anchor="middle" fill="#1a1a1a" class="t">hypomethylated</text>
<text x="492.20" y="196.60" font-size="5.20" font-weight="bold" text-anchor="middle" fill="#1a1a1a" class="t">hypermethylated</text>
<text x="385.65" y="207.00" font-size="5.00" font-weight="normal" text-anchor="middle" fill="#1a1a1a" class="t" textLength="48" lengthAdjust="spacing">Methylation in TKO +</text>
<text class="t" x="385.65" y="214.00" font-size="5.0" text-anchor="middle" fill="#1a1a1a"><tspan font-style="italic">Dnmt3b</tspan> &gt; 0</text>
<text x="438.85" y="211.50" font-size="5.00" font-weight="normal" text-anchor="middle" fill="#1a1a1a" class="t">33,076</text>
<text x="492.20" y="211.50" font-size="5.00" font-weight="normal" text-anchor="middle" fill="#1a1a1a" class="t">180,039</text>
<text x="385.65" y="224.00" font-size="5.00" font-weight="normal" text-anchor="middle" fill="#1a1a1a" class="t" textLength="48" lengthAdjust="spacing">Methylation in TKO +</text>
<text class="t" x="385.65" y="231.00" font-size="5.0" text-anchor="middle" fill="#1a1a1a"><tspan font-style="italic">Dnmt3b</tspan> &gt; 20</text>
<text x="438.85" y="228.50" font-size="5.00" font-weight="normal" text-anchor="middle" fill="#1a1a1a" class="t">9,862</text>
<text x="492.20" y="228.50" font-size="5.00" font-weight="normal" text-anchor="middle" fill="#1a1a1a" class="t">55,386</text>
<text x="385.65" y="241.20" font-size="5.00" font-weight="normal" text-anchor="middle" fill="#1a1a1a" class="t" textLength="48" lengthAdjust="spacing">Methylation in TKO +</text>
<text class="t" x="385.65" y="248.00" font-size="5.0" text-anchor="middle" fill="#1a1a1a"><tspan font-style="italic">Dnmt3b</tspan> &gt; 40</text>
<text x="438.85" y="245.60" font-size="5.00" font-weight="normal" text-anchor="middle" fill="#1a1a1a" class="t">2,062</text>
<text x="492.20" y="245.60" font-size="5.00" font-weight="normal" text-anchor="middle" fill="#1a1a1a" class="t">12,336</text>
<rect x="389.20" y="288.50" width="117.50" height="106.90" fill="none" stroke="#1c2440" stroke-width="0.90"/>
<rect x="445.70" y="290.50" width="54.70" height="53.70" fill="none" stroke="#111" stroke-width="0.90"/>
<line x1="387.00" y1="289.80" x2="389.20" y2="289.80" stroke="#444" stroke-width="0.60"/>
<text x="385.40" y="289.80" font-size="6.40" font-weight="bold" text-anchor="middle" transform="rotate(-90.00 385.40 289.80)" fill="#1a1a1a">100</text>
<line x1="387.00" y1="318.90" x2="389.20" y2="318.90" stroke="#444" stroke-width="0.60"/>
<text x="385.40" y="318.90" font-size="6.40" font-weight="bold" text-anchor="middle" transform="rotate(-90.00 385.40 318.90)" fill="#1a1a1a">50</text>
<line x1="387.00" y1="348.00" x2="389.20" y2="348.00" stroke="#444" stroke-width="0.60"/>
<text x="385.40" y="348.00" font-size="6.40" font-weight="bold" text-anchor="middle" transform="rotate(-90.00 385.40 348.00)" fill="#1a1a1a">0</text>
<line x1="387.00" y1="377.10" x2="389.20" y2="377.10" stroke="#444" stroke-width="0.60"/>
<text x="385.40" y="377.10" font-size="6.40" font-weight="bold" text-anchor="middle" transform="rotate(-90.00 385.40 377.10)" fill="#1a1a1a">−50</text>
<line x1="404.90" y1="395.40" x2="404.90" y2="397.40" stroke="#444" stroke-width="0.60"/>
<text x="404.90" y="403.80" font-size="6.40" font-weight="bold" text-anchor="middle" fill="#1a1a1a">−50</text>
<line x1="440.40" y1="395.40" x2="440.40" y2="397.40" stroke="#444" stroke-width="0.60"/>
<text x="440.40" y="403.80" font-size="6.40" font-weight="bold" text-anchor="middle" fill="#1a1a1a">0</text>
<line x1="475.90" y1="395.40" x2="475.90" y2="397.40" stroke="#444" stroke-width="0.60"/>
<text x="475.90" y="403.80" font-size="6.40" font-weight="bold" text-anchor="middle" fill="#1a1a1a">50</text>
<text x="449.20" y="413.28" font-size="6.60" font-weight="bold" text-anchor="middle" textLength="90.50" lengthAdjust="spacingAndGlyphs" fill="#1a1a1a">differentially methylated CpGs</text>
<text x="449.50" y="420.38" font-size="6.60" font-weight="bold" text-anchor="middle" textLength="64.50" lengthAdjust="spacingAndGlyphs" fill="#1a1a1a">in <tspan font-style="italic">MLL-AF9</tspan> leukemias</text>
<text x="368.78" y="339.70" font-size="6.60" font-weight="bold" text-anchor="middle" textLength="90.00" lengthAdjust="spacingAndGlyphs" transform="rotate(-90.00 368.78 339.70)" fill="#1a1a1a">differentially methylated CpGs</text>
<text x="376.68" y="340.50" font-size="6.60" font-weight="bold" text-anchor="middle" textLength="71.00" lengthAdjust="spacingAndGlyphs" transform="rotate(-90.00 376.68 340.50)" fill="#1a1a1a">in <tspan font-style="italic">Myc-Bcl2</tspan> leukemias</text>
<line x1="35.50" y1="371.60" x2="35.50" y2="512.90" stroke="#555" stroke-width="0.90"/>
<line x1="32.30" y1="512.50" x2="35.50" y2="512.50" stroke="#555" stroke-width="0.90"/>
<text x="31.20" y="514.80" font-size="6.40" font-weight="bold" text-anchor="end" fill="#1a1a1a">0</text>
<line x1="32.30" y1="484.40" x2="35.50" y2="484.40" stroke="#555" stroke-width="0.90"/>
<text x="31.20" y="486.70" font-size="6.40" font-weight="bold" text-anchor="end" fill="#1a1a1a">20</text>
<line x1="32.30" y1="456.30" x2="35.50" y2="456.30" stroke="#555" stroke-width="0.90"/>
<text x="31.20" y="458.60" font-size="6.40" font-weight="bold" text-anchor="end" fill="#1a1a1a">40</text>
<line x1="32.30" y1="428.20" x2="35.50" y2="428.20" stroke="#555" stroke-width="0.90"/>
<text x="31.20" y="430.50" font-size="6.40" font-weight="bold" text-anchor="end" fill="#1a1a1a">60</text>
<line x1="32.30" y1="400.10" x2="35.50" y2="400.10" stroke="#555" stroke-width="0.90"/>
<text x="31.20" y="402.40" font-size="6.40" font-weight="bold" text-anchor="end" fill="#1a1a1a">80</text>
<line x1="32.30" y1="372.00" x2="35.50" y2="372.00" stroke="#555" stroke-width="0.90"/>
<text x="31.20" y="374.30" font-size="6.40" font-weight="bold" text-anchor="end" fill="#1a1a1a">100</text>
<rect x="44.80" y="456.02" width="35.20" height="56.48" fill="#2f3591" stroke="#1f2a4a" stroke-width="0.80"/>
<rect x="44.80" y="413.45" width="35.20" height="42.57" fill="#3b6db5" stroke="#1f2a4a" stroke-width="0.80"/>
<rect x="44.80" y="408.53" width="35.20" height="4.92" fill="#5aa5da" stroke="#1f2a4a" stroke-width="0.80"/>
<rect x="44.80" y="372.00" width="35.20" height="36.53" fill="#8cc7df" stroke="#1f2a4a" stroke-width="0.80"/>
<rect x="97.50" y="479.06" width="35.50" height="33.44" fill="#2f3591" stroke="#1f2a4a" stroke-width="0.80"/>
<rect x="97.50" y="424.97" width="35.50" height="54.09" fill="#3b6db5" stroke="#1f2a4a" stroke-width="0.80"/>
<rect x="97.50" y="421.03" width="35.50" height="3.93" fill="#5aa5da" stroke="#1f2a4a" stroke-width="0.80"/>
<rect x="97.50" y="372.00" width="35.50" height="49.03" fill="#8cc7df" stroke="#1f2a4a" stroke-width="0.80"/>
<line x1="80.00" y1="456.02" x2="97.50" y2="479.06" stroke="#222" stroke-width="1.10" stroke-dasharray="2.8 1.6"/>
<line x1="80.00" y1="413.45" x2="97.50" y2="424.97" stroke="#222" stroke-width="1.10" stroke-dasharray="2.8 1.6"/>
<line x1="80.00" y1="408.53" x2="97.50" y2="421.03" stroke="#222" stroke-width="1.10" stroke-dasharray="2.8 1.6"/>
<text x="90.00" y="359.50" font-size="7.3" font-weight="bold" font-style="italic" text-anchor="middle" fill="#1a1a1a">Myc-Bcl2</text>
<text x="62.40" y="526.20" font-size="6.00" font-weight="bold" text-anchor="middle" fill="#1a1a1a">covered</text>
<text x="115.25" y="522.80" font-size="6.00" font-weight="bold" text-anchor="middle" fill="#1a1a1a">differentially</text>
<text x="115.25" y="530.60" font-size="6.00" font-weight="bold" text-anchor="middle" fill="#1a1a1a">methylated</text>
<text x="11.34" y="440.30" font-size="7.60" font-weight="bold" text-anchor="middle" textLength="94.00" lengthAdjust="spacingAndGlyphs" transform="rotate(-90.00 11.34 440.30)" fill="#1a1a1a">Distribution of CpGs [%]</text>
<line x1="240.20" y1="371.40" x2="240.20" y2="511.90" stroke="#555" stroke-width="0.90"/>
<line x1="237.00" y1="511.50" x2="240.20" y2="511.50" stroke="#555" stroke-width="0.90"/>
<text x="235.90" y="513.80" font-size="6.40" font-weight="bold" text-anchor="end" fill="#1a1a1a">0</text>
<line x1="237.00" y1="483.56" x2="240.20" y2="483.56" stroke="#555" stroke-width="0.90"/>
<text x="235.90" y="485.86" font-size="6.40" font-weight="bold" text-anchor="end" fill="#1a1a1a">20</text>
<line x1="237.00" y1="455.62" x2="240.20" y2="455.62" stroke="#555" stroke-width="0.90"/>
<text x="235.90" y="457.92" font-size="6.40" font-weight="bold" text-anchor="end" fill="#1a1a1a">40</text>
<line x1="237.00" y1="427.68" x2="240.20" y2="427.68" stroke="#555" stroke-width="0.90"/>
<text x="235.90" y="429.98" font-size="6.40" font-weight="bold" text-anchor="end" fill="#1a1a1a">60</text>
<line x1="237.00" y1="399.74" x2="240.20" y2="399.74" stroke="#555" stroke-width="0.90"/>
<text x="235.90" y="402.04" font-size="6.40" font-weight="bold" text-anchor="end" fill="#1a1a1a">80</text>
<line x1="237.00" y1="371.80" x2="240.20" y2="371.80" stroke="#555" stroke-width="0.90"/>
<text x="235.90" y="374.10" font-size="6.40" font-weight="bold" text-anchor="end" fill="#1a1a1a">100</text>
<rect x="250.40" y="449.33" width="35.90" height="62.17" fill="#2f3591" stroke="#1f2a4a" stroke-width="0.80"/>
<rect x="250.40" y="410.92" width="35.90" height="38.42" fill="#3b6db5" stroke="#1f2a4a" stroke-width="0.80"/>
<rect x="250.40" y="405.61" width="35.90" height="5.31" fill="#5aa5da" stroke="#1f2a4a" stroke-width="0.80"/>
<rect x="250.40" y="371.80" width="35.90" height="33.81" fill="#8cc7df" stroke="#1f2a4a" stroke-width="0.80"/>
<rect x="304.00" y="490.13" width="35.00" height="21.37" fill="#2f3591" stroke="#1f2a4a" stroke-width="0.80"/>
<rect x="304.00" y="429.36" width="35.00" height="60.77" fill="#3b6db5" stroke="#1f2a4a" stroke-width="0.80"/>
<rect x="304.00" y="426.00" width="35.00" height="3.35" fill="#5aa5da" stroke="#1f2a4a" stroke-width="0.80"/>
<rect x="304.00" y="371.80" width="35.00" height="54.20" fill="#8cc7df" stroke="#1f2a4a" stroke-width="0.80"/>
<line x1="286.30" y1="449.33" x2="304.00" y2="490.13" stroke="#222" stroke-width="1.10" stroke-dasharray="2.8 1.6"/>
<line x1="286.30" y1="410.92" x2="304.00" y2="429.36" stroke="#222" stroke-width="1.10" stroke-dasharray="2.8 1.6"/>
<line x1="286.30" y1="405.61" x2="304.00" y2="426.00" stroke="#222" stroke-width="1.10" stroke-dasharray="2.8 1.6"/>
<text x="295.50" y="359.50" font-size="7.3" font-weight="bold" font-style="italic" text-anchor="middle" fill="#1a1a1a">MLL-AF9</text>
<text x="268.35" y="526.20" font-size="6.00" font-weight="bold" text-anchor="middle" fill="#1a1a1a">covered</text>
<text x="321.50" y="522.80" font-size="6.00" font-weight="bold" text-anchor="middle" fill="#1a1a1a">differentially</text>
<text x="321.50" y="530.60" font-size="6.00" font-weight="bold" text-anchor="middle" fill="#1a1a1a">methylated</text>
<text x="217.14" y="440.50" font-size="7.60" font-weight="bold" text-anchor="middle" textLength="93.60" lengthAdjust="spacingAndGlyphs" transform="rotate(-90.00 217.14 440.50)" fill="#1a1a1a">Distribution of CpGs [%]</text>
<rect x="146.40" y="364.20" width="6.60" height="5.20" fill="#2f3591" stroke="#1f2a4a" stroke-width="0.70"/>
<text x="160.00" y="369.10" font-size="6.40" font-weight="bold" text-anchor="start" fill="#1a1a1a">Promoter</text>
<rect x="146.40" y="374.55" width="6.60" height="5.20" fill="#3b6db5" stroke="#1f2a4a" stroke-width="0.70"/>
<text x="160.00" y="379.45" font-size="6.40" font-weight="bold" text-anchor="start" fill="#1a1a1a">Gene body</text>
<rect x="146.40" y="384.90" width="6.60" height="5.20" fill="#5aa5da" stroke="#1f2a4a" stroke-width="0.70"/>
<text x="160.00" y="389.80" font-size="6.40" font-weight="bold" text-anchor="start" fill="#1a1a1a">Overlap P/GB</text>
<rect x="146.40" y="395.25" width="6.60" height="5.20" fill="#8cc7df" stroke="#1f2a4a" stroke-width="0.70"/>
<text x="160.00" y="400.15" font-size="6.40" font-weight="bold" text-anchor="start" fill="#1a1a1a">Other</text>
<line x1="46.60" y1="564.70" x2="46.60" y2="647.70" stroke="#555" stroke-width="0.90"/>
<line x1="43.60" y1="565.00" x2="46.60" y2="565.00" stroke="#555" stroke-width="0.90"/>
<text x="42.80" y="567.20" font-size="6.20" font-weight="bold" text-anchor="end" fill="#1a1a1a">50</text>
<line x1="43.60" y1="585.60" x2="46.60" y2="585.60" stroke="#555" stroke-width="0.90"/>
<text x="42.80" y="587.80" font-size="6.20" font-weight="bold" text-anchor="end" fill="#1a1a1a">0</text>
<line x1="43.60" y1="606.20" x2="46.60" y2="606.20" stroke="#555" stroke-width="0.90"/>
<text x="42.80" y="608.40" font-size="6.20" font-weight="bold" text-anchor="end" fill="#1a1a1a">-50</text>
<line x1="43.60" y1="626.80" x2="46.60" y2="626.80" stroke="#555" stroke-width="0.90"/>
<text x="42.80" y="629.00" font-size="6.20" font-weight="bold" text-anchor="end" fill="#1a1a1a">-100</text>
<line x1="43.60" y1="647.40" x2="46.60" y2="647.40" stroke="#555" stroke-width="0.90"/>
<text x="42.80" y="649.60" font-size="6.20" font-weight="bold" text-anchor="end" fill="#1a1a1a">-150</text>
<text x="18.12" y="606.80" font-size="7.00" font-weight="bold" text-anchor="middle" textLength="71.50" lengthAdjust="spacingAndGlyphs" transform="rotate(-90.00 18.12 606.80)" fill="#1a1a1a">Observed - expected</text>
<text x="26.62" y="605.70" font-size="7.00" font-weight="bold" text-anchor="middle" textLength="80.00" lengthAdjust="spacingAndGlyphs" transform="rotate(-90.00 26.62 605.70)" fill="#1a1a1a">region centers in DMRs</text>
<rect x="49.10" y="585.50" width="8.20" height="52.80" fill="#d2342b" stroke="#6a1414" stroke-width="0.80"/>
<text x="53.20" y="647.90" font-size="7.00" font-weight="bold" text-anchor="middle" fill="#1a1a1a" letter-spacing="0.5">***</text>
<text x="55.40" y="649.50" font-size="6.3" font-weight="bold" text-anchor="end" fill="#1a1a1a" transform="rotate(-90 55.40 649.50)">NELFe_CH12</text>
<rect x="61.42" y="585.50" width="8.20" height="49.50" fill="#d2342b" stroke="#6a1414" stroke-width="0.80"/>
<text x="65.52" y="644.60" font-size="7.00" font-weight="bold" text-anchor="middle" fill="#1a1a1a" letter-spacing="0.5">***</text>
<text x="67.72" y="649.50" font-size="6.3" font-weight="bold" text-anchor="end" fill="#1a1a1a" transform="rotate(-90 67.72 649.50)">Mxi1_CH12</text>
<rect x="73.74" y="585.50" width="8.20" height="48.80" fill="#d2342b" stroke="#6a1414" stroke-width="0.80"/>
<text x="77.84" y="643.90" font-size="7.00" font-weight="bold" text-anchor="middle" fill="#1a1a1a" letter-spacing="0.5">***</text>
<text x="80.04" y="649.50" font-size="6.3" font-weight="bold" text-anchor="end" fill="#1a1a1a" transform="rotate(-90 80.04 649.50)">UBF_CH12</text>
<rect x="86.06" y="585.50" width="8.20" height="47.00" fill="#d2342b" stroke="#6a1414" stroke-width="0.80"/>
<text x="90.16" y="642.10" font-size="7.00" font-weight="bold" text-anchor="middle" fill="#1a1a1a" letter-spacing="0.5">***</text>
<text x="92.36" y="649.50" font-size="6.3" font-weight="bold" text-anchor="end" fill="#1a1a1a" transform="rotate(-90 92.36 649.50)">HCFC1_CH12</text>
<rect x="98.38" y="585.50" width="8.20" height="46.00" fill="#d2342b" stroke="#6a1414" stroke-width="0.80"/>
<text x="102.48" y="641.10" font-size="7.00" font-weight="bold" text-anchor="middle" fill="#1a1a1a" letter-spacing="0.5">***</text>
<text x="104.68" y="649.50" font-size="6.3" font-weight="bold" text-anchor="end" fill="#1a1a1a" transform="rotate(-90 104.68 649.50)">HCFC1_ES-E14</text>
<rect x="110.70" y="585.50" width="8.20" height="44.50" fill="#d2342b" stroke="#6a1414" stroke-width="0.80"/>
<text x="114.80" y="639.60" font-size="7.00" font-weight="bold" text-anchor="middle" fill="#1a1a1a" letter-spacing="0.5">***</text>
<text x="117.00" y="649.50" font-size="6.3" font-weight="bold" text-anchor="end" fill="#1a1a1a" transform="rotate(-90 117.00 649.50)">SIN3A_CH12</text>
<rect x="123.02" y="585.50" width="8.20" height="43.30" fill="#d2342b" stroke="#6a1414" stroke-width="0.80"/>
<text x="127.12" y="638.40" font-size="7.00" font-weight="bold" text-anchor="middle" fill="#1a1a1a" letter-spacing="0.5">***</text>
<text x="129.32" y="649.50" font-size="6.3" font-weight="bold" text-anchor="end" fill="#1a1a1a" transform="rotate(-90 129.32 649.50)">Max_CH12</text>
<rect x="135.34" y="585.50" width="8.20" height="42.80" fill="#d2342b" stroke="#6a1414" stroke-width="0.80"/>
<text x="139.44" y="637.90" font-size="7.00" font-weight="bold" text-anchor="middle" fill="#1a1a1a" letter-spacing="0.5">***</text>
<text x="141.64" y="649.50" font-size="6.3" font-weight="bold" text-anchor="end" fill="#1a1a1a" transform="rotate(-90 141.64 649.50)">NELFe_MEL</text>
<rect x="147.66" y="585.50" width="8.20" height="40.80" fill="#d2342b" stroke="#6a1414" stroke-width="0.80"/>
<text x="151.76" y="635.90" font-size="7.00" font-weight="bold" text-anchor="middle" fill="#1a1a1a" letter-spacing="0.5">***</text>
<text x="153.96" y="649.50" font-size="6.3" font-weight="bold" text-anchor="end" fill="#1a1a1a" transform="rotate(-90 153.96 649.50)">CTCF_MEL</text>
<rect x="159.98" y="585.50" width="8.20" height="39.00" fill="#d2342b" stroke="#6a1414" stroke-width="0.80"/>
<text x="164.08" y="634.10" font-size="7.00" font-weight="bold" text-anchor="middle" fill="#1a1a1a" letter-spacing="0.5">***</text>
<text x="166.28" y="649.50" font-size="6.3" font-weight="bold" text-anchor="end" fill="#1a1a1a" transform="rotate(-90 166.28 649.50)">MAZ_CH12</text>
<line x1="232.60" y1="564.70" x2="232.60" y2="647.70" stroke="#555" stroke-width="0.90"/>
<line x1="229.60" y1="565.00" x2="232.60" y2="565.00" stroke="#555" stroke-width="0.90"/>
<text x="228.80" y="567.20" font-size="6.20" font-weight="bold" text-anchor="end" fill="#1a1a1a">50</text>
<line x1="229.60" y1="585.60" x2="232.60" y2="585.60" stroke="#555" stroke-width="0.90"/>
<text x="228.80" y="587.80" font-size="6.20" font-weight="bold" text-anchor="end" fill="#1a1a1a">0</text>
<line x1="229.60" y1="606.20" x2="232.60" y2="606.20" stroke="#555" stroke-width="0.90"/>
<text x="228.80" y="608.40" font-size="6.20" font-weight="bold" text-anchor="end" fill="#1a1a1a">-50</text>
<line x1="229.60" y1="626.80" x2="232.60" y2="626.80" stroke="#555" stroke-width="0.90"/>
<text x="228.80" y="629.00" font-size="6.20" font-weight="bold" text-anchor="end" fill="#1a1a1a">-100</text>
<line x1="229.60" y1="647.40" x2="232.60" y2="647.40" stroke="#555" stroke-width="0.90"/>
<text x="228.80" y="649.60" font-size="6.20" font-weight="bold" text-anchor="end" fill="#1a1a1a">-150</text>
<text x="205.52" y="607.40" font-size="7.00" font-weight="bold" text-anchor="middle" textLength="70.30" lengthAdjust="spacingAndGlyphs" transform="rotate(-90.00 205.52 607.40)" fill="#1a1a1a">Observed - expected</text>
<text x="213.62" y="606.90" font-size="7.00" font-weight="bold" text-anchor="middle" textLength="79.50" lengthAdjust="spacingAndGlyphs" transform="rotate(-90.00 213.62 606.90)" fill="#1a1a1a">region centers in DMRs</text>
<rect x="236.30" y="585.50" width="11.70" height="52.80" fill="#d2342b" stroke="#6a1414" stroke-width="0.80"/>
<text x="242.15" y="647.90" font-size="7.00" font-weight="bold" text-anchor="middle" fill="#1a1a1a" letter-spacing="0.5">***</text>
<text x="244.35" y="651.50" font-size="6.3" font-weight="bold" text-anchor="end" fill="#1a1a1a" transform="rotate(-90 244.35 651.50)">CH12</text>
<rect x="253.87" y="585.50" width="11.70" height="44.80" fill="#d2342b" stroke="#6a1414" stroke-width="0.80"/>
<text x="259.72" y="639.90" font-size="7.00" font-weight="bold" text-anchor="middle" fill="#1a1a1a" letter-spacing="0.5">***</text>
<text x="261.92" y="651.50" font-size="6.3" font-weight="bold" text-anchor="end" fill="#1a1a1a" transform="rotate(-90 261.92 651.50)">MEL</text>
<rect x="271.44" y="585.50" width="11.70" height="42.00" fill="#d2342b" stroke="#6a1414" stroke-width="0.80"/>
<text x="277.29" y="637.10" font-size="7.00" font-weight="bold" text-anchor="middle" fill="#1a1a1a" letter-spacing="0.5">***</text>
<text x="279.49" y="651.50" font-size="6.3" font-weight="bold" text-anchor="end" fill="#1a1a1a" transform="rotate(-90 279.49 651.50)">BMDM</text>
<rect x="289.01" y="585.50" width="11.70" height="40.30" fill="#d2342b" stroke="#6a1414" stroke-width="0.80"/>
<text x="294.86" y="635.40" font-size="7.00" font-weight="bold" text-anchor="middle" fill="#1a1a1a" letter-spacing="0.5">***</text>
<text x="297.06" y="651.50" font-size="6.3" font-weight="bold" text-anchor="end" fill="#1a1a1a" transform="rotate(-90 297.06 651.50)">MEF</text>
<rect x="306.58" y="585.50" width="11.70" height="38.00" fill="#d2342b" stroke="#6a1414" stroke-width="0.80"/>
<text x="312.43" y="633.10" font-size="7.00" font-weight="bold" text-anchor="middle" fill="#1a1a1a" letter-spacing="0.5">***</text>
<text x="314.63" y="651.50" font-size="6.3" font-weight="bold" text-anchor="end" fill="#1a1a1a" transform="rotate(-90 314.63 651.50)">bone marrow</text>
<rect x="324.15" y="585.50" width="11.70" height="32.00" fill="#d2342b" stroke="#6a1414" stroke-width="0.80"/>
<text x="330.00" y="627.10" font-size="7.00" font-weight="bold" text-anchor="middle" fill="#1a1a1a" letter-spacing="0.5">***</text>
<text x="332.20" y="651.50" font-size="6.3" font-weight="bold" text-anchor="end" fill="#1a1a1a" transform="rotate(-90 332.20 651.50)">mESC</text>
<rect x="341.72" y="585.50" width="11.70" height="26.30" fill="#d2342b" stroke="#6a1414" stroke-width="0.80"/>
<text x="347.57" y="621.40" font-size="7.00" font-weight="bold" text-anchor="middle" fill="#1a1a1a" letter-spacing="0.5">***</text>
<text x="349.77" y="651.50" font-size="6.3" font-weight="bold" text-anchor="end" fill="#1a1a1a" transform="rotate(-90 349.77 651.50)">spleen</text>
</svg>
</body></html>
